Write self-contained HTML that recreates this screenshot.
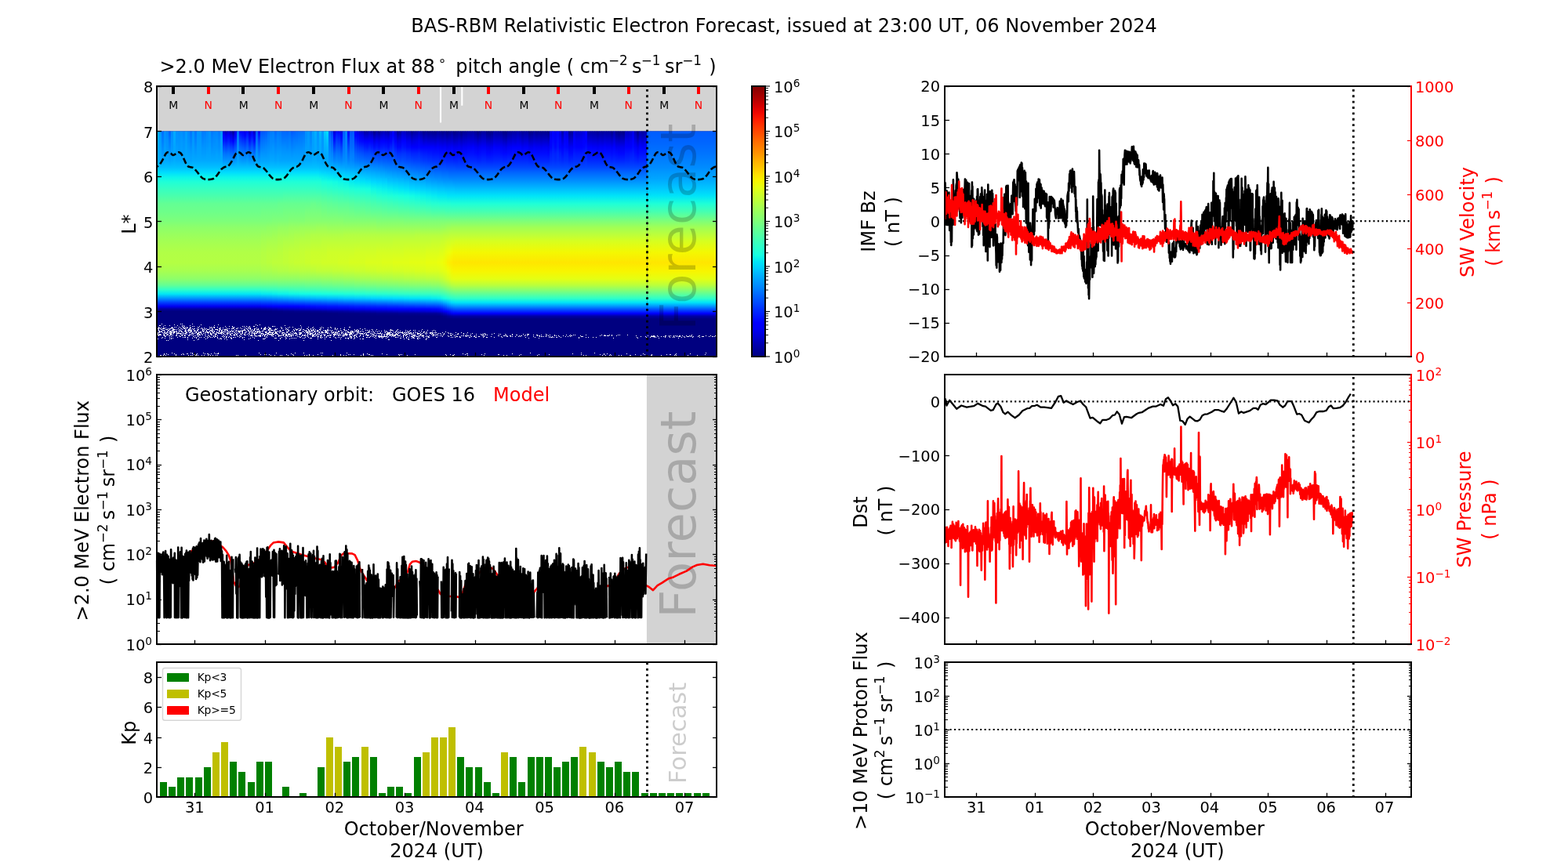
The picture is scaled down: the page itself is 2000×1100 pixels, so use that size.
<!DOCTYPE html>
<html lang="en"><head><meta charset="utf-8">
<title>BAS-RBM Relativistic Electron Forecast</title>
<style>
html,body{margin:0;padding:0;background:#fff;}
body{width:2000px;height:1100px;overflow:hidden;}
svg{display:block;font-family:"DejaVu Sans","Liberation Sans",sans-serif;}
svg path{fill:none;}
svg text{stroke:none;}
</style></head><body>
<svg width="2000" height="1100" viewBox="0 0 2000 1100">
<defs>
<linearGradient id="h0" x2="0" y2="1"><stop offset="0.0043" stop-color="#0cf4eb"/><stop offset="0.0304" stop-color="#1fffd7"/><stop offset="0.0696" stop-color="#36ffc1"/><stop offset="0.1087" stop-color="#49ffad"/><stop offset="0.1522" stop-color="#63ff94"/><stop offset="0.1957" stop-color="#6dff8a"/><stop offset="0.2478" stop-color="#7dff7a"/><stop offset="0.2826" stop-color="#8dff6a"/><stop offset="0.3261" stop-color="#9aff5d"/><stop offset="0.3609" stop-color="#a4ff53"/><stop offset="0.4217" stop-color="#b1ff46"/><stop offset="0.4783" stop-color="#b4ff43"/><stop offset="0.5261" stop-color="#a7ff50"/><stop offset="0.5696" stop-color="#8dff6a"/><stop offset="0.6043" stop-color="#63ff94"/><stop offset="0.6287" stop-color="#30ffc7"/><stop offset="0.6522" stop-color="#02e8f4"/><stop offset="0.677" stop-color="#0094ff"/><stop offset="0.7" stop-color="#0040ff"/><stop offset="0.7217" stop-color="#0000f1"/><stop offset="0.737" stop-color="#00009f"/><stop offset="0.7491" stop-color="#000080"/><stop offset="0.7609" stop-color="#000080"/><stop offset="0.7761" stop-color="#000080"/><stop offset="0.7922" stop-color="#000080"/><stop offset="0.8043" stop-color="#000080"/></linearGradient>
<linearGradient id="h1" x2="0" y2="1"><stop offset="0.0043" stop-color="#0cf4eb"/><stop offset="0.0304" stop-color="#1fffd7"/><stop offset="0.0696" stop-color="#36ffc1"/><stop offset="0.1087" stop-color="#49ffad"/><stop offset="0.1522" stop-color="#63ff94"/><stop offset="0.1957" stop-color="#6dff8a"/><stop offset="0.2478" stop-color="#7dff7a"/><stop offset="0.2826" stop-color="#8dff6a"/><stop offset="0.3261" stop-color="#9aff5d"/><stop offset="0.3609" stop-color="#a4ff53"/><stop offset="0.4217" stop-color="#b1ff46"/><stop offset="0.4783" stop-color="#b4ff43"/><stop offset="0.5261" stop-color="#a7ff50"/><stop offset="0.5696" stop-color="#8dff6a"/><stop offset="0.6043" stop-color="#63ff94"/><stop offset="0.6287" stop-color="#30ffc7"/><stop offset="0.6522" stop-color="#02e8f4"/><stop offset="0.677" stop-color="#0094ff"/><stop offset="0.7" stop-color="#0040ff"/><stop offset="0.7217" stop-color="#0000f1"/><stop offset="0.737" stop-color="#00009f"/><stop offset="0.7491" stop-color="#000080"/><stop offset="0.7609" stop-color="#000080"/><stop offset="0.7761" stop-color="#000080"/><stop offset="0.7922" stop-color="#000080"/><stop offset="0.8043" stop-color="#000080"/></linearGradient>
<linearGradient id="h2" x2="0" y2="1"><stop offset="0.0043" stop-color="#0cf4eb"/><stop offset="0.0304" stop-color="#1fffd7"/><stop offset="0.0696" stop-color="#36ffc1"/><stop offset="0.1087" stop-color="#49ffad"/><stop offset="0.1522" stop-color="#63ff94"/><stop offset="0.1957" stop-color="#6dff8a"/><stop offset="0.2478" stop-color="#7dff7a"/><stop offset="0.2826" stop-color="#8dff6a"/><stop offset="0.3261" stop-color="#9aff5d"/><stop offset="0.3609" stop-color="#a4ff53"/><stop offset="0.4217" stop-color="#b1ff46"/><stop offset="0.4783" stop-color="#b4ff43"/><stop offset="0.5261" stop-color="#a7ff50"/><stop offset="0.5696" stop-color="#8dff6a"/><stop offset="0.6043" stop-color="#63ff94"/><stop offset="0.6287" stop-color="#30ffc7"/><stop offset="0.6522" stop-color="#02e8f4"/><stop offset="0.677" stop-color="#0094ff"/><stop offset="0.7" stop-color="#0040ff"/><stop offset="0.7217" stop-color="#0000f1"/><stop offset="0.737" stop-color="#00009f"/><stop offset="0.7491" stop-color="#000080"/><stop offset="0.7609" stop-color="#000080"/><stop offset="0.7761" stop-color="#000080"/><stop offset="0.7922" stop-color="#000080"/><stop offset="0.8043" stop-color="#000080"/></linearGradient>
<linearGradient id="h3" x2="0" y2="1"><stop offset="0.0043" stop-color="#0cf4eb"/><stop offset="0.0304" stop-color="#1fffd7"/><stop offset="0.0696" stop-color="#36ffc1"/><stop offset="0.1087" stop-color="#49ffad"/><stop offset="0.1522" stop-color="#63ff94"/><stop offset="0.1957" stop-color="#6dff8a"/><stop offset="0.2478" stop-color="#7dff7a"/><stop offset="0.2826" stop-color="#8dff6a"/><stop offset="0.3261" stop-color="#9aff5d"/><stop offset="0.3609" stop-color="#a4ff53"/><stop offset="0.4217" stop-color="#b1ff46"/><stop offset="0.4783" stop-color="#b4ff43"/><stop offset="0.5261" stop-color="#a7ff50"/><stop offset="0.5696" stop-color="#8dff6a"/><stop offset="0.6043" stop-color="#63ff94"/><stop offset="0.6287" stop-color="#30ffc7"/><stop offset="0.6522" stop-color="#02e8f4"/><stop offset="0.677" stop-color="#0094ff"/><stop offset="0.7" stop-color="#0040ff"/><stop offset="0.7217" stop-color="#0000f1"/><stop offset="0.737" stop-color="#00009f"/><stop offset="0.7491" stop-color="#000080"/><stop offset="0.7609" stop-color="#000080"/><stop offset="0.7761" stop-color="#000080"/><stop offset="0.7922" stop-color="#000080"/><stop offset="0.8043" stop-color="#000080"/></linearGradient>
<linearGradient id="h4" x2="0" y2="1"><stop offset="0.0043" stop-color="#0cf4eb"/><stop offset="0.0304" stop-color="#1fffd7"/><stop offset="0.0696" stop-color="#36ffc1"/><stop offset="0.1087" stop-color="#49ffad"/><stop offset="0.1522" stop-color="#63ff94"/><stop offset="0.1957" stop-color="#6dff8a"/><stop offset="0.2478" stop-color="#7dff7a"/><stop offset="0.2826" stop-color="#8dff6a"/><stop offset="0.3261" stop-color="#9aff5d"/><stop offset="0.3609" stop-color="#a4ff53"/><stop offset="0.4217" stop-color="#b1ff46"/><stop offset="0.4783" stop-color="#b4ff43"/><stop offset="0.5261" stop-color="#a7ff50"/><stop offset="0.5696" stop-color="#8dff6a"/><stop offset="0.6043" stop-color="#63ff94"/><stop offset="0.6287" stop-color="#30ffc7"/><stop offset="0.6522" stop-color="#02e8f4"/><stop offset="0.677" stop-color="#0094ff"/><stop offset="0.7" stop-color="#0040ff"/><stop offset="0.7217" stop-color="#0000f1"/><stop offset="0.737" stop-color="#00009f"/><stop offset="0.7491" stop-color="#000080"/><stop offset="0.7609" stop-color="#000080"/><stop offset="0.7761" stop-color="#000080"/><stop offset="0.7922" stop-color="#000080"/><stop offset="0.8043" stop-color="#000080"/></linearGradient>
<linearGradient id="h5" x2="0" y2="1"><stop offset="0.0043" stop-color="#0cf4eb"/><stop offset="0.0304" stop-color="#1fffd7"/><stop offset="0.0696" stop-color="#36ffc1"/><stop offset="0.1087" stop-color="#49ffad"/><stop offset="0.1522" stop-color="#63ff94"/><stop offset="0.1957" stop-color="#6dff8a"/><stop offset="0.2478" stop-color="#7dff7a"/><stop offset="0.2826" stop-color="#8dff6a"/><stop offset="0.3261" stop-color="#9aff5d"/><stop offset="0.3609" stop-color="#a4ff53"/><stop offset="0.4217" stop-color="#b1ff46"/><stop offset="0.4783" stop-color="#b4ff43"/><stop offset="0.5261" stop-color="#a7ff50"/><stop offset="0.5696" stop-color="#8dff6a"/><stop offset="0.6043" stop-color="#63ff94"/><stop offset="0.6287" stop-color="#30ffc7"/><stop offset="0.6522" stop-color="#02e8f4"/><stop offset="0.677" stop-color="#0094ff"/><stop offset="0.7" stop-color="#0040ff"/><stop offset="0.7217" stop-color="#0000f1"/><stop offset="0.737" stop-color="#00009f"/><stop offset="0.7491" stop-color="#000080"/><stop offset="0.7609" stop-color="#000080"/><stop offset="0.7761" stop-color="#000080"/><stop offset="0.7922" stop-color="#000080"/><stop offset="0.8043" stop-color="#000080"/></linearGradient>
<linearGradient id="h6" x2="0" y2="1"><stop offset="0.0043" stop-color="#0cf4eb"/><stop offset="0.0304" stop-color="#1fffd7"/><stop offset="0.0696" stop-color="#36ffc1"/><stop offset="0.1087" stop-color="#49ffad"/><stop offset="0.1522" stop-color="#63ff94"/><stop offset="0.1957" stop-color="#6dff8a"/><stop offset="0.2478" stop-color="#7dff7a"/><stop offset="0.2826" stop-color="#8dff6a"/><stop offset="0.3261" stop-color="#9aff5d"/><stop offset="0.3609" stop-color="#a4ff53"/><stop offset="0.4217" stop-color="#b1ff46"/><stop offset="0.4783" stop-color="#b4ff43"/><stop offset="0.5261" stop-color="#a7ff50"/><stop offset="0.5696" stop-color="#8dff6a"/><stop offset="0.6043" stop-color="#63ff94"/><stop offset="0.6287" stop-color="#30ffc7"/><stop offset="0.6522" stop-color="#02e8f4"/><stop offset="0.677" stop-color="#0094ff"/><stop offset="0.7" stop-color="#0040ff"/><stop offset="0.7217" stop-color="#0000f1"/><stop offset="0.737" stop-color="#00009f"/><stop offset="0.7491" stop-color="#000080"/><stop offset="0.7609" stop-color="#000080"/><stop offset="0.7761" stop-color="#000080"/><stop offset="0.7922" stop-color="#000080"/><stop offset="0.8043" stop-color="#000080"/></linearGradient>
<linearGradient id="h7" x2="0" y2="1"><stop offset="0.0043" stop-color="#0cf4eb"/><stop offset="0.0304" stop-color="#1fffd7"/><stop offset="0.0696" stop-color="#36ffc1"/><stop offset="0.1087" stop-color="#49ffad"/><stop offset="0.1522" stop-color="#63ff94"/><stop offset="0.1957" stop-color="#6dff8a"/><stop offset="0.2478" stop-color="#7dff7a"/><stop offset="0.2826" stop-color="#8dff6a"/><stop offset="0.3261" stop-color="#9aff5d"/><stop offset="0.3609" stop-color="#a4ff53"/><stop offset="0.4217" stop-color="#b1ff46"/><stop offset="0.4783" stop-color="#b4ff43"/><stop offset="0.5261" stop-color="#a7ff50"/><stop offset="0.5696" stop-color="#8dff6a"/><stop offset="0.6043" stop-color="#63ff94"/><stop offset="0.6287" stop-color="#30ffc7"/><stop offset="0.6522" stop-color="#02e8f4"/><stop offset="0.677" stop-color="#0094ff"/><stop offset="0.7" stop-color="#0040ff"/><stop offset="0.7217" stop-color="#0000f1"/><stop offset="0.737" stop-color="#00009f"/><stop offset="0.7491" stop-color="#000080"/><stop offset="0.7609" stop-color="#000080"/><stop offset="0.7761" stop-color="#000080"/><stop offset="0.7922" stop-color="#000080"/><stop offset="0.8043" stop-color="#000080"/></linearGradient>
<linearGradient id="h8" x2="0" y2="1"><stop offset="0.0043" stop-color="#0cf4eb"/><stop offset="0.0304" stop-color="#1fffd7"/><stop offset="0.0696" stop-color="#36ffc1"/><stop offset="0.1087" stop-color="#49ffad"/><stop offset="0.1522" stop-color="#63ff94"/><stop offset="0.1957" stop-color="#6dff8a"/><stop offset="0.2478" stop-color="#7dff7a"/><stop offset="0.2826" stop-color="#8dff6a"/><stop offset="0.3261" stop-color="#9aff5d"/><stop offset="0.3609" stop-color="#a4ff53"/><stop offset="0.4217" stop-color="#b1ff46"/><stop offset="0.4783" stop-color="#b4ff43"/><stop offset="0.5261" stop-color="#a7ff50"/><stop offset="0.5696" stop-color="#8dff6a"/><stop offset="0.6043" stop-color="#63ff94"/><stop offset="0.6287" stop-color="#30ffc7"/><stop offset="0.6522" stop-color="#02e8f4"/><stop offset="0.677" stop-color="#0094ff"/><stop offset="0.7" stop-color="#0040ff"/><stop offset="0.7217" stop-color="#0000f1"/><stop offset="0.737" stop-color="#00009f"/><stop offset="0.7491" stop-color="#000080"/><stop offset="0.7609" stop-color="#000080"/><stop offset="0.7761" stop-color="#000080"/><stop offset="0.7922" stop-color="#000080"/><stop offset="0.8043" stop-color="#000080"/></linearGradient>
<linearGradient id="h9" x2="0" y2="1"><stop offset="0.0043" stop-color="#0cf4eb"/><stop offset="0.0304" stop-color="#1fffd7"/><stop offset="0.0696" stop-color="#36ffc1"/><stop offset="0.1087" stop-color="#49ffad"/><stop offset="0.1522" stop-color="#63ff94"/><stop offset="0.1957" stop-color="#6dff8a"/><stop offset="0.2478" stop-color="#7dff7a"/><stop offset="0.2826" stop-color="#8dff6a"/><stop offset="0.3261" stop-color="#9aff5d"/><stop offset="0.3609" stop-color="#a4ff53"/><stop offset="0.4217" stop-color="#b1ff46"/><stop offset="0.4783" stop-color="#b4ff43"/><stop offset="0.5261" stop-color="#a7ff50"/><stop offset="0.5696" stop-color="#8dff6a"/><stop offset="0.6043" stop-color="#63ff94"/><stop offset="0.6287" stop-color="#30ffc7"/><stop offset="0.6522" stop-color="#02e8f4"/><stop offset="0.677" stop-color="#0094ff"/><stop offset="0.7" stop-color="#0040ff"/><stop offset="0.7217" stop-color="#0000f1"/><stop offset="0.737" stop-color="#00009f"/><stop offset="0.7491" stop-color="#000080"/><stop offset="0.7609" stop-color="#000080"/><stop offset="0.7761" stop-color="#000080"/><stop offset="0.7922" stop-color="#000080"/><stop offset="0.8043" stop-color="#000080"/></linearGradient>
<linearGradient id="h10" x2="0" y2="1"><stop offset="0.0043" stop-color="#0cf4eb"/><stop offset="0.0304" stop-color="#1fffd7"/><stop offset="0.0696" stop-color="#36ffc1"/><stop offset="0.1087" stop-color="#49ffad"/><stop offset="0.1522" stop-color="#63ff94"/><stop offset="0.1957" stop-color="#6dff8a"/><stop offset="0.2478" stop-color="#7dff7a"/><stop offset="0.2826" stop-color="#8dff6a"/><stop offset="0.3261" stop-color="#9aff5d"/><stop offset="0.3609" stop-color="#a4ff53"/><stop offset="0.4217" stop-color="#b1ff46"/><stop offset="0.4783" stop-color="#b4ff43"/><stop offset="0.5261" stop-color="#a7ff50"/><stop offset="0.5696" stop-color="#8dff6a"/><stop offset="0.6043" stop-color="#63ff94"/><stop offset="0.6287" stop-color="#30ffc7"/><stop offset="0.6522" stop-color="#02e8f4"/><stop offset="0.677" stop-color="#0094ff"/><stop offset="0.7" stop-color="#0040ff"/><stop offset="0.7217" stop-color="#0000f1"/><stop offset="0.737" stop-color="#00009f"/><stop offset="0.7491" stop-color="#000080"/><stop offset="0.7609" stop-color="#000080"/><stop offset="0.7761" stop-color="#000080"/><stop offset="0.7922" stop-color="#000080"/><stop offset="0.8043" stop-color="#000080"/></linearGradient>
<linearGradient id="h11" x2="0" y2="1"><stop offset="0.0043" stop-color="#0cf4eb"/><stop offset="0.0304" stop-color="#1fffd7"/><stop offset="0.0696" stop-color="#36ffc1"/><stop offset="0.1087" stop-color="#49ffad"/><stop offset="0.1522" stop-color="#63ff94"/><stop offset="0.1957" stop-color="#6dff8a"/><stop offset="0.2478" stop-color="#7dff7a"/><stop offset="0.2826" stop-color="#8dff6a"/><stop offset="0.3261" stop-color="#9aff5d"/><stop offset="0.3609" stop-color="#a4ff53"/><stop offset="0.4217" stop-color="#b1ff46"/><stop offset="0.4783" stop-color="#b4ff43"/><stop offset="0.5261" stop-color="#a7ff50"/><stop offset="0.5696" stop-color="#8dff6a"/><stop offset="0.6043" stop-color="#63ff94"/><stop offset="0.6287" stop-color="#30ffc7"/><stop offset="0.6522" stop-color="#02e8f4"/><stop offset="0.677" stop-color="#0094ff"/><stop offset="0.7" stop-color="#0040ff"/><stop offset="0.7217" stop-color="#0000f1"/><stop offset="0.737" stop-color="#00009f"/><stop offset="0.7491" stop-color="#000080"/><stop offset="0.7609" stop-color="#000080"/><stop offset="0.7761" stop-color="#000080"/><stop offset="0.7922" stop-color="#000080"/><stop offset="0.8043" stop-color="#000080"/></linearGradient>
<linearGradient id="h12" x2="0" y2="1"><stop offset="0.0043" stop-color="#0cf4eb"/><stop offset="0.0304" stop-color="#1fffd7"/><stop offset="0.0696" stop-color="#36ffc1"/><stop offset="0.1087" stop-color="#49ffad"/><stop offset="0.1522" stop-color="#63ff94"/><stop offset="0.1957" stop-color="#6dff8a"/><stop offset="0.2478" stop-color="#7dff7a"/><stop offset="0.2826" stop-color="#8dff6a"/><stop offset="0.3261" stop-color="#9aff5d"/><stop offset="0.3609" stop-color="#a4ff53"/><stop offset="0.4217" stop-color="#b1ff46"/><stop offset="0.4783" stop-color="#b4ff43"/><stop offset="0.5261" stop-color="#a7ff50"/><stop offset="0.5696" stop-color="#8dff6a"/><stop offset="0.6043" stop-color="#63ff94"/><stop offset="0.6287" stop-color="#30ffc7"/><stop offset="0.6522" stop-color="#02e8f4"/><stop offset="0.677" stop-color="#0094ff"/><stop offset="0.7" stop-color="#0040ff"/><stop offset="0.7217" stop-color="#0000f1"/><stop offset="0.737" stop-color="#00009f"/><stop offset="0.7491" stop-color="#000080"/><stop offset="0.7609" stop-color="#000080"/><stop offset="0.7761" stop-color="#000080"/><stop offset="0.7922" stop-color="#000080"/><stop offset="0.8043" stop-color="#000080"/></linearGradient>
<linearGradient id="h13" x2="0" y2="1"><stop offset="0.0043" stop-color="#0cf4eb"/><stop offset="0.0304" stop-color="#1fffd7"/><stop offset="0.0696" stop-color="#36ffc1"/><stop offset="0.1087" stop-color="#49ffad"/><stop offset="0.1522" stop-color="#63ff94"/><stop offset="0.1957" stop-color="#6dff8a"/><stop offset="0.2478" stop-color="#7dff7a"/><stop offset="0.2826" stop-color="#8dff6a"/><stop offset="0.3261" stop-color="#9aff5d"/><stop offset="0.3609" stop-color="#a4ff53"/><stop offset="0.4217" stop-color="#b1ff46"/><stop offset="0.4783" stop-color="#b4ff43"/><stop offset="0.5261" stop-color="#a7ff50"/><stop offset="0.5696" stop-color="#8dff6a"/><stop offset="0.6043" stop-color="#63ff94"/><stop offset="0.6287" stop-color="#30ffc7"/><stop offset="0.6522" stop-color="#02e8f4"/><stop offset="0.677" stop-color="#0094ff"/><stop offset="0.7" stop-color="#0040ff"/><stop offset="0.7217" stop-color="#0000f1"/><stop offset="0.737" stop-color="#00009f"/><stop offset="0.7491" stop-color="#000080"/><stop offset="0.7609" stop-color="#000080"/><stop offset="0.7761" stop-color="#000080"/><stop offset="0.7922" stop-color="#000080"/><stop offset="0.8043" stop-color="#000080"/></linearGradient>
<linearGradient id="h14" x2="0" y2="1"><stop offset="0.0043" stop-color="#0cf4eb"/><stop offset="0.0304" stop-color="#1fffd7"/><stop offset="0.0696" stop-color="#36ffc1"/><stop offset="0.1087" stop-color="#49ffad"/><stop offset="0.1522" stop-color="#63ff94"/><stop offset="0.1957" stop-color="#6dff8a"/><stop offset="0.2478" stop-color="#7dff7a"/><stop offset="0.2826" stop-color="#8dff6a"/><stop offset="0.3261" stop-color="#9aff5d"/><stop offset="0.3609" stop-color="#a4ff53"/><stop offset="0.4217" stop-color="#b1ff46"/><stop offset="0.4783" stop-color="#b4ff43"/><stop offset="0.5261" stop-color="#a7ff50"/><stop offset="0.5696" stop-color="#8dff6a"/><stop offset="0.6043" stop-color="#63ff94"/><stop offset="0.6287" stop-color="#30ffc7"/><stop offset="0.6522" stop-color="#02e8f4"/><stop offset="0.677" stop-color="#0094ff"/><stop offset="0.7" stop-color="#0040ff"/><stop offset="0.7217" stop-color="#0000f1"/><stop offset="0.737" stop-color="#00009f"/><stop offset="0.7491" stop-color="#000080"/><stop offset="0.7609" stop-color="#000080"/><stop offset="0.7761" stop-color="#000080"/><stop offset="0.7922" stop-color="#000080"/><stop offset="0.8043" stop-color="#000080"/></linearGradient>
<linearGradient id="h15" x2="0" y2="1"><stop offset="0.0043" stop-color="#0cf4eb"/><stop offset="0.0304" stop-color="#1fffd7"/><stop offset="0.0696" stop-color="#36ffc1"/><stop offset="0.1087" stop-color="#49ffad"/><stop offset="0.1522" stop-color="#63ff94"/><stop offset="0.1957" stop-color="#6dff8a"/><stop offset="0.2478" stop-color="#7dff7a"/><stop offset="0.2826" stop-color="#8dff6a"/><stop offset="0.3261" stop-color="#9aff5d"/><stop offset="0.3609" stop-color="#a4ff53"/><stop offset="0.4217" stop-color="#b1ff46"/><stop offset="0.4783" stop-color="#b4ff43"/><stop offset="0.5261" stop-color="#a7ff50"/><stop offset="0.5696" stop-color="#8dff6a"/><stop offset="0.6043" stop-color="#63ff94"/><stop offset="0.6287" stop-color="#30ffc7"/><stop offset="0.6522" stop-color="#02e8f4"/><stop offset="0.677" stop-color="#0094ff"/><stop offset="0.7" stop-color="#0040ff"/><stop offset="0.7217" stop-color="#0000f1"/><stop offset="0.737" stop-color="#00009f"/><stop offset="0.7491" stop-color="#000080"/><stop offset="0.7609" stop-color="#000080"/><stop offset="0.7761" stop-color="#000080"/><stop offset="0.7922" stop-color="#000080"/><stop offset="0.8043" stop-color="#000080"/></linearGradient>
<linearGradient id="h16" x2="0" y2="1"><stop offset="0.0043" stop-color="#0cf4eb"/><stop offset="0.0304" stop-color="#1fffd7"/><stop offset="0.0696" stop-color="#36ffc1"/><stop offset="0.1087" stop-color="#49ffad"/><stop offset="0.1522" stop-color="#63ff94"/><stop offset="0.1957" stop-color="#6dff8a"/><stop offset="0.2478" stop-color="#7dff7a"/><stop offset="0.2826" stop-color="#8dff6a"/><stop offset="0.3261" stop-color="#9aff5d"/><stop offset="0.3609" stop-color="#a4ff53"/><stop offset="0.4217" stop-color="#b1ff46"/><stop offset="0.4783" stop-color="#b4ff43"/><stop offset="0.5261" stop-color="#a7ff50"/><stop offset="0.5696" stop-color="#8dff6a"/><stop offset="0.6043" stop-color="#63ff94"/><stop offset="0.6287" stop-color="#30ffc7"/><stop offset="0.6522" stop-color="#02e8f4"/><stop offset="0.677" stop-color="#0094ff"/><stop offset="0.7" stop-color="#0040ff"/><stop offset="0.7217" stop-color="#0000f1"/><stop offset="0.737" stop-color="#00009f"/><stop offset="0.7491" stop-color="#000080"/><stop offset="0.7609" stop-color="#000080"/><stop offset="0.7761" stop-color="#000080"/><stop offset="0.7922" stop-color="#000080"/><stop offset="0.8043" stop-color="#000080"/></linearGradient>
<linearGradient id="h17" x2="0" y2="1"><stop offset="0.0043" stop-color="#0cf4eb"/><stop offset="0.0304" stop-color="#1fffd7"/><stop offset="0.0696" stop-color="#36ffc1"/><stop offset="0.1087" stop-color="#49ffad"/><stop offset="0.1522" stop-color="#63ff94"/><stop offset="0.1957" stop-color="#6dff8a"/><stop offset="0.2478" stop-color="#7dff7a"/><stop offset="0.2826" stop-color="#8dff6a"/><stop offset="0.3261" stop-color="#9aff5d"/><stop offset="0.3609" stop-color="#a4ff53"/><stop offset="0.4217" stop-color="#b1ff46"/><stop offset="0.4783" stop-color="#b4ff43"/><stop offset="0.5261" stop-color="#a7ff50"/><stop offset="0.5696" stop-color="#8dff6a"/><stop offset="0.6043" stop-color="#63ff94"/><stop offset="0.6287" stop-color="#30ffc7"/><stop offset="0.6522" stop-color="#02e8f4"/><stop offset="0.677" stop-color="#0094ff"/><stop offset="0.7" stop-color="#0040ff"/><stop offset="0.7217" stop-color="#0000f1"/><stop offset="0.737" stop-color="#00009f"/><stop offset="0.7491" stop-color="#000080"/><stop offset="0.7609" stop-color="#000080"/><stop offset="0.7761" stop-color="#000080"/><stop offset="0.7922" stop-color="#000080"/><stop offset="0.8043" stop-color="#000080"/></linearGradient>
<linearGradient id="h18" x2="0" y2="1"><stop offset="0.0043" stop-color="#0cf4eb"/><stop offset="0.0304" stop-color="#1fffd7"/><stop offset="0.0696" stop-color="#36ffc1"/><stop offset="0.1087" stop-color="#49ffad"/><stop offset="0.1522" stop-color="#63ff94"/><stop offset="0.1957" stop-color="#6dff8a"/><stop offset="0.2478" stop-color="#7dff7a"/><stop offset="0.2826" stop-color="#8dff6a"/><stop offset="0.3261" stop-color="#9aff5d"/><stop offset="0.3609" stop-color="#a4ff53"/><stop offset="0.4217" stop-color="#b1ff46"/><stop offset="0.4783" stop-color="#b4ff43"/><stop offset="0.5261" stop-color="#a7ff50"/><stop offset="0.5696" stop-color="#8dff6a"/><stop offset="0.6043" stop-color="#63ff94"/><stop offset="0.6287" stop-color="#30ffc7"/><stop offset="0.6522" stop-color="#02e8f4"/><stop offset="0.677" stop-color="#0094ff"/><stop offset="0.7" stop-color="#0040ff"/><stop offset="0.7217" stop-color="#0000f1"/><stop offset="0.737" stop-color="#00009f"/><stop offset="0.7491" stop-color="#000080"/><stop offset="0.7609" stop-color="#000080"/><stop offset="0.7761" stop-color="#000080"/><stop offset="0.7922" stop-color="#000080"/><stop offset="0.8043" stop-color="#000080"/></linearGradient>
<linearGradient id="h19" x2="0" y2="1"><stop offset="0.0043" stop-color="#0cf4eb"/><stop offset="0.0304" stop-color="#1fffd7"/><stop offset="0.0696" stop-color="#36ffc1"/><stop offset="0.1087" stop-color="#49ffad"/><stop offset="0.1522" stop-color="#63ff94"/><stop offset="0.1957" stop-color="#70ff87"/><stop offset="0.2478" stop-color="#7dff7a"/><stop offset="0.2826" stop-color="#8dff6a"/><stop offset="0.3261" stop-color="#9dff5a"/><stop offset="0.3609" stop-color="#a7ff50"/><stop offset="0.4217" stop-color="#b4ff43"/><stop offset="0.4783" stop-color="#b7ff40"/><stop offset="0.5261" stop-color="#aaff4d"/><stop offset="0.5696" stop-color="#90ff66"/><stop offset="0.6043" stop-color="#63ff94"/><stop offset="0.6287" stop-color="#33ffc4"/><stop offset="0.6522" stop-color="#06ecf1"/><stop offset="0.677" stop-color="#0094ff"/><stop offset="0.7" stop-color="#04f"/><stop offset="0.7217" stop-color="#0000f6"/><stop offset="0.737" stop-color="#0000a4"/><stop offset="0.7491" stop-color="#000080"/><stop offset="0.7609" stop-color="#000080"/><stop offset="0.7761" stop-color="#000080"/><stop offset="0.7922" stop-color="#000080"/><stop offset="0.8043" stop-color="#000080"/></linearGradient>
<linearGradient id="h20" x2="0" y2="1"><stop offset="0.0043" stop-color="#0cf4eb"/><stop offset="0.0304" stop-color="#1fffd7"/><stop offset="0.0696" stop-color="#36ffc1"/><stop offset="0.1087" stop-color="#49ffad"/><stop offset="0.1522" stop-color="#63ff94"/><stop offset="0.1957" stop-color="#70ff87"/><stop offset="0.2478" stop-color="#7dff7a"/><stop offset="0.2826" stop-color="#90ff66"/><stop offset="0.3261" stop-color="#9dff5a"/><stop offset="0.3609" stop-color="#aaff4d"/><stop offset="0.4217" stop-color="#b7ff40"/><stop offset="0.4783" stop-color="#baff3c"/><stop offset="0.5261" stop-color="#aaff4d"/><stop offset="0.5696" stop-color="#90ff66"/><stop offset="0.6043" stop-color="#63ff94"/><stop offset="0.6287" stop-color="#36ffc1"/><stop offset="0.6522" stop-color="#06ecf1"/><stop offset="0.677" stop-color="#0098ff"/><stop offset="0.7" stop-color="#04f"/><stop offset="0.7217" stop-color="#0000fa"/><stop offset="0.737" stop-color="#0000a8"/><stop offset="0.7491" stop-color="#000080"/><stop offset="0.7609" stop-color="#000080"/><stop offset="0.7761" stop-color="#000080"/><stop offset="0.7922" stop-color="#000080"/><stop offset="0.8043" stop-color="#000080"/></linearGradient>
<linearGradient id="h21" x2="0" y2="1"><stop offset="0.0043" stop-color="#0cf4eb"/><stop offset="0.0304" stop-color="#1fffd7"/><stop offset="0.0696" stop-color="#36ffc1"/><stop offset="0.1087" stop-color="#49ffad"/><stop offset="0.1522" stop-color="#63ff94"/><stop offset="0.1957" stop-color="#70ff87"/><stop offset="0.2478" stop-color="#80ff77"/><stop offset="0.2826" stop-color="#90ff66"/><stop offset="0.3261" stop-color="#a0ff56"/><stop offset="0.3609" stop-color="#aaff4d"/><stop offset="0.4217" stop-color="#b7ff40"/><stop offset="0.4783" stop-color="#beff39"/><stop offset="0.5261" stop-color="#adff49"/><stop offset="0.5696" stop-color="#90ff66"/><stop offset="0.6043" stop-color="#63ff94"/><stop offset="0.6287" stop-color="#36ffc1"/><stop offset="0.6522" stop-color="#09f0ee"/><stop offset="0.677" stop-color="#009cff"/><stop offset="0.7" stop-color="#0048ff"/><stop offset="0.7217" stop-color="#00f"/><stop offset="0.737" stop-color="#0000ad"/><stop offset="0.7491" stop-color="#000084"/><stop offset="0.7609" stop-color="#000080"/><stop offset="0.7761" stop-color="#000080"/><stop offset="0.7922" stop-color="#000080"/><stop offset="0.8043" stop-color="#000080"/></linearGradient>
<linearGradient id="h22" x2="0" y2="1"><stop offset="0.0043" stop-color="#0cf4eb"/><stop offset="0.0304" stop-color="#1fffd7"/><stop offset="0.0696" stop-color="#36ffc1"/><stop offset="0.1087" stop-color="#49ffad"/><stop offset="0.1522" stop-color="#66ff90"/><stop offset="0.1957" stop-color="#70ff87"/><stop offset="0.2478" stop-color="#80ff77"/><stop offset="0.2826" stop-color="#94ff63"/><stop offset="0.3261" stop-color="#a4ff53"/><stop offset="0.3609" stop-color="#adff49"/><stop offset="0.4217" stop-color="#baff3c"/><stop offset="0.4783" stop-color="#beff39"/><stop offset="0.5261" stop-color="#b1ff46"/><stop offset="0.5696" stop-color="#90ff66"/><stop offset="0.6043" stop-color="#66ff90"/><stop offset="0.6287" stop-color="#39ffbe"/><stop offset="0.6522" stop-color="#0cf4eb"/><stop offset="0.677" stop-color="#00a0ff"/><stop offset="0.7" stop-color="#004cff"/><stop offset="0.7217" stop-color="#00f"/><stop offset="0.737" stop-color="#0000b6"/><stop offset="0.7491" stop-color="#000084"/><stop offset="0.7609" stop-color="#000080"/><stop offset="0.7761" stop-color="#000080"/><stop offset="0.7922" stop-color="#000080"/><stop offset="0.8043" stop-color="#000080"/></linearGradient>
<linearGradient id="h23" x2="0" y2="1"><stop offset="0.0043" stop-color="#0cf4eb"/><stop offset="0.0304" stop-color="#1fffd7"/><stop offset="0.0696" stop-color="#36ffc1"/><stop offset="0.1087" stop-color="#4dffaa"/><stop offset="0.1522" stop-color="#66ff90"/><stop offset="0.1957" stop-color="#73ff83"/><stop offset="0.2478" stop-color="#80ff77"/><stop offset="0.2826" stop-color="#94ff63"/><stop offset="0.3261" stop-color="#a4ff53"/><stop offset="0.3609" stop-color="#b1ff46"/><stop offset="0.4217" stop-color="#beff39"/><stop offset="0.4783" stop-color="#c1ff36"/><stop offset="0.5261" stop-color="#b1ff46"/><stop offset="0.5696" stop-color="#90ff66"/><stop offset="0.6043" stop-color="#66ff90"/><stop offset="0.6287" stop-color="#39ffbe"/><stop offset="0.6522" stop-color="#0cf4eb"/><stop offset="0.677" stop-color="#00a4ff"/><stop offset="0.7" stop-color="#004cff"/><stop offset="0.7217" stop-color="#00f"/><stop offset="0.737" stop-color="#00b"/><stop offset="0.7491" stop-color="#000089"/><stop offset="0.7609" stop-color="#000080"/><stop offset="0.7761" stop-color="#000080"/><stop offset="0.7922" stop-color="#000080"/><stop offset="0.8043" stop-color="#000080"/></linearGradient>
<linearGradient id="h24" x2="0" y2="1"><stop offset="0.0043" stop-color="#0cf4eb"/><stop offset="0.0304" stop-color="#1fffd7"/><stop offset="0.0696" stop-color="#36ffc1"/><stop offset="0.1087" stop-color="#4dffaa"/><stop offset="0.1522" stop-color="#66ff90"/><stop offset="0.1957" stop-color="#73ff83"/><stop offset="0.2478" stop-color="#83ff73"/><stop offset="0.2826" stop-color="#97ff60"/><stop offset="0.3261" stop-color="#a7ff50"/><stop offset="0.3609" stop-color="#b1ff46"/><stop offset="0.4217" stop-color="#c1ff36"/><stop offset="0.4783" stop-color="#c4ff33"/><stop offset="0.5261" stop-color="#b4ff43"/><stop offset="0.5696" stop-color="#90ff66"/><stop offset="0.6043" stop-color="#66ff90"/><stop offset="0.6287" stop-color="#3cffba"/><stop offset="0.6522" stop-color="#0ff8e7"/><stop offset="0.677" stop-color="#00a8ff"/><stop offset="0.7" stop-color="#0050ff"/><stop offset="0.7217" stop-color="#00f"/><stop offset="0.737" stop-color="#0000bf"/><stop offset="0.7491" stop-color="#000089"/><stop offset="0.7609" stop-color="#000080"/><stop offset="0.7761" stop-color="#000080"/><stop offset="0.7922" stop-color="#000080"/><stop offset="0.8043" stop-color="#000080"/></linearGradient>
<linearGradient id="h25" x2="0" y2="1"><stop offset="0.0043" stop-color="#0cf4eb"/><stop offset="0.0304" stop-color="#1fffd7"/><stop offset="0.0696" stop-color="#36ffc1"/><stop offset="0.1087" stop-color="#4dffaa"/><stop offset="0.1522" stop-color="#66ff90"/><stop offset="0.1957" stop-color="#73ff83"/><stop offset="0.2478" stop-color="#83ff73"/><stop offset="0.2826" stop-color="#97ff60"/><stop offset="0.3261" stop-color="#aaff4d"/><stop offset="0.3609" stop-color="#b4ff43"/><stop offset="0.4217" stop-color="#c1ff36"/><stop offset="0.4783" stop-color="#c7ff30"/><stop offset="0.5261" stop-color="#b4ff43"/><stop offset="0.5696" stop-color="#90ff66"/><stop offset="0.6043" stop-color="#66ff90"/><stop offset="0.6287" stop-color="#40ffb7"/><stop offset="0.6522" stop-color="#0ff8e7"/><stop offset="0.677" stop-color="#00acff"/><stop offset="0.7" stop-color="#0054ff"/><stop offset="0.7217" stop-color="#00f"/><stop offset="0.737" stop-color="#0000c4"/><stop offset="0.7491" stop-color="#00008d"/><stop offset="0.7609" stop-color="#000080"/><stop offset="0.7761" stop-color="#000080"/><stop offset="0.7922" stop-color="#000080"/><stop offset="0.8043" stop-color="#000080"/></linearGradient>
<linearGradient id="h26" x2="0" y2="1"><stop offset="0.0043" stop-color="#0cf4eb"/><stop offset="0.0304" stop-color="#1fffd7"/><stop offset="0.0696" stop-color="#36ffc1"/><stop offset="0.1087" stop-color="#4dffaa"/><stop offset="0.1522" stop-color="#66ff90"/><stop offset="0.1957" stop-color="#73ff83"/><stop offset="0.2478" stop-color="#83ff73"/><stop offset="0.2826" stop-color="#9aff5d"/><stop offset="0.3261" stop-color="#aaff4d"/><stop offset="0.3609" stop-color="#b7ff40"/><stop offset="0.4217" stop-color="#c4ff33"/><stop offset="0.4783" stop-color="#c7ff30"/><stop offset="0.5261" stop-color="#b7ff40"/><stop offset="0.5696" stop-color="#94ff63"/><stop offset="0.6043" stop-color="#66ff90"/><stop offset="0.6287" stop-color="#40ffb7"/><stop offset="0.6522" stop-color="#13fce4"/><stop offset="0.677" stop-color="#00b0ff"/><stop offset="0.7" stop-color="#0054ff"/><stop offset="0.7217" stop-color="#0004ff"/><stop offset="0.737" stop-color="#0000c8"/><stop offset="0.7491" stop-color="#00008d"/><stop offset="0.7609" stop-color="#000080"/><stop offset="0.7761" stop-color="#000080"/><stop offset="0.7922" stop-color="#000080"/><stop offset="0.8043" stop-color="#000080"/></linearGradient>
<linearGradient id="h27" x2="0" y2="1"><stop offset="0.0043" stop-color="#0cf4eb"/><stop offset="0.0304" stop-color="#1fffd7"/><stop offset="0.0696" stop-color="#36ffc1"/><stop offset="0.1087" stop-color="#4dffaa"/><stop offset="0.1522" stop-color="#66ff90"/><stop offset="0.1957" stop-color="#77ff80"/><stop offset="0.2478" stop-color="#87ff70"/><stop offset="0.2826" stop-color="#9aff5d"/><stop offset="0.3261" stop-color="#adff49"/><stop offset="0.3609" stop-color="#b7ff40"/><stop offset="0.4217" stop-color="#c7ff30"/><stop offset="0.4783" stop-color="#caff2c"/><stop offset="0.5261" stop-color="#b7ff40"/><stop offset="0.5696" stop-color="#94ff63"/><stop offset="0.6043" stop-color="#6aff8d"/><stop offset="0.6287" stop-color="#43ffb4"/><stop offset="0.6522" stop-color="#13fce4"/><stop offset="0.677" stop-color="#00b4ff"/><stop offset="0.7" stop-color="#0058ff"/><stop offset="0.7217" stop-color="#0008ff"/><stop offset="0.737" stop-color="#0000cd"/><stop offset="0.7491" stop-color="#00008d"/><stop offset="0.7609" stop-color="#000080"/><stop offset="0.7761" stop-color="#000080"/><stop offset="0.7922" stop-color="#000080"/><stop offset="0.8043" stop-color="#000080"/></linearGradient>
<linearGradient id="h28" x2="0" y2="1"><stop offset="0.0043" stop-color="#0cf4eb"/><stop offset="0.0304" stop-color="#1fffd7"/><stop offset="0.0696" stop-color="#36ffc1"/><stop offset="0.1087" stop-color="#4dffaa"/><stop offset="0.1522" stop-color="#6aff8d"/><stop offset="0.1957" stop-color="#77ff80"/><stop offset="0.2478" stop-color="#87ff70"/><stop offset="0.2826" stop-color="#9aff5d"/><stop offset="0.3261" stop-color="#b1ff46"/><stop offset="0.3609" stop-color="#baff3c"/><stop offset="0.4217" stop-color="#caff2c"/><stop offset="0.4783" stop-color="#ceff29"/><stop offset="0.5261" stop-color="#baff3c"/><stop offset="0.5696" stop-color="#94ff63"/><stop offset="0.6043" stop-color="#6aff8d"/><stop offset="0.6287" stop-color="#43ffb4"/><stop offset="0.6522" stop-color="#16ffe1"/><stop offset="0.677" stop-color="#00b8ff"/><stop offset="0.7" stop-color="#005cff"/><stop offset="0.7217" stop-color="#000cff"/><stop offset="0.737" stop-color="#0000d1"/><stop offset="0.7491" stop-color="#000092"/><stop offset="0.7609" stop-color="#000080"/><stop offset="0.7761" stop-color="#000080"/><stop offset="0.7922" stop-color="#000080"/><stop offset="0.8043" stop-color="#000080"/></linearGradient>
<linearGradient id="h29" x2="0" y2="1"><stop offset="0.0043" stop-color="#0cf4eb"/><stop offset="0.0304" stop-color="#1fffd7"/><stop offset="0.0696" stop-color="#33ffc4"/><stop offset="0.1087" stop-color="#4dffaa"/><stop offset="0.1522" stop-color="#66ff90"/><stop offset="0.1957" stop-color="#77ff80"/><stop offset="0.2478" stop-color="#87ff70"/><stop offset="0.2826" stop-color="#9dff5a"/><stop offset="0.3261" stop-color="#b1ff46"/><stop offset="0.3609" stop-color="#baff3c"/><stop offset="0.4217" stop-color="#caff2c"/><stop offset="0.4783" stop-color="#ceff29"/><stop offset="0.5261" stop-color="#beff39"/><stop offset="0.5696" stop-color="#94ff63"/><stop offset="0.6043" stop-color="#6aff8d"/><stop offset="0.6287" stop-color="#46ffb1"/><stop offset="0.6522" stop-color="#16ffe1"/><stop offset="0.677" stop-color="#00bcff"/><stop offset="0.7" stop-color="#005cff"/><stop offset="0.7217" stop-color="#0010ff"/><stop offset="0.737" stop-color="#0000d6"/><stop offset="0.7491" stop-color="#000092"/><stop offset="0.7609" stop-color="#000080"/><stop offset="0.7761" stop-color="#000080"/><stop offset="0.7922" stop-color="#000080"/><stop offset="0.8043" stop-color="#000080"/></linearGradient>
<linearGradient id="h30" x2="0" y2="1"><stop offset="0.0043" stop-color="#06ecf1"/><stop offset="0.0304" stop-color="#19ffde"/><stop offset="0.0696" stop-color="#30ffc7"/><stop offset="0.1087" stop-color="#49ffad"/><stop offset="0.1522" stop-color="#63ff94"/><stop offset="0.1957" stop-color="#73ff83"/><stop offset="0.2478" stop-color="#87ff70"/><stop offset="0.2826" stop-color="#9dff5a"/><stop offset="0.3261" stop-color="#b1ff46"/><stop offset="0.3609" stop-color="#beff39"/><stop offset="0.4217" stop-color="#caff2c"/><stop offset="0.4783" stop-color="#d1ff26"/><stop offset="0.5261" stop-color="#beff39"/><stop offset="0.5696" stop-color="#97ff60"/><stop offset="0.6043" stop-color="#6dff8a"/><stop offset="0.6287" stop-color="#46ffb1"/><stop offset="0.6522" stop-color="#19ffde"/><stop offset="0.677" stop-color="#00bcff"/><stop offset="0.7" stop-color="#0060ff"/><stop offset="0.7217" stop-color="#0010ff"/><stop offset="0.737" stop-color="#0000da"/><stop offset="0.7491" stop-color="#000096"/><stop offset="0.7609" stop-color="#000080"/><stop offset="0.7761" stop-color="#000080"/><stop offset="0.7922" stop-color="#000080"/><stop offset="0.8043" stop-color="#000080"/></linearGradient>
<linearGradient id="h31" x2="0" y2="1"><stop offset="0.0043" stop-color="#02e8f4"/><stop offset="0.0304" stop-color="#16ffe1"/><stop offset="0.0696" stop-color="#2cffca"/><stop offset="0.1087" stop-color="#46ffb1"/><stop offset="0.1522" stop-color="#60ff97"/><stop offset="0.1957" stop-color="#70ff87"/><stop offset="0.2478" stop-color="#87ff70"/><stop offset="0.2826" stop-color="#9aff5d"/><stop offset="0.3261" stop-color="#b1ff46"/><stop offset="0.3609" stop-color="#beff39"/><stop offset="0.4217" stop-color="#ceff29"/><stop offset="0.4783" stop-color="#d1ff26"/><stop offset="0.5261" stop-color="#beff39"/><stop offset="0.5696" stop-color="#97ff60"/><stop offset="0.6043" stop-color="#6dff8a"/><stop offset="0.6287" stop-color="#49ffad"/><stop offset="0.6522" stop-color="#19ffde"/><stop offset="0.677" stop-color="#00c0ff"/><stop offset="0.7" stop-color="#0064ff"/><stop offset="0.7217" stop-color="#0014ff"/><stop offset="0.737" stop-color="#0000df"/><stop offset="0.7491" stop-color="#00009b"/><stop offset="0.7609" stop-color="#000080"/><stop offset="0.7761" stop-color="#000080"/><stop offset="0.7922" stop-color="#000080"/><stop offset="0.8043" stop-color="#000080"/></linearGradient>
<linearGradient id="h32" x2="0" y2="1"><stop offset="0.0043" stop-color="#00e4f8"/><stop offset="0.0304" stop-color="#13fce4"/><stop offset="0.0696" stop-color="#29ffce"/><stop offset="0.1087" stop-color="#43ffb4"/><stop offset="0.1522" stop-color="#5dff9a"/><stop offset="0.1957" stop-color="#70ff87"/><stop offset="0.2478" stop-color="#87ff70"/><stop offset="0.2826" stop-color="#9aff5d"/><stop offset="0.3261" stop-color="#b1ff46"/><stop offset="0.3609" stop-color="#beff39"/><stop offset="0.4217" stop-color="#ceff29"/><stop offset="0.4783" stop-color="#d1ff26"/><stop offset="0.5261" stop-color="#c1ff36"/><stop offset="0.5696" stop-color="#9aff5d"/><stop offset="0.6043" stop-color="#70ff87"/><stop offset="0.6287" stop-color="#49ffad"/><stop offset="0.6522" stop-color="#1cffdb"/><stop offset="0.677" stop-color="#00c0ff"/><stop offset="0.7" stop-color="#0064ff"/><stop offset="0.7217" stop-color="#0014ff"/><stop offset="0.737" stop-color="#0000df"/><stop offset="0.7491" stop-color="#00009f"/><stop offset="0.7609" stop-color="#000080"/><stop offset="0.7761" stop-color="#000080"/><stop offset="0.7922" stop-color="#000080"/><stop offset="0.8043" stop-color="#000080"/></linearGradient>
<linearGradient id="h33" x2="0" y2="1"><stop offset="0.0043" stop-color="#00e0fb"/><stop offset="0.0304" stop-color="#0ff8e7"/><stop offset="0.0696" stop-color="#26ffd1"/><stop offset="0.1087" stop-color="#40ffb7"/><stop offset="0.1522" stop-color="#5aff9d"/><stop offset="0.1957" stop-color="#6dff8a"/><stop offset="0.2478" stop-color="#87ff70"/><stop offset="0.2826" stop-color="#9aff5d"/><stop offset="0.3261" stop-color="#b1ff46"/><stop offset="0.3609" stop-color="#beff39"/><stop offset="0.4217" stop-color="#ceff29"/><stop offset="0.4783" stop-color="#d4ff23"/><stop offset="0.5261" stop-color="#c1ff36"/><stop offset="0.5696" stop-color="#9aff5d"/><stop offset="0.6043" stop-color="#70ff87"/><stop offset="0.6287" stop-color="#4dffaa"/><stop offset="0.6522" stop-color="#1cffdb"/><stop offset="0.677" stop-color="#00c4ff"/><stop offset="0.7" stop-color="#0068ff"/><stop offset="0.7217" stop-color="#0018ff"/><stop offset="0.737" stop-color="#0000e3"/><stop offset="0.7491" stop-color="#00009f"/><stop offset="0.7609" stop-color="#000084"/><stop offset="0.7761" stop-color="#000080"/><stop offset="0.7922" stop-color="#000080"/><stop offset="0.8043" stop-color="#000080"/></linearGradient>
<linearGradient id="h34" x2="0" y2="1"><stop offset="0.0043" stop-color="#00d8ff"/><stop offset="0.0304" stop-color="#0cf4eb"/><stop offset="0.0696" stop-color="#23ffd4"/><stop offset="0.1087" stop-color="#3cffba"/><stop offset="0.1522" stop-color="#5aff9d"/><stop offset="0.1957" stop-color="#6dff8a"/><stop offset="0.2478" stop-color="#83ff73"/><stop offset="0.2826" stop-color="#9aff5d"/><stop offset="0.3261" stop-color="#b4ff43"/><stop offset="0.3609" stop-color="#beff39"/><stop offset="0.4217" stop-color="#ceff29"/><stop offset="0.4783" stop-color="#d4ff23"/><stop offset="0.5261" stop-color="#c4ff33"/><stop offset="0.5696" stop-color="#9dff5a"/><stop offset="0.6043" stop-color="#73ff83"/><stop offset="0.6287" stop-color="#4dffaa"/><stop offset="0.6522" stop-color="#1fffd7"/><stop offset="0.677" stop-color="#00c8ff"/><stop offset="0.7" stop-color="#006cff"/><stop offset="0.7217" stop-color="#0018ff"/><stop offset="0.737" stop-color="#0000e3"/><stop offset="0.7491" stop-color="#0000a4"/><stop offset="0.7609" stop-color="#000084"/><stop offset="0.7761" stop-color="#000080"/><stop offset="0.7922" stop-color="#000080"/><stop offset="0.8043" stop-color="#000080"/></linearGradient>
<linearGradient id="h35" x2="0" y2="1"><stop offset="0.0043" stop-color="#00d4ff"/><stop offset="0.0304" stop-color="#06ecf1"/><stop offset="0.0696" stop-color="#1fffd7"/><stop offset="0.1087" stop-color="#39ffbe"/><stop offset="0.1522" stop-color="#56ffa0"/><stop offset="0.1957" stop-color="#6aff8d"/><stop offset="0.2478" stop-color="#83ff73"/><stop offset="0.2826" stop-color="#9aff5d"/><stop offset="0.3261" stop-color="#b4ff43"/><stop offset="0.3609" stop-color="#beff39"/><stop offset="0.4217" stop-color="#ceff29"/><stop offset="0.4783" stop-color="#d7ff1f"/><stop offset="0.5261" stop-color="#c4ff33"/><stop offset="0.5696" stop-color="#9dff5a"/><stop offset="0.6043" stop-color="#73ff83"/><stop offset="0.6287" stop-color="#4dffaa"/><stop offset="0.6522" stop-color="#1fffd7"/><stop offset="0.677" stop-color="#00c8ff"/><stop offset="0.7" stop-color="#006cff"/><stop offset="0.7217" stop-color="#001cff"/><stop offset="0.737" stop-color="#0000e8"/><stop offset="0.7491" stop-color="#0000a8"/><stop offset="0.7609" stop-color="#000084"/><stop offset="0.7761" stop-color="#000080"/><stop offset="0.7922" stop-color="#000080"/><stop offset="0.8043" stop-color="#000080"/></linearGradient>
<linearGradient id="h36" x2="0" y2="1"><stop offset="0.0043" stop-color="#00d0ff"/><stop offset="0.0304" stop-color="#02e8f4"/><stop offset="0.0696" stop-color="#1cffdb"/><stop offset="0.1087" stop-color="#36ffc1"/><stop offset="0.1522" stop-color="#53ffa4"/><stop offset="0.1957" stop-color="#66ff90"/><stop offset="0.2478" stop-color="#83ff73"/><stop offset="0.2826" stop-color="#9aff5d"/><stop offset="0.3261" stop-color="#b4ff43"/><stop offset="0.3609" stop-color="#beff39"/><stop offset="0.4217" stop-color="#d1ff26"/><stop offset="0.4783" stop-color="#d7ff1f"/><stop offset="0.5261" stop-color="#c7ff30"/><stop offset="0.5696" stop-color="#a0ff56"/><stop offset="0.6043" stop-color="#77ff80"/><stop offset="0.6287" stop-color="#50ffa7"/><stop offset="0.6522" stop-color="#23ffd4"/><stop offset="0.677" stop-color="#0cf"/><stop offset="0.7" stop-color="#0070ff"/><stop offset="0.7217" stop-color="#0020ff"/><stop offset="0.737" stop-color="#0000ed"/><stop offset="0.7491" stop-color="#0000ad"/><stop offset="0.7609" stop-color="#000084"/><stop offset="0.7761" stop-color="#000080"/><stop offset="0.7922" stop-color="#000080"/><stop offset="0.8043" stop-color="#000080"/></linearGradient>
<linearGradient id="h37" x2="0" y2="1"><stop offset="0.0043" stop-color="#0cf"/><stop offset="0.0304" stop-color="#00e4f8"/><stop offset="0.0696" stop-color="#19ffde"/><stop offset="0.1087" stop-color="#33ffc4"/><stop offset="0.1522" stop-color="#50ffa7"/><stop offset="0.1957" stop-color="#66ff90"/><stop offset="0.2478" stop-color="#83ff73"/><stop offset="0.2826" stop-color="#9aff5d"/><stop offset="0.3261" stop-color="#b4ff43"/><stop offset="0.3609" stop-color="#c1ff36"/><stop offset="0.4217" stop-color="#d1ff26"/><stop offset="0.4783" stop-color="#d7ff1f"/><stop offset="0.5261" stop-color="#c7ff30"/><stop offset="0.5696" stop-color="#a4ff53"/><stop offset="0.6043" stop-color="#77ff80"/><stop offset="0.6287" stop-color="#50ffa7"/><stop offset="0.6522" stop-color="#23ffd4"/><stop offset="0.677" stop-color="#0cf"/><stop offset="0.7" stop-color="#0074ff"/><stop offset="0.7217" stop-color="#0020ff"/><stop offset="0.737" stop-color="#0000ed"/><stop offset="0.7491" stop-color="#0000ad"/><stop offset="0.7609" stop-color="#000089"/><stop offset="0.7761" stop-color="#000080"/><stop offset="0.7922" stop-color="#000080"/><stop offset="0.8043" stop-color="#000080"/></linearGradient>
<linearGradient id="h38" x2="0" y2="1"><stop offset="0.0043" stop-color="#00c4ff"/><stop offset="0.0304" stop-color="#00e0fb"/><stop offset="0.0696" stop-color="#16ffe1"/><stop offset="0.1087" stop-color="#30ffc7"/><stop offset="0.1522" stop-color="#4dffaa"/><stop offset="0.1957" stop-color="#63ff94"/><stop offset="0.2478" stop-color="#83ff73"/><stop offset="0.2826" stop-color="#9aff5d"/><stop offset="0.3261" stop-color="#b4ff43"/><stop offset="0.3609" stop-color="#c1ff36"/><stop offset="0.4217" stop-color="#d1ff26"/><stop offset="0.4783" stop-color="#dbff1c"/><stop offset="0.5261" stop-color="#caff2c"/><stop offset="0.5696" stop-color="#a4ff53"/><stop offset="0.6043" stop-color="#7aff7d"/><stop offset="0.6287" stop-color="#53ffa4"/><stop offset="0.6522" stop-color="#26ffd1"/><stop offset="0.677" stop-color="#00d0ff"/><stop offset="0.7" stop-color="#0074ff"/><stop offset="0.7217" stop-color="#0024ff"/><stop offset="0.737" stop-color="#0000f1"/><stop offset="0.7491" stop-color="#0000b2"/><stop offset="0.7609" stop-color="#000089"/><stop offset="0.7761" stop-color="#000080"/><stop offset="0.7922" stop-color="#000080"/><stop offset="0.8043" stop-color="#000080"/></linearGradient>
<linearGradient id="h39" x2="0" y2="1"><stop offset="0.0043" stop-color="#00c0ff"/><stop offset="0.0304" stop-color="#00d8ff"/><stop offset="0.0696" stop-color="#0ff8e7"/><stop offset="0.1087" stop-color="#2cffca"/><stop offset="0.1522" stop-color="#49ffad"/><stop offset="0.1957" stop-color="#60ff97"/><stop offset="0.2478" stop-color="#83ff73"/><stop offset="0.2826" stop-color="#9aff5d"/><stop offset="0.3261" stop-color="#b4ff43"/><stop offset="0.3609" stop-color="#c1ff36"/><stop offset="0.4217" stop-color="#d1ff26"/><stop offset="0.4783" stop-color="#dbff1c"/><stop offset="0.5261" stop-color="#caff2c"/><stop offset="0.5696" stop-color="#a7ff50"/><stop offset="0.6043" stop-color="#7aff7d"/><stop offset="0.6287" stop-color="#53ffa4"/><stop offset="0.6522" stop-color="#26ffd1"/><stop offset="0.677" stop-color="#00d4ff"/><stop offset="0.7" stop-color="#0078ff"/><stop offset="0.7217" stop-color="#0024ff"/><stop offset="0.737" stop-color="#0000f6"/><stop offset="0.7491" stop-color="#0000b6"/><stop offset="0.7609" stop-color="#000089"/><stop offset="0.7761" stop-color="#000080"/><stop offset="0.7922" stop-color="#000080"/><stop offset="0.8043" stop-color="#000080"/></linearGradient>
<linearGradient id="h40" x2="0" y2="1"><stop offset="0.0043" stop-color="#00bcff"/><stop offset="0.0304" stop-color="#00d4ff"/><stop offset="0.0696" stop-color="#0cf4eb"/><stop offset="0.1087" stop-color="#26ffd1"/><stop offset="0.1522" stop-color="#46ffb1"/><stop offset="0.1957" stop-color="#60ff97"/><stop offset="0.2478" stop-color="#80ff77"/><stop offset="0.2826" stop-color="#97ff60"/><stop offset="0.3261" stop-color="#b4ff43"/><stop offset="0.3609" stop-color="#c1ff36"/><stop offset="0.4217" stop-color="#d4ff23"/><stop offset="0.4783" stop-color="#dbff1c"/><stop offset="0.5261" stop-color="#ceff29"/><stop offset="0.5696" stop-color="#a7ff50"/><stop offset="0.6043" stop-color="#7dff7a"/><stop offset="0.6287" stop-color="#56ffa0"/><stop offset="0.6522" stop-color="#29ffce"/><stop offset="0.677" stop-color="#00d4ff"/><stop offset="0.7" stop-color="#007cff"/><stop offset="0.7217" stop-color="#0028ff"/><stop offset="0.737" stop-color="#0000f6"/><stop offset="0.7491" stop-color="#00b"/><stop offset="0.7609" stop-color="#00008d"/><stop offset="0.7761" stop-color="#000080"/><stop offset="0.7922" stop-color="#000080"/><stop offset="0.8043" stop-color="#000080"/></linearGradient>
<linearGradient id="h41" x2="0" y2="1"><stop offset="0.0043" stop-color="#00b8ff"/><stop offset="0.0304" stop-color="#00d0ff"/><stop offset="0.0696" stop-color="#09f0ee"/><stop offset="0.1087" stop-color="#23ffd4"/><stop offset="0.1522" stop-color="#43ffb4"/><stop offset="0.1957" stop-color="#5dff9a"/><stop offset="0.2478" stop-color="#80ff77"/><stop offset="0.2826" stop-color="#97ff60"/><stop offset="0.3261" stop-color="#b4ff43"/><stop offset="0.3609" stop-color="#c1ff36"/><stop offset="0.4217" stop-color="#d4ff23"/><stop offset="0.4783" stop-color="#deff19"/><stop offset="0.5261" stop-color="#ceff29"/><stop offset="0.5696" stop-color="#aaff4d"/><stop offset="0.6043" stop-color="#7dff7a"/><stop offset="0.6287" stop-color="#56ffa0"/><stop offset="0.6522" stop-color="#29ffce"/><stop offset="0.677" stop-color="#00d8ff"/><stop offset="0.7" stop-color="#007cff"/><stop offset="0.7217" stop-color="#0028ff"/><stop offset="0.737" stop-color="#0000fa"/><stop offset="0.7491" stop-color="#00b"/><stop offset="0.7609" stop-color="#00008d"/><stop offset="0.7761" stop-color="#000080"/><stop offset="0.7922" stop-color="#000080"/><stop offset="0.8043" stop-color="#000080"/></linearGradient>
<linearGradient id="h42" x2="0" y2="1"><stop offset="0.0043" stop-color="#00b0ff"/><stop offset="0.0304" stop-color="#00c8ff"/><stop offset="0.0696" stop-color="#06ecf1"/><stop offset="0.1087" stop-color="#1fffd7"/><stop offset="0.1522" stop-color="#40ffb7"/><stop offset="0.1957" stop-color="#5aff9d"/><stop offset="0.2478" stop-color="#80ff77"/><stop offset="0.2826" stop-color="#97ff60"/><stop offset="0.3261" stop-color="#b4ff43"/><stop offset="0.3609" stop-color="#c1ff36"/><stop offset="0.4217" stop-color="#d4ff23"/><stop offset="0.4783" stop-color="#deff19"/><stop offset="0.5261" stop-color="#ceff29"/><stop offset="0.5696" stop-color="#aaff4d"/><stop offset="0.6043" stop-color="#80ff77"/><stop offset="0.6287" stop-color="#56ffa0"/><stop offset="0.6522" stop-color="#2cffca"/><stop offset="0.677" stop-color="#00d8ff"/><stop offset="0.7" stop-color="#0080ff"/><stop offset="0.7217" stop-color="#002cff"/><stop offset="0.737" stop-color="#00f"/><stop offset="0.7491" stop-color="#0000bf"/><stop offset="0.7609" stop-color="#00008d"/><stop offset="0.7761" stop-color="#000080"/><stop offset="0.7922" stop-color="#000080"/><stop offset="0.8043" stop-color="#000080"/></linearGradient>
<linearGradient id="h43" x2="0" y2="1"><stop offset="0.0043" stop-color="#00acff"/><stop offset="0.0304" stop-color="#00c4ff"/><stop offset="0.0696" stop-color="#02e8f4"/><stop offset="0.1087" stop-color="#1cffdb"/><stop offset="0.1522" stop-color="#3cffba"/><stop offset="0.1957" stop-color="#5aff9d"/><stop offset="0.2478" stop-color="#80ff77"/><stop offset="0.2826" stop-color="#97ff60"/><stop offset="0.3261" stop-color="#b4ff43"/><stop offset="0.3609" stop-color="#c4ff33"/><stop offset="0.4217" stop-color="#d4ff23"/><stop offset="0.4783" stop-color="#e1ff16"/><stop offset="0.5261" stop-color="#d1ff26"/><stop offset="0.5696" stop-color="#adff49"/><stop offset="0.6043" stop-color="#80ff77"/><stop offset="0.6287" stop-color="#5aff9d"/><stop offset="0.6522" stop-color="#2cffca"/><stop offset="0.677" stop-color="#00dcfe"/><stop offset="0.7" stop-color="#0084ff"/><stop offset="0.7217" stop-color="#002cff"/><stop offset="0.737" stop-color="#00f"/><stop offset="0.7491" stop-color="#0000c4"/><stop offset="0.7609" stop-color="#00008d"/><stop offset="0.7761" stop-color="#000080"/><stop offset="0.7922" stop-color="#000080"/><stop offset="0.8043" stop-color="#000080"/></linearGradient>
<linearGradient id="h44" x2="0" y2="1"><stop offset="0.0043" stop-color="#00a8ff"/><stop offset="0.0304" stop-color="#00c0ff"/><stop offset="0.0696" stop-color="#00e4f8"/><stop offset="0.1087" stop-color="#19ffde"/><stop offset="0.1522" stop-color="#39ffbe"/><stop offset="0.1957" stop-color="#56ffa0"/><stop offset="0.2478" stop-color="#80ff77"/><stop offset="0.2826" stop-color="#97ff60"/><stop offset="0.3261" stop-color="#b4ff43"/><stop offset="0.3609" stop-color="#c4ff33"/><stop offset="0.4217" stop-color="#d4ff23"/><stop offset="0.4783" stop-color="#e1ff16"/><stop offset="0.5261" stop-color="#d1ff26"/><stop offset="0.5696" stop-color="#adff49"/><stop offset="0.6043" stop-color="#83ff73"/><stop offset="0.6287" stop-color="#5aff9d"/><stop offset="0.6522" stop-color="#30ffc7"/><stop offset="0.677" stop-color="#00dcfe"/><stop offset="0.7" stop-color="#0084ff"/><stop offset="0.7217" stop-color="#0030ff"/><stop offset="0.737" stop-color="#00f"/><stop offset="0.7491" stop-color="#0000c8"/><stop offset="0.7609" stop-color="#000092"/><stop offset="0.7761" stop-color="#000080"/><stop offset="0.7922" stop-color="#000080"/><stop offset="0.8043" stop-color="#000080"/></linearGradient>
<linearGradient id="h45" x2="0" y2="1"><stop offset="0.0043" stop-color="#00a0ff"/><stop offset="0.0304" stop-color="#00bcff"/><stop offset="0.0696" stop-color="#00e0fb"/><stop offset="0.1087" stop-color="#16ffe1"/><stop offset="0.1522" stop-color="#36ffc1"/><stop offset="0.1957" stop-color="#56ffa0"/><stop offset="0.2478" stop-color="#7dff7a"/><stop offset="0.2826" stop-color="#97ff60"/><stop offset="0.3261" stop-color="#b4ff43"/><stop offset="0.3609" stop-color="#c4ff33"/><stop offset="0.4217" stop-color="#d7ff1f"/><stop offset="0.4783" stop-color="#e1ff16"/><stop offset="0.5261" stop-color="#d4ff23"/><stop offset="0.5696" stop-color="#b1ff46"/><stop offset="0.6043" stop-color="#83ff73"/><stop offset="0.6287" stop-color="#5dff9a"/><stop offset="0.6522" stop-color="#30ffc7"/><stop offset="0.677" stop-color="#00e0fb"/><stop offset="0.7" stop-color="#08f"/><stop offset="0.7217" stop-color="#0034ff"/><stop offset="0.737" stop-color="#00f"/><stop offset="0.7491" stop-color="#0000c8"/><stop offset="0.7609" stop-color="#000092"/><stop offset="0.7761" stop-color="#000080"/><stop offset="0.7922" stop-color="#000080"/><stop offset="0.8043" stop-color="#000080"/></linearGradient>
<linearGradient id="h46" x2="0" y2="1"><stop offset="0.0043" stop-color="#009cff"/><stop offset="0.0304" stop-color="#00b4ff"/><stop offset="0.0696" stop-color="#00d8ff"/><stop offset="0.1087" stop-color="#13fce4"/><stop offset="0.1522" stop-color="#33ffc4"/><stop offset="0.1957" stop-color="#53ffa4"/><stop offset="0.2478" stop-color="#7dff7a"/><stop offset="0.2826" stop-color="#97ff60"/><stop offset="0.3261" stop-color="#b4ff43"/><stop offset="0.3609" stop-color="#c4ff33"/><stop offset="0.4217" stop-color="#d7ff1f"/><stop offset="0.4783" stop-color="#e4ff13"/><stop offset="0.5261" stop-color="#d4ff23"/><stop offset="0.5696" stop-color="#b1ff46"/><stop offset="0.6043" stop-color="#87ff70"/><stop offset="0.6287" stop-color="#5dff9a"/><stop offset="0.6522" stop-color="#33ffc4"/><stop offset="0.677" stop-color="#00e4f8"/><stop offset="0.7" stop-color="#008cff"/><stop offset="0.7217" stop-color="#0034ff"/><stop offset="0.737" stop-color="#00f"/><stop offset="0.7491" stop-color="#0000cd"/><stop offset="0.7609" stop-color="#000092"/><stop offset="0.7761" stop-color="#000080"/><stop offset="0.7922" stop-color="#000080"/><stop offset="0.8043" stop-color="#000080"/></linearGradient>
<linearGradient id="h47" x2="0" y2="1"><stop offset="0.0043" stop-color="#0098ff"/><stop offset="0.0304" stop-color="#00b0ff"/><stop offset="0.0696" stop-color="#00d4ff"/><stop offset="0.1087" stop-color="#0ff8e7"/><stop offset="0.1522" stop-color="#30ffc7"/><stop offset="0.1957" stop-color="#50ffa7"/><stop offset="0.2478" stop-color="#7dff7a"/><stop offset="0.2826" stop-color="#97ff60"/><stop offset="0.3261" stop-color="#b7ff40"/><stop offset="0.3609" stop-color="#c4ff33"/><stop offset="0.4217" stop-color="#d7ff1f"/><stop offset="0.4783" stop-color="#e4ff13"/><stop offset="0.5261" stop-color="#d7ff1f"/><stop offset="0.5696" stop-color="#b4ff43"/><stop offset="0.6043" stop-color="#87ff70"/><stop offset="0.6287" stop-color="#60ff97"/><stop offset="0.6522" stop-color="#33ffc4"/><stop offset="0.677" stop-color="#00e4f8"/><stop offset="0.7" stop-color="#008cff"/><stop offset="0.7217" stop-color="#0038ff"/><stop offset="0.737" stop-color="#00f"/><stop offset="0.7491" stop-color="#0000d1"/><stop offset="0.7609" stop-color="#000092"/><stop offset="0.7761" stop-color="#000080"/><stop offset="0.7922" stop-color="#000080"/><stop offset="0.8043" stop-color="#000080"/></linearGradient>
<linearGradient id="h48" x2="0" y2="1"><stop offset="0.0043" stop-color="#0090ff"/><stop offset="0.0304" stop-color="#00acff"/><stop offset="0.0696" stop-color="#00d0ff"/><stop offset="0.1087" stop-color="#0cf4eb"/><stop offset="0.1522" stop-color="#2cffca"/><stop offset="0.1957" stop-color="#50ffa7"/><stop offset="0.2478" stop-color="#7dff7a"/><stop offset="0.2826" stop-color="#94ff63"/><stop offset="0.3261" stop-color="#b7ff40"/><stop offset="0.3609" stop-color="#c4ff33"/><stop offset="0.4217" stop-color="#d7ff1f"/><stop offset="0.4783" stop-color="#e4ff13"/><stop offset="0.5261" stop-color="#d7ff1f"/><stop offset="0.5696" stop-color="#b4ff43"/><stop offset="0.6043" stop-color="#8aff6d"/><stop offset="0.6287" stop-color="#60ff97"/><stop offset="0.6522" stop-color="#36ffc1"/><stop offset="0.677" stop-color="#02e8f4"/><stop offset="0.7" stop-color="#0090ff"/><stop offset="0.7217" stop-color="#0038ff"/><stop offset="0.737" stop-color="#00f"/><stop offset="0.7491" stop-color="#0000d1"/><stop offset="0.7609" stop-color="#000096"/><stop offset="0.7761" stop-color="#000080"/><stop offset="0.7922" stop-color="#000080"/><stop offset="0.8043" stop-color="#000080"/></linearGradient>
<linearGradient id="h49" x2="0" y2="1"><stop offset="0.0043" stop-color="#008cff"/><stop offset="0.0304" stop-color="#00a4ff"/><stop offset="0.0696" stop-color="#0cf"/><stop offset="0.1087" stop-color="#09f0ee"/><stop offset="0.1522" stop-color="#29ffce"/><stop offset="0.1957" stop-color="#4dffaa"/><stop offset="0.2478" stop-color="#7dff7a"/><stop offset="0.2826" stop-color="#94ff63"/><stop offset="0.3261" stop-color="#b7ff40"/><stop offset="0.3609" stop-color="#c4ff33"/><stop offset="0.4217" stop-color="#dbff1c"/><stop offset="0.4783" stop-color="#e7ff0f"/><stop offset="0.5261" stop-color="#dbff1c"/><stop offset="0.5696" stop-color="#b7ff40"/><stop offset="0.6043" stop-color="#8aff6d"/><stop offset="0.6287" stop-color="#60ff97"/><stop offset="0.6522" stop-color="#36ffc1"/><stop offset="0.677" stop-color="#02e8f4"/><stop offset="0.7" stop-color="#0094ff"/><stop offset="0.7217" stop-color="#003cff"/><stop offset="0.737" stop-color="#00f"/><stop offset="0.7491" stop-color="#0000d6"/><stop offset="0.7609" stop-color="#000096"/><stop offset="0.7761" stop-color="#000080"/><stop offset="0.7922" stop-color="#000080"/><stop offset="0.8043" stop-color="#000080"/></linearGradient>
<linearGradient id="h50" x2="0" y2="1"><stop offset="0.0043" stop-color="#08f"/><stop offset="0.0304" stop-color="#00a0ff"/><stop offset="0.0696" stop-color="#00c8ff"/><stop offset="0.1087" stop-color="#06ecf1"/><stop offset="0.1522" stop-color="#26ffd1"/><stop offset="0.1957" stop-color="#49ffad"/><stop offset="0.2478" stop-color="#7dff7a"/><stop offset="0.2826" stop-color="#94ff63"/><stop offset="0.3261" stop-color="#b7ff40"/><stop offset="0.3609" stop-color="#c7ff30"/><stop offset="0.4217" stop-color="#dbff1c"/><stop offset="0.4783" stop-color="#e7ff0f"/><stop offset="0.5261" stop-color="#dbff1c"/><stop offset="0.5696" stop-color="#b7ff40"/><stop offset="0.6043" stop-color="#8dff6a"/><stop offset="0.6287" stop-color="#63ff94"/><stop offset="0.6522" stop-color="#36ffc1"/><stop offset="0.677" stop-color="#06ecf1"/><stop offset="0.7" stop-color="#0094ff"/><stop offset="0.7217" stop-color="#003cff"/><stop offset="0.737" stop-color="#0004ff"/><stop offset="0.7491" stop-color="#0000da"/><stop offset="0.7609" stop-color="#000096"/><stop offset="0.7761" stop-color="#000080"/><stop offset="0.7922" stop-color="#000080"/><stop offset="0.8043" stop-color="#000080"/></linearGradient>
<linearGradient id="h51" x2="0" y2="1"><stop offset="0.0043" stop-color="#08f"/><stop offset="0.0304" stop-color="#00a0ff"/><stop offset="0.0696" stop-color="#00c8ff"/><stop offset="0.1087" stop-color="#06ecf1"/><stop offset="0.1522" stop-color="#26ffd1"/><stop offset="0.1957" stop-color="#49ffad"/><stop offset="0.2478" stop-color="#7dff7a"/><stop offset="0.2826" stop-color="#94ff63"/><stop offset="0.3261" stop-color="#b7ff40"/><stop offset="0.3609" stop-color="#c7ff30"/><stop offset="0.4217" stop-color="#dbff1c"/><stop offset="0.4783" stop-color="#e7ff0f"/><stop offset="0.5261" stop-color="#dbff1c"/><stop offset="0.5696" stop-color="#b7ff40"/><stop offset="0.6043" stop-color="#8dff6a"/><stop offset="0.6287" stop-color="#63ff94"/><stop offset="0.6522" stop-color="#39ffbe"/><stop offset="0.677" stop-color="#06ecf1"/><stop offset="0.7" stop-color="#0094ff"/><stop offset="0.7217" stop-color="#003cff"/><stop offset="0.737" stop-color="#0004ff"/><stop offset="0.7491" stop-color="#0000da"/><stop offset="0.7609" stop-color="#000096"/><stop offset="0.7761" stop-color="#000080"/><stop offset="0.7922" stop-color="#000080"/><stop offset="0.8043" stop-color="#000080"/></linearGradient>
<linearGradient id="h52" x2="0" y2="1"><stop offset="0.0043" stop-color="#0084ff"/><stop offset="0.0304" stop-color="#00a0ff"/><stop offset="0.0696" stop-color="#00c8ff"/><stop offset="0.1087" stop-color="#06ecf1"/><stop offset="0.1522" stop-color="#26ffd1"/><stop offset="0.1957" stop-color="#49ffad"/><stop offset="0.2478" stop-color="#7dff7a"/><stop offset="0.2826" stop-color="#94ff63"/><stop offset="0.3261" stop-color="#b7ff40"/><stop offset="0.3609" stop-color="#c7ff30"/><stop offset="0.4217" stop-color="#dbff1c"/><stop offset="0.4783" stop-color="#e7ff0f"/><stop offset="0.5261" stop-color="#dbff1c"/><stop offset="0.5696" stop-color="#baff3c"/><stop offset="0.6043" stop-color="#8dff6a"/><stop offset="0.6287" stop-color="#63ff94"/><stop offset="0.6522" stop-color="#39ffbe"/><stop offset="0.677" stop-color="#06ecf1"/><stop offset="0.7" stop-color="#0094ff"/><stop offset="0.7217" stop-color="#0040ff"/><stop offset="0.737" stop-color="#0004ff"/><stop offset="0.7491" stop-color="#0000da"/><stop offset="0.7609" stop-color="#000096"/><stop offset="0.7761" stop-color="#000080"/><stop offset="0.7922" stop-color="#000080"/><stop offset="0.8043" stop-color="#000080"/></linearGradient>
<linearGradient id="h53" x2="0" y2="1"><stop offset="0.0043" stop-color="#0084ff"/><stop offset="0.0304" stop-color="#009cff"/><stop offset="0.0696" stop-color="#00c4ff"/><stop offset="0.1087" stop-color="#02e8f4"/><stop offset="0.1522" stop-color="#26ffd1"/><stop offset="0.1957" stop-color="#49ffad"/><stop offset="0.2478" stop-color="#7dff7a"/><stop offset="0.2826" stop-color="#94ff63"/><stop offset="0.3261" stop-color="#b7ff40"/><stop offset="0.3609" stop-color="#c7ff30"/><stop offset="0.4217" stop-color="#dbff1c"/><stop offset="0.4783" stop-color="#ebff0c"/><stop offset="0.5261" stop-color="#dbff1c"/><stop offset="0.5696" stop-color="#baff3c"/><stop offset="0.6043" stop-color="#8dff6a"/><stop offset="0.6287" stop-color="#63ff94"/><stop offset="0.6522" stop-color="#39ffbe"/><stop offset="0.677" stop-color="#09f0ee"/><stop offset="0.7" stop-color="#0098ff"/><stop offset="0.7217" stop-color="#0040ff"/><stop offset="0.737" stop-color="#0008ff"/><stop offset="0.7491" stop-color="#0000df"/><stop offset="0.7609" stop-color="#00009b"/><stop offset="0.7761" stop-color="#000080"/><stop offset="0.7922" stop-color="#000080"/><stop offset="0.8043" stop-color="#000080"/></linearGradient>
<linearGradient id="h54" x2="0" y2="1"><stop offset="0.0043" stop-color="#0084ff"/><stop offset="0.0304" stop-color="#009cff"/><stop offset="0.0696" stop-color="#00c4ff"/><stop offset="0.1087" stop-color="#02e8f4"/><stop offset="0.1522" stop-color="#23ffd4"/><stop offset="0.1957" stop-color="#49ffad"/><stop offset="0.2478" stop-color="#7dff7a"/><stop offset="0.2826" stop-color="#94ff63"/><stop offset="0.3261" stop-color="#b7ff40"/><stop offset="0.3609" stop-color="#c7ff30"/><stop offset="0.4217" stop-color="#deff19"/><stop offset="0.4783" stop-color="#ebff0c"/><stop offset="0.5261" stop-color="#deff19"/><stop offset="0.5696" stop-color="#beff39"/><stop offset="0.6043" stop-color="#90ff66"/><stop offset="0.6287" stop-color="#66ff90"/><stop offset="0.6522" stop-color="#3cffba"/><stop offset="0.677" stop-color="#09f0ee"/><stop offset="0.7" stop-color="#009cff"/><stop offset="0.7217" stop-color="#04f"/><stop offset="0.737" stop-color="#000cff"/><stop offset="0.7491" stop-color="#0000e3"/><stop offset="0.7609" stop-color="#00009f"/><stop offset="0.7761" stop-color="#000080"/><stop offset="0.7922" stop-color="#000080"/><stop offset="0.8043" stop-color="#000080"/></linearGradient>
<linearGradient id="h55" x2="0" y2="1"><stop offset="0.0043" stop-color="#0080ff"/><stop offset="0.0304" stop-color="#009cff"/><stop offset="0.0696" stop-color="#00c4ff"/><stop offset="0.1087" stop-color="#02e8f4"/><stop offset="0.1522" stop-color="#23ffd4"/><stop offset="0.1957" stop-color="#49ffad"/><stop offset="0.2478" stop-color="#7dff7a"/><stop offset="0.2826" stop-color="#97ff60"/><stop offset="0.3261" stop-color="#b7ff40"/><stop offset="0.3609" stop-color="#caff2c"/><stop offset="0.4217" stop-color="#deff19"/><stop offset="0.4783" stop-color="#eeff09"/><stop offset="0.5261" stop-color="#e1ff16"/><stop offset="0.5696" stop-color="#c1ff36"/><stop offset="0.6043" stop-color="#97ff60"/><stop offset="0.6287" stop-color="#6aff8d"/><stop offset="0.6522" stop-color="#40ffb7"/><stop offset="0.677" stop-color="#0ff8e7"/><stop offset="0.7" stop-color="#00a4ff"/><stop offset="0.7217" stop-color="#004cff"/><stop offset="0.737" stop-color="#0014ff"/><stop offset="0.7491" stop-color="#0000ed"/><stop offset="0.7609" stop-color="#0000ad"/><stop offset="0.7761" stop-color="#000084"/><stop offset="0.7922" stop-color="#000080"/><stop offset="0.8043" stop-color="#000080"/></linearGradient>
<linearGradient id="h56" x2="0" y2="1"><stop offset="0.0043" stop-color="#0080ff"/><stop offset="0.0304" stop-color="#0098ff"/><stop offset="0.0696" stop-color="#00c4ff"/><stop offset="0.1087" stop-color="#02e8f4"/><stop offset="0.1522" stop-color="#23ffd4"/><stop offset="0.1957" stop-color="#49ffad"/><stop offset="0.2478" stop-color="#7dff7a"/><stop offset="0.2826" stop-color="#97ff60"/><stop offset="0.3261" stop-color="#baff3c"/><stop offset="0.3609" stop-color="#caff2c"/><stop offset="0.4217" stop-color="#e1ff16"/><stop offset="0.4783" stop-color="#f1fc06"/><stop offset="0.5261" stop-color="#e4ff13"/><stop offset="0.5696" stop-color="#c7ff30"/><stop offset="0.6043" stop-color="#9aff5d"/><stop offset="0.6287" stop-color="#70ff87"/><stop offset="0.6522" stop-color="#43ffb4"/><stop offset="0.677" stop-color="#13fce4"/><stop offset="0.7" stop-color="#00b0ff"/><stop offset="0.7217" stop-color="#0058ff"/><stop offset="0.737" stop-color="#0020ff"/><stop offset="0.7491" stop-color="#0000fa"/><stop offset="0.7609" stop-color="#00b"/><stop offset="0.7761" stop-color="#000089"/><stop offset="0.7922" stop-color="#000080"/><stop offset="0.8043" stop-color="#000080"/></linearGradient>
<linearGradient id="h57" x2="0" y2="1"><stop offset="0.0043" stop-color="#0080ff"/><stop offset="0.0304" stop-color="#0098ff"/><stop offset="0.0696" stop-color="#00c0ff"/><stop offset="0.1087" stop-color="#02e8f4"/><stop offset="0.1522" stop-color="#23ffd4"/><stop offset="0.1957" stop-color="#46ffb1"/><stop offset="0.2478" stop-color="#7dff7a"/><stop offset="0.2826" stop-color="#9aff5d"/><stop offset="0.3261" stop-color="#baff3c"/><stop offset="0.3609" stop-color="#ceff29"/><stop offset="0.4217" stop-color="#e7ff0f"/><stop offset="0.4783" stop-color="#f4f802"/><stop offset="0.5261" stop-color="#e7ff0f"/><stop offset="0.5696" stop-color="#ceff29"/><stop offset="0.6043" stop-color="#a0ff56"/><stop offset="0.6287" stop-color="#77ff80"/><stop offset="0.6522" stop-color="#49ffad"/><stop offset="0.677" stop-color="#19ffde"/><stop offset="0.7" stop-color="#00b8ff"/><stop offset="0.7217" stop-color="#0064ff"/><stop offset="0.737" stop-color="#002cff"/><stop offset="0.7491" stop-color="#00f"/><stop offset="0.7609" stop-color="#0000c8"/><stop offset="0.7761" stop-color="#00008d"/><stop offset="0.7922" stop-color="#000080"/><stop offset="0.8043" stop-color="#000080"/></linearGradient>
<linearGradient id="h58" x2="0" y2="1"><stop offset="0.0043" stop-color="#0080ff"/><stop offset="0.0304" stop-color="#0098ff"/><stop offset="0.0696" stop-color="#00c0ff"/><stop offset="0.1087" stop-color="#00e4f8"/><stop offset="0.1522" stop-color="#23ffd4"/><stop offset="0.1957" stop-color="#46ffb1"/><stop offset="0.2478" stop-color="#7dff7a"/><stop offset="0.2826" stop-color="#9dff5a"/><stop offset="0.3261" stop-color="#baff3c"/><stop offset="0.3609" stop-color="#d1ff26"/><stop offset="0.4217" stop-color="#ebff0c"/><stop offset="0.4783" stop-color="#fbf100"/><stop offset="0.5261" stop-color="#eeff09"/><stop offset="0.5696" stop-color="#d4ff23"/><stop offset="0.6043" stop-color="#a7ff50"/><stop offset="0.6287" stop-color="#7dff7a"/><stop offset="0.6522" stop-color="#50ffa7"/><stop offset="0.677" stop-color="#1fffd7"/><stop offset="0.7" stop-color="#00c4ff"/><stop offset="0.7217" stop-color="#0074ff"/><stop offset="0.737" stop-color="#0038ff"/><stop offset="0.7491" stop-color="#0008ff"/><stop offset="0.7609" stop-color="#0000da"/><stop offset="0.7761" stop-color="#000096"/><stop offset="0.7922" stop-color="#000080"/><stop offset="0.8043" stop-color="#000080"/></linearGradient>
<linearGradient id="h59" x2="0" y2="1"><stop offset="0.0043" stop-color="#007cff"/><stop offset="0.0304" stop-color="#0098ff"/><stop offset="0.0696" stop-color="#00c0ff"/><stop offset="0.1087" stop-color="#00e4f8"/><stop offset="0.1522" stop-color="#23ffd4"/><stop offset="0.1957" stop-color="#46ffb1"/><stop offset="0.2478" stop-color="#7dff7a"/><stop offset="0.2826" stop-color="#9dff5a"/><stop offset="0.3261" stop-color="#beff39"/><stop offset="0.3609" stop-color="#d1ff26"/><stop offset="0.4217" stop-color="#eeff09"/><stop offset="0.4783" stop-color="#feed00"/><stop offset="0.5261" stop-color="#f1fc06"/><stop offset="0.5696" stop-color="#dbff1c"/><stop offset="0.6043" stop-color="#adff49"/><stop offset="0.6287" stop-color="#83ff73"/><stop offset="0.6522" stop-color="#56ffa0"/><stop offset="0.677" stop-color="#26ffd1"/><stop offset="0.7" stop-color="#00d0ff"/><stop offset="0.7217" stop-color="#0080ff"/><stop offset="0.737" stop-color="#04f"/><stop offset="0.7491" stop-color="#0014ff"/><stop offset="0.7609" stop-color="#0000e8"/><stop offset="0.7761" stop-color="#00009b"/><stop offset="0.7922" stop-color="#000080"/><stop offset="0.8043" stop-color="#000080"/></linearGradient>
<linearGradient id="h60" x2="0" y2="1"><stop offset="0.0043" stop-color="#007cff"/><stop offset="0.0304" stop-color="#0098ff"/><stop offset="0.0696" stop-color="#00c0ff"/><stop offset="0.1087" stop-color="#00e4f8"/><stop offset="0.1522" stop-color="#1fffd7"/><stop offset="0.1957" stop-color="#46ffb1"/><stop offset="0.2478" stop-color="#7dff7a"/><stop offset="0.2826" stop-color="#a0ff56"/><stop offset="0.3261" stop-color="#beff39"/><stop offset="0.3609" stop-color="#d4ff23"/><stop offset="0.4217" stop-color="#f1fc06"/><stop offset="0.4783" stop-color="#ffea00"/><stop offset="0.5261" stop-color="#f4f802"/><stop offset="0.5696" stop-color="#e1ff16"/><stop offset="0.6043" stop-color="#b4ff43"/><stop offset="0.6287" stop-color="#87ff70"/><stop offset="0.6522" stop-color="#5aff9d"/><stop offset="0.677" stop-color="#29ffce"/><stop offset="0.7" stop-color="#00dcfe"/><stop offset="0.7217" stop-color="#08f"/><stop offset="0.737" stop-color="#004cff"/><stop offset="0.7491" stop-color="#0020ff"/><stop offset="0.7609" stop-color="#0000f6"/><stop offset="0.7761" stop-color="#00009f"/><stop offset="0.7922" stop-color="#000080"/><stop offset="0.8043" stop-color="#000080"/></linearGradient>
<linearGradient id="h61" x2="0" y2="1"><stop offset="0.0043" stop-color="#007cff"/><stop offset="0.0304" stop-color="#0094ff"/><stop offset="0.0696" stop-color="#00c0ff"/><stop offset="0.1087" stop-color="#00e4f8"/><stop offset="0.1522" stop-color="#1fffd7"/><stop offset="0.1957" stop-color="#46ffb1"/><stop offset="0.2478" stop-color="#7dff7a"/><stop offset="0.2826" stop-color="#a0ff56"/><stop offset="0.3261" stop-color="#beff39"/><stop offset="0.3609" stop-color="#d4ff23"/><stop offset="0.4217" stop-color="#f4f802"/><stop offset="0.4783" stop-color="#ffe600"/><stop offset="0.5261" stop-color="#f8f500"/><stop offset="0.5696" stop-color="#e4ff13"/><stop offset="0.6043" stop-color="#b7ff40"/><stop offset="0.6287" stop-color="#8dff6a"/><stop offset="0.6522" stop-color="#5dff9a"/><stop offset="0.677" stop-color="#2cffca"/><stop offset="0.7" stop-color="#00e0fb"/><stop offset="0.7217" stop-color="#0090ff"/><stop offset="0.737" stop-color="#0054ff"/><stop offset="0.7491" stop-color="#0028ff"/><stop offset="0.7609" stop-color="#00f"/><stop offset="0.7761" stop-color="#0000a4"/><stop offset="0.7922" stop-color="#000080"/><stop offset="0.8043" stop-color="#000080"/></linearGradient>
<linearGradient id="h62" x2="0" y2="1"><stop offset="0.0043" stop-color="#007cff"/><stop offset="0.0304" stop-color="#0094ff"/><stop offset="0.0696" stop-color="#00bcff"/><stop offset="0.1087" stop-color="#00e4f8"/><stop offset="0.1522" stop-color="#1fffd7"/><stop offset="0.1957" stop-color="#46ffb1"/><stop offset="0.2478" stop-color="#7dff7a"/><stop offset="0.2826" stop-color="#a0ff56"/><stop offset="0.3261" stop-color="#beff39"/><stop offset="0.3609" stop-color="#d7ff1f"/><stop offset="0.4217" stop-color="#f4f802"/><stop offset="0.4783" stop-color="#ffe600"/><stop offset="0.5261" stop-color="#f8f500"/><stop offset="0.5696" stop-color="#e4ff13"/><stop offset="0.6043" stop-color="#baff3c"/><stop offset="0.6287" stop-color="#8dff6a"/><stop offset="0.6522" stop-color="#60ff97"/><stop offset="0.677" stop-color="#30ffc7"/><stop offset="0.7" stop-color="#00e4f8"/><stop offset="0.7217" stop-color="#0094ff"/><stop offset="0.737" stop-color="#0058ff"/><stop offset="0.7491" stop-color="#0028ff"/><stop offset="0.7609" stop-color="#00f"/><stop offset="0.7761" stop-color="#0000a4"/><stop offset="0.7922" stop-color="#000080"/><stop offset="0.8043" stop-color="#000080"/></linearGradient>
<linearGradient id="h63" x2="0" y2="1"><stop offset="0.0043" stop-color="#007cff"/><stop offset="0.0304" stop-color="#0094ff"/><stop offset="0.0696" stop-color="#00bcff"/><stop offset="0.1087" stop-color="#00e4f8"/><stop offset="0.1522" stop-color="#1fffd7"/><stop offset="0.1957" stop-color="#46ffb1"/><stop offset="0.2478" stop-color="#7dff7a"/><stop offset="0.2826" stop-color="#a0ff56"/><stop offset="0.3261" stop-color="#beff39"/><stop offset="0.3609" stop-color="#d7ff1f"/><stop offset="0.4217" stop-color="#f4f802"/><stop offset="0.4783" stop-color="#ffe600"/><stop offset="0.5261" stop-color="#f8f500"/><stop offset="0.5696" stop-color="#e4ff13"/><stop offset="0.6043" stop-color="#baff3c"/><stop offset="0.6287" stop-color="#8dff6a"/><stop offset="0.6522" stop-color="#60ff97"/><stop offset="0.677" stop-color="#30ffc7"/><stop offset="0.7" stop-color="#00e4f8"/><stop offset="0.7217" stop-color="#0094ff"/><stop offset="0.737" stop-color="#0058ff"/><stop offset="0.7491" stop-color="#002cff"/><stop offset="0.7609" stop-color="#00f"/><stop offset="0.7761" stop-color="#0000a4"/><stop offset="0.7922" stop-color="#000080"/><stop offset="0.8043" stop-color="#000080"/></linearGradient>
<linearGradient id="h64" x2="0" y2="1"><stop offset="0.0043" stop-color="#007cff"/><stop offset="0.0304" stop-color="#0094ff"/><stop offset="0.0696" stop-color="#00bcff"/><stop offset="0.1087" stop-color="#00e4f8"/><stop offset="0.1522" stop-color="#1fffd7"/><stop offset="0.1957" stop-color="#46ffb1"/><stop offset="0.2478" stop-color="#7dff7a"/><stop offset="0.2826" stop-color="#a0ff56"/><stop offset="0.3261" stop-color="#beff39"/><stop offset="0.3609" stop-color="#d7ff1f"/><stop offset="0.4217" stop-color="#f4f802"/><stop offset="0.4783" stop-color="#ffe600"/><stop offset="0.5261" stop-color="#f8f500"/><stop offset="0.5696" stop-color="#e4ff13"/><stop offset="0.6043" stop-color="#baff3c"/><stop offset="0.6287" stop-color="#8dff6a"/><stop offset="0.6522" stop-color="#60ff97"/><stop offset="0.677" stop-color="#30ffc7"/><stop offset="0.7" stop-color="#00e4f8"/><stop offset="0.7217" stop-color="#0094ff"/><stop offset="0.737" stop-color="#0058ff"/><stop offset="0.7491" stop-color="#002cff"/><stop offset="0.7609" stop-color="#00f"/><stop offset="0.7761" stop-color="#0000a4"/><stop offset="0.7922" stop-color="#000080"/><stop offset="0.8043" stop-color="#000080"/></linearGradient>
<linearGradient id="h65" x2="0" y2="1"><stop offset="0.0043" stop-color="#007cff"/><stop offset="0.0304" stop-color="#0094ff"/><stop offset="0.0696" stop-color="#00bcff"/><stop offset="0.1087" stop-color="#00e4f8"/><stop offset="0.1522" stop-color="#1fffd7"/><stop offset="0.1957" stop-color="#46ffb1"/><stop offset="0.2478" stop-color="#7dff7a"/><stop offset="0.2826" stop-color="#a0ff56"/><stop offset="0.3261" stop-color="#beff39"/><stop offset="0.3609" stop-color="#d7ff1f"/><stop offset="0.4217" stop-color="#f4f802"/><stop offset="0.4783" stop-color="#ffe600"/><stop offset="0.5261" stop-color="#f8f500"/><stop offset="0.5696" stop-color="#e4ff13"/><stop offset="0.6043" stop-color="#baff3c"/><stop offset="0.6287" stop-color="#8dff6a"/><stop offset="0.6522" stop-color="#60ff97"/><stop offset="0.677" stop-color="#30ffc7"/><stop offset="0.7" stop-color="#00e4f8"/><stop offset="0.7217" stop-color="#0094ff"/><stop offset="0.737" stop-color="#0058ff"/><stop offset="0.7491" stop-color="#002cff"/><stop offset="0.7609" stop-color="#00f"/><stop offset="0.7761" stop-color="#0000a4"/><stop offset="0.7922" stop-color="#000080"/><stop offset="0.8043" stop-color="#000080"/></linearGradient>
<linearGradient id="h66" x2="0" y2="1"><stop offset="0.0043" stop-color="#007cff"/><stop offset="0.0304" stop-color="#0094ff"/><stop offset="0.0696" stop-color="#00bcff"/><stop offset="0.1087" stop-color="#00e4f8"/><stop offset="0.1522" stop-color="#1fffd7"/><stop offset="0.1957" stop-color="#46ffb1"/><stop offset="0.2478" stop-color="#7dff7a"/><stop offset="0.2826" stop-color="#a0ff56"/><stop offset="0.3261" stop-color="#beff39"/><stop offset="0.3609" stop-color="#d7ff1f"/><stop offset="0.4217" stop-color="#f4f802"/><stop offset="0.4783" stop-color="#ffe600"/><stop offset="0.5261" stop-color="#f8f500"/><stop offset="0.5696" stop-color="#e4ff13"/><stop offset="0.6043" stop-color="#baff3c"/><stop offset="0.6287" stop-color="#8dff6a"/><stop offset="0.6522" stop-color="#60ff97"/><stop offset="0.677" stop-color="#30ffc7"/><stop offset="0.7" stop-color="#00e4f8"/><stop offset="0.7217" stop-color="#0094ff"/><stop offset="0.737" stop-color="#0058ff"/><stop offset="0.7491" stop-color="#002cff"/><stop offset="0.7609" stop-color="#00f"/><stop offset="0.7761" stop-color="#0000a4"/><stop offset="0.7922" stop-color="#000080"/><stop offset="0.8043" stop-color="#000080"/></linearGradient>
<linearGradient id="h67" x2="0" y2="1"><stop offset="0.0043" stop-color="#007cff"/><stop offset="0.0304" stop-color="#0094ff"/><stop offset="0.0696" stop-color="#00bcff"/><stop offset="0.1087" stop-color="#00e4f8"/><stop offset="0.1522" stop-color="#1fffd7"/><stop offset="0.1957" stop-color="#46ffb1"/><stop offset="0.2478" stop-color="#7dff7a"/><stop offset="0.2826" stop-color="#a0ff56"/><stop offset="0.3261" stop-color="#beff39"/><stop offset="0.3609" stop-color="#d7ff1f"/><stop offset="0.4217" stop-color="#f4f802"/><stop offset="0.4783" stop-color="#ffe600"/><stop offset="0.5261" stop-color="#f8f500"/><stop offset="0.5696" stop-color="#e4ff13"/><stop offset="0.6043" stop-color="#baff3c"/><stop offset="0.6287" stop-color="#8dff6a"/><stop offset="0.6522" stop-color="#60ff97"/><stop offset="0.677" stop-color="#30ffc7"/><stop offset="0.7" stop-color="#00e4f8"/><stop offset="0.7217" stop-color="#0094ff"/><stop offset="0.737" stop-color="#0058ff"/><stop offset="0.7491" stop-color="#002cff"/><stop offset="0.7609" stop-color="#00f"/><stop offset="0.7761" stop-color="#0000a4"/><stop offset="0.7922" stop-color="#000080"/><stop offset="0.8043" stop-color="#000080"/></linearGradient>
<linearGradient id="h68" x2="0" y2="1"><stop offset="0.0043" stop-color="#007cff"/><stop offset="0.0304" stop-color="#0094ff"/><stop offset="0.0696" stop-color="#00bcff"/><stop offset="0.1087" stop-color="#00e4f8"/><stop offset="0.1522" stop-color="#1fffd7"/><stop offset="0.1957" stop-color="#46ffb1"/><stop offset="0.2478" stop-color="#7dff7a"/><stop offset="0.2826" stop-color="#a0ff56"/><stop offset="0.3261" stop-color="#beff39"/><stop offset="0.3609" stop-color="#d7ff1f"/><stop offset="0.4217" stop-color="#f4f802"/><stop offset="0.4783" stop-color="#ffe600"/><stop offset="0.5261" stop-color="#f8f500"/><stop offset="0.5696" stop-color="#e4ff13"/><stop offset="0.6043" stop-color="#baff3c"/><stop offset="0.6287" stop-color="#8dff6a"/><stop offset="0.6522" stop-color="#60ff97"/><stop offset="0.677" stop-color="#30ffc7"/><stop offset="0.7" stop-color="#00e4f8"/><stop offset="0.7217" stop-color="#0094ff"/><stop offset="0.737" stop-color="#0058ff"/><stop offset="0.7491" stop-color="#002cff"/><stop offset="0.7609" stop-color="#00f"/><stop offset="0.7761" stop-color="#0000a4"/><stop offset="0.7922" stop-color="#000080"/><stop offset="0.8043" stop-color="#000080"/></linearGradient>
<linearGradient id="h69" x2="0" y2="1"><stop offset="0.0043" stop-color="#007cff"/><stop offset="0.0304" stop-color="#0094ff"/><stop offset="0.0696" stop-color="#00bcff"/><stop offset="0.1087" stop-color="#00e4f8"/><stop offset="0.1522" stop-color="#1fffd7"/><stop offset="0.1957" stop-color="#46ffb1"/><stop offset="0.2478" stop-color="#7dff7a"/><stop offset="0.2826" stop-color="#a0ff56"/><stop offset="0.3261" stop-color="#beff39"/><stop offset="0.3609" stop-color="#d7ff1f"/><stop offset="0.4217" stop-color="#f4f802"/><stop offset="0.4783" stop-color="#ffe600"/><stop offset="0.5261" stop-color="#f8f500"/><stop offset="0.5696" stop-color="#e4ff13"/><stop offset="0.6043" stop-color="#baff3c"/><stop offset="0.6287" stop-color="#8dff6a"/><stop offset="0.6522" stop-color="#60ff97"/><stop offset="0.677" stop-color="#30ffc7"/><stop offset="0.7" stop-color="#00e4f8"/><stop offset="0.7217" stop-color="#0094ff"/><stop offset="0.737" stop-color="#0058ff"/><stop offset="0.7491" stop-color="#002cff"/><stop offset="0.7609" stop-color="#00f"/><stop offset="0.7761" stop-color="#0000a4"/><stop offset="0.7922" stop-color="#000080"/><stop offset="0.8043" stop-color="#000080"/></linearGradient>
<linearGradient id="h70" x2="0" y2="1"><stop offset="0.0043" stop-color="#007cff"/><stop offset="0.0304" stop-color="#0094ff"/><stop offset="0.0696" stop-color="#00bcff"/><stop offset="0.1087" stop-color="#00e4f8"/><stop offset="0.1522" stop-color="#1fffd7"/><stop offset="0.1957" stop-color="#46ffb1"/><stop offset="0.2478" stop-color="#7dff7a"/><stop offset="0.2826" stop-color="#a0ff56"/><stop offset="0.3261" stop-color="#beff39"/><stop offset="0.3609" stop-color="#d7ff1f"/><stop offset="0.4217" stop-color="#f4f802"/><stop offset="0.4783" stop-color="#ffe600"/><stop offset="0.5261" stop-color="#f8f500"/><stop offset="0.5696" stop-color="#e4ff13"/><stop offset="0.6043" stop-color="#baff3c"/><stop offset="0.6287" stop-color="#8dff6a"/><stop offset="0.6522" stop-color="#60ff97"/><stop offset="0.677" stop-color="#30ffc7"/><stop offset="0.7" stop-color="#00e4f8"/><stop offset="0.7217" stop-color="#0094ff"/><stop offset="0.737" stop-color="#0058ff"/><stop offset="0.7491" stop-color="#002cff"/><stop offset="0.7609" stop-color="#00f"/><stop offset="0.7761" stop-color="#0000a4"/><stop offset="0.7922" stop-color="#000080"/><stop offset="0.8043" stop-color="#000080"/></linearGradient>
<linearGradient id="h71" x2="0" y2="1"><stop offset="0.0043" stop-color="#007cff"/><stop offset="0.0304" stop-color="#0094ff"/><stop offset="0.0696" stop-color="#00bcff"/><stop offset="0.1087" stop-color="#00e4f8"/><stop offset="0.1522" stop-color="#1fffd7"/><stop offset="0.1957" stop-color="#46ffb1"/><stop offset="0.2478" stop-color="#7dff7a"/><stop offset="0.2826" stop-color="#a0ff56"/><stop offset="0.3261" stop-color="#beff39"/><stop offset="0.3609" stop-color="#d7ff1f"/><stop offset="0.4217" stop-color="#f4f802"/><stop offset="0.4783" stop-color="#ffe600"/><stop offset="0.5261" stop-color="#f8f500"/><stop offset="0.5696" stop-color="#e4ff13"/><stop offset="0.6043" stop-color="#baff3c"/><stop offset="0.6287" stop-color="#8dff6a"/><stop offset="0.6522" stop-color="#60ff97"/><stop offset="0.677" stop-color="#30ffc7"/><stop offset="0.7" stop-color="#00e4f8"/><stop offset="0.7217" stop-color="#0094ff"/><stop offset="0.737" stop-color="#0058ff"/><stop offset="0.7491" stop-color="#002cff"/><stop offset="0.7609" stop-color="#00f"/><stop offset="0.7761" stop-color="#0000a4"/><stop offset="0.7922" stop-color="#000080"/><stop offset="0.8043" stop-color="#000080"/></linearGradient>
<linearGradient id="h72" x2="0" y2="1"><stop offset="0.0043" stop-color="#007cff"/><stop offset="0.0304" stop-color="#0094ff"/><stop offset="0.0696" stop-color="#00bcff"/><stop offset="0.1087" stop-color="#00e4f8"/><stop offset="0.1522" stop-color="#1fffd7"/><stop offset="0.1957" stop-color="#46ffb1"/><stop offset="0.2478" stop-color="#7dff7a"/><stop offset="0.2826" stop-color="#a0ff56"/><stop offset="0.3261" stop-color="#beff39"/><stop offset="0.3609" stop-color="#d7ff1f"/><stop offset="0.4217" stop-color="#f4f802"/><stop offset="0.4783" stop-color="#ffe600"/><stop offset="0.5261" stop-color="#f8f500"/><stop offset="0.5696" stop-color="#e4ff13"/><stop offset="0.6043" stop-color="#baff3c"/><stop offset="0.6287" stop-color="#8dff6a"/><stop offset="0.6522" stop-color="#60ff97"/><stop offset="0.677" stop-color="#30ffc7"/><stop offset="0.7" stop-color="#00e4f8"/><stop offset="0.7217" stop-color="#0094ff"/><stop offset="0.737" stop-color="#0058ff"/><stop offset="0.7491" stop-color="#002cff"/><stop offset="0.7609" stop-color="#00f"/><stop offset="0.7761" stop-color="#0000a4"/><stop offset="0.7922" stop-color="#000080"/><stop offset="0.8043" stop-color="#000080"/></linearGradient>
<linearGradient id="h73" x2="0" y2="1"><stop offset="0.0043" stop-color="#007cff"/><stop offset="0.0304" stop-color="#0094ff"/><stop offset="0.0696" stop-color="#00bcff"/><stop offset="0.1087" stop-color="#00e4f8"/><stop offset="0.1522" stop-color="#1fffd7"/><stop offset="0.1957" stop-color="#46ffb1"/><stop offset="0.2478" stop-color="#7dff7a"/><stop offset="0.2826" stop-color="#a0ff56"/><stop offset="0.3261" stop-color="#beff39"/><stop offset="0.3609" stop-color="#d7ff1f"/><stop offset="0.4217" stop-color="#f4f802"/><stop offset="0.4783" stop-color="#ffe600"/><stop offset="0.5261" stop-color="#f8f500"/><stop offset="0.5696" stop-color="#e4ff13"/><stop offset="0.6043" stop-color="#baff3c"/><stop offset="0.6287" stop-color="#8dff6a"/><stop offset="0.6522" stop-color="#60ff97"/><stop offset="0.677" stop-color="#30ffc7"/><stop offset="0.7" stop-color="#00e4f8"/><stop offset="0.7217" stop-color="#0094ff"/><stop offset="0.737" stop-color="#0058ff"/><stop offset="0.7491" stop-color="#002cff"/><stop offset="0.7609" stop-color="#00f"/><stop offset="0.7761" stop-color="#0000a4"/><stop offset="0.7922" stop-color="#000080"/><stop offset="0.8043" stop-color="#000080"/></linearGradient>
<linearGradient id="h74" x2="0" y2="1"><stop offset="0.0043" stop-color="#007cff"/><stop offset="0.0304" stop-color="#0094ff"/><stop offset="0.0696" stop-color="#00bcff"/><stop offset="0.1087" stop-color="#00e4f8"/><stop offset="0.1522" stop-color="#1fffd7"/><stop offset="0.1957" stop-color="#46ffb1"/><stop offset="0.2478" stop-color="#7dff7a"/><stop offset="0.2826" stop-color="#a0ff56"/><stop offset="0.3261" stop-color="#beff39"/><stop offset="0.3609" stop-color="#d7ff1f"/><stop offset="0.4217" stop-color="#f4f802"/><stop offset="0.4783" stop-color="#ffe600"/><stop offset="0.5261" stop-color="#f8f500"/><stop offset="0.5696" stop-color="#e4ff13"/><stop offset="0.6043" stop-color="#baff3c"/><stop offset="0.6287" stop-color="#8dff6a"/><stop offset="0.6522" stop-color="#60ff97"/><stop offset="0.677" stop-color="#30ffc7"/><stop offset="0.7" stop-color="#00e4f8"/><stop offset="0.7217" stop-color="#0094ff"/><stop offset="0.737" stop-color="#0058ff"/><stop offset="0.7491" stop-color="#002cff"/><stop offset="0.7609" stop-color="#00f"/><stop offset="0.7761" stop-color="#0000a4"/><stop offset="0.7922" stop-color="#000080"/><stop offset="0.8043" stop-color="#000080"/></linearGradient>
<linearGradient id="h75" x2="0" y2="1"><stop offset="0.0043" stop-color="#007cff"/><stop offset="0.0304" stop-color="#0094ff"/><stop offset="0.0696" stop-color="#00bcff"/><stop offset="0.1087" stop-color="#00e4f8"/><stop offset="0.1522" stop-color="#1fffd7"/><stop offset="0.1957" stop-color="#46ffb1"/><stop offset="0.2478" stop-color="#7dff7a"/><stop offset="0.2826" stop-color="#a0ff56"/><stop offset="0.3261" stop-color="#beff39"/><stop offset="0.3609" stop-color="#d7ff1f"/><stop offset="0.4217" stop-color="#f4f802"/><stop offset="0.4783" stop-color="#ffe600"/><stop offset="0.5261" stop-color="#f8f500"/><stop offset="0.5696" stop-color="#e4ff13"/><stop offset="0.6043" stop-color="#baff3c"/><stop offset="0.6287" stop-color="#8dff6a"/><stop offset="0.6522" stop-color="#60ff97"/><stop offset="0.677" stop-color="#30ffc7"/><stop offset="0.7" stop-color="#00e4f8"/><stop offset="0.7217" stop-color="#0094ff"/><stop offset="0.737" stop-color="#0058ff"/><stop offset="0.7491" stop-color="#002cff"/><stop offset="0.7609" stop-color="#00f"/><stop offset="0.7761" stop-color="#0000a4"/><stop offset="0.7922" stop-color="#000080"/><stop offset="0.8043" stop-color="#000080"/></linearGradient>
<linearGradient id="h76" x2="0" y2="1"><stop offset="0.0043" stop-color="#007cff"/><stop offset="0.0304" stop-color="#0094ff"/><stop offset="0.0696" stop-color="#00bcff"/><stop offset="0.1087" stop-color="#00e4f8"/><stop offset="0.1522" stop-color="#1fffd7"/><stop offset="0.1957" stop-color="#46ffb1"/><stop offset="0.2478" stop-color="#7dff7a"/><stop offset="0.2826" stop-color="#a0ff56"/><stop offset="0.3261" stop-color="#beff39"/><stop offset="0.3609" stop-color="#d7ff1f"/><stop offset="0.4217" stop-color="#f4f802"/><stop offset="0.4783" stop-color="#ffe600"/><stop offset="0.5261" stop-color="#f8f500"/><stop offset="0.5696" stop-color="#e4ff13"/><stop offset="0.6043" stop-color="#baff3c"/><stop offset="0.6287" stop-color="#8dff6a"/><stop offset="0.6522" stop-color="#60ff97"/><stop offset="0.677" stop-color="#30ffc7"/><stop offset="0.7" stop-color="#00e4f8"/><stop offset="0.7217" stop-color="#0094ff"/><stop offset="0.737" stop-color="#0058ff"/><stop offset="0.7491" stop-color="#002cff"/><stop offset="0.7609" stop-color="#00f"/><stop offset="0.7761" stop-color="#0000a4"/><stop offset="0.7922" stop-color="#000080"/><stop offset="0.8043" stop-color="#000080"/></linearGradient>
<linearGradient id="h77" x2="0" y2="1"><stop offset="0.0043" stop-color="#007cff"/><stop offset="0.0304" stop-color="#0094ff"/><stop offset="0.0696" stop-color="#00bcff"/><stop offset="0.1087" stop-color="#00e4f8"/><stop offset="0.1522" stop-color="#1fffd7"/><stop offset="0.1957" stop-color="#46ffb1"/><stop offset="0.2478" stop-color="#7dff7a"/><stop offset="0.2826" stop-color="#a0ff56"/><stop offset="0.3261" stop-color="#beff39"/><stop offset="0.3609" stop-color="#d7ff1f"/><stop offset="0.4217" stop-color="#f4f802"/><stop offset="0.4783" stop-color="#ffe600"/><stop offset="0.5261" stop-color="#f8f500"/><stop offset="0.5696" stop-color="#e4ff13"/><stop offset="0.6043" stop-color="#baff3c"/><stop offset="0.6287" stop-color="#8dff6a"/><stop offset="0.6522" stop-color="#60ff97"/><stop offset="0.677" stop-color="#30ffc7"/><stop offset="0.7" stop-color="#00e4f8"/><stop offset="0.7217" stop-color="#0094ff"/><stop offset="0.737" stop-color="#0058ff"/><stop offset="0.7491" stop-color="#002cff"/><stop offset="0.7609" stop-color="#00f"/><stop offset="0.7761" stop-color="#0000a4"/><stop offset="0.7922" stop-color="#000080"/><stop offset="0.8043" stop-color="#000080"/></linearGradient>
<linearGradient id="h78" x2="0" y2="1"><stop offset="0.0043" stop-color="#007cff"/><stop offset="0.0304" stop-color="#0094ff"/><stop offset="0.0696" stop-color="#00bcff"/><stop offset="0.1087" stop-color="#00e4f8"/><stop offset="0.1522" stop-color="#1fffd7"/><stop offset="0.1957" stop-color="#46ffb1"/><stop offset="0.2478" stop-color="#7dff7a"/><stop offset="0.2826" stop-color="#a0ff56"/><stop offset="0.3261" stop-color="#beff39"/><stop offset="0.3609" stop-color="#d7ff1f"/><stop offset="0.4217" stop-color="#f4f802"/><stop offset="0.4783" stop-color="#ffe600"/><stop offset="0.5261" stop-color="#f8f500"/><stop offset="0.5696" stop-color="#e4ff13"/><stop offset="0.6043" stop-color="#baff3c"/><stop offset="0.6287" stop-color="#8dff6a"/><stop offset="0.6522" stop-color="#60ff97"/><stop offset="0.677" stop-color="#30ffc7"/><stop offset="0.7" stop-color="#00e4f8"/><stop offset="0.7217" stop-color="#0094ff"/><stop offset="0.737" stop-color="#0058ff"/><stop offset="0.7491" stop-color="#002cff"/><stop offset="0.7609" stop-color="#00f"/><stop offset="0.7761" stop-color="#0000a4"/><stop offset="0.7922" stop-color="#000080"/><stop offset="0.8043" stop-color="#000080"/></linearGradient>
<linearGradient id="h79" x2="0" y2="1"><stop offset="0.0043" stop-color="#007cff"/><stop offset="0.0304" stop-color="#0094ff"/><stop offset="0.0696" stop-color="#00bcff"/><stop offset="0.1087" stop-color="#00e4f8"/><stop offset="0.1522" stop-color="#1fffd7"/><stop offset="0.1957" stop-color="#46ffb1"/><stop offset="0.2478" stop-color="#7dff7a"/><stop offset="0.2826" stop-color="#a0ff56"/><stop offset="0.3261" stop-color="#beff39"/><stop offset="0.3609" stop-color="#d7ff1f"/><stop offset="0.4217" stop-color="#f4f802"/><stop offset="0.4783" stop-color="#ffe600"/><stop offset="0.5261" stop-color="#f8f500"/><stop offset="0.5696" stop-color="#e4ff13"/><stop offset="0.6043" stop-color="#baff3c"/><stop offset="0.6287" stop-color="#8dff6a"/><stop offset="0.6522" stop-color="#60ff97"/><stop offset="0.677" stop-color="#30ffc7"/><stop offset="0.7" stop-color="#00e4f8"/><stop offset="0.7217" stop-color="#0094ff"/><stop offset="0.737" stop-color="#0058ff"/><stop offset="0.7491" stop-color="#002cff"/><stop offset="0.7609" stop-color="#00f"/><stop offset="0.7761" stop-color="#0000a4"/><stop offset="0.7922" stop-color="#000080"/><stop offset="0.8043" stop-color="#000080"/></linearGradient>
<linearGradient id="h80" x2="0" y2="1"><stop offset="0.0043" stop-color="#007cff"/><stop offset="0.0304" stop-color="#0094ff"/><stop offset="0.0696" stop-color="#00bcff"/><stop offset="0.1087" stop-color="#00e4f8"/><stop offset="0.1522" stop-color="#1fffd7"/><stop offset="0.1957" stop-color="#46ffb1"/><stop offset="0.2478" stop-color="#7dff7a"/><stop offset="0.2826" stop-color="#a0ff56"/><stop offset="0.3261" stop-color="#beff39"/><stop offset="0.3609" stop-color="#d7ff1f"/><stop offset="0.4217" stop-color="#f4f802"/><stop offset="0.4783" stop-color="#ffe600"/><stop offset="0.5261" stop-color="#f8f500"/><stop offset="0.5696" stop-color="#e4ff13"/><stop offset="0.6043" stop-color="#baff3c"/><stop offset="0.6287" stop-color="#8dff6a"/><stop offset="0.6522" stop-color="#60ff97"/><stop offset="0.677" stop-color="#30ffc7"/><stop offset="0.7" stop-color="#00e4f8"/><stop offset="0.7217" stop-color="#0094ff"/><stop offset="0.737" stop-color="#0058ff"/><stop offset="0.7491" stop-color="#002cff"/><stop offset="0.7609" stop-color="#00f"/><stop offset="0.7761" stop-color="#0000a4"/><stop offset="0.7922" stop-color="#000080"/><stop offset="0.8043" stop-color="#000080"/></linearGradient>
<linearGradient id="h81" x2="0" y2="1"><stop offset="0.0043" stop-color="#007cff"/><stop offset="0.0304" stop-color="#0094ff"/><stop offset="0.0696" stop-color="#00bcff"/><stop offset="0.1087" stop-color="#00e4f8"/><stop offset="0.1522" stop-color="#1fffd7"/><stop offset="0.1957" stop-color="#46ffb1"/><stop offset="0.2478" stop-color="#7dff7a"/><stop offset="0.2826" stop-color="#a0ff56"/><stop offset="0.3261" stop-color="#beff39"/><stop offset="0.3609" stop-color="#d7ff1f"/><stop offset="0.4217" stop-color="#f4f802"/><stop offset="0.4783" stop-color="#ffe600"/><stop offset="0.5261" stop-color="#f8f500"/><stop offset="0.5696" stop-color="#e4ff13"/><stop offset="0.6043" stop-color="#baff3c"/><stop offset="0.6287" stop-color="#8dff6a"/><stop offset="0.6522" stop-color="#60ff97"/><stop offset="0.677" stop-color="#30ffc7"/><stop offset="0.7" stop-color="#00e4f8"/><stop offset="0.7217" stop-color="#0094ff"/><stop offset="0.737" stop-color="#0058ff"/><stop offset="0.7491" stop-color="#002cff"/><stop offset="0.7609" stop-color="#00f"/><stop offset="0.7761" stop-color="#0000a4"/><stop offset="0.7922" stop-color="#000080"/><stop offset="0.8043" stop-color="#000080"/></linearGradient>
<linearGradient id="h82" x2="0" y2="1"><stop offset="0.0043" stop-color="#007cff"/><stop offset="0.0304" stop-color="#0094ff"/><stop offset="0.0696" stop-color="#00bcff"/><stop offset="0.1087" stop-color="#00e4f8"/><stop offset="0.1522" stop-color="#1fffd7"/><stop offset="0.1957" stop-color="#46ffb1"/><stop offset="0.2478" stop-color="#7dff7a"/><stop offset="0.2826" stop-color="#a0ff56"/><stop offset="0.3261" stop-color="#beff39"/><stop offset="0.3609" stop-color="#d7ff1f"/><stop offset="0.4217" stop-color="#f4f802"/><stop offset="0.4783" stop-color="#ffe600"/><stop offset="0.5261" stop-color="#f8f500"/><stop offset="0.5696" stop-color="#e4ff13"/><stop offset="0.6043" stop-color="#baff3c"/><stop offset="0.6287" stop-color="#8dff6a"/><stop offset="0.6522" stop-color="#60ff97"/><stop offset="0.677" stop-color="#30ffc7"/><stop offset="0.7" stop-color="#00e4f8"/><stop offset="0.7217" stop-color="#0094ff"/><stop offset="0.737" stop-color="#0058ff"/><stop offset="0.7491" stop-color="#002cff"/><stop offset="0.7609" stop-color="#00f"/><stop offset="0.7761" stop-color="#0000a4"/><stop offset="0.7922" stop-color="#000080"/><stop offset="0.8043" stop-color="#000080"/></linearGradient>
<linearGradient id="h83" x2="0" y2="1"><stop offset="0.0043" stop-color="#007cff"/><stop offset="0.0304" stop-color="#0094ff"/><stop offset="0.0696" stop-color="#00bcff"/><stop offset="0.1087" stop-color="#00e4f8"/><stop offset="0.1522" stop-color="#1fffd7"/><stop offset="0.1957" stop-color="#46ffb1"/><stop offset="0.2478" stop-color="#7dff7a"/><stop offset="0.2826" stop-color="#a0ff56"/><stop offset="0.3261" stop-color="#beff39"/><stop offset="0.3609" stop-color="#d7ff1f"/><stop offset="0.4217" stop-color="#f4f802"/><stop offset="0.4783" stop-color="#ffe600"/><stop offset="0.5261" stop-color="#f8f500"/><stop offset="0.5696" stop-color="#e4ff13"/><stop offset="0.6043" stop-color="#baff3c"/><stop offset="0.6287" stop-color="#8dff6a"/><stop offset="0.6522" stop-color="#60ff97"/><stop offset="0.677" stop-color="#30ffc7"/><stop offset="0.7" stop-color="#00e4f8"/><stop offset="0.7217" stop-color="#0094ff"/><stop offset="0.737" stop-color="#0058ff"/><stop offset="0.7491" stop-color="#002cff"/><stop offset="0.7609" stop-color="#00f"/><stop offset="0.7761" stop-color="#0000a4"/><stop offset="0.7922" stop-color="#000080"/><stop offset="0.8043" stop-color="#000080"/></linearGradient>
<linearGradient id="h84" x2="0" y2="1"><stop offset="0.0043" stop-color="#007cff"/><stop offset="0.0304" stop-color="#0094ff"/><stop offset="0.0696" stop-color="#00bcff"/><stop offset="0.1087" stop-color="#00e4f8"/><stop offset="0.1522" stop-color="#1fffd7"/><stop offset="0.1957" stop-color="#46ffb1"/><stop offset="0.2478" stop-color="#7dff7a"/><stop offset="0.2826" stop-color="#a0ff56"/><stop offset="0.3261" stop-color="#beff39"/><stop offset="0.3609" stop-color="#d7ff1f"/><stop offset="0.4217" stop-color="#f4f802"/><stop offset="0.4783" stop-color="#ffe600"/><stop offset="0.5261" stop-color="#f8f500"/><stop offset="0.5696" stop-color="#e4ff13"/><stop offset="0.6043" stop-color="#baff3c"/><stop offset="0.6287" stop-color="#8dff6a"/><stop offset="0.6522" stop-color="#60ff97"/><stop offset="0.677" stop-color="#30ffc7"/><stop offset="0.7" stop-color="#00e4f8"/><stop offset="0.7217" stop-color="#0094ff"/><stop offset="0.737" stop-color="#0058ff"/><stop offset="0.7491" stop-color="#002cff"/><stop offset="0.7609" stop-color="#00f"/><stop offset="0.7761" stop-color="#0000a4"/><stop offset="0.7922" stop-color="#000080"/><stop offset="0.8043" stop-color="#000080"/></linearGradient>
<linearGradient id="h85" x2="0" y2="1"><stop offset="0.0043" stop-color="#007cff"/><stop offset="0.0304" stop-color="#0094ff"/><stop offset="0.0696" stop-color="#00bcff"/><stop offset="0.1087" stop-color="#00e4f8"/><stop offset="0.1522" stop-color="#1fffd7"/><stop offset="0.1957" stop-color="#46ffb1"/><stop offset="0.2478" stop-color="#7dff7a"/><stop offset="0.2826" stop-color="#a0ff56"/><stop offset="0.3261" stop-color="#beff39"/><stop offset="0.3609" stop-color="#d7ff1f"/><stop offset="0.4217" stop-color="#f4f802"/><stop offset="0.4783" stop-color="#ffe600"/><stop offset="0.5261" stop-color="#f8f500"/><stop offset="0.5696" stop-color="#e4ff13"/><stop offset="0.6043" stop-color="#baff3c"/><stop offset="0.6287" stop-color="#8dff6a"/><stop offset="0.6522" stop-color="#60ff97"/><stop offset="0.677" stop-color="#30ffc7"/><stop offset="0.7" stop-color="#00e4f8"/><stop offset="0.7217" stop-color="#0094ff"/><stop offset="0.737" stop-color="#0058ff"/><stop offset="0.7491" stop-color="#002cff"/><stop offset="0.7609" stop-color="#00f"/><stop offset="0.7761" stop-color="#0000a4"/><stop offset="0.7922" stop-color="#000080"/><stop offset="0.8043" stop-color="#000080"/></linearGradient>
<linearGradient id="h86" x2="0" y2="1"><stop offset="0.0043" stop-color="#007cff"/><stop offset="0.0304" stop-color="#0094ff"/><stop offset="0.0696" stop-color="#00bcff"/><stop offset="0.1087" stop-color="#00e4f8"/><stop offset="0.1522" stop-color="#1fffd7"/><stop offset="0.1957" stop-color="#46ffb1"/><stop offset="0.2478" stop-color="#7dff7a"/><stop offset="0.2826" stop-color="#a0ff56"/><stop offset="0.3261" stop-color="#beff39"/><stop offset="0.3609" stop-color="#d7ff1f"/><stop offset="0.4217" stop-color="#f4f802"/><stop offset="0.4783" stop-color="#ffe600"/><stop offset="0.5261" stop-color="#f8f500"/><stop offset="0.5696" stop-color="#e4ff13"/><stop offset="0.6043" stop-color="#baff3c"/><stop offset="0.6287" stop-color="#8dff6a"/><stop offset="0.6522" stop-color="#60ff97"/><stop offset="0.677" stop-color="#30ffc7"/><stop offset="0.7" stop-color="#00e4f8"/><stop offset="0.7217" stop-color="#0094ff"/><stop offset="0.737" stop-color="#0058ff"/><stop offset="0.7491" stop-color="#002cff"/><stop offset="0.7609" stop-color="#00f"/><stop offset="0.7761" stop-color="#0000a4"/><stop offset="0.7922" stop-color="#000080"/><stop offset="0.8043" stop-color="#000080"/></linearGradient>
<linearGradient id="h87" x2="0" y2="1"><stop offset="0.0043" stop-color="#007cff"/><stop offset="0.0304" stop-color="#0094ff"/><stop offset="0.0696" stop-color="#00bcff"/><stop offset="0.1087" stop-color="#00e4f8"/><stop offset="0.1522" stop-color="#1fffd7"/><stop offset="0.1957" stop-color="#46ffb1"/><stop offset="0.2478" stop-color="#7dff7a"/><stop offset="0.2826" stop-color="#a0ff56"/><stop offset="0.3261" stop-color="#beff39"/><stop offset="0.3609" stop-color="#d7ff1f"/><stop offset="0.4217" stop-color="#f4f802"/><stop offset="0.4783" stop-color="#ffe600"/><stop offset="0.5261" stop-color="#f8f500"/><stop offset="0.5696" stop-color="#e4ff13"/><stop offset="0.6043" stop-color="#baff3c"/><stop offset="0.6287" stop-color="#8dff6a"/><stop offset="0.6522" stop-color="#60ff97"/><stop offset="0.677" stop-color="#30ffc7"/><stop offset="0.7" stop-color="#00e4f8"/><stop offset="0.7217" stop-color="#0094ff"/><stop offset="0.737" stop-color="#0058ff"/><stop offset="0.7491" stop-color="#002cff"/><stop offset="0.7609" stop-color="#00f"/><stop offset="0.7761" stop-color="#0000a4"/><stop offset="0.7922" stop-color="#000080"/><stop offset="0.8043" stop-color="#000080"/></linearGradient>
<linearGradient id="h88" x2="0" y2="1"><stop offset="0.0043" stop-color="#007cff"/><stop offset="0.0304" stop-color="#0094ff"/><stop offset="0.0696" stop-color="#00bcff"/><stop offset="0.1087" stop-color="#00e4f8"/><stop offset="0.1522" stop-color="#1fffd7"/><stop offset="0.1957" stop-color="#46ffb1"/><stop offset="0.2478" stop-color="#7dff7a"/><stop offset="0.2826" stop-color="#a0ff56"/><stop offset="0.3261" stop-color="#beff39"/><stop offset="0.3609" stop-color="#d7ff1f"/><stop offset="0.4217" stop-color="#f4f802"/><stop offset="0.4783" stop-color="#ffe600"/><stop offset="0.5261" stop-color="#f8f500"/><stop offset="0.5696" stop-color="#e4ff13"/><stop offset="0.6043" stop-color="#baff3c"/><stop offset="0.6287" stop-color="#8dff6a"/><stop offset="0.6522" stop-color="#60ff97"/><stop offset="0.677" stop-color="#30ffc7"/><stop offset="0.7" stop-color="#00e4f8"/><stop offset="0.7217" stop-color="#0094ff"/><stop offset="0.737" stop-color="#0058ff"/><stop offset="0.7491" stop-color="#002cff"/><stop offset="0.7609" stop-color="#00f"/><stop offset="0.7761" stop-color="#0000a4"/><stop offset="0.7922" stop-color="#000080"/><stop offset="0.8043" stop-color="#000080"/></linearGradient>
<linearGradient id="h89" x2="0" y2="1"><stop offset="0.0043" stop-color="#007cff"/><stop offset="0.0304" stop-color="#0094ff"/><stop offset="0.0696" stop-color="#00bcff"/><stop offset="0.1087" stop-color="#00e4f8"/><stop offset="0.1522" stop-color="#1fffd7"/><stop offset="0.1957" stop-color="#46ffb1"/><stop offset="0.2478" stop-color="#7dff7a"/><stop offset="0.2826" stop-color="#a0ff56"/><stop offset="0.3261" stop-color="#beff39"/><stop offset="0.3609" stop-color="#d7ff1f"/><stop offset="0.4217" stop-color="#f4f802"/><stop offset="0.4783" stop-color="#ffe600"/><stop offset="0.5261" stop-color="#f8f500"/><stop offset="0.5696" stop-color="#e4ff13"/><stop offset="0.6043" stop-color="#baff3c"/><stop offset="0.6287" stop-color="#8dff6a"/><stop offset="0.6522" stop-color="#60ff97"/><stop offset="0.677" stop-color="#30ffc7"/><stop offset="0.7" stop-color="#00e4f8"/><stop offset="0.7217" stop-color="#0094ff"/><stop offset="0.737" stop-color="#0058ff"/><stop offset="0.7491" stop-color="#002cff"/><stop offset="0.7609" stop-color="#00f"/><stop offset="0.7761" stop-color="#0000a4"/><stop offset="0.7922" stop-color="#000080"/><stop offset="0.8043" stop-color="#000080"/></linearGradient>
<linearGradient id="h90" x2="0" y2="1"><stop offset="0.0043" stop-color="#007cff"/><stop offset="0.0304" stop-color="#0094ff"/><stop offset="0.0696" stop-color="#00bcff"/><stop offset="0.1087" stop-color="#00e4f8"/><stop offset="0.1522" stop-color="#1fffd7"/><stop offset="0.1957" stop-color="#46ffb1"/><stop offset="0.2478" stop-color="#7dff7a"/><stop offset="0.2826" stop-color="#a0ff56"/><stop offset="0.3261" stop-color="#beff39"/><stop offset="0.3609" stop-color="#d7ff1f"/><stop offset="0.4217" stop-color="#f4f802"/><stop offset="0.4783" stop-color="#ffe600"/><stop offset="0.5261" stop-color="#f8f500"/><stop offset="0.5696" stop-color="#e4ff13"/><stop offset="0.6043" stop-color="#baff3c"/><stop offset="0.6287" stop-color="#8dff6a"/><stop offset="0.6522" stop-color="#60ff97"/><stop offset="0.677" stop-color="#30ffc7"/><stop offset="0.7" stop-color="#00e4f8"/><stop offset="0.7217" stop-color="#0094ff"/><stop offset="0.737" stop-color="#0058ff"/><stop offset="0.7491" stop-color="#002cff"/><stop offset="0.7609" stop-color="#00f"/><stop offset="0.7761" stop-color="#0000a4"/><stop offset="0.7922" stop-color="#000080"/><stop offset="0.8043" stop-color="#000080"/></linearGradient>
<linearGradient id="h91" x2="0" y2="1"><stop offset="0.0043" stop-color="#007cff"/><stop offset="0.0304" stop-color="#0094ff"/><stop offset="0.0696" stop-color="#00bcff"/><stop offset="0.1087" stop-color="#00e4f8"/><stop offset="0.1522" stop-color="#1fffd7"/><stop offset="0.1957" stop-color="#46ffb1"/><stop offset="0.2478" stop-color="#7dff7a"/><stop offset="0.2826" stop-color="#a0ff56"/><stop offset="0.3261" stop-color="#beff39"/><stop offset="0.3609" stop-color="#d7ff1f"/><stop offset="0.4217" stop-color="#f4f802"/><stop offset="0.4783" stop-color="#ffe600"/><stop offset="0.5261" stop-color="#f8f500"/><stop offset="0.5696" stop-color="#e4ff13"/><stop offset="0.6043" stop-color="#baff3c"/><stop offset="0.6287" stop-color="#8dff6a"/><stop offset="0.6522" stop-color="#60ff97"/><stop offset="0.677" stop-color="#30ffc7"/><stop offset="0.7" stop-color="#00e4f8"/><stop offset="0.7217" stop-color="#0094ff"/><stop offset="0.737" stop-color="#0058ff"/><stop offset="0.7491" stop-color="#002cff"/><stop offset="0.7609" stop-color="#00f"/><stop offset="0.7761" stop-color="#0000a4"/><stop offset="0.7922" stop-color="#000080"/><stop offset="0.8043" stop-color="#000080"/></linearGradient>
<linearGradient id="h92" x2="0" y2="1"><stop offset="0.0043" stop-color="#007cff"/><stop offset="0.0304" stop-color="#0094ff"/><stop offset="0.0696" stop-color="#00bcff"/><stop offset="0.1087" stop-color="#00e4f8"/><stop offset="0.1522" stop-color="#1fffd7"/><stop offset="0.1957" stop-color="#46ffb1"/><stop offset="0.2478" stop-color="#7dff7a"/><stop offset="0.2826" stop-color="#a0ff56"/><stop offset="0.3261" stop-color="#beff39"/><stop offset="0.3609" stop-color="#d7ff1f"/><stop offset="0.4217" stop-color="#f4f802"/><stop offset="0.4783" stop-color="#ffe600"/><stop offset="0.5261" stop-color="#f8f500"/><stop offset="0.5696" stop-color="#e4ff13"/><stop offset="0.6043" stop-color="#baff3c"/><stop offset="0.6287" stop-color="#8dff6a"/><stop offset="0.6522" stop-color="#60ff97"/><stop offset="0.677" stop-color="#30ffc7"/><stop offset="0.7" stop-color="#00e4f8"/><stop offset="0.7217" stop-color="#0094ff"/><stop offset="0.737" stop-color="#0058ff"/><stop offset="0.7491" stop-color="#002cff"/><stop offset="0.7609" stop-color="#00f"/><stop offset="0.7761" stop-color="#0000a4"/><stop offset="0.7922" stop-color="#000080"/><stop offset="0.8043" stop-color="#000080"/></linearGradient>
<linearGradient id="h93" x2="0" y2="1"><stop offset="0.0043" stop-color="#007cff"/><stop offset="0.0304" stop-color="#0094ff"/><stop offset="0.0696" stop-color="#00bcff"/><stop offset="0.1087" stop-color="#00e4f8"/><stop offset="0.1522" stop-color="#1fffd7"/><stop offset="0.1957" stop-color="#46ffb1"/><stop offset="0.2478" stop-color="#7dff7a"/><stop offset="0.2826" stop-color="#a0ff56"/><stop offset="0.3261" stop-color="#beff39"/><stop offset="0.3609" stop-color="#d7ff1f"/><stop offset="0.4217" stop-color="#f4f802"/><stop offset="0.4783" stop-color="#ffe600"/><stop offset="0.5261" stop-color="#f8f500"/><stop offset="0.5696" stop-color="#e4ff13"/><stop offset="0.6043" stop-color="#baff3c"/><stop offset="0.6287" stop-color="#8dff6a"/><stop offset="0.6522" stop-color="#60ff97"/><stop offset="0.677" stop-color="#30ffc7"/><stop offset="0.7" stop-color="#00e4f8"/><stop offset="0.7217" stop-color="#0094ff"/><stop offset="0.737" stop-color="#0058ff"/><stop offset="0.7491" stop-color="#002cff"/><stop offset="0.7609" stop-color="#00f"/><stop offset="0.7761" stop-color="#0000a4"/><stop offset="0.7922" stop-color="#000080"/><stop offset="0.8043" stop-color="#000080"/></linearGradient>
<linearGradient id="h94" x2="0" y2="1"><stop offset="0.0043" stop-color="#007cff"/><stop offset="0.0304" stop-color="#0094ff"/><stop offset="0.0696" stop-color="#00bcff"/><stop offset="0.1087" stop-color="#00e4f8"/><stop offset="0.1522" stop-color="#1fffd7"/><stop offset="0.1957" stop-color="#46ffb1"/><stop offset="0.2478" stop-color="#7dff7a"/><stop offset="0.2826" stop-color="#a0ff56"/><stop offset="0.3261" stop-color="#beff39"/><stop offset="0.3609" stop-color="#d7ff1f"/><stop offset="0.4217" stop-color="#f4f802"/><stop offset="0.4783" stop-color="#ffe600"/><stop offset="0.5261" stop-color="#f8f500"/><stop offset="0.5696" stop-color="#e4ff13"/><stop offset="0.6043" stop-color="#baff3c"/><stop offset="0.6287" stop-color="#8dff6a"/><stop offset="0.6522" stop-color="#60ff97"/><stop offset="0.677" stop-color="#30ffc7"/><stop offset="0.7" stop-color="#00e4f8"/><stop offset="0.7217" stop-color="#0094ff"/><stop offset="0.737" stop-color="#0058ff"/><stop offset="0.7491" stop-color="#002cff"/><stop offset="0.7609" stop-color="#00f"/><stop offset="0.7761" stop-color="#0000a4"/><stop offset="0.7922" stop-color="#000080"/><stop offset="0.8043" stop-color="#000080"/></linearGradient>
<linearGradient id="h95" x2="0" y2="1"><stop offset="0.0043" stop-color="#007cff"/><stop offset="0.0304" stop-color="#0094ff"/><stop offset="0.0696" stop-color="#00bcff"/><stop offset="0.1087" stop-color="#00e4f8"/><stop offset="0.1522" stop-color="#1fffd7"/><stop offset="0.1957" stop-color="#46ffb1"/><stop offset="0.2478" stop-color="#7dff7a"/><stop offset="0.2826" stop-color="#a0ff56"/><stop offset="0.3261" stop-color="#beff39"/><stop offset="0.3609" stop-color="#d7ff1f"/><stop offset="0.4217" stop-color="#f4f802"/><stop offset="0.4783" stop-color="#ffe600"/><stop offset="0.5261" stop-color="#f8f500"/><stop offset="0.5696" stop-color="#e4ff13"/><stop offset="0.6043" stop-color="#baff3c"/><stop offset="0.6287" stop-color="#8dff6a"/><stop offset="0.6522" stop-color="#60ff97"/><stop offset="0.677" stop-color="#30ffc7"/><stop offset="0.7" stop-color="#00e4f8"/><stop offset="0.7217" stop-color="#0094ff"/><stop offset="0.737" stop-color="#0058ff"/><stop offset="0.7491" stop-color="#002cff"/><stop offset="0.7609" stop-color="#00f"/><stop offset="0.7761" stop-color="#0000a4"/><stop offset="0.7922" stop-color="#000080"/><stop offset="0.8043" stop-color="#000080"/></linearGradient>
<linearGradient id="h96" x2="0" y2="1"><stop offset="0.0043" stop-color="#007cff"/><stop offset="0.0304" stop-color="#0094ff"/><stop offset="0.0696" stop-color="#00bcff"/><stop offset="0.1087" stop-color="#00e4f8"/><stop offset="0.1522" stop-color="#1fffd7"/><stop offset="0.1957" stop-color="#46ffb1"/><stop offset="0.2478" stop-color="#7dff7a"/><stop offset="0.2826" stop-color="#a0ff56"/><stop offset="0.3261" stop-color="#beff39"/><stop offset="0.3609" stop-color="#d7ff1f"/><stop offset="0.4217" stop-color="#f4f802"/><stop offset="0.4783" stop-color="#ffe600"/><stop offset="0.5261" stop-color="#f8f500"/><stop offset="0.5696" stop-color="#e4ff13"/><stop offset="0.6043" stop-color="#baff3c"/><stop offset="0.6287" stop-color="#8dff6a"/><stop offset="0.6522" stop-color="#60ff97"/><stop offset="0.677" stop-color="#30ffc7"/><stop offset="0.7" stop-color="#00e4f8"/><stop offset="0.7217" stop-color="#0094ff"/><stop offset="0.737" stop-color="#0058ff"/><stop offset="0.7491" stop-color="#002cff"/><stop offset="0.7609" stop-color="#00f"/><stop offset="0.7761" stop-color="#0000a4"/><stop offset="0.7922" stop-color="#000080"/><stop offset="0.8043" stop-color="#000080"/></linearGradient>
<linearGradient id="h97" x2="0" y2="1"><stop offset="0.0043" stop-color="#007cff"/><stop offset="0.0304" stop-color="#0094ff"/><stop offset="0.0696" stop-color="#00bcff"/><stop offset="0.1087" stop-color="#00e4f8"/><stop offset="0.1522" stop-color="#1fffd7"/><stop offset="0.1957" stop-color="#46ffb1"/><stop offset="0.2478" stop-color="#7dff7a"/><stop offset="0.2826" stop-color="#a0ff56"/><stop offset="0.3261" stop-color="#beff39"/><stop offset="0.3609" stop-color="#d7ff1f"/><stop offset="0.4217" stop-color="#f4f802"/><stop offset="0.4783" stop-color="#ffe600"/><stop offset="0.5261" stop-color="#f8f500"/><stop offset="0.5696" stop-color="#e4ff13"/><stop offset="0.6043" stop-color="#baff3c"/><stop offset="0.6287" stop-color="#8dff6a"/><stop offset="0.6522" stop-color="#60ff97"/><stop offset="0.677" stop-color="#30ffc7"/><stop offset="0.7" stop-color="#00e4f8"/><stop offset="0.7217" stop-color="#0094ff"/><stop offset="0.737" stop-color="#0058ff"/><stop offset="0.7491" stop-color="#002cff"/><stop offset="0.7609" stop-color="#00f"/><stop offset="0.7761" stop-color="#0000a4"/><stop offset="0.7922" stop-color="#000080"/><stop offset="0.8043" stop-color="#000080"/></linearGradient>
<linearGradient id="h98" x2="0" y2="1"><stop offset="0.0043" stop-color="#007cff"/><stop offset="0.0304" stop-color="#0094ff"/><stop offset="0.0696" stop-color="#00bcff"/><stop offset="0.1087" stop-color="#00e4f8"/><stop offset="0.1522" stop-color="#1fffd7"/><stop offset="0.1957" stop-color="#46ffb1"/><stop offset="0.2478" stop-color="#7dff7a"/><stop offset="0.2826" stop-color="#a0ff56"/><stop offset="0.3261" stop-color="#beff39"/><stop offset="0.3609" stop-color="#d7ff1f"/><stop offset="0.4217" stop-color="#f4f802"/><stop offset="0.4783" stop-color="#ffe600"/><stop offset="0.5261" stop-color="#f8f500"/><stop offset="0.5696" stop-color="#e4ff13"/><stop offset="0.6043" stop-color="#baff3c"/><stop offset="0.6287" stop-color="#8dff6a"/><stop offset="0.6522" stop-color="#60ff97"/><stop offset="0.677" stop-color="#30ffc7"/><stop offset="0.7" stop-color="#00e4f8"/><stop offset="0.7217" stop-color="#0094ff"/><stop offset="0.737" stop-color="#0058ff"/><stop offset="0.7491" stop-color="#002cff"/><stop offset="0.7609" stop-color="#00f"/><stop offset="0.7761" stop-color="#0000a4"/><stop offset="0.7922" stop-color="#000080"/><stop offset="0.8043" stop-color="#000080"/></linearGradient>
<linearGradient id="h99" x2="0" y2="1"><stop offset="0.0043" stop-color="#007cff"/><stop offset="0.0304" stop-color="#0094ff"/><stop offset="0.0696" stop-color="#00bcff"/><stop offset="0.1087" stop-color="#00e4f8"/><stop offset="0.1522" stop-color="#1fffd7"/><stop offset="0.1957" stop-color="#46ffb1"/><stop offset="0.2478" stop-color="#7dff7a"/><stop offset="0.2826" stop-color="#a0ff56"/><stop offset="0.3261" stop-color="#beff39"/><stop offset="0.3609" stop-color="#d7ff1f"/><stop offset="0.4217" stop-color="#f4f802"/><stop offset="0.4783" stop-color="#ffe600"/><stop offset="0.5261" stop-color="#f8f500"/><stop offset="0.5696" stop-color="#e4ff13"/><stop offset="0.6043" stop-color="#baff3c"/><stop offset="0.6287" stop-color="#8dff6a"/><stop offset="0.6522" stop-color="#60ff97"/><stop offset="0.677" stop-color="#30ffc7"/><stop offset="0.7" stop-color="#00e4f8"/><stop offset="0.7217" stop-color="#0094ff"/><stop offset="0.737" stop-color="#0058ff"/><stop offset="0.7491" stop-color="#002cff"/><stop offset="0.7609" stop-color="#00f"/><stop offset="0.7761" stop-color="#0000a4"/><stop offset="0.7922" stop-color="#000080"/><stop offset="0.8043" stop-color="#000080"/></linearGradient>
<linearGradient id="h100" x2="0" y2="1"><stop offset="0.0043" stop-color="#00a0ff"/><stop offset="0.0304" stop-color="#00b0ff"/><stop offset="0.0696" stop-color="#00c8ff"/><stop offset="0.1087" stop-color="#00e4f8"/><stop offset="0.1522" stop-color="#1fffd7"/><stop offset="0.1957" stop-color="#46ffb1"/><stop offset="0.2478" stop-color="#7dff7a"/><stop offset="0.2826" stop-color="#a0ff56"/><stop offset="0.3261" stop-color="#beff39"/><stop offset="0.3609" stop-color="#d7ff1f"/><stop offset="0.4217" stop-color="#f4f802"/><stop offset="0.4783" stop-color="#ffe600"/><stop offset="0.5261" stop-color="#f8f500"/><stop offset="0.5696" stop-color="#e4ff13"/><stop offset="0.6043" stop-color="#baff3c"/><stop offset="0.6287" stop-color="#8dff6a"/><stop offset="0.6522" stop-color="#60ff97"/><stop offset="0.677" stop-color="#30ffc7"/><stop offset="0.7" stop-color="#00e4f8"/><stop offset="0.7217" stop-color="#0094ff"/><stop offset="0.737" stop-color="#0058ff"/><stop offset="0.7491" stop-color="#002cff"/><stop offset="0.7609" stop-color="#00f"/><stop offset="0.7761" stop-color="#0000a4"/><stop offset="0.7922" stop-color="#000080"/><stop offset="0.8043" stop-color="#000080"/></linearGradient>
<linearGradient id="h101" x2="0" y2="1"><stop offset="0.0043" stop-color="#00a0ff"/><stop offset="0.0304" stop-color="#00b0ff"/><stop offset="0.0696" stop-color="#00c8ff"/><stop offset="0.1087" stop-color="#00e4f8"/><stop offset="0.1522" stop-color="#1fffd7"/><stop offset="0.1957" stop-color="#46ffb1"/><stop offset="0.2478" stop-color="#7dff7a"/><stop offset="0.2826" stop-color="#a0ff56"/><stop offset="0.3261" stop-color="#beff39"/><stop offset="0.3609" stop-color="#d7ff1f"/><stop offset="0.4217" stop-color="#f4f802"/><stop offset="0.4783" stop-color="#ffe600"/><stop offset="0.5261" stop-color="#f8f500"/><stop offset="0.5696" stop-color="#e4ff13"/><stop offset="0.6043" stop-color="#baff3c"/><stop offset="0.6287" stop-color="#8dff6a"/><stop offset="0.6522" stop-color="#60ff97"/><stop offset="0.677" stop-color="#30ffc7"/><stop offset="0.7" stop-color="#00e4f8"/><stop offset="0.7217" stop-color="#0094ff"/><stop offset="0.737" stop-color="#0058ff"/><stop offset="0.7491" stop-color="#002cff"/><stop offset="0.7609" stop-color="#00f"/><stop offset="0.7761" stop-color="#0000a4"/><stop offset="0.7922" stop-color="#000080"/><stop offset="0.8043" stop-color="#000080"/></linearGradient>
<linearGradient id="h102" x2="0" y2="1"><stop offset="0.0043" stop-color="#00a0ff"/><stop offset="0.0304" stop-color="#00b0ff"/><stop offset="0.0696" stop-color="#00c8ff"/><stop offset="0.1087" stop-color="#00e4f8"/><stop offset="0.1522" stop-color="#1fffd7"/><stop offset="0.1957" stop-color="#46ffb1"/><stop offset="0.2478" stop-color="#7dff7a"/><stop offset="0.2826" stop-color="#a0ff56"/><stop offset="0.3261" stop-color="#beff39"/><stop offset="0.3609" stop-color="#d7ff1f"/><stop offset="0.4217" stop-color="#f4f802"/><stop offset="0.4783" stop-color="#ffe600"/><stop offset="0.5261" stop-color="#f8f500"/><stop offset="0.5696" stop-color="#e4ff13"/><stop offset="0.6043" stop-color="#baff3c"/><stop offset="0.6287" stop-color="#8dff6a"/><stop offset="0.6522" stop-color="#60ff97"/><stop offset="0.677" stop-color="#30ffc7"/><stop offset="0.7" stop-color="#00e4f8"/><stop offset="0.7217" stop-color="#0094ff"/><stop offset="0.737" stop-color="#0058ff"/><stop offset="0.7491" stop-color="#002cff"/><stop offset="0.7609" stop-color="#00f"/><stop offset="0.7761" stop-color="#0000a4"/><stop offset="0.7922" stop-color="#000080"/><stop offset="0.8043" stop-color="#000080"/></linearGradient>
<linearGradient id="h103" x2="0" y2="1"><stop offset="0.0043" stop-color="#00a0ff"/><stop offset="0.0304" stop-color="#00b0ff"/><stop offset="0.0696" stop-color="#00c8ff"/><stop offset="0.1087" stop-color="#00e4f8"/><stop offset="0.1522" stop-color="#1fffd7"/><stop offset="0.1957" stop-color="#46ffb1"/><stop offset="0.2478" stop-color="#7dff7a"/><stop offset="0.2826" stop-color="#a0ff56"/><stop offset="0.3261" stop-color="#beff39"/><stop offset="0.3609" stop-color="#d7ff1f"/><stop offset="0.4217" stop-color="#f4f802"/><stop offset="0.4783" stop-color="#ffe600"/><stop offset="0.5261" stop-color="#f8f500"/><stop offset="0.5696" stop-color="#e4ff13"/><stop offset="0.6043" stop-color="#baff3c"/><stop offset="0.6287" stop-color="#8dff6a"/><stop offset="0.6522" stop-color="#60ff97"/><stop offset="0.677" stop-color="#30ffc7"/><stop offset="0.7" stop-color="#00e4f8"/><stop offset="0.7217" stop-color="#0094ff"/><stop offset="0.737" stop-color="#0058ff"/><stop offset="0.7491" stop-color="#002cff"/><stop offset="0.7609" stop-color="#00f"/><stop offset="0.7761" stop-color="#0000a4"/><stop offset="0.7922" stop-color="#000080"/><stop offset="0.8043" stop-color="#000080"/></linearGradient>
<linearGradient id="h104" x2="0" y2="1"><stop offset="0.0043" stop-color="#00a0ff"/><stop offset="0.0304" stop-color="#00b0ff"/><stop offset="0.0696" stop-color="#00c8ff"/><stop offset="0.1087" stop-color="#00e4f8"/><stop offset="0.1522" stop-color="#1fffd7"/><stop offset="0.1957" stop-color="#46ffb1"/><stop offset="0.2478" stop-color="#7dff7a"/><stop offset="0.2826" stop-color="#a0ff56"/><stop offset="0.3261" stop-color="#beff39"/><stop offset="0.3609" stop-color="#d7ff1f"/><stop offset="0.4217" stop-color="#f4f802"/><stop offset="0.4783" stop-color="#ffe600"/><stop offset="0.5261" stop-color="#f8f500"/><stop offset="0.5696" stop-color="#e4ff13"/><stop offset="0.6043" stop-color="#baff3c"/><stop offset="0.6287" stop-color="#8dff6a"/><stop offset="0.6522" stop-color="#60ff97"/><stop offset="0.677" stop-color="#30ffc7"/><stop offset="0.7" stop-color="#00e4f8"/><stop offset="0.7217" stop-color="#0094ff"/><stop offset="0.737" stop-color="#0058ff"/><stop offset="0.7491" stop-color="#002cff"/><stop offset="0.7609" stop-color="#00f"/><stop offset="0.7761" stop-color="#0000a4"/><stop offset="0.7922" stop-color="#000080"/><stop offset="0.8043" stop-color="#000080"/></linearGradient>
<linearGradient id="h105" x2="0" y2="1"><stop offset="0.0043" stop-color="#00a0ff"/><stop offset="0.0304" stop-color="#00b0ff"/><stop offset="0.0696" stop-color="#00c8ff"/><stop offset="0.1087" stop-color="#00e4f8"/><stop offset="0.1522" stop-color="#1fffd7"/><stop offset="0.1957" stop-color="#46ffb1"/><stop offset="0.2478" stop-color="#7dff7a"/><stop offset="0.2826" stop-color="#a0ff56"/><stop offset="0.3261" stop-color="#beff39"/><stop offset="0.3609" stop-color="#d7ff1f"/><stop offset="0.4217" stop-color="#f4f802"/><stop offset="0.4783" stop-color="#ffe600"/><stop offset="0.5261" stop-color="#f8f500"/><stop offset="0.5696" stop-color="#e4ff13"/><stop offset="0.6043" stop-color="#baff3c"/><stop offset="0.6287" stop-color="#8dff6a"/><stop offset="0.6522" stop-color="#60ff97"/><stop offset="0.677" stop-color="#30ffc7"/><stop offset="0.7" stop-color="#00e4f8"/><stop offset="0.7217" stop-color="#0094ff"/><stop offset="0.737" stop-color="#0058ff"/><stop offset="0.7491" stop-color="#002cff"/><stop offset="0.7609" stop-color="#00f"/><stop offset="0.7761" stop-color="#0000a4"/><stop offset="0.7922" stop-color="#000080"/><stop offset="0.8043" stop-color="#000080"/></linearGradient>
<linearGradient id="h106" x2="0" y2="1"><stop offset="0.0043" stop-color="#00a0ff"/><stop offset="0.0304" stop-color="#00b0ff"/><stop offset="0.0696" stop-color="#00c8ff"/><stop offset="0.1087" stop-color="#00e4f8"/><stop offset="0.1522" stop-color="#1fffd7"/><stop offset="0.1957" stop-color="#46ffb1"/><stop offset="0.2478" stop-color="#7dff7a"/><stop offset="0.2826" stop-color="#a0ff56"/><stop offset="0.3261" stop-color="#beff39"/><stop offset="0.3609" stop-color="#d7ff1f"/><stop offset="0.4217" stop-color="#f4f802"/><stop offset="0.4783" stop-color="#ffe600"/><stop offset="0.5261" stop-color="#f8f500"/><stop offset="0.5696" stop-color="#e4ff13"/><stop offset="0.6043" stop-color="#baff3c"/><stop offset="0.6287" stop-color="#8dff6a"/><stop offset="0.6522" stop-color="#60ff97"/><stop offset="0.677" stop-color="#30ffc7"/><stop offset="0.7" stop-color="#00e4f8"/><stop offset="0.7217" stop-color="#0094ff"/><stop offset="0.737" stop-color="#0058ff"/><stop offset="0.7491" stop-color="#002cff"/><stop offset="0.7609" stop-color="#00f"/><stop offset="0.7761" stop-color="#0000a4"/><stop offset="0.7922" stop-color="#000080"/><stop offset="0.8043" stop-color="#000080"/></linearGradient>
<linearGradient id="h107" x2="0" y2="1"><stop offset="0.0043" stop-color="#00a0ff"/><stop offset="0.0304" stop-color="#00b0ff"/><stop offset="0.0696" stop-color="#00c8ff"/><stop offset="0.1087" stop-color="#00e4f8"/><stop offset="0.1522" stop-color="#1fffd7"/><stop offset="0.1957" stop-color="#46ffb1"/><stop offset="0.2478" stop-color="#7dff7a"/><stop offset="0.2826" stop-color="#a0ff56"/><stop offset="0.3261" stop-color="#beff39"/><stop offset="0.3609" stop-color="#d7ff1f"/><stop offset="0.4217" stop-color="#f4f802"/><stop offset="0.4783" stop-color="#ffe600"/><stop offset="0.5261" stop-color="#f8f500"/><stop offset="0.5696" stop-color="#e4ff13"/><stop offset="0.6043" stop-color="#baff3c"/><stop offset="0.6287" stop-color="#8dff6a"/><stop offset="0.6522" stop-color="#60ff97"/><stop offset="0.677" stop-color="#30ffc7"/><stop offset="0.7" stop-color="#00e4f8"/><stop offset="0.7217" stop-color="#0094ff"/><stop offset="0.737" stop-color="#0058ff"/><stop offset="0.7491" stop-color="#002cff"/><stop offset="0.7609" stop-color="#00f"/><stop offset="0.7761" stop-color="#0000a4"/><stop offset="0.7922" stop-color="#000080"/><stop offset="0.8043" stop-color="#000080"/></linearGradient>
<linearGradient id="h108" x2="0" y2="1"><stop offset="0.0043" stop-color="#00a0ff"/><stop offset="0.0304" stop-color="#00b0ff"/><stop offset="0.0696" stop-color="#00c8ff"/><stop offset="0.1087" stop-color="#00e4f8"/><stop offset="0.1522" stop-color="#1fffd7"/><stop offset="0.1957" stop-color="#46ffb1"/><stop offset="0.2478" stop-color="#7dff7a"/><stop offset="0.2826" stop-color="#a0ff56"/><stop offset="0.3261" stop-color="#beff39"/><stop offset="0.3609" stop-color="#d7ff1f"/><stop offset="0.4217" stop-color="#f4f802"/><stop offset="0.4783" stop-color="#ffe600"/><stop offset="0.5261" stop-color="#f8f500"/><stop offset="0.5696" stop-color="#e4ff13"/><stop offset="0.6043" stop-color="#baff3c"/><stop offset="0.6287" stop-color="#8dff6a"/><stop offset="0.6522" stop-color="#60ff97"/><stop offset="0.677" stop-color="#30ffc7"/><stop offset="0.7" stop-color="#00e4f8"/><stop offset="0.7217" stop-color="#0094ff"/><stop offset="0.737" stop-color="#0058ff"/><stop offset="0.7491" stop-color="#002cff"/><stop offset="0.7609" stop-color="#00f"/><stop offset="0.7761" stop-color="#0000a4"/><stop offset="0.7922" stop-color="#000080"/><stop offset="0.8043" stop-color="#000080"/></linearGradient>
<linearGradient id="h109" x2="0" y2="1"><stop offset="0.0043" stop-color="#00a0ff"/><stop offset="0.0304" stop-color="#00b0ff"/><stop offset="0.0696" stop-color="#00c8ff"/><stop offset="0.1087" stop-color="#00e4f8"/><stop offset="0.1522" stop-color="#1fffd7"/><stop offset="0.1957" stop-color="#46ffb1"/><stop offset="0.2478" stop-color="#7dff7a"/><stop offset="0.2826" stop-color="#a0ff56"/><stop offset="0.3261" stop-color="#beff39"/><stop offset="0.3609" stop-color="#d7ff1f"/><stop offset="0.4217" stop-color="#f4f802"/><stop offset="0.4783" stop-color="#ffe600"/><stop offset="0.5261" stop-color="#f8f500"/><stop offset="0.5696" stop-color="#e4ff13"/><stop offset="0.6043" stop-color="#baff3c"/><stop offset="0.6287" stop-color="#8dff6a"/><stop offset="0.6522" stop-color="#60ff97"/><stop offset="0.677" stop-color="#30ffc7"/><stop offset="0.7" stop-color="#00e4f8"/><stop offset="0.7217" stop-color="#0094ff"/><stop offset="0.737" stop-color="#0058ff"/><stop offset="0.7491" stop-color="#002cff"/><stop offset="0.7609" stop-color="#00f"/><stop offset="0.7761" stop-color="#0000a4"/><stop offset="0.7922" stop-color="#000080"/><stop offset="0.8043" stop-color="#000080"/></linearGradient>
<linearGradient id="h110" x2="0" y2="1"><stop offset="0.0043" stop-color="#00a0ff"/><stop offset="0.0304" stop-color="#00b0ff"/><stop offset="0.0696" stop-color="#00c8ff"/><stop offset="0.1087" stop-color="#00e4f8"/><stop offset="0.1522" stop-color="#1fffd7"/><stop offset="0.1957" stop-color="#46ffb1"/><stop offset="0.2478" stop-color="#7dff7a"/><stop offset="0.2826" stop-color="#a0ff56"/><stop offset="0.3261" stop-color="#beff39"/><stop offset="0.3609" stop-color="#d7ff1f"/><stop offset="0.4217" stop-color="#f4f802"/><stop offset="0.4783" stop-color="#ffe600"/><stop offset="0.5261" stop-color="#f8f500"/><stop offset="0.5696" stop-color="#e4ff13"/><stop offset="0.6043" stop-color="#baff3c"/><stop offset="0.6287" stop-color="#8dff6a"/><stop offset="0.6522" stop-color="#60ff97"/><stop offset="0.677" stop-color="#30ffc7"/><stop offset="0.7" stop-color="#00e4f8"/><stop offset="0.7217" stop-color="#0094ff"/><stop offset="0.737" stop-color="#0058ff"/><stop offset="0.7491" stop-color="#002cff"/><stop offset="0.7609" stop-color="#00f"/><stop offset="0.7761" stop-color="#0000a4"/><stop offset="0.7922" stop-color="#000080"/><stop offset="0.8043" stop-color="#000080"/></linearGradient>
<linearGradient id="h111" x2="0" y2="1"><stop offset="0.0043" stop-color="#00a0ff"/><stop offset="0.0304" stop-color="#00b0ff"/><stop offset="0.0696" stop-color="#00c8ff"/><stop offset="0.1087" stop-color="#00e4f8"/><stop offset="0.1522" stop-color="#1fffd7"/><stop offset="0.1957" stop-color="#46ffb1"/><stop offset="0.2478" stop-color="#7dff7a"/><stop offset="0.2826" stop-color="#a0ff56"/><stop offset="0.3261" stop-color="#beff39"/><stop offset="0.3609" stop-color="#d7ff1f"/><stop offset="0.4217" stop-color="#f4f802"/><stop offset="0.4783" stop-color="#ffe600"/><stop offset="0.5261" stop-color="#f8f500"/><stop offset="0.5696" stop-color="#e4ff13"/><stop offset="0.6043" stop-color="#baff3c"/><stop offset="0.6287" stop-color="#8dff6a"/><stop offset="0.6522" stop-color="#60ff97"/><stop offset="0.677" stop-color="#30ffc7"/><stop offset="0.7" stop-color="#00e4f8"/><stop offset="0.7217" stop-color="#0094ff"/><stop offset="0.737" stop-color="#0058ff"/><stop offset="0.7491" stop-color="#002cff"/><stop offset="0.7609" stop-color="#00f"/><stop offset="0.7761" stop-color="#0000a4"/><stop offset="0.7922" stop-color="#000080"/><stop offset="0.8043" stop-color="#000080"/></linearGradient>
<linearGradient id="h112" x2="0" y2="1"><stop offset="0.0043" stop-color="#00a0ff"/><stop offset="0.0304" stop-color="#00b0ff"/><stop offset="0.0696" stop-color="#00c8ff"/><stop offset="0.1087" stop-color="#00e4f8"/><stop offset="0.1522" stop-color="#1fffd7"/><stop offset="0.1957" stop-color="#46ffb1"/><stop offset="0.2478" stop-color="#7dff7a"/><stop offset="0.2826" stop-color="#a0ff56"/><stop offset="0.3261" stop-color="#beff39"/><stop offset="0.3609" stop-color="#d7ff1f"/><stop offset="0.4217" stop-color="#f4f802"/><stop offset="0.4783" stop-color="#ffe600"/><stop offset="0.5261" stop-color="#f8f500"/><stop offset="0.5696" stop-color="#e4ff13"/><stop offset="0.6043" stop-color="#baff3c"/><stop offset="0.6287" stop-color="#8dff6a"/><stop offset="0.6522" stop-color="#60ff97"/><stop offset="0.677" stop-color="#30ffc7"/><stop offset="0.7" stop-color="#00e4f8"/><stop offset="0.7217" stop-color="#0094ff"/><stop offset="0.737" stop-color="#0058ff"/><stop offset="0.7491" stop-color="#002cff"/><stop offset="0.7609" stop-color="#00f"/><stop offset="0.7761" stop-color="#0000a4"/><stop offset="0.7922" stop-color="#000080"/><stop offset="0.8043" stop-color="#000080"/></linearGradient>
<linearGradient id="u0" x2="0" y2="1"><stop offset="-0.0084" stop-color="#00b4ff"/><stop offset="0.0924" stop-color="#00b0ff"/><stop offset="0.2101" stop-color="#00acff"/><stop offset="0.3445" stop-color="#00a8ff"/><stop offset="0.479" stop-color="#00a8ff"/><stop offset="0.6303" stop-color="#00acff"/><stop offset="0.7815" stop-color="#00c0ff"/><stop offset="0.8824" stop-color="#00dcfe"/><stop offset="1" stop-color="#0ff8e7"/></linearGradient>
<linearGradient id="u1" x2="0" y2="1"><stop offset="-0.0084" stop-color="#0098ff"/><stop offset="0.0924" stop-color="#009cff"/><stop offset="0.2101" stop-color="#009cff"/><stop offset="0.3445" stop-color="#00a0ff"/><stop offset="0.479" stop-color="#00a4ff"/><stop offset="0.6303" stop-color="#00a8ff"/><stop offset="0.7815" stop-color="#00c0ff"/><stop offset="0.8824" stop-color="#00dcfe"/><stop offset="1" stop-color="#0ff8e7"/></linearGradient>
<linearGradient id="u2" x2="0" y2="1"><stop offset="-0.0084" stop-color="#006cff"/><stop offset="0.0924" stop-color="#0078ff"/><stop offset="0.2101" stop-color="#0080ff"/><stop offset="0.3445" stop-color="#008cff"/><stop offset="0.479" stop-color="#0098ff"/><stop offset="0.6303" stop-color="#00a4ff"/><stop offset="0.7815" stop-color="#00c0ff"/><stop offset="0.8824" stop-color="#00dcfe"/><stop offset="1" stop-color="#0ff8e7"/></linearGradient>
<linearGradient id="u3" x2="0" y2="1"><stop offset="-0.0084" stop-color="#0090ff"/><stop offset="0.0924" stop-color="#0090ff"/><stop offset="0.2101" stop-color="#0094ff"/><stop offset="0.3445" stop-color="#009cff"/><stop offset="0.479" stop-color="#00a0ff"/><stop offset="0.6303" stop-color="#00a8ff"/><stop offset="0.7815" stop-color="#00c0ff"/><stop offset="0.8824" stop-color="#00dcfe"/><stop offset="1" stop-color="#0ff8e7"/></linearGradient>
<linearGradient id="u4" x2="0" y2="1"><stop offset="-0.0084" stop-color="#0084ff"/><stop offset="0.0924" stop-color="#08f"/><stop offset="0.2101" stop-color="#0090ff"/><stop offset="0.3445" stop-color="#0094ff"/><stop offset="0.479" stop-color="#00a0ff"/><stop offset="0.6303" stop-color="#00a8ff"/><stop offset="0.7815" stop-color="#00c0ff"/><stop offset="0.8824" stop-color="#00dcfe"/><stop offset="1" stop-color="#0ff8e7"/></linearGradient>
<linearGradient id="u5" x2="0" y2="1"><stop offset="-0.0084" stop-color="#0060ff"/><stop offset="0.0924" stop-color="#006cff"/><stop offset="0.2101" stop-color="#007cff"/><stop offset="0.3445" stop-color="#08f"/><stop offset="0.479" stop-color="#0098ff"/><stop offset="0.6303" stop-color="#00a4ff"/><stop offset="0.7815" stop-color="#00c0ff"/><stop offset="0.8824" stop-color="#00dcfe"/><stop offset="1" stop-color="#0ff8e7"/></linearGradient>
<linearGradient id="u6" x2="0" y2="1"><stop offset="-0.0084" stop-color="#008cff"/><stop offset="0.0924" stop-color="#0090ff"/><stop offset="0.2101" stop-color="#0094ff"/><stop offset="0.3445" stop-color="#0098ff"/><stop offset="0.479" stop-color="#00a0ff"/><stop offset="0.6303" stop-color="#00a8ff"/><stop offset="0.7815" stop-color="#00c0ff"/><stop offset="0.8824" stop-color="#00dcfe"/><stop offset="1" stop-color="#0ff8e7"/></linearGradient>
<linearGradient id="u7" x2="0" y2="1"><stop offset="-0.0084" stop-color="#00acff"/><stop offset="0.0924" stop-color="#00a8ff"/><stop offset="0.2101" stop-color="#00a8ff"/><stop offset="0.3445" stop-color="#00a4ff"/><stop offset="0.479" stop-color="#00a8ff"/><stop offset="0.6303" stop-color="#00acff"/><stop offset="0.7815" stop-color="#00c0ff"/><stop offset="0.8824" stop-color="#00dcfe"/><stop offset="1" stop-color="#0ff8e7"/></linearGradient>
<linearGradient id="u8" x2="0" y2="1"><stop offset="-0.0084" stop-color="#0090ff"/><stop offset="0.0924" stop-color="#0094ff"/><stop offset="0.2101" stop-color="#0094ff"/><stop offset="0.3445" stop-color="#009cff"/><stop offset="0.479" stop-color="#00a0ff"/><stop offset="0.6303" stop-color="#00a8ff"/><stop offset="0.7815" stop-color="#00c0ff"/><stop offset="0.8824" stop-color="#00dcfe"/><stop offset="1" stop-color="#0ff8e7"/></linearGradient>
<linearGradient id="u9" x2="0" y2="1"><stop offset="-0.0084" stop-color="#008cff"/><stop offset="0.0924" stop-color="#0090ff"/><stop offset="0.2101" stop-color="#0094ff"/><stop offset="0.3445" stop-color="#0098ff"/><stop offset="0.479" stop-color="#00a0ff"/><stop offset="0.6303" stop-color="#00a8ff"/><stop offset="0.7815" stop-color="#00c0ff"/><stop offset="0.8824" stop-color="#00dcfe"/><stop offset="1" stop-color="#0ff8e7"/></linearGradient>
<linearGradient id="u10" x2="0" y2="1"><stop offset="-0.0084" stop-color="#0090ff"/><stop offset="0.0924" stop-color="#0094ff"/><stop offset="0.2101" stop-color="#0098ff"/><stop offset="0.3445" stop-color="#009cff"/><stop offset="0.479" stop-color="#00a0ff"/><stop offset="0.6303" stop-color="#00a8ff"/><stop offset="0.7815" stop-color="#00c0ff"/><stop offset="0.8824" stop-color="#00dcfe"/><stop offset="1" stop-color="#0ff8e7"/></linearGradient>
<linearGradient id="u11" x2="0" y2="1"><stop offset="-0.0084" stop-color="#08f"/><stop offset="0.0924" stop-color="#008cff"/><stop offset="0.2101" stop-color="#0094ff"/><stop offset="0.3445" stop-color="#0098ff"/><stop offset="0.479" stop-color="#00a0ff"/><stop offset="0.6303" stop-color="#00a8ff"/><stop offset="0.7815" stop-color="#00c0ff"/><stop offset="0.8824" stop-color="#00dcfe"/><stop offset="1" stop-color="#0ff8e7"/></linearGradient>
<linearGradient id="u12" x2="0" y2="1"><stop offset="-0.0084" stop-color="#0098ff"/><stop offset="0.0924" stop-color="#009cff"/><stop offset="0.2101" stop-color="#009cff"/><stop offset="0.3445" stop-color="#00a0ff"/><stop offset="0.479" stop-color="#00a4ff"/><stop offset="0.6303" stop-color="#00a8ff"/><stop offset="0.7815" stop-color="#00c0ff"/><stop offset="0.8824" stop-color="#00dcfe"/><stop offset="1" stop-color="#0ff8e7"/></linearGradient>
<linearGradient id="u13" x2="0" y2="1"><stop offset="-0.0084" stop-color="#08f"/><stop offset="0.0924" stop-color="#008cff"/><stop offset="0.2101" stop-color="#0090ff"/><stop offset="0.3445" stop-color="#0098ff"/><stop offset="0.479" stop-color="#00a0ff"/><stop offset="0.6303" stop-color="#00a8ff"/><stop offset="0.7815" stop-color="#00c0ff"/><stop offset="0.8824" stop-color="#00dcfe"/><stop offset="1" stop-color="#0ff8e7"/></linearGradient>
<linearGradient id="u14" x2="0" y2="1"><stop offset="-0.0084" stop-color="#0074ff"/><stop offset="0.0924" stop-color="#007cff"/><stop offset="0.2101" stop-color="#0084ff"/><stop offset="0.3445" stop-color="#0090ff"/><stop offset="0.479" stop-color="#009cff"/><stop offset="0.6303" stop-color="#00a4ff"/><stop offset="0.7815" stop-color="#00c0ff"/><stop offset="0.8824" stop-color="#00dcfe"/><stop offset="1" stop-color="#0ff8e7"/></linearGradient>
<linearGradient id="u15" x2="0" y2="1"><stop offset="-0.0084" stop-color="#0090ff"/><stop offset="0.0924" stop-color="#0094ff"/><stop offset="0.2101" stop-color="#0098ff"/><stop offset="0.3445" stop-color="#009cff"/><stop offset="0.479" stop-color="#00a0ff"/><stop offset="0.6303" stop-color="#00a8ff"/><stop offset="0.7815" stop-color="#00c0ff"/><stop offset="0.8824" stop-color="#00dcfe"/><stop offset="1" stop-color="#0ff8e7"/></linearGradient>
<linearGradient id="u16" x2="0" y2="1"><stop offset="-0.0084" stop-color="#0074ff"/><stop offset="0.0924" stop-color="#007cff"/><stop offset="0.2101" stop-color="#0084ff"/><stop offset="0.3445" stop-color="#0090ff"/><stop offset="0.479" stop-color="#009cff"/><stop offset="0.6303" stop-color="#00a8ff"/><stop offset="0.7815" stop-color="#00c0ff"/><stop offset="0.8824" stop-color="#00dcfe"/><stop offset="1" stop-color="#0ff8e7"/></linearGradient>
<linearGradient id="u17" x2="0" y2="1"><stop offset="-0.0084" stop-color="#0094ff"/><stop offset="0.0924" stop-color="#0094ff"/><stop offset="0.2101" stop-color="#0098ff"/><stop offset="0.3445" stop-color="#009cff"/><stop offset="0.479" stop-color="#00a0ff"/><stop offset="0.6303" stop-color="#00a8ff"/><stop offset="0.7815" stop-color="#00c0ff"/><stop offset="0.8824" stop-color="#00dcfe"/><stop offset="1" stop-color="#0ff8e7"/></linearGradient>
<linearGradient id="u18" x2="0" y2="1"><stop offset="-0.0084" stop-color="#0094ff"/><stop offset="0.0924" stop-color="#0094ff"/><stop offset="0.2101" stop-color="#0098ff"/><stop offset="0.3445" stop-color="#009cff"/><stop offset="0.479" stop-color="#00a0ff"/><stop offset="0.6303" stop-color="#00a8ff"/><stop offset="0.7815" stop-color="#00c0ff"/><stop offset="0.8824" stop-color="#00dcfe"/><stop offset="1" stop-color="#0ff8e7"/></linearGradient>
<linearGradient id="u19" x2="0" y2="1"><stop offset="-0.0084" stop-color="#007cff"/><stop offset="0.0924" stop-color="#0080ff"/><stop offset="0.2101" stop-color="#08f"/><stop offset="0.3445" stop-color="#0094ff"/><stop offset="0.479" stop-color="#009cff"/><stop offset="0.6303" stop-color="#00a8ff"/><stop offset="0.7815" stop-color="#00c0ff"/><stop offset="0.8824" stop-color="#00dcfe"/><stop offset="1" stop-color="#0ff8e7"/></linearGradient>
<linearGradient id="u20" x2="0" y2="1"><stop offset="-0.0084" stop-color="#007cff"/><stop offset="0.0924" stop-color="#0084ff"/><stop offset="0.2101" stop-color="#008cff"/><stop offset="0.3445" stop-color="#0094ff"/><stop offset="0.479" stop-color="#009cff"/><stop offset="0.6303" stop-color="#00a8ff"/><stop offset="0.7815" stop-color="#00c0ff"/><stop offset="0.8824" stop-color="#00dcfe"/><stop offset="1" stop-color="#0ff8e7"/></linearGradient>
<linearGradient id="u21" x2="0" y2="1"><stop offset="-0.0084" stop-color="#08f"/><stop offset="0.0924" stop-color="#008cff"/><stop offset="0.2101" stop-color="#0090ff"/><stop offset="0.3445" stop-color="#0098ff"/><stop offset="0.479" stop-color="#00a0ff"/><stop offset="0.6303" stop-color="#00a8ff"/><stop offset="0.7815" stop-color="#00c0ff"/><stop offset="0.8824" stop-color="#00dcfe"/><stop offset="1" stop-color="#0ff8e7"/></linearGradient>
<linearGradient id="u22" x2="0" y2="1"><stop offset="-0.0084" stop-color="#0090ff"/><stop offset="0.0924" stop-color="#0094ff"/><stop offset="0.2101" stop-color="#0094ff"/><stop offset="0.3445" stop-color="#009cff"/><stop offset="0.479" stop-color="#00a0ff"/><stop offset="0.6303" stop-color="#00a8ff"/><stop offset="0.7815" stop-color="#00c0ff"/><stop offset="0.8824" stop-color="#00dcfe"/><stop offset="1" stop-color="#0ff8e7"/></linearGradient>
<linearGradient id="u23" x2="0" y2="1"><stop offset="-0.0084" stop-color="#0078ff"/><stop offset="0.0924" stop-color="#0080ff"/><stop offset="0.2101" stop-color="#08f"/><stop offset="0.3445" stop-color="#0090ff"/><stop offset="0.479" stop-color="#009cff"/><stop offset="0.6303" stop-color="#00a8ff"/><stop offset="0.7815" stop-color="#00c0ff"/><stop offset="0.8824" stop-color="#00dcfe"/><stop offset="1" stop-color="#0ff8e7"/></linearGradient>
<linearGradient id="u24" x2="0" y2="1"><stop offset="-0.0084" stop-color="#0080ff"/><stop offset="0.0924" stop-color="#08f"/><stop offset="0.2101" stop-color="#008cff"/><stop offset="0.3445" stop-color="#0094ff"/><stop offset="0.479" stop-color="#009cff"/><stop offset="0.6303" stop-color="#00a8ff"/><stop offset="0.7815" stop-color="#00c0ff"/><stop offset="0.8824" stop-color="#00dcfe"/><stop offset="1" stop-color="#0ff8e7"/></linearGradient>
<linearGradient id="u25" x2="0" y2="1"><stop offset="-0.0084" stop-color="#0084ff"/><stop offset="0.0924" stop-color="#08f"/><stop offset="0.2101" stop-color="#0090ff"/><stop offset="0.3445" stop-color="#0094ff"/><stop offset="0.479" stop-color="#00a0ff"/><stop offset="0.6303" stop-color="#00a8ff"/><stop offset="0.7815" stop-color="#00c0ff"/><stop offset="0.8824" stop-color="#00dcfe"/><stop offset="1" stop-color="#0ff8e7"/></linearGradient>
<linearGradient id="u26" x2="0" y2="1"><stop offset="-0.0084" stop-color="#0078ff"/><stop offset="0.0924" stop-color="#0080ff"/><stop offset="0.2101" stop-color="#08f"/><stop offset="0.3445" stop-color="#0090ff"/><stop offset="0.479" stop-color="#009cff"/><stop offset="0.6303" stop-color="#00a8ff"/><stop offset="0.7815" stop-color="#00c0ff"/><stop offset="0.8824" stop-color="#00dcfe"/><stop offset="1" stop-color="#0ff8e7"/></linearGradient>
<linearGradient id="u27" x2="0" y2="1"><stop offset="-0.0084" stop-color="#0098ff"/><stop offset="0.0924" stop-color="#0098ff"/><stop offset="0.2101" stop-color="#009cff"/><stop offset="0.3445" stop-color="#009cff"/><stop offset="0.479" stop-color="#00a4ff"/><stop offset="0.6303" stop-color="#00a8ff"/><stop offset="0.7815" stop-color="#00c0ff"/><stop offset="0.8824" stop-color="#00dcfe"/><stop offset="1" stop-color="#0ff8e7"/></linearGradient>
<linearGradient id="u28" x2="0" y2="1"><stop offset="-0.0084" stop-color="#0000cd"/><stop offset="0.0924" stop-color="#00f"/><stop offset="0.2101" stop-color="#001cff"/><stop offset="0.3445" stop-color="#004cff"/><stop offset="0.479" stop-color="#0074ff"/><stop offset="0.6303" stop-color="#0094ff"/><stop offset="0.7815" stop-color="#00c0ff"/><stop offset="0.8824" stop-color="#00dcfe"/><stop offset="1" stop-color="#0ff8e7"/></linearGradient>
<linearGradient id="u29" x2="0" y2="1"><stop offset="-0.0084" stop-color="#00b"/><stop offset="0.0924" stop-color="#0000f1"/><stop offset="0.2101" stop-color="#0014ff"/><stop offset="0.3445" stop-color="#04f"/><stop offset="0.479" stop-color="#0070ff"/><stop offset="0.6303" stop-color="#0094ff"/><stop offset="0.7815" stop-color="#00c0ff"/><stop offset="0.8824" stop-color="#00dcfe"/><stop offset="1" stop-color="#0ff8e7"/></linearGradient>
<linearGradient id="u30" x2="0" y2="1"><stop offset="-0.0084" stop-color="#0000d1"/><stop offset="0.0924" stop-color="#00f"/><stop offset="0.2101" stop-color="#0020ff"/><stop offset="0.3445" stop-color="#004cff"/><stop offset="0.479" stop-color="#0074ff"/><stop offset="0.6303" stop-color="#0094ff"/><stop offset="0.7815" stop-color="#00c0ff"/><stop offset="0.8824" stop-color="#00dcfe"/><stop offset="1" stop-color="#0ff8e7"/></linearGradient>
<linearGradient id="u31" x2="0" y2="1"><stop offset="-0.0084" stop-color="#0000ad"/><stop offset="0.0924" stop-color="#0000e8"/><stop offset="0.2101" stop-color="#000cff"/><stop offset="0.3445" stop-color="#0040ff"/><stop offset="0.479" stop-color="#006cff"/><stop offset="0.6303" stop-color="#0094ff"/><stop offset="0.7815" stop-color="#00c0ff"/><stop offset="0.8824" stop-color="#00dcfe"/><stop offset="1" stop-color="#0ff8e7"/></linearGradient>
<linearGradient id="u32" x2="0" y2="1"><stop offset="-0.0084" stop-color="#000092"/><stop offset="0.0924" stop-color="#0000cd"/><stop offset="0.2101" stop-color="#00f"/><stop offset="0.3445" stop-color="#0038ff"/><stop offset="0.479" stop-color="#0068ff"/><stop offset="0.6303" stop-color="#0090ff"/><stop offset="0.7815" stop-color="#00c0ff"/><stop offset="0.8824" stop-color="#00dcfe"/><stop offset="1" stop-color="#0ff8e7"/></linearGradient>
<linearGradient id="u33" x2="0" y2="1"><stop offset="-0.0084" stop-color="#0000da"/><stop offset="0.0924" stop-color="#00f"/><stop offset="0.2101" stop-color="#0024ff"/><stop offset="0.3445" stop-color="#0050ff"/><stop offset="0.479" stop-color="#0074ff"/><stop offset="0.6303" stop-color="#0098ff"/><stop offset="0.7815" stop-color="#00c0ff"/><stop offset="0.8824" stop-color="#00dcfe"/><stop offset="1" stop-color="#0ff8e7"/></linearGradient>
<linearGradient id="u34" x2="0" y2="1"><stop offset="-0.0084" stop-color="#0068ff"/><stop offset="0.0924" stop-color="#0074ff"/><stop offset="0.2101" stop-color="#0080ff"/><stop offset="0.3445" stop-color="#008cff"/><stop offset="0.479" stop-color="#0098ff"/><stop offset="0.6303" stop-color="#00a4ff"/><stop offset="0.7815" stop-color="#00c0ff"/><stop offset="0.8824" stop-color="#00dcfe"/><stop offset="1" stop-color="#0ff8e7"/></linearGradient>
<linearGradient id="u35" x2="0" y2="1"><stop offset="-0.0084" stop-color="#00f"/><stop offset="0.0924" stop-color="#0020ff"/><stop offset="0.2101" stop-color="#0040ff"/><stop offset="0.3445" stop-color="#0064ff"/><stop offset="0.479" stop-color="#0080ff"/><stop offset="0.6303" stop-color="#009cff"/><stop offset="0.7815" stop-color="#00c0ff"/><stop offset="0.8824" stop-color="#00dcfe"/><stop offset="1" stop-color="#0ff8e7"/></linearGradient>
<linearGradient id="u36" x2="0" y2="1"><stop offset="-0.0084" stop-color="#0000fa"/><stop offset="0.0924" stop-color="#0010ff"/><stop offset="0.2101" stop-color="#0034ff"/><stop offset="0.3445" stop-color="#005cff"/><stop offset="0.479" stop-color="#007cff"/><stop offset="0.6303" stop-color="#0098ff"/><stop offset="0.7815" stop-color="#00c0ff"/><stop offset="0.8824" stop-color="#00dcfe"/><stop offset="1" stop-color="#0ff8e7"/></linearGradient>
<linearGradient id="u37" x2="0" y2="1"><stop offset="-0.0084" stop-color="#0000e8"/><stop offset="0.0924" stop-color="#0004ff"/><stop offset="0.2101" stop-color="#002cff"/><stop offset="0.3445" stop-color="#0054ff"/><stop offset="0.479" stop-color="#0078ff"/><stop offset="0.6303" stop-color="#0098ff"/><stop offset="0.7815" stop-color="#00c0ff"/><stop offset="0.8824" stop-color="#00dcfe"/><stop offset="1" stop-color="#0ff8e7"/></linearGradient>
<linearGradient id="u38" x2="0" y2="1"><stop offset="-0.0084" stop-color="#00f"/><stop offset="0.0924" stop-color="#001cff"/><stop offset="0.2101" stop-color="#0040ff"/><stop offset="0.3445" stop-color="#0060ff"/><stop offset="0.479" stop-color="#0080ff"/><stop offset="0.6303" stop-color="#009cff"/><stop offset="0.7815" stop-color="#00c0ff"/><stop offset="0.8824" stop-color="#00dcfe"/><stop offset="1" stop-color="#0ff8e7"/></linearGradient>
<linearGradient id="u39" x2="0" y2="1"><stop offset="-0.0084" stop-color="#0000c4"/><stop offset="0.0924" stop-color="#0000f6"/><stop offset="0.2101" stop-color="#0018ff"/><stop offset="0.3445" stop-color="#0048ff"/><stop offset="0.479" stop-color="#0070ff"/><stop offset="0.6303" stop-color="#0094ff"/><stop offset="0.7815" stop-color="#00c0ff"/><stop offset="0.8824" stop-color="#00dcfe"/><stop offset="1" stop-color="#0ff8e7"/></linearGradient>
<linearGradient id="u40" x2="0" y2="1"><stop offset="-0.0084" stop-color="#0000f6"/><stop offset="0.0924" stop-color="#000cff"/><stop offset="0.2101" stop-color="#0030ff"/><stop offset="0.3445" stop-color="#0058ff"/><stop offset="0.479" stop-color="#007cff"/><stop offset="0.6303" stop-color="#0098ff"/><stop offset="0.7815" stop-color="#00c0ff"/><stop offset="0.8824" stop-color="#00dcfe"/><stop offset="1" stop-color="#0ff8e7"/></linearGradient>
<linearGradient id="u41" x2="0" y2="1"><stop offset="-0.0084" stop-color="#0000b6"/><stop offset="0.0924" stop-color="#0000ed"/><stop offset="0.2101" stop-color="#0010ff"/><stop offset="0.3445" stop-color="#04f"/><stop offset="0.479" stop-color="#0070ff"/><stop offset="0.6303" stop-color="#0094ff"/><stop offset="0.7815" stop-color="#00c0ff"/><stop offset="0.8824" stop-color="#00dcfe"/><stop offset="1" stop-color="#0ff8e7"/></linearGradient>
<linearGradient id="u42" x2="0" y2="1"><stop offset="-0.0084" stop-color="#0054ff"/><stop offset="0.0924" stop-color="#0060ff"/><stop offset="0.2101" stop-color="#0070ff"/><stop offset="0.3445" stop-color="#0084ff"/><stop offset="0.479" stop-color="#0094ff"/><stop offset="0.6303" stop-color="#00a4ff"/><stop offset="0.7815" stop-color="#00c0ff"/><stop offset="0.8824" stop-color="#00dcfe"/><stop offset="1" stop-color="#0ff8e7"/></linearGradient>
<linearGradient id="u43" x2="0" y2="1"><stop offset="-0.0084" stop-color="#0004ff"/><stop offset="0.0924" stop-color="#0020ff"/><stop offset="0.2101" stop-color="#04f"/><stop offset="0.3445" stop-color="#0064ff"/><stop offset="0.479" stop-color="#0080ff"/><stop offset="0.6303" stop-color="#009cff"/><stop offset="0.7815" stop-color="#00c0ff"/><stop offset="0.8824" stop-color="#00dcfe"/><stop offset="1" stop-color="#0ff8e7"/></linearGradient>
<linearGradient id="u44" x2="0" y2="1"><stop offset="-0.0084" stop-color="#0050ff"/><stop offset="0.0924" stop-color="#0060ff"/><stop offset="0.2101" stop-color="#0070ff"/><stop offset="0.3445" stop-color="#0080ff"/><stop offset="0.479" stop-color="#0094ff"/><stop offset="0.6303" stop-color="#00a4ff"/><stop offset="0.7815" stop-color="#00c0ff"/><stop offset="0.8824" stop-color="#00dcfe"/><stop offset="1" stop-color="#0ff8e7"/></linearGradient>
<linearGradient id="u45" x2="0" y2="1"><stop offset="-0.0084" stop-color="#0054ff"/><stop offset="0.0924" stop-color="#0064ff"/><stop offset="0.2101" stop-color="#0074ff"/><stop offset="0.3445" stop-color="#0084ff"/><stop offset="0.479" stop-color="#0094ff"/><stop offset="0.6303" stop-color="#00a4ff"/><stop offset="0.7815" stop-color="#00c0ff"/><stop offset="0.8824" stop-color="#00dcfe"/><stop offset="1" stop-color="#0ff8e7"/></linearGradient>
<linearGradient id="u46" x2="0" y2="1"><stop offset="-0.0084" stop-color="#005cff"/><stop offset="0.0924" stop-color="#0068ff"/><stop offset="0.2101" stop-color="#0078ff"/><stop offset="0.3445" stop-color="#08f"/><stop offset="0.479" stop-color="#0094ff"/><stop offset="0.6303" stop-color="#00a4ff"/><stop offset="0.7815" stop-color="#00c0ff"/><stop offset="0.8824" stop-color="#00dcfe"/><stop offset="1" stop-color="#0ff8e7"/></linearGradient>
<linearGradient id="u47" x2="0" y2="1"><stop offset="-0.0084" stop-color="#006cff"/><stop offset="0.0924" stop-color="#0078ff"/><stop offset="0.2101" stop-color="#0080ff"/><stop offset="0.3445" stop-color="#008cff"/><stop offset="0.479" stop-color="#0098ff"/><stop offset="0.6303" stop-color="#00a4ff"/><stop offset="0.7815" stop-color="#00c0ff"/><stop offset="0.8824" stop-color="#00dcfe"/><stop offset="1" stop-color="#0ff8e7"/></linearGradient>
<linearGradient id="u48" x2="0" y2="1"><stop offset="-0.0084" stop-color="#0078ff"/><stop offset="0.0924" stop-color="#0080ff"/><stop offset="0.2101" stop-color="#08f"/><stop offset="0.3445" stop-color="#0090ff"/><stop offset="0.479" stop-color="#009cff"/><stop offset="0.6303" stop-color="#00a8ff"/><stop offset="0.7815" stop-color="#00c0ff"/><stop offset="0.8824" stop-color="#00dcfe"/><stop offset="1" stop-color="#0ff8e7"/></linearGradient>
<linearGradient id="u49" x2="0" y2="1"><stop offset="-0.0084" stop-color="#007cff"/><stop offset="0.0924" stop-color="#0084ff"/><stop offset="0.2101" stop-color="#08f"/><stop offset="0.3445" stop-color="#0094ff"/><stop offset="0.479" stop-color="#009cff"/><stop offset="0.6303" stop-color="#00a8ff"/><stop offset="0.7815" stop-color="#00c0ff"/><stop offset="0.8824" stop-color="#00dcfe"/><stop offset="1" stop-color="#0ff8e7"/></linearGradient>
<linearGradient id="u50" x2="0" y2="1"><stop offset="-0.0084" stop-color="#0068ff"/><stop offset="0.0924" stop-color="#0074ff"/><stop offset="0.2101" stop-color="#0080ff"/><stop offset="0.3445" stop-color="#008cff"/><stop offset="0.479" stop-color="#0098ff"/><stop offset="0.6303" stop-color="#00a4ff"/><stop offset="0.7815" stop-color="#00c0ff"/><stop offset="0.8824" stop-color="#00dcfe"/><stop offset="1" stop-color="#0ff8e7"/></linearGradient>
<linearGradient id="u51" x2="0" y2="1"><stop offset="-0.0084" stop-color="#0078ff"/><stop offset="0.0924" stop-color="#0080ff"/><stop offset="0.2101" stop-color="#08f"/><stop offset="0.3445" stop-color="#0090ff"/><stop offset="0.479" stop-color="#009cff"/><stop offset="0.6303" stop-color="#00a8ff"/><stop offset="0.7815" stop-color="#00c0ff"/><stop offset="0.8824" stop-color="#00dcfe"/><stop offset="1" stop-color="#0ff8e7"/></linearGradient>
<linearGradient id="u52" x2="0" y2="1"><stop offset="-0.0084" stop-color="#0074ff"/><stop offset="0.0924" stop-color="#007cff"/><stop offset="0.2101" stop-color="#0084ff"/><stop offset="0.3445" stop-color="#0090ff"/><stop offset="0.479" stop-color="#009cff"/><stop offset="0.6303" stop-color="#00a4ff"/><stop offset="0.7815" stop-color="#00c0ff"/><stop offset="0.8824" stop-color="#00dcfe"/><stop offset="1" stop-color="#0ff8e7"/></linearGradient>
<linearGradient id="u53" x2="0" y2="1"><stop offset="-0.0084" stop-color="#0068ff"/><stop offset="0.0924" stop-color="#0070ff"/><stop offset="0.2101" stop-color="#007cff"/><stop offset="0.3445" stop-color="#008cff"/><stop offset="0.479" stop-color="#0098ff"/><stop offset="0.6303" stop-color="#00a4ff"/><stop offset="0.7815" stop-color="#00c0ff"/><stop offset="0.8824" stop-color="#00dcfe"/><stop offset="1" stop-color="#0ff8e7"/></linearGradient>
<linearGradient id="u54" x2="0" y2="1"><stop offset="-0.0084" stop-color="#0068ff"/><stop offset="0.0924" stop-color="#0070ff"/><stop offset="0.2101" stop-color="#007cff"/><stop offset="0.3445" stop-color="#008cff"/><stop offset="0.479" stop-color="#0098ff"/><stop offset="0.6303" stop-color="#00a4ff"/><stop offset="0.7815" stop-color="#00c0ff"/><stop offset="0.8824" stop-color="#00dcfe"/><stop offset="1" stop-color="#0ff8e7"/></linearGradient>
<linearGradient id="u55" x2="0" y2="1"><stop offset="-0.0084" stop-color="#0064ff"/><stop offset="0.0924" stop-color="#0070ff"/><stop offset="0.2101" stop-color="#007cff"/><stop offset="0.3445" stop-color="#08f"/><stop offset="0.479" stop-color="#0098ff"/><stop offset="0.6303" stop-color="#00a4ff"/><stop offset="0.7815" stop-color="#00c0ff"/><stop offset="0.8824" stop-color="#00dcfe"/><stop offset="1" stop-color="#0ff8e7"/></linearGradient>
<linearGradient id="u56" x2="0" y2="1"><stop offset="-0.0084" stop-color="#006cff"/><stop offset="0.0924" stop-color="#0074ff"/><stop offset="0.2101" stop-color="#0080ff"/><stop offset="0.3445" stop-color="#008cff"/><stop offset="0.479" stop-color="#0098ff"/><stop offset="0.6303" stop-color="#00a4ff"/><stop offset="0.7815" stop-color="#00c0ff"/><stop offset="0.8824" stop-color="#00dcfe"/><stop offset="1" stop-color="#0ff8e7"/></linearGradient>
<linearGradient id="u57" x2="0" y2="1"><stop offset="-0.0084" stop-color="#0058ff"/><stop offset="0.0924" stop-color="#0068ff"/><stop offset="0.2101" stop-color="#0074ff"/><stop offset="0.3445" stop-color="#0084ff"/><stop offset="0.479" stop-color="#0094ff"/><stop offset="0.6303" stop-color="#00a4ff"/><stop offset="0.7815" stop-color="#00c0ff"/><stop offset="0.8824" stop-color="#00dcfe"/><stop offset="1" stop-color="#0ff8e7"/></linearGradient>
<linearGradient id="u58" x2="0" y2="1"><stop offset="-0.0084" stop-color="#0060ff"/><stop offset="0.0924" stop-color="#006cff"/><stop offset="0.2101" stop-color="#007cff"/><stop offset="0.3445" stop-color="#08f"/><stop offset="0.479" stop-color="#0098ff"/><stop offset="0.6303" stop-color="#00a4ff"/><stop offset="0.7815" stop-color="#00c0ff"/><stop offset="0.8824" stop-color="#00dcfe"/><stop offset="1" stop-color="#0ff8e7"/></linearGradient>
<linearGradient id="u59" x2="0" y2="1"><stop offset="-0.0084" stop-color="#0068ff"/><stop offset="0.0924" stop-color="#0070ff"/><stop offset="0.2101" stop-color="#007cff"/><stop offset="0.3445" stop-color="#008cff"/><stop offset="0.479" stop-color="#0098ff"/><stop offset="0.6303" stop-color="#00a4ff"/><stop offset="0.7815" stop-color="#00c0ff"/><stop offset="0.8824" stop-color="#00dcfe"/><stop offset="1" stop-color="#0ff8e7"/></linearGradient>
<linearGradient id="u60" x2="0" y2="1"><stop offset="-0.0084" stop-color="#006cff"/><stop offset="0.0924" stop-color="#0074ff"/><stop offset="0.2101" stop-color="#0080ff"/><stop offset="0.3445" stop-color="#008cff"/><stop offset="0.479" stop-color="#0098ff"/><stop offset="0.6303" stop-color="#00a4ff"/><stop offset="0.7815" stop-color="#00c0ff"/><stop offset="0.8824" stop-color="#00dcfe"/><stop offset="1" stop-color="#0ff8e7"/></linearGradient>
<linearGradient id="u61" x2="0" y2="1"><stop offset="-0.0084" stop-color="#006cff"/><stop offset="0.0924" stop-color="#0078ff"/><stop offset="0.2101" stop-color="#0080ff"/><stop offset="0.3445" stop-color="#008cff"/><stop offset="0.479" stop-color="#0098ff"/><stop offset="0.6303" stop-color="#00a4ff"/><stop offset="0.7815" stop-color="#00c0ff"/><stop offset="0.8824" stop-color="#00dcfe"/><stop offset="1" stop-color="#0ff8e7"/></linearGradient>
<linearGradient id="u62" x2="0" y2="1"><stop offset="-0.0084" stop-color="#0070ff"/><stop offset="0.0924" stop-color="#007cff"/><stop offset="0.2101" stop-color="#0084ff"/><stop offset="0.3445" stop-color="#0090ff"/><stop offset="0.479" stop-color="#0098ff"/><stop offset="0.6303" stop-color="#00a4ff"/><stop offset="0.7815" stop-color="#00c0ff"/><stop offset="0.8824" stop-color="#00dcfe"/><stop offset="1" stop-color="#0ff8e7"/></linearGradient>
<linearGradient id="u63" x2="0" y2="1"><stop offset="-0.0084" stop-color="#0090ff"/><stop offset="0.0924" stop-color="#0090ff"/><stop offset="0.2101" stop-color="#0094ff"/><stop offset="0.3445" stop-color="#009cff"/><stop offset="0.479" stop-color="#00a0ff"/><stop offset="0.6303" stop-color="#00a8ff"/><stop offset="0.7815" stop-color="#00c0ff"/><stop offset="0.8824" stop-color="#00dcfe"/><stop offset="1" stop-color="#0ff8e7"/></linearGradient>
<linearGradient id="u64" x2="0" y2="1"><stop offset="-0.0084" stop-color="#0098ff"/><stop offset="0.0924" stop-color="#0098ff"/><stop offset="0.2101" stop-color="#009cff"/><stop offset="0.3445" stop-color="#009cff"/><stop offset="0.479" stop-color="#00a4ff"/><stop offset="0.6303" stop-color="#00a8ff"/><stop offset="0.7815" stop-color="#00c0ff"/><stop offset="0.8824" stop-color="#00dcfe"/><stop offset="1" stop-color="#0ff8e7"/></linearGradient>
<linearGradient id="u65" x2="0" y2="1"><stop offset="-0.0084" stop-color="#0080ff"/><stop offset="0.0924" stop-color="#08f"/><stop offset="0.2101" stop-color="#008cff"/><stop offset="0.3445" stop-color="#0094ff"/><stop offset="0.479" stop-color="#009cff"/><stop offset="0.6303" stop-color="#00a8ff"/><stop offset="0.7815" stop-color="#00c0ff"/><stop offset="0.8824" stop-color="#00dcfe"/><stop offset="1" stop-color="#0ff8e7"/></linearGradient>
<linearGradient id="u66" x2="0" y2="1"><stop offset="-0.0084" stop-color="#00a0ff"/><stop offset="0.0924" stop-color="#00a0ff"/><stop offset="0.2101" stop-color="#00a0ff"/><stop offset="0.3445" stop-color="#00a0ff"/><stop offset="0.479" stop-color="#00a4ff"/><stop offset="0.6303" stop-color="#00acff"/><stop offset="0.7815" stop-color="#00c0ff"/><stop offset="0.8824" stop-color="#00dcfe"/><stop offset="1" stop-color="#0ff8e7"/></linearGradient>
<linearGradient id="u67" x2="0" y2="1"><stop offset="-0.0084" stop-color="#00b0ff"/><stop offset="0.0924" stop-color="#00acff"/><stop offset="0.2101" stop-color="#00a8ff"/><stop offset="0.3445" stop-color="#00a8ff"/><stop offset="0.479" stop-color="#00a8ff"/><stop offset="0.6303" stop-color="#00acff"/><stop offset="0.7815" stop-color="#00c0ff"/><stop offset="0.8824" stop-color="#00dcfe"/><stop offset="1" stop-color="#0ff8e7"/></linearGradient>
<linearGradient id="u68" x2="0" y2="1"><stop offset="-0.0084" stop-color="#0094ff"/><stop offset="0.0924" stop-color="#0094ff"/><stop offset="0.2101" stop-color="#0098ff"/><stop offset="0.3445" stop-color="#009cff"/><stop offset="0.479" stop-color="#00a0ff"/><stop offset="0.6303" stop-color="#00a8ff"/><stop offset="0.7815" stop-color="#00c0ff"/><stop offset="0.8824" stop-color="#00dcfe"/><stop offset="1" stop-color="#0ff8e7"/></linearGradient>
<linearGradient id="u69" x2="0" y2="1"><stop offset="-0.0084" stop-color="#00b8ff"/><stop offset="0.0924" stop-color="#00b0ff"/><stop offset="0.2101" stop-color="#00acff"/><stop offset="0.3445" stop-color="#00a8ff"/><stop offset="0.479" stop-color="#00a8ff"/><stop offset="0.6303" stop-color="#00a8ff"/><stop offset="0.7815" stop-color="#00bcff"/><stop offset="0.8824" stop-color="#00d8ff"/><stop offset="1" stop-color="#0cf4eb"/></linearGradient>
<linearGradient id="u70" x2="0" y2="1"><stop offset="-0.0084" stop-color="#0098ff"/><stop offset="0.0924" stop-color="#0098ff"/><stop offset="0.2101" stop-color="#0098ff"/><stop offset="0.3445" stop-color="#0098ff"/><stop offset="0.479" stop-color="#009cff"/><stop offset="0.6303" stop-color="#00a4ff"/><stop offset="0.7815" stop-color="#00bcff"/><stop offset="0.8824" stop-color="#00d4ff"/><stop offset="1" stop-color="#0cf4eb"/></linearGradient>
<linearGradient id="u71" x2="0" y2="1"><stop offset="-0.0084" stop-color="#00d0ff"/><stop offset="0.0924" stop-color="#00c4ff"/><stop offset="0.2101" stop-color="#00b8ff"/><stop offset="0.3445" stop-color="#00b0ff"/><stop offset="0.479" stop-color="#00a8ff"/><stop offset="0.6303" stop-color="#00a8ff"/><stop offset="0.7815" stop-color="#00b8ff"/><stop offset="0.8824" stop-color="#00d4ff"/><stop offset="1" stop-color="#09f0ee"/></linearGradient>
<linearGradient id="u72" x2="0" y2="1"><stop offset="-0.0084" stop-color="#00e0fb"/><stop offset="0.0924" stop-color="#00d0ff"/><stop offset="0.2101" stop-color="#00c0ff"/><stop offset="0.3445" stop-color="#00b4ff"/><stop offset="0.479" stop-color="#00acff"/><stop offset="0.6303" stop-color="#00a8ff"/><stop offset="0.7815" stop-color="#00b8ff"/><stop offset="0.8824" stop-color="#00d0ff"/><stop offset="1" stop-color="#09f0ee"/></linearGradient>
<linearGradient id="u73" x2="0" y2="1"><stop offset="-0.0084" stop-color="#0060ff"/><stop offset="0.0924" stop-color="#0068ff"/><stop offset="0.2101" stop-color="#0074ff"/><stop offset="0.3445" stop-color="#0080ff"/><stop offset="0.479" stop-color="#008cff"/><stop offset="0.6303" stop-color="#0098ff"/><stop offset="0.7815" stop-color="#00b4ff"/><stop offset="0.8824" stop-color="#00d0ff"/><stop offset="1" stop-color="#06ecf1"/></linearGradient>
<linearGradient id="u74" x2="0" y2="1"><stop offset="-0.0084" stop-color="#0040ff"/><stop offset="0.0924" stop-color="#0050ff"/><stop offset="0.2101" stop-color="#0060ff"/><stop offset="0.3445" stop-color="#0070ff"/><stop offset="0.479" stop-color="#0084ff"/><stop offset="0.6303" stop-color="#0094ff"/><stop offset="0.7815" stop-color="#00b4ff"/><stop offset="0.8824" stop-color="#0cf"/><stop offset="1" stop-color="#06ecf1"/></linearGradient>
<linearGradient id="u75" x2="0" y2="1"><stop offset="-0.0084" stop-color="#0000cd"/><stop offset="0.0924" stop-color="#0000fa"/><stop offset="0.2101" stop-color="#0018ff"/><stop offset="0.3445" stop-color="#0040ff"/><stop offset="0.479" stop-color="#0068ff"/><stop offset="0.6303" stop-color="#08f"/><stop offset="0.7815" stop-color="#00b0ff"/><stop offset="0.8824" stop-color="#0cf"/><stop offset="1" stop-color="#02e8f4"/></linearGradient>
<linearGradient id="u76" x2="0" y2="1"><stop offset="-0.0084" stop-color="#0004ff"/><stop offset="0.0924" stop-color="#0020ff"/><stop offset="0.2101" stop-color="#003cff"/><stop offset="0.3445" stop-color="#0058ff"/><stop offset="0.479" stop-color="#0074ff"/><stop offset="0.6303" stop-color="#008cff"/><stop offset="0.7815" stop-color="#00b0ff"/><stop offset="0.8824" stop-color="#00c8ff"/><stop offset="1" stop-color="#02e8f4"/></linearGradient>
<linearGradient id="u77" x2="0" y2="1"><stop offset="-0.0084" stop-color="#00f"/><stop offset="0.0924" stop-color="#0018ff"/><stop offset="0.2101" stop-color="#0034ff"/><stop offset="0.3445" stop-color="#0054ff"/><stop offset="0.479" stop-color="#0070ff"/><stop offset="0.6303" stop-color="#08f"/><stop offset="0.7815" stop-color="#00acff"/><stop offset="0.8824" stop-color="#00c8ff"/><stop offset="1" stop-color="#00e4f8"/></linearGradient>
<linearGradient id="u78" x2="0" y2="1"><stop offset="-0.0084" stop-color="#0000da"/><stop offset="0.0924" stop-color="#00f"/><stop offset="0.2101" stop-color="#0018ff"/><stop offset="0.3445" stop-color="#0040ff"/><stop offset="0.479" stop-color="#0064ff"/><stop offset="0.6303" stop-color="#0084ff"/><stop offset="0.7815" stop-color="#00a8ff"/><stop offset="0.8824" stop-color="#00c4ff"/><stop offset="1" stop-color="#00e4f8"/></linearGradient>
<linearGradient id="u79" x2="0" y2="1"><stop offset="-0.0084" stop-color="#005cff"/><stop offset="0.0924" stop-color="#0060ff"/><stop offset="0.2101" stop-color="#006cff"/><stop offset="0.3445" stop-color="#0074ff"/><stop offset="0.479" stop-color="#0080ff"/><stop offset="0.6303" stop-color="#008cff"/><stop offset="0.7815" stop-color="#00a8ff"/><stop offset="0.8824" stop-color="#00c4ff"/><stop offset="1" stop-color="#00e0fb"/></linearGradient>
<linearGradient id="u80" x2="0" y2="1"><stop offset="-0.0084" stop-color="#0080ff"/><stop offset="0.0924" stop-color="#0080ff"/><stop offset="0.2101" stop-color="#0080ff"/><stop offset="0.3445" stop-color="#0084ff"/><stop offset="0.479" stop-color="#08f"/><stop offset="0.6303" stop-color="#0090ff"/><stop offset="0.7815" stop-color="#00a4ff"/><stop offset="0.8824" stop-color="#00c0ff"/><stop offset="1" stop-color="#00dcfe"/></linearGradient>
<linearGradient id="u81" x2="0" y2="1"><stop offset="-0.0084" stop-color="#00f"/><stop offset="0.0924" stop-color="#0010ff"/><stop offset="0.2101" stop-color="#002cff"/><stop offset="0.3445" stop-color="#004cff"/><stop offset="0.479" stop-color="#0068ff"/><stop offset="0.6303" stop-color="#0080ff"/><stop offset="0.7815" stop-color="#00a4ff"/><stop offset="0.8824" stop-color="#00c0ff"/><stop offset="1" stop-color="#00dcfe"/></linearGradient>
<linearGradient id="u82" x2="0" y2="1"><stop offset="-0.0084" stop-color="#0050ff"/><stop offset="0.0924" stop-color="#0058ff"/><stop offset="0.2101" stop-color="#0064ff"/><stop offset="0.3445" stop-color="#006cff"/><stop offset="0.479" stop-color="#007cff"/><stop offset="0.6303" stop-color="#08f"/><stop offset="0.7815" stop-color="#00a0ff"/><stop offset="0.8824" stop-color="#00bcff"/><stop offset="1" stop-color="#00d8ff"/></linearGradient>
<linearGradient id="u83" x2="0" y2="1"><stop offset="-0.0084" stop-color="#0054ff"/><stop offset="0.0924" stop-color="#005cff"/><stop offset="0.2101" stop-color="#0064ff"/><stop offset="0.3445" stop-color="#006cff"/><stop offset="0.479" stop-color="#007cff"/><stop offset="0.6303" stop-color="#0084ff"/><stop offset="0.7815" stop-color="#00a0ff"/><stop offset="0.8824" stop-color="#00bcff"/><stop offset="1" stop-color="#00d8ff"/></linearGradient>
<linearGradient id="u84" x2="0" y2="1"><stop offset="-0.0084" stop-color="#0000f6"/><stop offset="0.0924" stop-color="#0004ff"/><stop offset="0.2101" stop-color="#0024ff"/><stop offset="0.3445" stop-color="#04f"/><stop offset="0.479" stop-color="#0060ff"/><stop offset="0.6303" stop-color="#0078ff"/><stop offset="0.7815" stop-color="#009cff"/><stop offset="0.8824" stop-color="#00b8ff"/><stop offset="1" stop-color="#00d4ff"/></linearGradient>
<linearGradient id="u85" x2="0" y2="1"><stop offset="-0.0084" stop-color="#0000da"/><stop offset="0.0924" stop-color="#00f"/><stop offset="0.2101" stop-color="#0014ff"/><stop offset="0.3445" stop-color="#0038ff"/><stop offset="0.479" stop-color="#0058ff"/><stop offset="0.6303" stop-color="#0074ff"/><stop offset="0.7815" stop-color="#009cff"/><stop offset="0.8824" stop-color="#00b4ff"/><stop offset="1" stop-color="#00d4ff"/></linearGradient>
<linearGradient id="u86" x2="0" y2="1"><stop offset="-0.0084" stop-color="#0000c8"/><stop offset="0.0924" stop-color="#0000f1"/><stop offset="0.2101" stop-color="#0008ff"/><stop offset="0.3445" stop-color="#0030ff"/><stop offset="0.479" stop-color="#0054ff"/><stop offset="0.6303" stop-color="#0070ff"/><stop offset="0.7815" stop-color="#0098ff"/><stop offset="0.8824" stop-color="#00b4ff"/><stop offset="1" stop-color="#00d0ff"/></linearGradient>
<linearGradient id="u87" x2="0" y2="1"><stop offset="-0.0084" stop-color="#0000bf"/><stop offset="0.0924" stop-color="#0000e8"/><stop offset="0.2101" stop-color="#0004ff"/><stop offset="0.3445" stop-color="#002cff"/><stop offset="0.479" stop-color="#0050ff"/><stop offset="0.6303" stop-color="#0070ff"/><stop offset="0.7815" stop-color="#0098ff"/><stop offset="0.8824" stop-color="#00b0ff"/><stop offset="1" stop-color="#00d0ff"/></linearGradient>
<linearGradient id="u88" x2="0" y2="1"><stop offset="-0.0084" stop-color="#00009f"/><stop offset="0.0924" stop-color="#0000cd"/><stop offset="0.2101" stop-color="#00f"/><stop offset="0.3445" stop-color="#0020ff"/><stop offset="0.479" stop-color="#0048ff"/><stop offset="0.6303" stop-color="#006cff"/><stop offset="0.7815" stop-color="#0094ff"/><stop offset="0.8824" stop-color="#00b0ff"/><stop offset="1" stop-color="#0cf"/></linearGradient>
<linearGradient id="u89" x2="0" y2="1"><stop offset="-0.0084" stop-color="#00009f"/><stop offset="0.0924" stop-color="#0000cd"/><stop offset="0.2101" stop-color="#00f"/><stop offset="0.3445" stop-color="#001cff"/><stop offset="0.479" stop-color="#0048ff"/><stop offset="0.6303" stop-color="#0068ff"/><stop offset="0.7815" stop-color="#0094ff"/><stop offset="0.8824" stop-color="#00acff"/><stop offset="1" stop-color="#0cf"/></linearGradient>
<linearGradient id="u90" x2="0" y2="1"><stop offset="-0.0084" stop-color="#0000b2"/><stop offset="0.0924" stop-color="#0000da"/><stop offset="0.2101" stop-color="#00f"/><stop offset="0.3445" stop-color="#0024ff"/><stop offset="0.479" stop-color="#0048ff"/><stop offset="0.6303" stop-color="#0068ff"/><stop offset="0.7815" stop-color="#0090ff"/><stop offset="0.8824" stop-color="#00acff"/><stop offset="1" stop-color="#00c8ff"/></linearGradient>
<linearGradient id="u91" x2="0" y2="1"><stop offset="-0.0084" stop-color="#0000a4"/><stop offset="0.0924" stop-color="#0000d1"/><stop offset="0.2101" stop-color="#00f"/><stop offset="0.3445" stop-color="#001cff"/><stop offset="0.479" stop-color="#04f"/><stop offset="0.6303" stop-color="#0064ff"/><stop offset="0.7815" stop-color="#0090ff"/><stop offset="0.8824" stop-color="#00a8ff"/><stop offset="1" stop-color="#00c4ff"/></linearGradient>
<linearGradient id="u92" x2="0" y2="1"><stop offset="-0.0084" stop-color="#000080"/><stop offset="0.0924" stop-color="#0000b2"/><stop offset="0.2101" stop-color="#0000e8"/><stop offset="0.3445" stop-color="#0010ff"/><stop offset="0.479" stop-color="#003cff"/><stop offset="0.6303" stop-color="#0060ff"/><stop offset="0.7815" stop-color="#008cff"/><stop offset="0.8824" stop-color="#00a8ff"/><stop offset="1" stop-color="#00c4ff"/></linearGradient>
<linearGradient id="u93" x2="0" y2="1"><stop offset="-0.0084" stop-color="#00009b"/><stop offset="0.0924" stop-color="#0000c4"/><stop offset="0.2101" stop-color="#0000f6"/><stop offset="0.3445" stop-color="#0018ff"/><stop offset="0.479" stop-color="#0040ff"/><stop offset="0.6303" stop-color="#0060ff"/><stop offset="0.7815" stop-color="#008cff"/><stop offset="0.8824" stop-color="#00a4ff"/><stop offset="1" stop-color="#00c0ff"/></linearGradient>
<linearGradient id="u94" x2="0" y2="1"><stop offset="-0.0084" stop-color="#000089"/><stop offset="0.0924" stop-color="#00b"/><stop offset="0.2101" stop-color="#0000ed"/><stop offset="0.3445" stop-color="#0010ff"/><stop offset="0.479" stop-color="#003cff"/><stop offset="0.6303" stop-color="#005cff"/><stop offset="0.7815" stop-color="#08f"/><stop offset="0.8824" stop-color="#00a4ff"/><stop offset="1" stop-color="#00c0ff"/></linearGradient>
<linearGradient id="u95" x2="0" y2="1"><stop offset="-0.0084" stop-color="#0000a8"/><stop offset="0.0924" stop-color="#0000d1"/><stop offset="0.2101" stop-color="#00f"/><stop offset="0.3445" stop-color="#0018ff"/><stop offset="0.479" stop-color="#0040ff"/><stop offset="0.6303" stop-color="#0060ff"/><stop offset="0.7815" stop-color="#08f"/><stop offset="0.8824" stop-color="#00a0ff"/><stop offset="1" stop-color="#00bcff"/></linearGradient>
<linearGradient id="u96" x2="0" y2="1"><stop offset="-0.0084" stop-color="#0000b6"/><stop offset="0.0924" stop-color="#0000da"/><stop offset="0.2101" stop-color="#00f"/><stop offset="0.3445" stop-color="#001cff"/><stop offset="0.479" stop-color="#0040ff"/><stop offset="0.6303" stop-color="#005cff"/><stop offset="0.7815" stop-color="#0084ff"/><stop offset="0.8824" stop-color="#00a0ff"/><stop offset="1" stop-color="#00bcff"/></linearGradient>
<linearGradient id="u97" x2="0" y2="1"><stop offset="-0.0084" stop-color="#0000a8"/><stop offset="0.0924" stop-color="#0000d1"/><stop offset="0.2101" stop-color="#0000fa"/><stop offset="0.3445" stop-color="#0018ff"/><stop offset="0.479" stop-color="#003cff"/><stop offset="0.6303" stop-color="#005cff"/><stop offset="0.7815" stop-color="#0080ff"/><stop offset="0.8824" stop-color="#009cff"/><stop offset="1" stop-color="#00b8ff"/></linearGradient>
<linearGradient id="u98" x2="0" y2="1"><stop offset="-0.0084" stop-color="#00009f"/><stop offset="0.0924" stop-color="#0000c8"/><stop offset="0.2101" stop-color="#0000f6"/><stop offset="0.3445" stop-color="#0010ff"/><stop offset="0.479" stop-color="#0038ff"/><stop offset="0.6303" stop-color="#0058ff"/><stop offset="0.7815" stop-color="#0080ff"/><stop offset="0.8824" stop-color="#0098ff"/><stop offset="1" stop-color="#00b8ff"/></linearGradient>
<linearGradient id="u99" x2="0" y2="1"><stop offset="-0.0084" stop-color="#0000cd"/><stop offset="0.0924" stop-color="#0000ed"/><stop offset="0.2101" stop-color="#00f"/><stop offset="0.3445" stop-color="#0020ff"/><stop offset="0.479" stop-color="#0040ff"/><stop offset="0.6303" stop-color="#0058ff"/><stop offset="0.7815" stop-color="#007cff"/><stop offset="0.8824" stop-color="#0098ff"/><stop offset="1" stop-color="#00b4ff"/></linearGradient>
<linearGradient id="u100" x2="0" y2="1"><stop offset="-0.0084" stop-color="#0000fa"/><stop offset="0.0924" stop-color="#00f"/><stop offset="0.2101" stop-color="#0014ff"/><stop offset="0.3445" stop-color="#002cff"/><stop offset="0.479" stop-color="#0048ff"/><stop offset="0.6303" stop-color="#005cff"/><stop offset="0.7815" stop-color="#007cff"/><stop offset="0.8824" stop-color="#0094ff"/><stop offset="1" stop-color="#00b0ff"/></linearGradient>
<linearGradient id="u101" x2="0" y2="1"><stop offset="-0.0084" stop-color="#0000c4"/><stop offset="0.0924" stop-color="#0000e3"/><stop offset="0.2101" stop-color="#00f"/><stop offset="0.3445" stop-color="#0018ff"/><stop offset="0.479" stop-color="#003cff"/><stop offset="0.6303" stop-color="#0054ff"/><stop offset="0.7815" stop-color="#0078ff"/><stop offset="0.8824" stop-color="#0094ff"/><stop offset="1" stop-color="#00b0ff"/></linearGradient>
<linearGradient id="u102" x2="0" y2="1"><stop offset="-0.0084" stop-color="#000092"/><stop offset="0.0924" stop-color="#00b"/><stop offset="0.2101" stop-color="#0000e8"/><stop offset="0.3445" stop-color="#0008ff"/><stop offset="0.479" stop-color="#0030ff"/><stop offset="0.6303" stop-color="#0050ff"/><stop offset="0.7815" stop-color="#0078ff"/><stop offset="0.8824" stop-color="#0090ff"/><stop offset="1" stop-color="#00acff"/></linearGradient>
<linearGradient id="u103" x2="0" y2="1"><stop offset="-0.0084" stop-color="#00009b"/><stop offset="0.0924" stop-color="#0000c4"/><stop offset="0.2101" stop-color="#0000ed"/><stop offset="0.3445" stop-color="#0008ff"/><stop offset="0.479" stop-color="#0030ff"/><stop offset="0.6303" stop-color="#004cff"/><stop offset="0.7815" stop-color="#0074ff"/><stop offset="0.8824" stop-color="#0090ff"/><stop offset="1" stop-color="#00acff"/></linearGradient>
<linearGradient id="u104" x2="0" y2="1"><stop offset="-0.0084" stop-color="#0000c4"/><stop offset="0.0924" stop-color="#0000df"/><stop offset="0.2101" stop-color="#00f"/><stop offset="0.3445" stop-color="#0014ff"/><stop offset="0.479" stop-color="#0034ff"/><stop offset="0.6303" stop-color="#0050ff"/><stop offset="0.7815" stop-color="#0074ff"/><stop offset="0.8824" stop-color="#008cff"/><stop offset="1" stop-color="#00a8ff"/></linearGradient>
<linearGradient id="u105" x2="0" y2="1"><stop offset="-0.0084" stop-color="#0000bf"/><stop offset="0.0924" stop-color="#0000da"/><stop offset="0.2101" stop-color="#00f"/><stop offset="0.3445" stop-color="#0010ff"/><stop offset="0.479" stop-color="#0034ff"/><stop offset="0.6303" stop-color="#004cff"/><stop offset="0.7815" stop-color="#0070ff"/><stop offset="0.8824" stop-color="#08f"/><stop offset="1" stop-color="#00a8ff"/></linearGradient>
<linearGradient id="u106" x2="0" y2="1"><stop offset="-0.0084" stop-color="#0000a4"/><stop offset="0.0924" stop-color="#0000c8"/><stop offset="0.2101" stop-color="#0000ed"/><stop offset="0.3445" stop-color="#0008ff"/><stop offset="0.479" stop-color="#002cff"/><stop offset="0.6303" stop-color="#0048ff"/><stop offset="0.7815" stop-color="#0070ff"/><stop offset="0.8824" stop-color="#08f"/><stop offset="1" stop-color="#00a4ff"/></linearGradient>
<linearGradient id="u107" x2="0" y2="1"><stop offset="-0.0084" stop-color="#0000a4"/><stop offset="0.0924" stop-color="#0000c8"/><stop offset="0.2101" stop-color="#0000ed"/><stop offset="0.3445" stop-color="#0008ff"/><stop offset="0.479" stop-color="#002cff"/><stop offset="0.6303" stop-color="#0048ff"/><stop offset="0.7815" stop-color="#006cff"/><stop offset="0.8824" stop-color="#0084ff"/><stop offset="1" stop-color="#00a4ff"/></linearGradient>
<linearGradient id="u108" x2="0" y2="1"><stop offset="-0.0084" stop-color="#000089"/><stop offset="0.0924" stop-color="#0000b2"/><stop offset="0.2101" stop-color="#0000da"/><stop offset="0.3445" stop-color="#00f"/><stop offset="0.479" stop-color="#0024ff"/><stop offset="0.6303" stop-color="#04f"/><stop offset="0.7815" stop-color="#0068ff"/><stop offset="0.8824" stop-color="#0084ff"/><stop offset="1" stop-color="#00a0ff"/></linearGradient>
<linearGradient id="u109" x2="0" y2="1"><stop offset="-0.0084" stop-color="#00009b"/><stop offset="0.0924" stop-color="#0000bf"/><stop offset="0.2101" stop-color="#0000e3"/><stop offset="0.3445" stop-color="#00f"/><stop offset="0.479" stop-color="#0024ff"/><stop offset="0.6303" stop-color="#0040ff"/><stop offset="0.7815" stop-color="#0068ff"/><stop offset="0.8824" stop-color="#0080ff"/><stop offset="1" stop-color="#009cff"/></linearGradient>
<linearGradient id="u110" x2="0" y2="1"><stop offset="-0.0084" stop-color="#00009f"/><stop offset="0.0924" stop-color="#0000c4"/><stop offset="0.2101" stop-color="#0000e8"/><stop offset="0.3445" stop-color="#00f"/><stop offset="0.479" stop-color="#0024ff"/><stop offset="0.6303" stop-color="#0040ff"/><stop offset="0.7815" stop-color="#0064ff"/><stop offset="0.8824" stop-color="#0080ff"/><stop offset="1" stop-color="#009cff"/></linearGradient>
<linearGradient id="u111" x2="0" y2="1"><stop offset="-0.0084" stop-color="#0000b2"/><stop offset="0.0924" stop-color="#0000d1"/><stop offset="0.2101" stop-color="#0000f1"/><stop offset="0.3445" stop-color="#0004ff"/><stop offset="0.479" stop-color="#0028ff"/><stop offset="0.6303" stop-color="#0040ff"/><stop offset="0.7815" stop-color="#0064ff"/><stop offset="0.8824" stop-color="#007cff"/><stop offset="1" stop-color="#0098ff"/></linearGradient>
<linearGradient id="u112" x2="0" y2="1"><stop offset="-0.0084" stop-color="#00009b"/><stop offset="0.0924" stop-color="#00b"/><stop offset="0.2101" stop-color="#0000e3"/><stop offset="0.3445" stop-color="#00f"/><stop offset="0.479" stop-color="#0020ff"/><stop offset="0.6303" stop-color="#003cff"/><stop offset="0.7815" stop-color="#0060ff"/><stop offset="0.8824" stop-color="#007cff"/><stop offset="1" stop-color="#0098ff"/></linearGradient>
<linearGradient id="u113" x2="0" y2="1"><stop offset="-0.0084" stop-color="#000084"/><stop offset="0.0924" stop-color="#0000a8"/><stop offset="0.2101" stop-color="#0000d1"/><stop offset="0.3445" stop-color="#00f"/><stop offset="0.479" stop-color="#001cff"/><stop offset="0.6303" stop-color="#0038ff"/><stop offset="0.7815" stop-color="#0060ff"/><stop offset="0.8824" stop-color="#0078ff"/><stop offset="1" stop-color="#0094ff"/></linearGradient>
<linearGradient id="u114" x2="0" y2="1"><stop offset="-0.0084" stop-color="#00008d"/><stop offset="0.0924" stop-color="#0000b2"/><stop offset="0.2101" stop-color="#0000d6"/><stop offset="0.3445" stop-color="#00f"/><stop offset="0.479" stop-color="#001cff"/><stop offset="0.6303" stop-color="#0038ff"/><stop offset="0.7815" stop-color="#005cff"/><stop offset="0.8824" stop-color="#0074ff"/><stop offset="1" stop-color="#0094ff"/></linearGradient>
<linearGradient id="u115" x2="0" y2="1"><stop offset="-0.0084" stop-color="#000084"/><stop offset="0.0924" stop-color="#0000a8"/><stop offset="0.2101" stop-color="#0000d1"/><stop offset="0.3445" stop-color="#00f"/><stop offset="0.479" stop-color="#0018ff"/><stop offset="0.6303" stop-color="#0034ff"/><stop offset="0.7815" stop-color="#005cff"/><stop offset="0.8824" stop-color="#0074ff"/><stop offset="1" stop-color="#0090ff"/></linearGradient>
<linearGradient id="u116" x2="0" y2="1"><stop offset="-0.0084" stop-color="#000089"/><stop offset="0.0924" stop-color="#0000ad"/><stop offset="0.2101" stop-color="#0000d1"/><stop offset="0.3445" stop-color="#00f"/><stop offset="0.479" stop-color="#0018ff"/><stop offset="0.6303" stop-color="#0034ff"/><stop offset="0.7815" stop-color="#0058ff"/><stop offset="0.8824" stop-color="#0070ff"/><stop offset="1" stop-color="#008cff"/></linearGradient>
<linearGradient id="u117" x2="0" y2="1"><stop offset="-0.0084" stop-color="#000089"/><stop offset="0.0924" stop-color="#0000a8"/><stop offset="0.2101" stop-color="#0000d1"/><stop offset="0.3445" stop-color="#00f"/><stop offset="0.479" stop-color="#0014ff"/><stop offset="0.6303" stop-color="#0030ff"/><stop offset="0.7815" stop-color="#0058ff"/><stop offset="0.8824" stop-color="#0070ff"/><stop offset="1" stop-color="#008cff"/></linearGradient>
<linearGradient id="u118" x2="0" y2="1"><stop offset="-0.0084" stop-color="#000084"/><stop offset="0.0924" stop-color="#0000a8"/><stop offset="0.2101" stop-color="#0000cd"/><stop offset="0.3445" stop-color="#0000fa"/><stop offset="0.479" stop-color="#0014ff"/><stop offset="0.6303" stop-color="#0030ff"/><stop offset="0.7815" stop-color="#0054ff"/><stop offset="0.8824" stop-color="#006cff"/><stop offset="1" stop-color="#08f"/></linearGradient>
<linearGradient id="u119" x2="0" y2="1"><stop offset="-0.0084" stop-color="#000092"/><stop offset="0.0924" stop-color="#0000b2"/><stop offset="0.2101" stop-color="#0000d6"/><stop offset="0.3445" stop-color="#00f"/><stop offset="0.479" stop-color="#0014ff"/><stop offset="0.6303" stop-color="#0030ff"/><stop offset="0.7815" stop-color="#0054ff"/><stop offset="0.8824" stop-color="#006cff"/><stop offset="1" stop-color="#08f"/></linearGradient>
<linearGradient id="u120" x2="0" y2="1"><stop offset="-0.0084" stop-color="#00008d"/><stop offset="0.0924" stop-color="#0000ad"/><stop offset="0.2101" stop-color="#0000d1"/><stop offset="0.3445" stop-color="#0000fa"/><stop offset="0.479" stop-color="#0010ff"/><stop offset="0.6303" stop-color="#002cff"/><stop offset="0.7815" stop-color="#0050ff"/><stop offset="0.8824" stop-color="#006cff"/><stop offset="1" stop-color="#08f"/></linearGradient>
<linearGradient id="u121" x2="0" y2="1"><stop offset="-0.0084" stop-color="#000084"/><stop offset="0.0924" stop-color="#0000a4"/><stop offset="0.2101" stop-color="#0000cd"/><stop offset="0.3445" stop-color="#0000f6"/><stop offset="0.479" stop-color="#0010ff"/><stop offset="0.6303" stop-color="#002cff"/><stop offset="0.7815" stop-color="#0050ff"/><stop offset="0.8824" stop-color="#0068ff"/><stop offset="1" stop-color="#0084ff"/></linearGradient>
<linearGradient id="u122" x2="0" y2="1"><stop offset="-0.0084" stop-color="#00008d"/><stop offset="0.0924" stop-color="#0000ad"/><stop offset="0.2101" stop-color="#0000d1"/><stop offset="0.3445" stop-color="#0000fa"/><stop offset="0.479" stop-color="#0010ff"/><stop offset="0.6303" stop-color="#002cff"/><stop offset="0.7815" stop-color="#0050ff"/><stop offset="0.8824" stop-color="#0068ff"/><stop offset="1" stop-color="#0084ff"/></linearGradient>
<linearGradient id="u123" x2="0" y2="1"><stop offset="-0.0084" stop-color="#000080"/><stop offset="0.0924" stop-color="#00009f"/><stop offset="0.2101" stop-color="#0000c8"/><stop offset="0.3445" stop-color="#0000f1"/><stop offset="0.479" stop-color="#000cff"/><stop offset="0.6303" stop-color="#0028ff"/><stop offset="0.7815" stop-color="#004cff"/><stop offset="0.8824" stop-color="#0068ff"/><stop offset="1" stop-color="#0084ff"/></linearGradient>
<linearGradient id="u124" x2="0" y2="1"><stop offset="-0.0084" stop-color="#000089"/><stop offset="0.0924" stop-color="#0000a8"/><stop offset="0.2101" stop-color="#0000cd"/><stop offset="0.3445" stop-color="#0000f6"/><stop offset="0.479" stop-color="#000cff"/><stop offset="0.6303" stop-color="#0028ff"/><stop offset="0.7815" stop-color="#004cff"/><stop offset="0.8824" stop-color="#0064ff"/><stop offset="1" stop-color="#0080ff"/></linearGradient>
<linearGradient id="u125" x2="0" y2="1"><stop offset="-0.0084" stop-color="#000092"/><stop offset="0.0924" stop-color="#0000b2"/><stop offset="0.2101" stop-color="#0000d1"/><stop offset="0.3445" stop-color="#0000fa"/><stop offset="0.479" stop-color="#0010ff"/><stop offset="0.6303" stop-color="#0028ff"/><stop offset="0.7815" stop-color="#004cff"/><stop offset="0.8824" stop-color="#0064ff"/><stop offset="1" stop-color="#0080ff"/></linearGradient>
<linearGradient id="u126" x2="0" y2="1"><stop offset="-0.0084" stop-color="#000080"/><stop offset="0.0924" stop-color="#00009f"/><stop offset="0.2101" stop-color="#0000c4"/><stop offset="0.3445" stop-color="#0000f1"/><stop offset="0.479" stop-color="#0008ff"/><stop offset="0.6303" stop-color="#0024ff"/><stop offset="0.7815" stop-color="#004cff"/><stop offset="0.8824" stop-color="#0064ff"/><stop offset="1" stop-color="#0080ff"/></linearGradient>
<linearGradient id="u127" x2="0" y2="1"><stop offset="-0.0084" stop-color="#000089"/><stop offset="0.0924" stop-color="#0000a4"/><stop offset="0.2101" stop-color="#0000c8"/><stop offset="0.3445" stop-color="#0000f1"/><stop offset="0.479" stop-color="#000cff"/><stop offset="0.6303" stop-color="#0024ff"/><stop offset="0.7815" stop-color="#0048ff"/><stop offset="0.8824" stop-color="#0064ff"/><stop offset="1" stop-color="#0080ff"/></linearGradient>
<linearGradient id="u128" x2="0" y2="1"><stop offset="-0.0084" stop-color="#000092"/><stop offset="0.0924" stop-color="#0000ad"/><stop offset="0.2101" stop-color="#0000d1"/><stop offset="0.3445" stop-color="#0000f6"/><stop offset="0.479" stop-color="#000cff"/><stop offset="0.6303" stop-color="#0028ff"/><stop offset="0.7815" stop-color="#0048ff"/><stop offset="0.8824" stop-color="#0064ff"/><stop offset="1" stop-color="#0080ff"/></linearGradient>
<linearGradient id="u129" x2="0" y2="1"><stop offset="-0.0084" stop-color="#000080"/><stop offset="0.0924" stop-color="#00009b"/><stop offset="0.2101" stop-color="#0000c4"/><stop offset="0.3445" stop-color="#0000ed"/><stop offset="0.479" stop-color="#0008ff"/><stop offset="0.6303" stop-color="#0024ff"/><stop offset="0.7815" stop-color="#0048ff"/><stop offset="0.8824" stop-color="#0064ff"/><stop offset="1" stop-color="#0080ff"/></linearGradient>
<linearGradient id="u130" x2="0" y2="1"><stop offset="-0.0084" stop-color="#00008d"/><stop offset="0.0924" stop-color="#0000ad"/><stop offset="0.2101" stop-color="#0000cd"/><stop offset="0.3445" stop-color="#0000f6"/><stop offset="0.479" stop-color="#000cff"/><stop offset="0.6303" stop-color="#0024ff"/><stop offset="0.7815" stop-color="#0048ff"/><stop offset="0.8824" stop-color="#0064ff"/><stop offset="1" stop-color="#0080ff"/></linearGradient>
<linearGradient id="u131" x2="0" y2="1"><stop offset="-0.0084" stop-color="#000092"/><stop offset="0.0924" stop-color="#0000ad"/><stop offset="0.2101" stop-color="#0000d1"/><stop offset="0.3445" stop-color="#0000f6"/><stop offset="0.479" stop-color="#000cff"/><stop offset="0.6303" stop-color="#0028ff"/><stop offset="0.7815" stop-color="#0048ff"/><stop offset="0.8824" stop-color="#0064ff"/><stop offset="1" stop-color="#0080ff"/></linearGradient>
<linearGradient id="u132" x2="0" y2="1"><stop offset="-0.0084" stop-color="#00009b"/><stop offset="0.0924" stop-color="#0000b6"/><stop offset="0.2101" stop-color="#0000d6"/><stop offset="0.3445" stop-color="#0000fa"/><stop offset="0.479" stop-color="#0010ff"/><stop offset="0.6303" stop-color="#0028ff"/><stop offset="0.7815" stop-color="#0048ff"/><stop offset="0.8824" stop-color="#0064ff"/><stop offset="1" stop-color="#0080ff"/></linearGradient>
<linearGradient id="u133" x2="0" y2="1"><stop offset="-0.0084" stop-color="#00009f"/><stop offset="0.0924" stop-color="#0000b6"/><stop offset="0.2101" stop-color="#0000d6"/><stop offset="0.3445" stop-color="#0000fa"/><stop offset="0.479" stop-color="#0010ff"/><stop offset="0.6303" stop-color="#0028ff"/><stop offset="0.7815" stop-color="#0048ff"/><stop offset="0.8824" stop-color="#0064ff"/><stop offset="1" stop-color="#0080ff"/></linearGradient>
<linearGradient id="u134" x2="0" y2="1"><stop offset="-0.0084" stop-color="#00009f"/><stop offset="0.0924" stop-color="#00b"/><stop offset="0.2101" stop-color="#0000d6"/><stop offset="0.3445" stop-color="#00f"/><stop offset="0.479" stop-color="#0010ff"/><stop offset="0.6303" stop-color="#0028ff"/><stop offset="0.7815" stop-color="#0048ff"/><stop offset="0.8824" stop-color="#0064ff"/><stop offset="1" stop-color="#0080ff"/></linearGradient>
<linearGradient id="u135" x2="0" y2="1"><stop offset="-0.0084" stop-color="#000092"/><stop offset="0.0924" stop-color="#0000ad"/><stop offset="0.2101" stop-color="#0000d1"/><stop offset="0.3445" stop-color="#0000f6"/><stop offset="0.479" stop-color="#000cff"/><stop offset="0.6303" stop-color="#0028ff"/><stop offset="0.7815" stop-color="#0048ff"/><stop offset="0.8824" stop-color="#0064ff"/><stop offset="1" stop-color="#0080ff"/></linearGradient>
<linearGradient id="u136" x2="0" y2="1"><stop offset="-0.0084" stop-color="#000080"/><stop offset="0.0924" stop-color="#00009f"/><stop offset="0.2101" stop-color="#0000c4"/><stop offset="0.3445" stop-color="#0000f1"/><stop offset="0.479" stop-color="#0008ff"/><stop offset="0.6303" stop-color="#0024ff"/><stop offset="0.7815" stop-color="#0048ff"/><stop offset="0.8824" stop-color="#0064ff"/><stop offset="1" stop-color="#0080ff"/></linearGradient>
<linearGradient id="u137" x2="0" y2="1"><stop offset="-0.0084" stop-color="#000089"/><stop offset="0.0924" stop-color="#0000a8"/><stop offset="0.2101" stop-color="#0000cd"/><stop offset="0.3445" stop-color="#0000f6"/><stop offset="0.479" stop-color="#000cff"/><stop offset="0.6303" stop-color="#0024ff"/><stop offset="0.7815" stop-color="#0048ff"/><stop offset="0.8824" stop-color="#0064ff"/><stop offset="1" stop-color="#0080ff"/></linearGradient>
<linearGradient id="u138" x2="0" y2="1"><stop offset="-0.0084" stop-color="#00009b"/><stop offset="0.0924" stop-color="#0000b6"/><stop offset="0.2101" stop-color="#0000d6"/><stop offset="0.3445" stop-color="#0000fa"/><stop offset="0.479" stop-color="#0010ff"/><stop offset="0.6303" stop-color="#0028ff"/><stop offset="0.7815" stop-color="#0048ff"/><stop offset="0.8824" stop-color="#0064ff"/><stop offset="1" stop-color="#0080ff"/></linearGradient>
<linearGradient id="u139" x2="0" y2="1"><stop offset="-0.0084" stop-color="#00009b"/><stop offset="0.0924" stop-color="#0000b6"/><stop offset="0.2101" stop-color="#0000d6"/><stop offset="0.3445" stop-color="#0000fa"/><stop offset="0.479" stop-color="#0010ff"/><stop offset="0.6303" stop-color="#0028ff"/><stop offset="0.7815" stop-color="#0048ff"/><stop offset="0.8824" stop-color="#0064ff"/><stop offset="1" stop-color="#0080ff"/></linearGradient>
<linearGradient id="u140" x2="0" y2="1"><stop offset="-0.0084" stop-color="#000080"/><stop offset="0.0924" stop-color="#00009f"/><stop offset="0.2101" stop-color="#0000c4"/><stop offset="0.3445" stop-color="#0000f1"/><stop offset="0.479" stop-color="#0008ff"/><stop offset="0.6303" stop-color="#0024ff"/><stop offset="0.7815" stop-color="#0048ff"/><stop offset="0.8824" stop-color="#0064ff"/><stop offset="1" stop-color="#0080ff"/></linearGradient>
<linearGradient id="u141" x2="0" y2="1"><stop offset="-0.0084" stop-color="#000080"/><stop offset="0.0924" stop-color="#00009b"/><stop offset="0.2101" stop-color="#0000c4"/><stop offset="0.3445" stop-color="#0000ed"/><stop offset="0.479" stop-color="#0008ff"/><stop offset="0.6303" stop-color="#0024ff"/><stop offset="0.7815" stop-color="#0048ff"/><stop offset="0.8824" stop-color="#0064ff"/><stop offset="1" stop-color="#0080ff"/></linearGradient>
<linearGradient id="u142" x2="0" y2="1"><stop offset="-0.0084" stop-color="#000084"/><stop offset="0.0924" stop-color="#0000a4"/><stop offset="0.2101" stop-color="#0000c8"/><stop offset="0.3445" stop-color="#0000f1"/><stop offset="0.479" stop-color="#000cff"/><stop offset="0.6303" stop-color="#0024ff"/><stop offset="0.7815" stop-color="#0048ff"/><stop offset="0.8824" stop-color="#0064ff"/><stop offset="1" stop-color="#0080ff"/></linearGradient>
<linearGradient id="u143" x2="0" y2="1"><stop offset="-0.0084" stop-color="#0000a4"/><stop offset="0.0924" stop-color="#00b"/><stop offset="0.2101" stop-color="#0000da"/><stop offset="0.3445" stop-color="#00f"/><stop offset="0.479" stop-color="#0010ff"/><stop offset="0.6303" stop-color="#0028ff"/><stop offset="0.7815" stop-color="#0048ff"/><stop offset="0.8824" stop-color="#0064ff"/><stop offset="1" stop-color="#0080ff"/></linearGradient>
<linearGradient id="u144" x2="0" y2="1"><stop offset="-0.0084" stop-color="#00009f"/><stop offset="0.0924" stop-color="#0000b6"/><stop offset="0.2101" stop-color="#0000d6"/><stop offset="0.3445" stop-color="#0000fa"/><stop offset="0.479" stop-color="#0010ff"/><stop offset="0.6303" stop-color="#0028ff"/><stop offset="0.7815" stop-color="#0048ff"/><stop offset="0.8824" stop-color="#0064ff"/><stop offset="1" stop-color="#0080ff"/></linearGradient>
<linearGradient id="u145" x2="0" y2="1"><stop offset="-0.0084" stop-color="#00009b"/><stop offset="0.0924" stop-color="#0000b6"/><stop offset="0.2101" stop-color="#0000d6"/><stop offset="0.3445" stop-color="#0000fa"/><stop offset="0.479" stop-color="#0010ff"/><stop offset="0.6303" stop-color="#0028ff"/><stop offset="0.7815" stop-color="#0048ff"/><stop offset="0.8824" stop-color="#0064ff"/><stop offset="1" stop-color="#0080ff"/></linearGradient>
<linearGradient id="u146" x2="0" y2="1"><stop offset="-0.0084" stop-color="#000092"/><stop offset="0.0924" stop-color="#0000ad"/><stop offset="0.2101" stop-color="#0000d1"/><stop offset="0.3445" stop-color="#0000f6"/><stop offset="0.479" stop-color="#000cff"/><stop offset="0.6303" stop-color="#0028ff"/><stop offset="0.7815" stop-color="#0048ff"/><stop offset="0.8824" stop-color="#0064ff"/><stop offset="1" stop-color="#0080ff"/></linearGradient>
<linearGradient id="u147" x2="0" y2="1"><stop offset="-0.0084" stop-color="#000080"/><stop offset="0.0924" stop-color="#00009f"/><stop offset="0.2101" stop-color="#0000c4"/><stop offset="0.3445" stop-color="#0000f1"/><stop offset="0.479" stop-color="#0008ff"/><stop offset="0.6303" stop-color="#0024ff"/><stop offset="0.7815" stop-color="#0048ff"/><stop offset="0.8824" stop-color="#0064ff"/><stop offset="1" stop-color="#0080ff"/></linearGradient>
<linearGradient id="u148" x2="0" y2="1"><stop offset="-0.0084" stop-color="#000080"/><stop offset="0.0924" stop-color="#00009b"/><stop offset="0.2101" stop-color="#0000bf"/><stop offset="0.3445" stop-color="#0000ed"/><stop offset="0.479" stop-color="#0008ff"/><stop offset="0.6303" stop-color="#0024ff"/><stop offset="0.7815" stop-color="#0048ff"/><stop offset="0.8824" stop-color="#0064ff"/><stop offset="1" stop-color="#0080ff"/></linearGradient>
<linearGradient id="u149" x2="0" y2="1"><stop offset="-0.0084" stop-color="#000092"/><stop offset="0.0924" stop-color="#0000ad"/><stop offset="0.2101" stop-color="#0000d1"/><stop offset="0.3445" stop-color="#0000f6"/><stop offset="0.479" stop-color="#000cff"/><stop offset="0.6303" stop-color="#0028ff"/><stop offset="0.7815" stop-color="#0048ff"/><stop offset="0.8824" stop-color="#0064ff"/><stop offset="1" stop-color="#0080ff"/></linearGradient>
<linearGradient id="u150" x2="0" y2="1"><stop offset="-0.0084" stop-color="#000096"/><stop offset="0.0924" stop-color="#0000b2"/><stop offset="0.2101" stop-color="#0000d1"/><stop offset="0.3445" stop-color="#0000fa"/><stop offset="0.479" stop-color="#000cff"/><stop offset="0.6303" stop-color="#0028ff"/><stop offset="0.7815" stop-color="#0048ff"/><stop offset="0.8824" stop-color="#0064ff"/><stop offset="1" stop-color="#0080ff"/></linearGradient>
<linearGradient id="u151" x2="0" y2="1"><stop offset="-0.0084" stop-color="#00009f"/><stop offset="0.0924" stop-color="#00b"/><stop offset="0.2101" stop-color="#0000da"/><stop offset="0.3445" stop-color="#00f"/><stop offset="0.479" stop-color="#0010ff"/><stop offset="0.6303" stop-color="#0028ff"/><stop offset="0.7815" stop-color="#0048ff"/><stop offset="0.8824" stop-color="#0064ff"/><stop offset="1" stop-color="#0080ff"/></linearGradient>
<linearGradient id="u152" x2="0" y2="1"><stop offset="-0.0084" stop-color="#00009f"/><stop offset="0.0924" stop-color="#00b"/><stop offset="0.2101" stop-color="#0000d6"/><stop offset="0.3445" stop-color="#00f"/><stop offset="0.479" stop-color="#0010ff"/><stop offset="0.6303" stop-color="#0028ff"/><stop offset="0.7815" stop-color="#0048ff"/><stop offset="0.8824" stop-color="#0064ff"/><stop offset="1" stop-color="#0080ff"/></linearGradient>
<linearGradient id="u153" x2="0" y2="1"><stop offset="-0.0084" stop-color="#0000a8"/><stop offset="0.0924" stop-color="#0000c4"/><stop offset="0.2101" stop-color="#0000df"/><stop offset="0.3445" stop-color="#00f"/><stop offset="0.479" stop-color="#0010ff"/><stop offset="0.6303" stop-color="#0028ff"/><stop offset="0.7815" stop-color="#0048ff"/><stop offset="0.8824" stop-color="#0064ff"/><stop offset="1" stop-color="#0080ff"/></linearGradient>
<linearGradient id="u154" x2="0" y2="1"><stop offset="-0.0084" stop-color="#00009f"/><stop offset="0.0924" stop-color="#00b"/><stop offset="0.2101" stop-color="#0000da"/><stop offset="0.3445" stop-color="#00f"/><stop offset="0.479" stop-color="#0010ff"/><stop offset="0.6303" stop-color="#0028ff"/><stop offset="0.7815" stop-color="#0048ff"/><stop offset="0.8824" stop-color="#0064ff"/><stop offset="1" stop-color="#0080ff"/></linearGradient>
<linearGradient id="u155" x2="0" y2="1"><stop offset="-0.0084" stop-color="#000092"/><stop offset="0.0924" stop-color="#0000ad"/><stop offset="0.2101" stop-color="#0000cd"/><stop offset="0.3445" stop-color="#0000f6"/><stop offset="0.479" stop-color="#000cff"/><stop offset="0.6303" stop-color="#0028ff"/><stop offset="0.7815" stop-color="#0048ff"/><stop offset="0.8824" stop-color="#0064ff"/><stop offset="1" stop-color="#0080ff"/></linearGradient>
<linearGradient id="u156" x2="0" y2="1"><stop offset="-0.0084" stop-color="#00009b"/><stop offset="0.0924" stop-color="#0000b6"/><stop offset="0.2101" stop-color="#0000d6"/><stop offset="0.3445" stop-color="#0000fa"/><stop offset="0.479" stop-color="#0010ff"/><stop offset="0.6303" stop-color="#0028ff"/><stop offset="0.7815" stop-color="#0048ff"/><stop offset="0.8824" stop-color="#0064ff"/><stop offset="1" stop-color="#0080ff"/></linearGradient>
<linearGradient id="u157" x2="0" y2="1"><stop offset="-0.0084" stop-color="#000096"/><stop offset="0.0924" stop-color="#0000b6"/><stop offset="0.2101" stop-color="#0000d6"/><stop offset="0.3445" stop-color="#0000fa"/><stop offset="0.479" stop-color="#0010ff"/><stop offset="0.6303" stop-color="#0028ff"/><stop offset="0.7815" stop-color="#0048ff"/><stop offset="0.8824" stop-color="#0064ff"/><stop offset="1" stop-color="#0080ff"/></linearGradient>
<linearGradient id="u158" x2="0" y2="1"><stop offset="-0.0084" stop-color="#000080"/><stop offset="0.0924" stop-color="#00009f"/><stop offset="0.2101" stop-color="#0000c4"/><stop offset="0.3445" stop-color="#0000f1"/><stop offset="0.479" stop-color="#0008ff"/><stop offset="0.6303" stop-color="#0024ff"/><stop offset="0.7815" stop-color="#0048ff"/><stop offset="0.8824" stop-color="#0064ff"/><stop offset="1" stop-color="#0080ff"/></linearGradient>
<linearGradient id="u159" x2="0" y2="1"><stop offset="-0.0084" stop-color="#000084"/><stop offset="0.0924" stop-color="#0000a4"/><stop offset="0.2101" stop-color="#0000c8"/><stop offset="0.3445" stop-color="#0000f1"/><stop offset="0.479" stop-color="#000cff"/><stop offset="0.6303" stop-color="#0024ff"/><stop offset="0.7815" stop-color="#0048ff"/><stop offset="0.8824" stop-color="#0064ff"/><stop offset="1" stop-color="#0080ff"/></linearGradient>
<linearGradient id="u160" x2="0" y2="1"><stop offset="-0.0084" stop-color="#000096"/><stop offset="0.0924" stop-color="#0000b2"/><stop offset="0.2101" stop-color="#0000d1"/><stop offset="0.3445" stop-color="#0000fa"/><stop offset="0.479" stop-color="#000cff"/><stop offset="0.6303" stop-color="#0028ff"/><stop offset="0.7815" stop-color="#0048ff"/><stop offset="0.8824" stop-color="#0064ff"/><stop offset="1" stop-color="#0080ff"/></linearGradient>
<linearGradient id="u161" x2="0" y2="1"><stop offset="-0.0084" stop-color="#000089"/><stop offset="0.0924" stop-color="#0000a8"/><stop offset="0.2101" stop-color="#0000cd"/><stop offset="0.3445" stop-color="#0000f6"/><stop offset="0.479" stop-color="#000cff"/><stop offset="0.6303" stop-color="#0024ff"/><stop offset="0.7815" stop-color="#0048ff"/><stop offset="0.8824" stop-color="#0064ff"/><stop offset="1" stop-color="#0080ff"/></linearGradient>
<linearGradient id="u162" x2="0" y2="1"><stop offset="-0.0084" stop-color="#00008d"/><stop offset="0.0924" stop-color="#0000ad"/><stop offset="0.2101" stop-color="#0000cd"/><stop offset="0.3445" stop-color="#0000f6"/><stop offset="0.479" stop-color="#000cff"/><stop offset="0.6303" stop-color="#0024ff"/><stop offset="0.7815" stop-color="#0048ff"/><stop offset="0.8824" stop-color="#0064ff"/><stop offset="1" stop-color="#0080ff"/></linearGradient>
<linearGradient id="u163" x2="0" y2="1"><stop offset="-0.0084" stop-color="#000089"/><stop offset="0.0924" stop-color="#0000a4"/><stop offset="0.2101" stop-color="#0000c8"/><stop offset="0.3445" stop-color="#0000f1"/><stop offset="0.479" stop-color="#000cff"/><stop offset="0.6303" stop-color="#0024ff"/><stop offset="0.7815" stop-color="#0048ff"/><stop offset="0.8824" stop-color="#0064ff"/><stop offset="1" stop-color="#0080ff"/></linearGradient>
<linearGradient id="u164" x2="0" y2="1"><stop offset="-0.0084" stop-color="#00008d"/><stop offset="0.0924" stop-color="#0000a8"/><stop offset="0.2101" stop-color="#0000cd"/><stop offset="0.3445" stop-color="#0000f6"/><stop offset="0.479" stop-color="#000cff"/><stop offset="0.6303" stop-color="#0024ff"/><stop offset="0.7815" stop-color="#0048ff"/><stop offset="0.8824" stop-color="#0064ff"/><stop offset="1" stop-color="#0080ff"/></linearGradient>
<linearGradient id="u165" x2="0" y2="1"><stop offset="-0.0084" stop-color="#000089"/><stop offset="0.0924" stop-color="#0000a8"/><stop offset="0.2101" stop-color="#0000cd"/><stop offset="0.3445" stop-color="#0000f6"/><stop offset="0.479" stop-color="#000cff"/><stop offset="0.6303" stop-color="#0024ff"/><stop offset="0.7815" stop-color="#0048ff"/><stop offset="0.8824" stop-color="#0064ff"/><stop offset="1" stop-color="#0080ff"/></linearGradient>
<linearGradient id="u166" x2="0" y2="1"><stop offset="-0.0084" stop-color="#000080"/><stop offset="0.0924" stop-color="#00009f"/><stop offset="0.2101" stop-color="#0000c8"/><stop offset="0.3445" stop-color="#0000f1"/><stop offset="0.479" stop-color="#0008ff"/><stop offset="0.6303" stop-color="#0024ff"/><stop offset="0.7815" stop-color="#0048ff"/><stop offset="0.8824" stop-color="#0064ff"/><stop offset="1" stop-color="#0080ff"/></linearGradient>
<linearGradient id="u167" x2="0" y2="1"><stop offset="-0.0084" stop-color="#0000df"/><stop offset="0.0924" stop-color="#0000ed"/><stop offset="0.2101" stop-color="#00f"/><stop offset="0.3445" stop-color="#0004ff"/><stop offset="0.479" stop-color="#001cff"/><stop offset="0.6303" stop-color="#002cff"/><stop offset="0.7815" stop-color="#0048ff"/><stop offset="0.8824" stop-color="#0064ff"/><stop offset="1" stop-color="#0080ff"/></linearGradient>
<linearGradient id="u168" x2="0" y2="1"><stop offset="-0.0084" stop-color="#00f"/><stop offset="0.0924" stop-color="#00f"/><stop offset="0.2101" stop-color="#0008ff"/><stop offset="0.3445" stop-color="#0014ff"/><stop offset="0.479" stop-color="#0024ff"/><stop offset="0.6303" stop-color="#0030ff"/><stop offset="0.7815" stop-color="#0048ff"/><stop offset="0.8824" stop-color="#0064ff"/><stop offset="1" stop-color="#0080ff"/></linearGradient>
<linearGradient id="u169" x2="0" y2="1"><stop offset="-0.0084" stop-color="#0000ed"/><stop offset="0.0924" stop-color="#0000fa"/><stop offset="0.2101" stop-color="#00f"/><stop offset="0.3445" stop-color="#0008ff"/><stop offset="0.479" stop-color="#0020ff"/><stop offset="0.6303" stop-color="#002cff"/><stop offset="0.7815" stop-color="#0048ff"/><stop offset="0.8824" stop-color="#0064ff"/><stop offset="1" stop-color="#0080ff"/></linearGradient>
<linearGradient id="u170" x2="0" y2="1"><stop offset="-0.0084" stop-color="#00f"/><stop offset="0.0924" stop-color="#0004ff"/><stop offset="0.2101" stop-color="#000cff"/><stop offset="0.3445" stop-color="#0014ff"/><stop offset="0.479" stop-color="#0028ff"/><stop offset="0.6303" stop-color="#0030ff"/><stop offset="0.7815" stop-color="#0048ff"/><stop offset="0.8824" stop-color="#0064ff"/><stop offset="1" stop-color="#0080ff"/></linearGradient>
<linearGradient id="u171" x2="0" y2="1"><stop offset="-0.0084" stop-color="#0000e3"/><stop offset="0.0924" stop-color="#0000ed"/><stop offset="0.2101" stop-color="#00f"/><stop offset="0.3445" stop-color="#0004ff"/><stop offset="0.479" stop-color="#001cff"/><stop offset="0.6303" stop-color="#002cff"/><stop offset="0.7815" stop-color="#0048ff"/><stop offset="0.8824" stop-color="#0064ff"/><stop offset="1" stop-color="#0080ff"/></linearGradient>
<linearGradient id="u172" x2="0" y2="1"><stop offset="-0.0084" stop-color="#0000a8"/><stop offset="0.0924" stop-color="#0000c4"/><stop offset="0.2101" stop-color="#0000df"/><stop offset="0.3445" stop-color="#00f"/><stop offset="0.479" stop-color="#0010ff"/><stop offset="0.6303" stop-color="#0028ff"/><stop offset="0.7815" stop-color="#0048ff"/><stop offset="0.8824" stop-color="#0064ff"/><stop offset="1" stop-color="#0080ff"/></linearGradient>
<linearGradient id="u173" x2="0" y2="1"><stop offset="-0.0084" stop-color="#0000e3"/><stop offset="0.0924" stop-color="#0000f1"/><stop offset="0.2101" stop-color="#00f"/><stop offset="0.3445" stop-color="#0008ff"/><stop offset="0.479" stop-color="#001cff"/><stop offset="0.6303" stop-color="#002cff"/><stop offset="0.7815" stop-color="#0048ff"/><stop offset="0.8824" stop-color="#0064ff"/><stop offset="1" stop-color="#0080ff"/></linearGradient>
<linearGradient id="u174" x2="0" y2="1"><stop offset="-0.0084" stop-color="#0000da"/><stop offset="0.0924" stop-color="#0000e8"/><stop offset="0.2101" stop-color="#0000fa"/><stop offset="0.3445" stop-color="#0004ff"/><stop offset="0.479" stop-color="#001cff"/><stop offset="0.6303" stop-color="#002cff"/><stop offset="0.7815" stop-color="#0048ff"/><stop offset="0.8824" stop-color="#0064ff"/><stop offset="1" stop-color="#0080ff"/></linearGradient>
<linearGradient id="u175" x2="0" y2="1"><stop offset="-0.0084" stop-color="#00008d"/><stop offset="0.0924" stop-color="#0000ad"/><stop offset="0.2101" stop-color="#0000cd"/><stop offset="0.3445" stop-color="#0000f6"/><stop offset="0.479" stop-color="#000cff"/><stop offset="0.6303" stop-color="#0024ff"/><stop offset="0.7815" stop-color="#0048ff"/><stop offset="0.8824" stop-color="#0064ff"/><stop offset="1" stop-color="#0080ff"/></linearGradient>
<linearGradient id="u176" x2="0" y2="1"><stop offset="-0.0084" stop-color="#000096"/><stop offset="0.0924" stop-color="#0000b2"/><stop offset="0.2101" stop-color="#0000d1"/><stop offset="0.3445" stop-color="#0000fa"/><stop offset="0.479" stop-color="#000cff"/><stop offset="0.6303" stop-color="#0028ff"/><stop offset="0.7815" stop-color="#0048ff"/><stop offset="0.8824" stop-color="#0064ff"/><stop offset="1" stop-color="#0080ff"/></linearGradient>
<linearGradient id="u177" x2="0" y2="1"><stop offset="-0.0084" stop-color="#0000df"/><stop offset="0.0924" stop-color="#0000ed"/><stop offset="0.2101" stop-color="#00f"/><stop offset="0.3445" stop-color="#0004ff"/><stop offset="0.479" stop-color="#001cff"/><stop offset="0.6303" stop-color="#002cff"/><stop offset="0.7815" stop-color="#0048ff"/><stop offset="0.8824" stop-color="#0064ff"/><stop offset="1" stop-color="#0080ff"/></linearGradient>
<linearGradient id="u178" x2="0" y2="1"><stop offset="-0.0084" stop-color="#0000c8"/><stop offset="0.0924" stop-color="#0000da"/><stop offset="0.2101" stop-color="#0000f1"/><stop offset="0.3445" stop-color="#00f"/><stop offset="0.479" stop-color="#0018ff"/><stop offset="0.6303" stop-color="#002cff"/><stop offset="0.7815" stop-color="#0048ff"/><stop offset="0.8824" stop-color="#0064ff"/><stop offset="1" stop-color="#0080ff"/></linearGradient>
<linearGradient id="u179" x2="0" y2="1"><stop offset="-0.0084" stop-color="#0000c8"/><stop offset="0.0924" stop-color="#0000da"/><stop offset="0.2101" stop-color="#0000f1"/><stop offset="0.3445" stop-color="#00f"/><stop offset="0.479" stop-color="#0018ff"/><stop offset="0.6303" stop-color="#002cff"/><stop offset="0.7815" stop-color="#0048ff"/><stop offset="0.8824" stop-color="#0064ff"/><stop offset="1" stop-color="#0080ff"/></linearGradient>
<linearGradient id="u180" x2="0" y2="1"><stop offset="-0.0084" stop-color="#0000d1"/><stop offset="0.0924" stop-color="#0000e3"/><stop offset="0.2101" stop-color="#0000f6"/><stop offset="0.3445" stop-color="#00f"/><stop offset="0.479" stop-color="#0018ff"/><stop offset="0.6303" stop-color="#002cff"/><stop offset="0.7815" stop-color="#0048ff"/><stop offset="0.8824" stop-color="#0064ff"/><stop offset="1" stop-color="#0080ff"/></linearGradient>
<linearGradient id="u181" x2="0" y2="1"><stop offset="-0.0084" stop-color="#0000df"/><stop offset="0.0924" stop-color="#0000ed"/><stop offset="0.2101" stop-color="#00f"/><stop offset="0.3445" stop-color="#0004ff"/><stop offset="0.479" stop-color="#001cff"/><stop offset="0.6303" stop-color="#002cff"/><stop offset="0.7815" stop-color="#0048ff"/><stop offset="0.8824" stop-color="#0064ff"/><stop offset="1" stop-color="#0080ff"/></linearGradient>
<linearGradient id="u182" x2="0" y2="1"><stop offset="-0.0084" stop-color="#0000fa"/><stop offset="0.0924" stop-color="#00f"/><stop offset="0.2101" stop-color="#00f"/><stop offset="0.3445" stop-color="#000cff"/><stop offset="0.479" stop-color="#0020ff"/><stop offset="0.6303" stop-color="#0030ff"/><stop offset="0.7815" stop-color="#0048ff"/><stop offset="0.8824" stop-color="#0064ff"/><stop offset="1" stop-color="#0080ff"/></linearGradient>
<linearGradient id="u183" x2="0" y2="1"><stop offset="-0.0084" stop-color="#0000a4"/><stop offset="0.0924" stop-color="#00b"/><stop offset="0.2101" stop-color="#0000da"/><stop offset="0.3445" stop-color="#00f"/><stop offset="0.479" stop-color="#0010ff"/><stop offset="0.6303" stop-color="#0028ff"/><stop offset="0.7815" stop-color="#0048ff"/><stop offset="0.8824" stop-color="#0064ff"/><stop offset="1" stop-color="#0080ff"/></linearGradient>
<linearGradient id="u184" x2="0" y2="1"><stop offset="-0.0084" stop-color="#00009f"/><stop offset="0.0924" stop-color="#00b"/><stop offset="0.2101" stop-color="#0000da"/><stop offset="0.3445" stop-color="#00f"/><stop offset="0.479" stop-color="#0010ff"/><stop offset="0.6303" stop-color="#0028ff"/><stop offset="0.7815" stop-color="#0048ff"/><stop offset="0.8824" stop-color="#0064ff"/><stop offset="1" stop-color="#0080ff"/></linearGradient>
<linearGradient id="u185" x2="0" y2="1"><stop offset="-0.0084" stop-color="#00009f"/><stop offset="0.0924" stop-color="#0000b6"/><stop offset="0.2101" stop-color="#0000d6"/><stop offset="0.3445" stop-color="#0000fa"/><stop offset="0.479" stop-color="#0010ff"/><stop offset="0.6303" stop-color="#0028ff"/><stop offset="0.7815" stop-color="#0048ff"/><stop offset="0.8824" stop-color="#0064ff"/><stop offset="1" stop-color="#0080ff"/></linearGradient>
<linearGradient id="u186" x2="0" y2="1"><stop offset="-0.0084" stop-color="#00009b"/><stop offset="0.0924" stop-color="#0000b6"/><stop offset="0.2101" stop-color="#0000d6"/><stop offset="0.3445" stop-color="#0000fa"/><stop offset="0.479" stop-color="#0010ff"/><stop offset="0.6303" stop-color="#0028ff"/><stop offset="0.7815" stop-color="#0048ff"/><stop offset="0.8824" stop-color="#0064ff"/><stop offset="1" stop-color="#0080ff"/></linearGradient>
<linearGradient id="u187" x2="0" y2="1"><stop offset="-0.0084" stop-color="#000092"/><stop offset="0.0924" stop-color="#0000ad"/><stop offset="0.2101" stop-color="#0000d1"/><stop offset="0.3445" stop-color="#0000f6"/><stop offset="0.479" stop-color="#000cff"/><stop offset="0.6303" stop-color="#0028ff"/><stop offset="0.7815" stop-color="#0048ff"/><stop offset="0.8824" stop-color="#0064ff"/><stop offset="1" stop-color="#0080ff"/></linearGradient>
<linearGradient id="u188" x2="0" y2="1"><stop offset="-0.0084" stop-color="#00009b"/><stop offset="0.0924" stop-color="#0000b6"/><stop offset="0.2101" stop-color="#0000d6"/><stop offset="0.3445" stop-color="#0000fa"/><stop offset="0.479" stop-color="#0010ff"/><stop offset="0.6303" stop-color="#0028ff"/><stop offset="0.7815" stop-color="#0048ff"/><stop offset="0.8824" stop-color="#0064ff"/><stop offset="1" stop-color="#0080ff"/></linearGradient>
<linearGradient id="u189" x2="0" y2="1"><stop offset="-0.0084" stop-color="#000096"/><stop offset="0.0924" stop-color="#0000b2"/><stop offset="0.2101" stop-color="#0000d1"/><stop offset="0.3445" stop-color="#0000fa"/><stop offset="0.479" stop-color="#000cff"/><stop offset="0.6303" stop-color="#0028ff"/><stop offset="0.7815" stop-color="#0048ff"/><stop offset="0.8824" stop-color="#0064ff"/><stop offset="1" stop-color="#0080ff"/></linearGradient>
<linearGradient id="u190" x2="0" y2="1"><stop offset="-0.0084" stop-color="#00009f"/><stop offset="0.0924" stop-color="#00b"/><stop offset="0.2101" stop-color="#0000da"/><stop offset="0.3445" stop-color="#00f"/><stop offset="0.479" stop-color="#0010ff"/><stop offset="0.6303" stop-color="#0028ff"/><stop offset="0.7815" stop-color="#0048ff"/><stop offset="0.8824" stop-color="#0064ff"/><stop offset="1" stop-color="#0080ff"/></linearGradient>
<linearGradient id="u191" x2="0" y2="1"><stop offset="-0.0084" stop-color="#00009b"/><stop offset="0.0924" stop-color="#0000b6"/><stop offset="0.2101" stop-color="#0000d6"/><stop offset="0.3445" stop-color="#0000fa"/><stop offset="0.479" stop-color="#0010ff"/><stop offset="0.6303" stop-color="#0028ff"/><stop offset="0.7815" stop-color="#0048ff"/><stop offset="0.8824" stop-color="#0064ff"/><stop offset="1" stop-color="#0080ff"/></linearGradient>
<linearGradient id="u192" x2="0" y2="1"><stop offset="-0.0084" stop-color="#00009b"/><stop offset="0.0924" stop-color="#0000b6"/><stop offset="0.2101" stop-color="#0000d6"/><stop offset="0.3445" stop-color="#0000fa"/><stop offset="0.479" stop-color="#0010ff"/><stop offset="0.6303" stop-color="#0028ff"/><stop offset="0.7815" stop-color="#0048ff"/><stop offset="0.8824" stop-color="#0064ff"/><stop offset="1" stop-color="#0080ff"/></linearGradient>
<linearGradient id="u193" x2="0" y2="1"><stop offset="-0.0084" stop-color="#000089"/><stop offset="0.0924" stop-color="#0000a8"/><stop offset="0.2101" stop-color="#0000cd"/><stop offset="0.3445" stop-color="#0000f6"/><stop offset="0.479" stop-color="#000cff"/><stop offset="0.6303" stop-color="#0024ff"/><stop offset="0.7815" stop-color="#0048ff"/><stop offset="0.8824" stop-color="#0064ff"/><stop offset="1" stop-color="#0080ff"/></linearGradient>
<linearGradient id="u194" x2="0" y2="1"><stop offset="-0.0084" stop-color="#0000a8"/><stop offset="0.0924" stop-color="#0000bf"/><stop offset="0.2101" stop-color="#0000df"/><stop offset="0.3445" stop-color="#00f"/><stop offset="0.479" stop-color="#0010ff"/><stop offset="0.6303" stop-color="#0028ff"/><stop offset="0.7815" stop-color="#0048ff"/><stop offset="0.8824" stop-color="#0064ff"/><stop offset="1" stop-color="#0080ff"/></linearGradient>
<linearGradient id="u195" x2="0" y2="1"><stop offset="-0.0084" stop-color="#000084"/><stop offset="0.0924" stop-color="#0000a4"/><stop offset="0.2101" stop-color="#0000c8"/><stop offset="0.3445" stop-color="#0000f1"/><stop offset="0.479" stop-color="#000cff"/><stop offset="0.6303" stop-color="#0024ff"/><stop offset="0.7815" stop-color="#0048ff"/><stop offset="0.8824" stop-color="#0064ff"/><stop offset="1" stop-color="#0080ff"/></linearGradient>
<linearGradient id="u196" x2="0" y2="1"><stop offset="-0.0084" stop-color="#000080"/><stop offset="0.0924" stop-color="#00009b"/><stop offset="0.2101" stop-color="#0000c4"/><stop offset="0.3445" stop-color="#0000f1"/><stop offset="0.479" stop-color="#0008ff"/><stop offset="0.6303" stop-color="#0024ff"/><stop offset="0.7815" stop-color="#0048ff"/><stop offset="0.8824" stop-color="#0064ff"/><stop offset="1" stop-color="#0080ff"/></linearGradient>
<linearGradient id="u197" x2="0" y2="1"><stop offset="-0.0084" stop-color="#000084"/><stop offset="0.0924" stop-color="#0000a4"/><stop offset="0.2101" stop-color="#0000c8"/><stop offset="0.3445" stop-color="#0000f1"/><stop offset="0.479" stop-color="#0008ff"/><stop offset="0.6303" stop-color="#0024ff"/><stop offset="0.7815" stop-color="#0048ff"/><stop offset="0.8824" stop-color="#0064ff"/><stop offset="1" stop-color="#0080ff"/></linearGradient>
<linearGradient id="u198" x2="0" y2="1"><stop offset="-0.0084" stop-color="#000080"/><stop offset="0.0924" stop-color="#00009f"/><stop offset="0.2101" stop-color="#0000c8"/><stop offset="0.3445" stop-color="#0000f1"/><stop offset="0.479" stop-color="#0008ff"/><stop offset="0.6303" stop-color="#0024ff"/><stop offset="0.7815" stop-color="#0048ff"/><stop offset="0.8824" stop-color="#0064ff"/><stop offset="1" stop-color="#0080ff"/></linearGradient>
<linearGradient id="u199" x2="0" y2="1"><stop offset="-0.0084" stop-color="#0000bf"/><stop offset="0.0924" stop-color="#0000d1"/><stop offset="0.2101" stop-color="#0000ed"/><stop offset="0.3445" stop-color="#00f"/><stop offset="0.479" stop-color="#0014ff"/><stop offset="0.6303" stop-color="#0028ff"/><stop offset="0.7815" stop-color="#0048ff"/><stop offset="0.8824" stop-color="#0064ff"/><stop offset="1" stop-color="#0080ff"/></linearGradient>
<linearGradient id="u200" x2="0" y2="1"><stop offset="-0.0084" stop-color="#00b"/><stop offset="0.0924" stop-color="#0000d1"/><stop offset="0.2101" stop-color="#0000e8"/><stop offset="0.3445" stop-color="#00f"/><stop offset="0.479" stop-color="#0014ff"/><stop offset="0.6303" stop-color="#0028ff"/><stop offset="0.7815" stop-color="#0048ff"/><stop offset="0.8824" stop-color="#0064ff"/><stop offset="1" stop-color="#0080ff"/></linearGradient>
<linearGradient id="u201" x2="0" y2="1"><stop offset="-0.0084" stop-color="#0000cd"/><stop offset="0.0924" stop-color="#0000da"/><stop offset="0.2101" stop-color="#0000f1"/><stop offset="0.3445" stop-color="#00f"/><stop offset="0.479" stop-color="#0018ff"/><stop offset="0.6303" stop-color="#002cff"/><stop offset="0.7815" stop-color="#0048ff"/><stop offset="0.8824" stop-color="#0064ff"/><stop offset="1" stop-color="#0080ff"/></linearGradient>
<linearGradient id="u202" x2="0" y2="1"><stop offset="-0.0084" stop-color="#0000e8"/><stop offset="0.0924" stop-color="#0000f1"/><stop offset="0.2101" stop-color="#00f"/><stop offset="0.3445" stop-color="#0008ff"/><stop offset="0.479" stop-color="#001cff"/><stop offset="0.6303" stop-color="#002cff"/><stop offset="0.7815" stop-color="#0048ff"/><stop offset="0.8824" stop-color="#0064ff"/><stop offset="1" stop-color="#0080ff"/></linearGradient>
<linearGradient id="u203" x2="0" y2="1"><stop offset="-0.0084" stop-color="#0000a8"/><stop offset="0.0924" stop-color="#0000c4"/><stop offset="0.2101" stop-color="#0000df"/><stop offset="0.3445" stop-color="#00f"/><stop offset="0.479" stop-color="#0010ff"/><stop offset="0.6303" stop-color="#0028ff"/><stop offset="0.7815" stop-color="#0048ff"/><stop offset="0.8824" stop-color="#0064ff"/><stop offset="1" stop-color="#0080ff"/></linearGradient>
<linearGradient id="u204" x2="0" y2="1"><stop offset="-0.0084" stop-color="#000080"/><stop offset="0.0924" stop-color="#00009f"/><stop offset="0.2101" stop-color="#0000c4"/><stop offset="0.3445" stop-color="#0000f1"/><stop offset="0.479" stop-color="#0008ff"/><stop offset="0.6303" stop-color="#0024ff"/><stop offset="0.7815" stop-color="#0048ff"/><stop offset="0.8824" stop-color="#0064ff"/><stop offset="1" stop-color="#0080ff"/></linearGradient>
<linearGradient id="u205" x2="0" y2="1"><stop offset="-0.0084" stop-color="#0000a8"/><stop offset="0.0924" stop-color="#0000bf"/><stop offset="0.2101" stop-color="#0000df"/><stop offset="0.3445" stop-color="#00f"/><stop offset="0.479" stop-color="#0010ff"/><stop offset="0.6303" stop-color="#0028ff"/><stop offset="0.7815" stop-color="#0048ff"/><stop offset="0.8824" stop-color="#0064ff"/><stop offset="1" stop-color="#0080ff"/></linearGradient>
<linearGradient id="u206" x2="0" y2="1"><stop offset="-0.0084" stop-color="#00009b"/><stop offset="0.0924" stop-color="#0000b6"/><stop offset="0.2101" stop-color="#0000d6"/><stop offset="0.3445" stop-color="#0000fa"/><stop offset="0.479" stop-color="#0010ff"/><stop offset="0.6303" stop-color="#0028ff"/><stop offset="0.7815" stop-color="#0048ff"/><stop offset="0.8824" stop-color="#0064ff"/><stop offset="1" stop-color="#0080ff"/></linearGradient>
<linearGradient id="u207" x2="0" y2="1"><stop offset="-0.0084" stop-color="#0000a8"/><stop offset="0.0924" stop-color="#0000bf"/><stop offset="0.2101" stop-color="#0000df"/><stop offset="0.3445" stop-color="#00f"/><stop offset="0.479" stop-color="#0010ff"/><stop offset="0.6303" stop-color="#0028ff"/><stop offset="0.7815" stop-color="#0048ff"/><stop offset="0.8824" stop-color="#0064ff"/><stop offset="1" stop-color="#0080ff"/></linearGradient>
<linearGradient id="u208" x2="0" y2="1"><stop offset="-0.0084" stop-color="#005cff"/><stop offset="0.0924" stop-color="#0060ff"/><stop offset="0.2101" stop-color="#0064ff"/><stop offset="0.3445" stop-color="#006cff"/><stop offset="0.479" stop-color="#0074ff"/><stop offset="0.6303" stop-color="#0080ff"/><stop offset="0.7815" stop-color="#008cff"/><stop offset="0.8824" stop-color="#0098ff"/><stop offset="1" stop-color="#00a4ff"/></linearGradient>
<linearGradient id="u209" x2="0" y2="1"><stop offset="-0.0084" stop-color="#005cff"/><stop offset="0.0924" stop-color="#0060ff"/><stop offset="0.2101" stop-color="#0064ff"/><stop offset="0.3445" stop-color="#006cff"/><stop offset="0.479" stop-color="#0074ff"/><stop offset="0.6303" stop-color="#0080ff"/><stop offset="0.7815" stop-color="#008cff"/><stop offset="0.8824" stop-color="#0098ff"/><stop offset="1" stop-color="#00a4ff"/></linearGradient>
<linearGradient id="u210" x2="0" y2="1"><stop offset="-0.0084" stop-color="#005cff"/><stop offset="0.0924" stop-color="#0060ff"/><stop offset="0.2101" stop-color="#0064ff"/><stop offset="0.3445" stop-color="#006cff"/><stop offset="0.479" stop-color="#0074ff"/><stop offset="0.6303" stop-color="#0080ff"/><stop offset="0.7815" stop-color="#008cff"/><stop offset="0.8824" stop-color="#0098ff"/><stop offset="1" stop-color="#00a4ff"/></linearGradient>
<linearGradient id="u211" x2="0" y2="1"><stop offset="-0.0084" stop-color="#005cff"/><stop offset="0.0924" stop-color="#0060ff"/><stop offset="0.2101" stop-color="#0064ff"/><stop offset="0.3445" stop-color="#006cff"/><stop offset="0.479" stop-color="#0074ff"/><stop offset="0.6303" stop-color="#0080ff"/><stop offset="0.7815" stop-color="#008cff"/><stop offset="0.8824" stop-color="#0098ff"/><stop offset="1" stop-color="#00a4ff"/></linearGradient>
<linearGradient id="u212" x2="0" y2="1"><stop offset="-0.0084" stop-color="#005cff"/><stop offset="0.0924" stop-color="#0060ff"/><stop offset="0.2101" stop-color="#0064ff"/><stop offset="0.3445" stop-color="#006cff"/><stop offset="0.479" stop-color="#0074ff"/><stop offset="0.6303" stop-color="#0080ff"/><stop offset="0.7815" stop-color="#008cff"/><stop offset="0.8824" stop-color="#0098ff"/><stop offset="1" stop-color="#00a4ff"/></linearGradient>
<linearGradient id="u213" x2="0" y2="1"><stop offset="-0.0084" stop-color="#005cff"/><stop offset="0.0924" stop-color="#0060ff"/><stop offset="0.2101" stop-color="#0064ff"/><stop offset="0.3445" stop-color="#006cff"/><stop offset="0.479" stop-color="#0074ff"/><stop offset="0.6303" stop-color="#0080ff"/><stop offset="0.7815" stop-color="#008cff"/><stop offset="0.8824" stop-color="#0098ff"/><stop offset="1" stop-color="#00a4ff"/></linearGradient>
<linearGradient id="u214" x2="0" y2="1"><stop offset="-0.0084" stop-color="#005cff"/><stop offset="0.0924" stop-color="#0060ff"/><stop offset="0.2101" stop-color="#0064ff"/><stop offset="0.3445" stop-color="#006cff"/><stop offset="0.479" stop-color="#0074ff"/><stop offset="0.6303" stop-color="#0080ff"/><stop offset="0.7815" stop-color="#008cff"/><stop offset="0.8824" stop-color="#0098ff"/><stop offset="1" stop-color="#00a4ff"/></linearGradient>
<linearGradient id="u215" x2="0" y2="1"><stop offset="-0.0084" stop-color="#005cff"/><stop offset="0.0924" stop-color="#0060ff"/><stop offset="0.2101" stop-color="#0064ff"/><stop offset="0.3445" stop-color="#006cff"/><stop offset="0.479" stop-color="#0074ff"/><stop offset="0.6303" stop-color="#0080ff"/><stop offset="0.7815" stop-color="#008cff"/><stop offset="0.8824" stop-color="#0098ff"/><stop offset="1" stop-color="#00a4ff"/></linearGradient>
<linearGradient id="u216" x2="0" y2="1"><stop offset="-0.0084" stop-color="#005cff"/><stop offset="0.0924" stop-color="#0060ff"/><stop offset="0.2101" stop-color="#0064ff"/><stop offset="0.3445" stop-color="#006cff"/><stop offset="0.479" stop-color="#0074ff"/><stop offset="0.6303" stop-color="#0080ff"/><stop offset="0.7815" stop-color="#008cff"/><stop offset="0.8824" stop-color="#0098ff"/><stop offset="1" stop-color="#00a4ff"/></linearGradient>
<linearGradient id="u217" x2="0" y2="1"><stop offset="-0.0084" stop-color="#005cff"/><stop offset="0.0924" stop-color="#0060ff"/><stop offset="0.2101" stop-color="#0064ff"/><stop offset="0.3445" stop-color="#006cff"/><stop offset="0.479" stop-color="#0074ff"/><stop offset="0.6303" stop-color="#0080ff"/><stop offset="0.7815" stop-color="#008cff"/><stop offset="0.8824" stop-color="#0098ff"/><stop offset="1" stop-color="#00a4ff"/></linearGradient>
<linearGradient id="u218" x2="0" y2="1"><stop offset="-0.0084" stop-color="#005cff"/><stop offset="0.0924" stop-color="#0060ff"/><stop offset="0.2101" stop-color="#0064ff"/><stop offset="0.3445" stop-color="#006cff"/><stop offset="0.479" stop-color="#0074ff"/><stop offset="0.6303" stop-color="#0080ff"/><stop offset="0.7815" stop-color="#008cff"/><stop offset="0.8824" stop-color="#0098ff"/><stop offset="1" stop-color="#00a4ff"/></linearGradient>
<linearGradient id="u219" x2="0" y2="1"><stop offset="-0.0084" stop-color="#005cff"/><stop offset="0.0924" stop-color="#0060ff"/><stop offset="0.2101" stop-color="#0064ff"/><stop offset="0.3445" stop-color="#006cff"/><stop offset="0.479" stop-color="#0074ff"/><stop offset="0.6303" stop-color="#0080ff"/><stop offset="0.7815" stop-color="#008cff"/><stop offset="0.8824" stop-color="#0098ff"/><stop offset="1" stop-color="#00a4ff"/></linearGradient>
<linearGradient id="u220" x2="0" y2="1"><stop offset="-0.0084" stop-color="#005cff"/><stop offset="0.0924" stop-color="#0060ff"/><stop offset="0.2101" stop-color="#0064ff"/><stop offset="0.3445" stop-color="#006cff"/><stop offset="0.479" stop-color="#0074ff"/><stop offset="0.6303" stop-color="#0080ff"/><stop offset="0.7815" stop-color="#008cff"/><stop offset="0.8824" stop-color="#0098ff"/><stop offset="1" stop-color="#00a4ff"/></linearGradient>
<linearGradient id="u221" x2="0" y2="1"><stop offset="-0.0084" stop-color="#005cff"/><stop offset="0.0924" stop-color="#0060ff"/><stop offset="0.2101" stop-color="#0064ff"/><stop offset="0.3445" stop-color="#006cff"/><stop offset="0.479" stop-color="#0074ff"/><stop offset="0.6303" stop-color="#0080ff"/><stop offset="0.7815" stop-color="#008cff"/><stop offset="0.8824" stop-color="#0098ff"/><stop offset="1" stop-color="#00a4ff"/></linearGradient>
<linearGradient id="u222" x2="0" y2="1"><stop offset="-0.0084" stop-color="#005cff"/><stop offset="0.0924" stop-color="#0060ff"/><stop offset="0.2101" stop-color="#0064ff"/><stop offset="0.3445" stop-color="#006cff"/><stop offset="0.479" stop-color="#0074ff"/><stop offset="0.6303" stop-color="#0080ff"/><stop offset="0.7815" stop-color="#008cff"/><stop offset="0.8824" stop-color="#0098ff"/><stop offset="1" stop-color="#00a4ff"/></linearGradient>
<linearGradient id="u223" x2="0" y2="1"><stop offset="-0.0084" stop-color="#005cff"/><stop offset="0.0924" stop-color="#0060ff"/><stop offset="0.2101" stop-color="#0064ff"/><stop offset="0.3445" stop-color="#006cff"/><stop offset="0.479" stop-color="#0074ff"/><stop offset="0.6303" stop-color="#0080ff"/><stop offset="0.7815" stop-color="#008cff"/><stop offset="0.8824" stop-color="#0098ff"/><stop offset="1" stop-color="#00a4ff"/></linearGradient>
<linearGradient id="u224" x2="0" y2="1"><stop offset="-0.0084" stop-color="#005cff"/><stop offset="0.0924" stop-color="#0060ff"/><stop offset="0.2101" stop-color="#0064ff"/><stop offset="0.3445" stop-color="#006cff"/><stop offset="0.479" stop-color="#0074ff"/><stop offset="0.6303" stop-color="#0080ff"/><stop offset="0.7815" stop-color="#008cff"/><stop offset="0.8824" stop-color="#0098ff"/><stop offset="1" stop-color="#00a4ff"/></linearGradient>
<linearGradient id="u225" x2="0" y2="1"><stop offset="-0.0084" stop-color="#005cff"/><stop offset="0.0924" stop-color="#0060ff"/><stop offset="0.2101" stop-color="#0064ff"/><stop offset="0.3445" stop-color="#006cff"/><stop offset="0.479" stop-color="#0074ff"/><stop offset="0.6303" stop-color="#0080ff"/><stop offset="0.7815" stop-color="#008cff"/><stop offset="0.8824" stop-color="#0098ff"/><stop offset="1" stop-color="#00a4ff"/></linearGradient>
<linearGradient id="u226" x2="0" y2="1"><stop offset="-0.0084" stop-color="#005cff"/><stop offset="0.0924" stop-color="#0060ff"/><stop offset="0.2101" stop-color="#0064ff"/><stop offset="0.3445" stop-color="#006cff"/><stop offset="0.479" stop-color="#0074ff"/><stop offset="0.6303" stop-color="#0080ff"/><stop offset="0.7815" stop-color="#008cff"/><stop offset="0.8824" stop-color="#0098ff"/><stop offset="1" stop-color="#00a4ff"/></linearGradient>
<linearGradient id="u227" x2="0" y2="1"><stop offset="-0.0084" stop-color="#005cff"/><stop offset="0.0924" stop-color="#0060ff"/><stop offset="0.2101" stop-color="#0064ff"/><stop offset="0.3445" stop-color="#006cff"/><stop offset="0.479" stop-color="#0074ff"/><stop offset="0.6303" stop-color="#0080ff"/><stop offset="0.7815" stop-color="#008cff"/><stop offset="0.8824" stop-color="#0098ff"/><stop offset="1" stop-color="#00a4ff"/></linearGradient>
<linearGradient id="u228" x2="0" y2="1"><stop offset="-0.0084" stop-color="#005cff"/><stop offset="0.0924" stop-color="#0060ff"/><stop offset="0.2101" stop-color="#0064ff"/><stop offset="0.3445" stop-color="#006cff"/><stop offset="0.479" stop-color="#0074ff"/><stop offset="0.6303" stop-color="#0080ff"/><stop offset="0.7815" stop-color="#008cff"/><stop offset="0.8824" stop-color="#0098ff"/><stop offset="1" stop-color="#00a4ff"/></linearGradient>
<linearGradient id="u229" x2="0" y2="1"><stop offset="-0.0084" stop-color="#005cff"/><stop offset="0.0924" stop-color="#0060ff"/><stop offset="0.2101" stop-color="#0064ff"/><stop offset="0.3445" stop-color="#006cff"/><stop offset="0.479" stop-color="#0074ff"/><stop offset="0.6303" stop-color="#0080ff"/><stop offset="0.7815" stop-color="#008cff"/><stop offset="0.8824" stop-color="#0098ff"/><stop offset="1" stop-color="#00a4ff"/></linearGradient>
<linearGradient id="u230" x2="0" y2="1"><stop offset="-0.0084" stop-color="#005cff"/><stop offset="0.0924" stop-color="#0060ff"/><stop offset="0.2101" stop-color="#0064ff"/><stop offset="0.3445" stop-color="#006cff"/><stop offset="0.479" stop-color="#0074ff"/><stop offset="0.6303" stop-color="#0080ff"/><stop offset="0.7815" stop-color="#008cff"/><stop offset="0.8824" stop-color="#0098ff"/><stop offset="1" stop-color="#00a4ff"/></linearGradient>
<linearGradient id="u231" x2="0" y2="1"><stop offset="-0.0084" stop-color="#005cff"/><stop offset="0.0924" stop-color="#0060ff"/><stop offset="0.2101" stop-color="#0064ff"/><stop offset="0.3445" stop-color="#006cff"/><stop offset="0.479" stop-color="#0074ff"/><stop offset="0.6303" stop-color="#0080ff"/><stop offset="0.7815" stop-color="#008cff"/><stop offset="0.8824" stop-color="#0098ff"/><stop offset="1" stop-color="#00a4ff"/></linearGradient>
<linearGradient id="u232" x2="0" y2="1"><stop offset="-0.0084" stop-color="#005cff"/><stop offset="0.0924" stop-color="#0060ff"/><stop offset="0.2101" stop-color="#0064ff"/><stop offset="0.3445" stop-color="#006cff"/><stop offset="0.479" stop-color="#0074ff"/><stop offset="0.6303" stop-color="#0080ff"/><stop offset="0.7815" stop-color="#008cff"/><stop offset="0.8824" stop-color="#0098ff"/><stop offset="1" stop-color="#00a4ff"/></linearGradient>
<linearGradient id="u233" x2="0" y2="1"><stop offset="-0.0084" stop-color="#005cff"/><stop offset="0.0924" stop-color="#0060ff"/><stop offset="0.2101" stop-color="#0064ff"/><stop offset="0.3445" stop-color="#006cff"/><stop offset="0.479" stop-color="#0074ff"/><stop offset="0.6303" stop-color="#0080ff"/><stop offset="0.7815" stop-color="#008cff"/><stop offset="0.8824" stop-color="#0098ff"/><stop offset="1" stop-color="#00a4ff"/></linearGradient>
<linearGradient id="u234" x2="0" y2="1"><stop offset="-0.0084" stop-color="#005cff"/><stop offset="0.0924" stop-color="#0060ff"/><stop offset="0.2101" stop-color="#0064ff"/><stop offset="0.3445" stop-color="#006cff"/><stop offset="0.479" stop-color="#0074ff"/><stop offset="0.6303" stop-color="#0080ff"/><stop offset="0.7815" stop-color="#008cff"/><stop offset="0.8824" stop-color="#0098ff"/><stop offset="1" stop-color="#00a4ff"/></linearGradient>
<linearGradient id="u235" x2="0" y2="1"><stop offset="-0.0084" stop-color="#005cff"/><stop offset="0.0924" stop-color="#0060ff"/><stop offset="0.2101" stop-color="#0064ff"/><stop offset="0.3445" stop-color="#006cff"/><stop offset="0.479" stop-color="#0074ff"/><stop offset="0.6303" stop-color="#0080ff"/><stop offset="0.7815" stop-color="#008cff"/><stop offset="0.8824" stop-color="#0098ff"/><stop offset="1" stop-color="#00a4ff"/></linearGradient>
<linearGradient id="u236" x2="0" y2="1"><stop offset="-0.0084" stop-color="#005cff"/><stop offset="0.0924" stop-color="#0060ff"/><stop offset="0.2101" stop-color="#0064ff"/><stop offset="0.3445" stop-color="#006cff"/><stop offset="0.479" stop-color="#0074ff"/><stop offset="0.6303" stop-color="#0080ff"/><stop offset="0.7815" stop-color="#008cff"/><stop offset="0.8824" stop-color="#0098ff"/><stop offset="1" stop-color="#00a4ff"/></linearGradient>
<linearGradient id="u237" x2="0" y2="1"><stop offset="-0.0084" stop-color="#005cff"/><stop offset="0.0924" stop-color="#0060ff"/><stop offset="0.2101" stop-color="#0064ff"/><stop offset="0.3445" stop-color="#006cff"/><stop offset="0.479" stop-color="#0074ff"/><stop offset="0.6303" stop-color="#0080ff"/><stop offset="0.7815" stop-color="#008cff"/><stop offset="0.8824" stop-color="#0098ff"/><stop offset="1" stop-color="#00a4ff"/></linearGradient>
<clipPath id="c1"><rect x="200.0" y="110.0" width="714.0" height="345.0"/></clipPath>
<linearGradient id="cb" x1="0" y1="0" x2="0" y2="1"><stop offset="0%" stop-color="#800000"/><stop offset="2.5%" stop-color="#9b0000"/><stop offset="5%" stop-color="#b60000"/><stop offset="7.5%" stop-color="#d60000"/><stop offset="10%" stop-color="#f10800"/><stop offset="12.5%" stop-color="#ff1e00"/><stop offset="15%" stop-color="#ff3800"/><stop offset="17.5%" stop-color="#ff4e00"/><stop offset="20%" stop-color="#ff6800"/><stop offset="22.5%" stop-color="#ff7e00"/><stop offset="25%" stop-color="#ff9400"/><stop offset="27.5%" stop-color="#ffae00"/><stop offset="30%" stop-color="#ffc400"/><stop offset="32.5%" stop-color="#ffde00"/><stop offset="35%" stop-color="#f8f500"/><stop offset="37.5%" stop-color="#e4ff13"/><stop offset="40%" stop-color="#ceff29"/><stop offset="42.5%" stop-color="#baff3c"/><stop offset="45%" stop-color="#a4ff53"/><stop offset="47.5%" stop-color="#90ff66"/><stop offset="50%" stop-color="#7dff7a"/><stop offset="52.5%" stop-color="#66ff90"/><stop offset="55%" stop-color="#53ffa4"/><stop offset="57.5%" stop-color="#3cffba"/><stop offset="60%" stop-color="#29ffce"/><stop offset="62.5%" stop-color="#16ffe1"/><stop offset="65%" stop-color="#00e4f8"/><stop offset="67.5%" stop-color="#0cf"/><stop offset="70%" stop-color="#00b0ff"/><stop offset="72.5%" stop-color="#0098ff"/><stop offset="75%" stop-color="#0080ff"/><stop offset="77.5%" stop-color="#0064ff"/><stop offset="80%" stop-color="#004cff"/><stop offset="82.5%" stop-color="#0030ff"/><stop offset="85%" stop-color="#0018ff"/><stop offset="87.5%" stop-color="#00f"/><stop offset="90%" stop-color="#0000f1"/><stop offset="92.5%" stop-color="#0000d6"/><stop offset="95%" stop-color="#0000b6"/><stop offset="97.5%" stop-color="#00009b"/><stop offset="100%" stop-color="#000080"/></linearGradient>
</defs>
<text x="1000" y="40.5" font-size="24" text-anchor="middle">BAS-RBM Relativistic Electron Forecast, issued at 23:00 UT, 06 November 2024</text>
<g id="p1">
<rect x="200" y="110" width="714" height="345" fill="#d3d3d3"/>
<rect x="200" y="167.5" width="714" height="287.5" fill="#000080"/>
<rect x="200" y="225" width="7.5" height="230" fill="url(#h0)"/>
<rect x="207" y="225" width="7.5" height="230" fill="url(#h1)"/>
<rect x="214" y="225" width="7.5" height="230" fill="url(#h2)"/>
<rect x="221" y="225" width="7.5" height="230" fill="url(#h3)"/>
<rect x="228" y="225" width="7.5" height="230" fill="url(#h4)"/>
<rect x="235" y="225" width="7.5" height="230" fill="url(#h5)"/>
<rect x="242" y="225" width="7.5" height="230" fill="url(#h6)"/>
<rect x="249" y="225" width="7.5" height="230" fill="url(#h7)"/>
<rect x="256" y="225" width="7.5" height="230" fill="url(#h8)"/>
<rect x="263" y="225" width="7.5" height="230" fill="url(#h9)"/>
<rect x="270" y="225" width="7.5" height="230" fill="url(#h10)"/>
<rect x="277" y="225" width="7.5" height="230" fill="url(#h11)"/>
<rect x="284" y="225" width="7.5" height="230" fill="url(#h12)"/>
<rect x="291" y="225" width="7.5" height="230" fill="url(#h13)"/>
<rect x="298" y="225" width="7.5" height="230" fill="url(#h14)"/>
<rect x="305" y="225" width="7.5" height="230" fill="url(#h15)"/>
<rect x="312" y="225" width="7.5" height="230" fill="url(#h16)"/>
<rect x="319" y="225" width="7.5" height="230" fill="url(#h17)"/>
<rect x="326" y="225" width="7.5" height="230" fill="url(#h18)"/>
<rect x="333" y="225" width="7.5" height="230" fill="url(#h19)"/>
<rect x="340" y="225" width="7.5" height="230" fill="url(#h20)"/>
<rect x="347" y="225" width="7.5" height="230" fill="url(#h21)"/>
<rect x="354" y="225" width="7.5" height="230" fill="url(#h22)"/>
<rect x="361" y="225" width="7.5" height="230" fill="url(#h23)"/>
<rect x="368" y="225" width="7.5" height="230" fill="url(#h24)"/>
<rect x="375" y="225" width="7.5" height="230" fill="url(#h25)"/>
<rect x="382" y="225" width="7.5" height="230" fill="url(#h26)"/>
<rect x="389" y="225" width="7.5" height="230" fill="url(#h27)"/>
<rect x="396" y="225" width="7.5" height="230" fill="url(#h28)"/>
<rect x="403" y="225" width="7.5" height="230" fill="url(#h29)"/>
<rect x="410" y="225" width="7.5" height="230" fill="url(#h30)"/>
<rect x="417" y="225" width="7.5" height="230" fill="url(#h31)"/>
<rect x="424" y="225" width="7.5" height="230" fill="url(#h32)"/>
<rect x="431" y="225" width="7.5" height="230" fill="url(#h33)"/>
<rect x="438" y="225" width="7.5" height="230" fill="url(#h34)"/>
<rect x="445" y="225" width="7.5" height="230" fill="url(#h35)"/>
<rect x="452" y="225" width="7.5" height="230" fill="url(#h36)"/>
<rect x="459" y="225" width="7.5" height="230" fill="url(#h37)"/>
<rect x="466" y="225" width="7.5" height="230" fill="url(#h38)"/>
<rect x="473" y="225" width="7.5" height="230" fill="url(#h39)"/>
<rect x="480" y="225" width="7.5" height="230" fill="url(#h40)"/>
<rect x="487" y="225" width="7.5" height="230" fill="url(#h41)"/>
<rect x="494" y="225" width="7.5" height="230" fill="url(#h42)"/>
<rect x="501" y="225" width="7.5" height="230" fill="url(#h43)"/>
<rect x="508" y="225" width="7.5" height="230" fill="url(#h44)"/>
<rect x="515" y="225" width="7.5" height="230" fill="url(#h45)"/>
<rect x="522" y="225" width="7.5" height="230" fill="url(#h46)"/>
<rect x="529" y="225" width="7.5" height="230" fill="url(#h47)"/>
<rect x="536" y="225" width="7.5" height="230" fill="url(#h48)"/>
<rect x="543" y="225" width="7.5" height="230" fill="url(#h49)"/>
<rect x="550" y="225" width="3" height="230" fill="url(#h50)"/>
<rect x="552.5" y="225" width="3" height="230" fill="url(#h51)"/>
<rect x="555" y="225" width="3" height="230" fill="url(#h52)"/>
<rect x="557.5" y="225" width="3" height="230" fill="url(#h53)"/>
<rect x="560" y="225" width="3" height="230" fill="url(#h54)"/>
<rect x="562.5" y="225" width="3" height="230" fill="url(#h55)"/>
<rect x="565" y="225" width="3" height="230" fill="url(#h56)"/>
<rect x="567.5" y="225" width="3" height="230" fill="url(#h57)"/>
<rect x="570" y="225" width="3" height="230" fill="url(#h58)"/>
<rect x="572.5" y="225" width="3" height="230" fill="url(#h59)"/>
<rect x="575" y="225" width="3" height="230" fill="url(#h60)"/>
<rect x="577.5" y="225" width="3" height="230" fill="url(#h61)"/>
<rect x="580" y="225" width="3" height="230" fill="url(#h62)"/>
<rect x="582.5" y="225" width="3" height="230" fill="url(#h63)"/>
<rect x="585" y="225" width="3" height="230" fill="url(#h64)"/>
<rect x="587.5" y="225" width="3" height="230" fill="url(#h65)"/>
<rect x="590" y="225" width="2.5" height="230" fill="url(#h66)"/>
<rect x="592" y="225" width="7.5" height="230" fill="url(#h67)"/>
<rect x="599" y="225" width="7.5" height="230" fill="url(#h68)"/>
<rect x="606" y="225" width="7.5" height="230" fill="url(#h69)"/>
<rect x="613" y="225" width="7.5" height="230" fill="url(#h70)"/>
<rect x="620" y="225" width="7.5" height="230" fill="url(#h71)"/>
<rect x="627" y="225" width="7.5" height="230" fill="url(#h72)"/>
<rect x="634" y="225" width="7.5" height="230" fill="url(#h73)"/>
<rect x="641" y="225" width="7.5" height="230" fill="url(#h74)"/>
<rect x="648" y="225" width="7.5" height="230" fill="url(#h75)"/>
<rect x="655" y="225" width="7.5" height="230" fill="url(#h76)"/>
<rect x="662" y="225" width="7.5" height="230" fill="url(#h77)"/>
<rect x="669" y="225" width="7.5" height="230" fill="url(#h78)"/>
<rect x="676" y="225" width="7.5" height="230" fill="url(#h79)"/>
<rect x="683" y="225" width="7.5" height="230" fill="url(#h80)"/>
<rect x="690" y="225" width="7.5" height="230" fill="url(#h81)"/>
<rect x="697" y="225" width="7.5" height="230" fill="url(#h82)"/>
<rect x="704" y="225" width="7.5" height="230" fill="url(#h83)"/>
<rect x="711" y="225" width="7.5" height="230" fill="url(#h84)"/>
<rect x="718" y="225" width="7.5" height="230" fill="url(#h85)"/>
<rect x="725" y="225" width="7.5" height="230" fill="url(#h86)"/>
<rect x="732" y="225" width="7.5" height="230" fill="url(#h87)"/>
<rect x="739" y="225" width="7.5" height="230" fill="url(#h88)"/>
<rect x="746" y="225" width="7.5" height="230" fill="url(#h89)"/>
<rect x="753" y="225" width="7.5" height="230" fill="url(#h90)"/>
<rect x="760" y="225" width="7.5" height="230" fill="url(#h91)"/>
<rect x="767" y="225" width="7.5" height="230" fill="url(#h92)"/>
<rect x="774" y="225" width="7.5" height="230" fill="url(#h93)"/>
<rect x="781" y="225" width="7.5" height="230" fill="url(#h94)"/>
<rect x="788" y="225" width="7.5" height="230" fill="url(#h95)"/>
<rect x="795" y="225" width="7.5" height="230" fill="url(#h96)"/>
<rect x="802" y="225" width="7.5" height="230" fill="url(#h97)"/>
<rect x="809" y="225" width="7.5" height="230" fill="url(#h98)"/>
<rect x="816" y="225" width="9.2" height="230" fill="url(#h99)"/>
<rect x="825.2" y="225" width="5.3" height="230" fill="url(#h100)"/>
<rect x="830" y="225" width="7.5" height="230" fill="url(#h101)"/>
<rect x="837" y="225" width="7.5" height="230" fill="url(#h102)"/>
<rect x="844" y="225" width="7.5" height="230" fill="url(#h103)"/>
<rect x="851" y="225" width="7.5" height="230" fill="url(#h104)"/>
<rect x="858" y="225" width="7.5" height="230" fill="url(#h105)"/>
<rect x="865" y="225" width="7.5" height="230" fill="url(#h106)"/>
<rect x="872" y="225" width="7.5" height="230" fill="url(#h107)"/>
<rect x="879" y="225" width="7.5" height="230" fill="url(#h108)"/>
<rect x="886" y="225" width="7.5" height="230" fill="url(#h109)"/>
<rect x="893" y="225" width="7.5" height="230" fill="url(#h110)"/>
<rect x="900" y="225" width="7.5" height="230" fill="url(#h111)"/>
<rect x="907" y="225" width="7" height="230" fill="url(#h112)"/>
<rect x="200" y="167.5" width="3.4" height="59.5" fill="url(#u0)"/>
<rect x="203" y="167.5" width="3.4" height="59.5" fill="url(#u1)"/>
<rect x="206" y="167.5" width="3.4" height="59.5" fill="url(#u2)"/>
<rect x="209" y="167.5" width="3.4" height="59.5" fill="url(#u3)"/>
<rect x="212" y="167.5" width="3.4" height="59.5" fill="url(#u4)"/>
<rect x="215" y="167.5" width="3.4" height="59.5" fill="url(#u5)"/>
<rect x="218" y="167.5" width="3.4" height="59.5" fill="url(#u6)"/>
<rect x="221" y="167.5" width="3.4" height="59.5" fill="url(#u7)"/>
<rect x="224" y="167.5" width="3.4" height="59.5" fill="url(#u8)"/>
<rect x="227" y="167.5" width="3.4" height="59.5" fill="url(#u9)"/>
<rect x="230" y="167.5" width="3.4" height="59.5" fill="url(#u10)"/>
<rect x="233" y="167.5" width="3.4" height="59.5" fill="url(#u11)"/>
<rect x="236" y="167.5" width="3.4" height="59.5" fill="url(#u12)"/>
<rect x="239" y="167.5" width="3.4" height="59.5" fill="url(#u13)"/>
<rect x="242" y="167.5" width="3.4" height="59.5" fill="url(#u14)"/>
<rect x="245" y="167.5" width="3.4" height="59.5" fill="url(#u15)"/>
<rect x="248" y="167.5" width="3.4" height="59.5" fill="url(#u16)"/>
<rect x="251" y="167.5" width="3.4" height="59.5" fill="url(#u17)"/>
<rect x="254" y="167.5" width="3.4" height="59.5" fill="url(#u18)"/>
<rect x="257" y="167.5" width="3.4" height="59.5" fill="url(#u19)"/>
<rect x="260" y="167.5" width="3.4" height="59.5" fill="url(#u20)"/>
<rect x="263" y="167.5" width="3.4" height="59.5" fill="url(#u21)"/>
<rect x="266" y="167.5" width="3.4" height="59.5" fill="url(#u22)"/>
<rect x="269" y="167.5" width="3.4" height="59.5" fill="url(#u23)"/>
<rect x="272" y="167.5" width="3.4" height="59.5" fill="url(#u24)"/>
<rect x="275" y="167.5" width="3.4" height="59.5" fill="url(#u25)"/>
<rect x="278" y="167.5" width="3.4" height="59.5" fill="url(#u26)"/>
<rect x="281" y="167.5" width="3.4" height="59.5" fill="url(#u27)"/>
<rect x="284" y="167.5" width="3.4" height="59.5" fill="url(#u28)"/>
<rect x="287" y="167.5" width="3.4" height="59.5" fill="url(#u29)"/>
<rect x="290" y="167.5" width="3.4" height="59.5" fill="url(#u30)"/>
<rect x="293" y="167.5" width="3.4" height="59.5" fill="url(#u31)"/>
<rect x="296" y="167.5" width="3.4" height="59.5" fill="url(#u32)"/>
<rect x="299" y="167.5" width="3.4" height="59.5" fill="url(#u33)"/>
<rect x="302" y="167.5" width="3.4" height="59.5" fill="url(#u34)"/>
<rect x="305" y="167.5" width="3.4" height="59.5" fill="url(#u35)"/>
<rect x="308" y="167.5" width="3.4" height="59.5" fill="url(#u36)"/>
<rect x="311" y="167.5" width="3.4" height="59.5" fill="url(#u37)"/>
<rect x="314" y="167.5" width="3.4" height="59.5" fill="url(#u38)"/>
<rect x="317" y="167.5" width="3.4" height="59.5" fill="url(#u39)"/>
<rect x="320" y="167.5" width="3.4" height="59.5" fill="url(#u40)"/>
<rect x="323" y="167.5" width="3.4" height="59.5" fill="url(#u41)"/>
<rect x="326" y="167.5" width="3.4" height="59.5" fill="url(#u42)"/>
<rect x="329" y="167.5" width="3.4" height="59.5" fill="url(#u43)"/>
<rect x="332" y="167.5" width="3.4" height="59.5" fill="url(#u44)"/>
<rect x="335" y="167.5" width="3.4" height="59.5" fill="url(#u45)"/>
<rect x="338" y="167.5" width="3.4" height="59.5" fill="url(#u46)"/>
<rect x="341" y="167.5" width="3.4" height="59.5" fill="url(#u47)"/>
<rect x="344" y="167.5" width="3.4" height="59.5" fill="url(#u48)"/>
<rect x="347" y="167.5" width="3.4" height="59.5" fill="url(#u49)"/>
<rect x="350" y="167.5" width="3.4" height="59.5" fill="url(#u50)"/>
<rect x="353" y="167.5" width="3.4" height="59.5" fill="url(#u51)"/>
<rect x="356" y="167.5" width="3.4" height="59.5" fill="url(#u52)"/>
<rect x="359" y="167.5" width="3.4" height="59.5" fill="url(#u53)"/>
<rect x="362" y="167.5" width="3.4" height="59.5" fill="url(#u54)"/>
<rect x="365" y="167.5" width="3.4" height="59.5" fill="url(#u55)"/>
<rect x="368" y="167.5" width="3.4" height="59.5" fill="url(#u56)"/>
<rect x="371" y="167.5" width="3.4" height="59.5" fill="url(#u57)"/>
<rect x="374" y="167.5" width="3.4" height="59.5" fill="url(#u58)"/>
<rect x="377" y="167.5" width="3.4" height="59.5" fill="url(#u59)"/>
<rect x="380" y="167.5" width="3.4" height="59.5" fill="url(#u60)"/>
<rect x="383" y="167.5" width="3.4" height="59.5" fill="url(#u61)"/>
<rect x="386" y="167.5" width="3.4" height="59.5" fill="url(#u62)"/>
<rect x="389" y="167.5" width="3.4" height="59.5" fill="url(#u63)"/>
<rect x="392" y="167.5" width="3.4" height="59.5" fill="url(#u64)"/>
<rect x="395" y="167.5" width="3.4" height="59.5" fill="url(#u65)"/>
<rect x="398" y="167.5" width="3.4" height="59.5" fill="url(#u66)"/>
<rect x="401" y="167.5" width="3.4" height="59.5" fill="url(#u67)"/>
<rect x="404" y="167.5" width="3.4" height="59.5" fill="url(#u68)"/>
<rect x="407" y="167.5" width="3.4" height="59.5" fill="url(#u69)"/>
<rect x="410" y="167.5" width="3.4" height="59.5" fill="url(#u70)"/>
<rect x="413" y="167.5" width="3.4" height="59.5" fill="url(#u71)"/>
<rect x="416" y="167.5" width="3.4" height="59.5" fill="url(#u72)"/>
<rect x="419" y="167.5" width="3.4" height="59.5" fill="url(#u73)"/>
<rect x="422" y="167.5" width="3.4" height="59.5" fill="url(#u74)"/>
<rect x="425" y="167.5" width="3.4" height="59.5" fill="url(#u75)"/>
<rect x="428" y="167.5" width="3.4" height="59.5" fill="url(#u76)"/>
<rect x="431" y="167.5" width="3.4" height="59.5" fill="url(#u77)"/>
<rect x="434" y="167.5" width="3.4" height="59.5" fill="url(#u78)"/>
<rect x="437" y="167.5" width="3.4" height="59.5" fill="url(#u79)"/>
<rect x="440" y="167.5" width="3.4" height="59.5" fill="url(#u80)"/>
<rect x="443" y="167.5" width="3.4" height="59.5" fill="url(#u81)"/>
<rect x="446" y="167.5" width="3.4" height="59.5" fill="url(#u82)"/>
<rect x="449" y="167.5" width="3.4" height="59.5" fill="url(#u83)"/>
<rect x="452" y="167.5" width="3.4" height="59.5" fill="url(#u84)"/>
<rect x="455" y="167.5" width="3.4" height="59.5" fill="url(#u85)"/>
<rect x="458" y="167.5" width="3.4" height="59.5" fill="url(#u86)"/>
<rect x="461" y="167.5" width="3.4" height="59.5" fill="url(#u87)"/>
<rect x="464" y="167.5" width="3.4" height="59.5" fill="url(#u88)"/>
<rect x="467" y="167.5" width="3.4" height="59.5" fill="url(#u89)"/>
<rect x="470" y="167.5" width="3.4" height="59.5" fill="url(#u90)"/>
<rect x="473" y="167.5" width="3.4" height="59.5" fill="url(#u91)"/>
<rect x="476" y="167.5" width="3.4" height="59.5" fill="url(#u92)"/>
<rect x="479" y="167.5" width="3.4" height="59.5" fill="url(#u93)"/>
<rect x="482" y="167.5" width="3.4" height="59.5" fill="url(#u94)"/>
<rect x="485" y="167.5" width="3.4" height="59.5" fill="url(#u95)"/>
<rect x="488" y="167.5" width="3.4" height="59.5" fill="url(#u96)"/>
<rect x="491" y="167.5" width="3.4" height="59.5" fill="url(#u97)"/>
<rect x="494" y="167.5" width="3.4" height="59.5" fill="url(#u98)"/>
<rect x="497" y="167.5" width="3.4" height="59.5" fill="url(#u99)"/>
<rect x="500" y="167.5" width="3.4" height="59.5" fill="url(#u100)"/>
<rect x="503" y="167.5" width="3.4" height="59.5" fill="url(#u101)"/>
<rect x="506" y="167.5" width="3.4" height="59.5" fill="url(#u102)"/>
<rect x="509" y="167.5" width="3.4" height="59.5" fill="url(#u103)"/>
<rect x="512" y="167.5" width="3.4" height="59.5" fill="url(#u104)"/>
<rect x="515" y="167.5" width="3.4" height="59.5" fill="url(#u105)"/>
<rect x="518" y="167.5" width="3.4" height="59.5" fill="url(#u106)"/>
<rect x="521" y="167.5" width="3.4" height="59.5" fill="url(#u107)"/>
<rect x="524" y="167.5" width="3.4" height="59.5" fill="url(#u108)"/>
<rect x="527" y="167.5" width="3.4" height="59.5" fill="url(#u109)"/>
<rect x="530" y="167.5" width="3.4" height="59.5" fill="url(#u110)"/>
<rect x="533" y="167.5" width="3.4" height="59.5" fill="url(#u111)"/>
<rect x="536" y="167.5" width="3.4" height="59.5" fill="url(#u112)"/>
<rect x="539" y="167.5" width="3.4" height="59.5" fill="url(#u113)"/>
<rect x="542" y="167.5" width="3.4" height="59.5" fill="url(#u114)"/>
<rect x="545" y="167.5" width="3.4" height="59.5" fill="url(#u115)"/>
<rect x="548" y="167.5" width="3.4" height="59.5" fill="url(#u116)"/>
<rect x="551" y="167.5" width="3.4" height="59.5" fill="url(#u117)"/>
<rect x="554" y="167.5" width="3.4" height="59.5" fill="url(#u118)"/>
<rect x="557" y="167.5" width="3.4" height="59.5" fill="url(#u119)"/>
<rect x="560" y="167.5" width="3.4" height="59.5" fill="url(#u120)"/>
<rect x="563" y="167.5" width="3.4" height="59.5" fill="url(#u121)"/>
<rect x="566" y="167.5" width="3.4" height="59.5" fill="url(#u122)"/>
<rect x="569" y="167.5" width="3.4" height="59.5" fill="url(#u123)"/>
<rect x="572" y="167.5" width="3.4" height="59.5" fill="url(#u124)"/>
<rect x="575" y="167.5" width="3.4" height="59.5" fill="url(#u125)"/>
<rect x="578" y="167.5" width="3.4" height="59.5" fill="url(#u126)"/>
<rect x="581" y="167.5" width="3.4" height="59.5" fill="url(#u127)"/>
<rect x="584" y="167.5" width="3.4" height="59.5" fill="url(#u128)"/>
<rect x="587" y="167.5" width="3.4" height="59.5" fill="url(#u129)"/>
<rect x="590" y="167.5" width="3.4" height="59.5" fill="url(#u130)"/>
<rect x="593" y="167.5" width="3.4" height="59.5" fill="url(#u131)"/>
<rect x="596" y="167.5" width="3.4" height="59.5" fill="url(#u132)"/>
<rect x="599" y="167.5" width="3.4" height="59.5" fill="url(#u133)"/>
<rect x="602" y="167.5" width="3.4" height="59.5" fill="url(#u134)"/>
<rect x="605" y="167.5" width="3.4" height="59.5" fill="url(#u135)"/>
<rect x="608" y="167.5" width="3.4" height="59.5" fill="url(#u136)"/>
<rect x="611" y="167.5" width="3.4" height="59.5" fill="url(#u137)"/>
<rect x="614" y="167.5" width="3.4" height="59.5" fill="url(#u138)"/>
<rect x="617" y="167.5" width="3.4" height="59.5" fill="url(#u139)"/>
<rect x="620" y="167.5" width="3.4" height="59.5" fill="url(#u140)"/>
<rect x="623" y="167.5" width="3.4" height="59.5" fill="url(#u141)"/>
<rect x="626" y="167.5" width="3.4" height="59.5" fill="url(#u142)"/>
<rect x="629" y="167.5" width="3.4" height="59.5" fill="url(#u143)"/>
<rect x="632" y="167.5" width="3.4" height="59.5" fill="url(#u144)"/>
<rect x="635" y="167.5" width="3.4" height="59.5" fill="url(#u145)"/>
<rect x="638" y="167.5" width="3.4" height="59.5" fill="url(#u146)"/>
<rect x="641" y="167.5" width="3.4" height="59.5" fill="url(#u147)"/>
<rect x="644" y="167.5" width="3.4" height="59.5" fill="url(#u148)"/>
<rect x="647" y="167.5" width="3.4" height="59.5" fill="url(#u149)"/>
<rect x="650" y="167.5" width="3.4" height="59.5" fill="url(#u150)"/>
<rect x="653" y="167.5" width="3.4" height="59.5" fill="url(#u151)"/>
<rect x="656" y="167.5" width="3.4" height="59.5" fill="url(#u152)"/>
<rect x="659" y="167.5" width="3.4" height="59.5" fill="url(#u153)"/>
<rect x="662" y="167.5" width="3.4" height="59.5" fill="url(#u154)"/>
<rect x="665" y="167.5" width="3.4" height="59.5" fill="url(#u155)"/>
<rect x="668" y="167.5" width="3.4" height="59.5" fill="url(#u156)"/>
<rect x="671" y="167.5" width="3.4" height="59.5" fill="url(#u157)"/>
<rect x="674" y="167.5" width="3.4" height="59.5" fill="url(#u158)"/>
<rect x="677" y="167.5" width="3.4" height="59.5" fill="url(#u159)"/>
<rect x="680" y="167.5" width="3.4" height="59.5" fill="url(#u160)"/>
<rect x="683" y="167.5" width="3.4" height="59.5" fill="url(#u161)"/>
<rect x="686" y="167.5" width="3.4" height="59.5" fill="url(#u162)"/>
<rect x="689" y="167.5" width="3.4" height="59.5" fill="url(#u163)"/>
<rect x="692" y="167.5" width="3.4" height="59.5" fill="url(#u164)"/>
<rect x="695" y="167.5" width="3.4" height="59.5" fill="url(#u165)"/>
<rect x="698" y="167.5" width="3.4" height="59.5" fill="url(#u166)"/>
<rect x="701" y="167.5" width="3.4" height="59.5" fill="url(#u167)"/>
<rect x="704" y="167.5" width="3.4" height="59.5" fill="url(#u168)"/>
<rect x="707" y="167.5" width="3.4" height="59.5" fill="url(#u169)"/>
<rect x="710" y="167.5" width="3.4" height="59.5" fill="url(#u170)"/>
<rect x="713" y="167.5" width="3.4" height="59.5" fill="url(#u171)"/>
<rect x="716" y="167.5" width="3.4" height="59.5" fill="url(#u172)"/>
<rect x="719" y="167.5" width="3.4" height="59.5" fill="url(#u173)"/>
<rect x="722" y="167.5" width="3.4" height="59.5" fill="url(#u174)"/>
<rect x="725" y="167.5" width="3.4" height="59.5" fill="url(#u175)"/>
<rect x="728" y="167.5" width="3.4" height="59.5" fill="url(#u176)"/>
<rect x="731" y="167.5" width="3.4" height="59.5" fill="url(#u177)"/>
<rect x="734" y="167.5" width="3.4" height="59.5" fill="url(#u178)"/>
<rect x="737" y="167.5" width="3.4" height="59.5" fill="url(#u179)"/>
<rect x="740" y="167.5" width="3.4" height="59.5" fill="url(#u180)"/>
<rect x="743" y="167.5" width="3.4" height="59.5" fill="url(#u181)"/>
<rect x="746" y="167.5" width="3.4" height="59.5" fill="url(#u182)"/>
<rect x="749" y="167.5" width="3.4" height="59.5" fill="url(#u183)"/>
<rect x="752" y="167.5" width="3.4" height="59.5" fill="url(#u184)"/>
<rect x="755" y="167.5" width="3.4" height="59.5" fill="url(#u185)"/>
<rect x="758" y="167.5" width="3.4" height="59.5" fill="url(#u186)"/>
<rect x="761" y="167.5" width="3.4" height="59.5" fill="url(#u187)"/>
<rect x="764" y="167.5" width="3.4" height="59.5" fill="url(#u188)"/>
<rect x="767" y="167.5" width="3.4" height="59.5" fill="url(#u189)"/>
<rect x="770" y="167.5" width="3.4" height="59.5" fill="url(#u190)"/>
<rect x="773" y="167.5" width="3.4" height="59.5" fill="url(#u191)"/>
<rect x="776" y="167.5" width="3.4" height="59.5" fill="url(#u192)"/>
<rect x="779" y="167.5" width="3.4" height="59.5" fill="url(#u193)"/>
<rect x="782" y="167.5" width="3.4" height="59.5" fill="url(#u194)"/>
<rect x="785" y="167.5" width="3.4" height="59.5" fill="url(#u195)"/>
<rect x="788" y="167.5" width="3.4" height="59.5" fill="url(#u196)"/>
<rect x="791" y="167.5" width="3.4" height="59.5" fill="url(#u197)"/>
<rect x="794" y="167.5" width="3.4" height="59.5" fill="url(#u198)"/>
<rect x="797" y="167.5" width="3.4" height="59.5" fill="url(#u199)"/>
<rect x="800" y="167.5" width="3.4" height="59.5" fill="url(#u200)"/>
<rect x="803" y="167.5" width="3.4" height="59.5" fill="url(#u201)"/>
<rect x="806" y="167.5" width="3.4" height="59.5" fill="url(#u202)"/>
<rect x="809" y="167.5" width="3.4" height="59.5" fill="url(#u203)"/>
<rect x="812" y="167.5" width="3.4" height="59.5" fill="url(#u204)"/>
<rect x="815" y="167.5" width="3.4" height="59.5" fill="url(#u205)"/>
<rect x="818" y="167.5" width="3.4" height="59.5" fill="url(#u206)"/>
<rect x="821" y="167.5" width="4.2" height="59.5" fill="url(#u207)"/>
<rect x="825.2" y="167.5" width="2.2" height="59.5" fill="url(#u208)"/>
<rect x="827" y="167.5" width="3.4" height="59.5" fill="url(#u209)"/>
<rect x="830" y="167.5" width="3.4" height="59.5" fill="url(#u210)"/>
<rect x="833" y="167.5" width="3.4" height="59.5" fill="url(#u211)"/>
<rect x="836" y="167.5" width="3.4" height="59.5" fill="url(#u212)"/>
<rect x="839" y="167.5" width="3.4" height="59.5" fill="url(#u213)"/>
<rect x="842" y="167.5" width="3.4" height="59.5" fill="url(#u214)"/>
<rect x="845" y="167.5" width="3.4" height="59.5" fill="url(#u215)"/>
<rect x="848" y="167.5" width="3.4" height="59.5" fill="url(#u216)"/>
<rect x="851" y="167.5" width="3.4" height="59.5" fill="url(#u217)"/>
<rect x="854" y="167.5" width="3.4" height="59.5" fill="url(#u218)"/>
<rect x="857" y="167.5" width="3.4" height="59.5" fill="url(#u219)"/>
<rect x="860" y="167.5" width="3.4" height="59.5" fill="url(#u220)"/>
<rect x="863" y="167.5" width="3.4" height="59.5" fill="url(#u221)"/>
<rect x="866" y="167.5" width="3.4" height="59.5" fill="url(#u222)"/>
<rect x="869" y="167.5" width="3.4" height="59.5" fill="url(#u223)"/>
<rect x="872" y="167.5" width="3.4" height="59.5" fill="url(#u224)"/>
<rect x="875" y="167.5" width="3.4" height="59.5" fill="url(#u225)"/>
<rect x="878" y="167.5" width="3.4" height="59.5" fill="url(#u226)"/>
<rect x="881" y="167.5" width="3.4" height="59.5" fill="url(#u227)"/>
<rect x="884" y="167.5" width="3.4" height="59.5" fill="url(#u228)"/>
<rect x="887" y="167.5" width="3.4" height="59.5" fill="url(#u229)"/>
<rect x="890" y="167.5" width="3.4" height="59.5" fill="url(#u230)"/>
<rect x="893" y="167.5" width="3.4" height="59.5" fill="url(#u231)"/>
<rect x="896" y="167.5" width="3.4" height="59.5" fill="url(#u232)"/>
<rect x="899" y="167.5" width="3.4" height="59.5" fill="url(#u233)"/>
<rect x="902" y="167.5" width="3.4" height="59.5" fill="url(#u234)"/>
<rect x="905" y="167.5" width="3.4" height="59.5" fill="url(#u235)"/>
<rect x="908" y="167.5" width="3.4" height="59.5" fill="url(#u236)"/>
<rect x="911" y="167.5" width="3" height="59.5" fill="url(#u237)"/>
<path d="M206 413.5h1M230 413.5h1M232 413.5h1M245 413.5h1M222 414.5h1M256 414.5h1M278 414.5h1M326 414.5h1M331 414.5h1M203 415.5h2M210 415.5h1M216 415.5h1M226 415.5h1M232 415.5h1M234 415.5h1M242 415.5h1M273 415.5h1M328 415.5h1M363 415.5h1M383 415.5h1M208 416.5h1M232 416.5h1M235 416.5h1M245 416.5h1M247 416.5h1M254 416.5h1M287 416.5h1M292 416.5h1M296 416.5h1M309 416.5h1M311 416.5h1M314 416.5h1M318 416.5h1M323 416.5h2M347 416.5h2M350 416.5h1M202 417.5h1M219 417.5h1M222 417.5h1M224 417.5h1M228 417.5h1M233 417.5h2M238 417.5h1M242 417.5h1M252 417.5h1M267 417.5h1M269 417.5h1M272 417.5h2M277 417.5h1M296 417.5h1M298 417.5h1M316 417.5h1M318 417.5h1M338 417.5h1M342 417.5h1M358 417.5h1M369 417.5h1M373 417.5h1M384 417.5h1M393 417.5h1M399 417.5h1M410 417.5h1M421 417.5h1M445 417.5h2M202 418.5h2M205 418.5h1M208 418.5h2M211 418.5h1M218 418.5h3M230 418.5h1M233 418.5h1M235 418.5h2M238 418.5h2M242 418.5h2M253 418.5h1M257 418.5h1M260 418.5h1M268 418.5h1M270 418.5h1M273 418.5h1M280 418.5h2M284 418.5h1M288 418.5h1M297 418.5h2M303 418.5h1M306 418.5h1M311 418.5h1M313 418.5h1M317 418.5h1M319 418.5h1M327 418.5h1M333 418.5h1M337 418.5h2M343 418.5h2M359 418.5h1M364 418.5h1M367 418.5h1M398 418.5h1M408 418.5h1M412 418.5h1M418 418.5h1M422 418.5h1M427 418.5h1M439 418.5h1M201 419.5h2M204 419.5h1M207 419.5h3M214 419.5h1M216 419.5h2M219 419.5h1M221 419.5h1M227 419.5h1M231 419.5h1M234 419.5h2M237 419.5h1M241 419.5h2M245 419.5h1M247 419.5h2M251 419.5h1M256 419.5h1M258 419.5h1M261 419.5h1M263 419.5h1M267 419.5h1M270 419.5h1M279 419.5h2M290 419.5h1M292 419.5h1M295 419.5h3M301 419.5h2M308 419.5h1M314 419.5h1M316 419.5h1M318 419.5h2M324 419.5h2M329 419.5h1M333 419.5h1M336 419.5h3M340 419.5h1M343 419.5h3M351 419.5h1M353 419.5h1M359 419.5h1M365 419.5h1M376 419.5h1M380 419.5h1M382 419.5h1M384 419.5h1M391 419.5h2M396 419.5h1M400 419.5h1M409 419.5h1M427 419.5h1M430 419.5h1M434 419.5h1M459 419.5h1M465 419.5h1M202 420.5h1M205 420.5h2M211 420.5h3M216 420.5h1M220 420.5h4M225 420.5h1M229 420.5h1M232 420.5h1M236 420.5h1M240 420.5h2M243 420.5h1M246 420.5h1M252 420.5h2M258 420.5h2M261 420.5h1M264 420.5h3M270 420.5h2M274 420.5h4M280 420.5h2M284 420.5h1M286 420.5h4M299 420.5h1M311 420.5h2M315 420.5h1M319 420.5h1M321 420.5h1M324 420.5h1M327 420.5h3M336 420.5h3M342 420.5h2M345 420.5h1M350 420.5h3M364 420.5h1M366 420.5h2M374 420.5h1M377 420.5h3M383 420.5h1M386 420.5h2M393 420.5h1M396 420.5h1M399 420.5h1M402 420.5h1M407 420.5h2M417 420.5h2M427 420.5h1M429 420.5h1M438 420.5h2M444 420.5h1M452 420.5h1M455 420.5h1M462 420.5h1M474 420.5h1M480 420.5h1M498 420.5h1M507 420.5h1M538 420.5h1M202 421.5h1M207 421.5h3M214 421.5h2M219 421.5h3M228 421.5h1M230 421.5h1M236 421.5h2M239 421.5h6M247 421.5h2M251 421.5h2M258 421.5h1M260 421.5h1M263 421.5h1M268 421.5h2M271 421.5h1M277 421.5h1M279 421.5h2M282 421.5h2M286 421.5h2M289 421.5h2M295 421.5h1M301 421.5h1M303 421.5h1M307 421.5h1M309 421.5h4M316 421.5h2M321 421.5h1M323 421.5h2M330 421.5h1M335 421.5h1M342 421.5h2M345 421.5h4M350 421.5h1M357 421.5h1M360 421.5h2M368 421.5h1M375 421.5h1M378 421.5h1M381 421.5h3M388 421.5h1M390 421.5h1M393 421.5h2M397 421.5h4M404 421.5h2M408 421.5h1M412 421.5h1M414 421.5h2M417 421.5h1M419 421.5h1M421 421.5h1M423 421.5h1M434 421.5h1M439 421.5h1M441 421.5h1M454 421.5h1M456 421.5h2M466 421.5h1M468 421.5h1M471 421.5h1M475 421.5h1M490 421.5h1M497 421.5h4M506 421.5h1M517 421.5h1M523 421.5h1M527 421.5h1M529 421.5h1M545 421.5h1M553 421.5h1M202 422.5h2M206 422.5h1M209 422.5h1M213 422.5h1M215 422.5h1M217 422.5h2M220 422.5h1M222 422.5h1M224 422.5h2M228 422.5h1M230 422.5h2M235 422.5h2M240 422.5h1M242 422.5h1M244 422.5h1M248 422.5h2M251 422.5h1M258 422.5h2M263 422.5h1M267 422.5h1M269 422.5h3M273 422.5h1M279 422.5h1M282 422.5h1M289 422.5h2M292 422.5h1M294 422.5h1M296 422.5h3M300 422.5h2M304 422.5h3M308 422.5h2M313 422.5h1M316 422.5h1M319 422.5h2M323 422.5h1M325 422.5h1M327 422.5h2M330 422.5h1M334 422.5h1M336 422.5h1M340 422.5h1M343 422.5h1M345 422.5h1M350 422.5h1M354 422.5h1M356 422.5h2M365 422.5h1M367 422.5h2M373 422.5h1M375 422.5h1M381 422.5h1M386 422.5h1M389 422.5h3M394 422.5h1M396 422.5h2M401 422.5h2M404 422.5h3M414 422.5h5M423 422.5h1M429 422.5h1M431 422.5h2M435 422.5h1M440 422.5h1M442 422.5h1M447 422.5h3M452 422.5h4M457 422.5h1M460 422.5h1M462 422.5h1M470 422.5h1M479 422.5h1M483 422.5h1M486 422.5h1M492 422.5h1M501 422.5h1M505 422.5h1M510 422.5h1M519 422.5h1M522 422.5h1M534 422.5h1M537 422.5h1M551 422.5h1M555 422.5h1M203 423.5h4M210 423.5h1M213 423.5h1M216 423.5h3M220 423.5h4M225 423.5h1M228 423.5h1M231 423.5h2M236 423.5h3M240 423.5h1M242 423.5h3M247 423.5h1M250 423.5h1M253 423.5h1M255 423.5h2M259 423.5h1M261 423.5h1M263 423.5h3M267 423.5h1M271 423.5h1M273 423.5h1M276 423.5h1M279 423.5h2M282 423.5h6M291 423.5h1M293 423.5h2M296 423.5h1M303 423.5h4M308 423.5h2M314 423.5h1M317 423.5h2M321 423.5h2M325 423.5h2M328 423.5h5M334 423.5h1M338 423.5h2M343 423.5h2M348 423.5h1M351 423.5h2M354 423.5h1M357 423.5h1M359 423.5h1M366 423.5h1M372 423.5h1M386 423.5h1M391 423.5h5M398 423.5h1M400 423.5h2M404 423.5h1M407 423.5h1M409 423.5h3M415 423.5h2M422 423.5h1M425 423.5h1M427 423.5h1M431 423.5h2M437 423.5h1M443 423.5h2M447 423.5h1M449 423.5h2M455 423.5h3M459 423.5h1M463 423.5h1M470 423.5h2M473 423.5h1M475 423.5h2M481 423.5h1M490 423.5h1M492 423.5h1M494 423.5h1M497 423.5h2M504 423.5h1M506 423.5h1M508 423.5h1M513 423.5h1M517 423.5h1M520 423.5h2M529 423.5h1M540 423.5h2M544 423.5h1M568 423.5h1M201 424.5h3M207 424.5h1M209 424.5h2M212 424.5h2M215 424.5h1M217 424.5h3M221 424.5h2M225 424.5h1M227 424.5h1M233 424.5h1M237 424.5h2M241 424.5h2M245 424.5h1M249 424.5h2M253 424.5h4M262 424.5h1M264 424.5h3M268 424.5h1M271 424.5h2M276 424.5h3M281 424.5h3M289 424.5h2M292 424.5h1M298 424.5h2M301 424.5h1M305 424.5h1M309 424.5h1M312 424.5h2M318 424.5h1M320 424.5h1M322 424.5h1M324 424.5h1M327 424.5h2M331 424.5h1M338 424.5h3M342 424.5h7M351 424.5h2M356 424.5h1M360 424.5h3M365 424.5h2M370 424.5h1M374 424.5h1M376 424.5h2M381 424.5h4M388 424.5h1M390 424.5h3M394 424.5h1M396 424.5h1M399 424.5h1M402 424.5h1M406 424.5h2M410 424.5h3M414 424.5h5M423 424.5h3M427 424.5h4M435 424.5h2M440 424.5h1M442 424.5h1M444 424.5h6M451 424.5h1M455 424.5h1M457 424.5h1M466 424.5h1M468 424.5h3M477 424.5h1M485 424.5h1M491 424.5h1M494 424.5h4M499 424.5h1M502 424.5h1M504 424.5h1M507 424.5h1M509 424.5h5M515 424.5h2M518 424.5h2M521 424.5h1M523 424.5h2M527 424.5h1M530 424.5h1M532 424.5h1M536 424.5h1M540 424.5h1M543 424.5h1M548 424.5h5M554 424.5h3M564 424.5h1M571 424.5h1M581 424.5h1M588 424.5h1M596 424.5h1M201 425.5h1M208 425.5h1M210 425.5h3M216 425.5h3M221 425.5h1M225 425.5h7M233 425.5h1M235 425.5h3M244 425.5h3M248 425.5h1M251 425.5h3M256 425.5h1M259 425.5h1M261 425.5h1M265 425.5h1M268 425.5h2M271 425.5h1M273 425.5h1M275 425.5h1M278 425.5h5M284 425.5h2M289 425.5h3M293 425.5h1M295 425.5h2M300 425.5h1M303 425.5h1M306 425.5h1M308 425.5h2M312 425.5h1M317 425.5h1M321 425.5h1M323 425.5h5M330 425.5h1M332 425.5h4M340 425.5h3M347 425.5h1M350 425.5h4M359 425.5h2M363 425.5h1M368 425.5h1M372 425.5h1M375 425.5h4M382 425.5h3M392 425.5h2M395 425.5h4M402 425.5h1M405 425.5h1M408 425.5h1M410 425.5h1M417 425.5h2M420 425.5h1M423 425.5h1M426 425.5h1M428 425.5h1M430 425.5h1M432 425.5h1M435 425.5h1M437 425.5h1M440 425.5h2M446 425.5h3M450 425.5h1M456 425.5h1M458 425.5h5M464 425.5h2M467 425.5h1M472 425.5h1M474 425.5h1M477 425.5h1M479 425.5h1M481 425.5h5M487 425.5h1M493 425.5h5M500 425.5h1M505 425.5h1M508 425.5h1M513 425.5h2M517 425.5h1M521 425.5h3M525 425.5h1M527 425.5h1M532 425.5h4M538 425.5h1M542 425.5h1M544 425.5h1M548 425.5h2M551 425.5h1M559 425.5h1M561 425.5h1M566 425.5h1M572 425.5h1M574 425.5h2M584 425.5h1M591 425.5h1M602 425.5h1M618 425.5h1M630 425.5h1M201 426.5h1M203 426.5h2M209 426.5h1M213 426.5h2M217 426.5h2M220 426.5h1M225 426.5h1M230 426.5h1M233 426.5h1M236 426.5h1M238 426.5h1M241 426.5h1M243 426.5h1M246 426.5h1M251 426.5h4M257 426.5h1M268 426.5h2M274 426.5h3M282 426.5h1M284 426.5h1M286 426.5h1M289 426.5h1M293 426.5h2M299 426.5h1M301 426.5h2M307 426.5h1M311 426.5h1M315 426.5h1M317 426.5h2M321 426.5h1M324 426.5h1M333 426.5h1M335 426.5h2M338 426.5h2M341 426.5h9M353 426.5h2M361 426.5h2M364 426.5h2M367 426.5h4M372 426.5h1M374 426.5h1M378 426.5h1M381 426.5h3M389 426.5h1M392 426.5h1M394 426.5h3M398 426.5h1M400 426.5h3M404 426.5h2M407 426.5h1M412 426.5h1M414 426.5h1M425 426.5h4M430 426.5h1M432 426.5h1M438 426.5h6M445 426.5h4M454 426.5h2M460 426.5h1M462 426.5h2M467 426.5h1M473 426.5h1M475 426.5h2M486 426.5h1M490 426.5h1M492 426.5h5M498 426.5h1M500 426.5h2M504 426.5h4M515 426.5h2M518 426.5h3M522 426.5h1M524 426.5h2M529 426.5h1M532 426.5h2M536 426.5h2M543 426.5h1M550 426.5h4M555 426.5h1M557 426.5h2M562 426.5h1M566 426.5h1M577 426.5h1M583 426.5h2M591 426.5h1M595 426.5h1M600 426.5h1M607 426.5h1M613 426.5h1M615 426.5h3M619 426.5h1M627 426.5h1M636 426.5h1M638 426.5h1M644 426.5h1M653 426.5h1M667 426.5h1M672 426.5h3M696 426.5h1M201 427.5h5M208 427.5h2M212 427.5h2M217 427.5h2M225 427.5h1M231 427.5h2M235 427.5h1M241 427.5h1M243 427.5h1M245 427.5h1M251 427.5h1M254 427.5h2M258 427.5h1M261 427.5h2M265 427.5h1M269 427.5h2M274 427.5h1M287 427.5h1M290 427.5h1M293 427.5h2M297 427.5h3M301 427.5h1M306 427.5h1M308 427.5h1M311 427.5h3M320 427.5h1M324 427.5h2M331 427.5h2M335 427.5h1M337 427.5h2M340 427.5h1M344 427.5h1M346 427.5h1M348 427.5h1M355 427.5h1M359 427.5h3M364 427.5h2M367 427.5h3M371 427.5h1M373 427.5h1M377 427.5h1M379 427.5h1M382 427.5h1M385 427.5h2M388 427.5h1M392 427.5h1M396 427.5h1M398 427.5h3M403 427.5h1M406 427.5h1M409 427.5h2M413 427.5h2M420 427.5h3M425 427.5h3M429 427.5h1M431 427.5h1M433 427.5h2M436 427.5h1M438 427.5h1M440 427.5h3M445 427.5h2M449 427.5h1M452 427.5h2M459 427.5h1M466 427.5h5M475 427.5h1M477 427.5h1M480 427.5h1M483 427.5h1M486 427.5h1M488 427.5h1M490 427.5h1M493 427.5h2M496 427.5h5M502 427.5h3M506 427.5h1M510 427.5h1M514 427.5h2M517 427.5h2M526 427.5h3M535 427.5h2M539 427.5h1M553 427.5h1M556 427.5h1M565 427.5h1M574 427.5h2M581 427.5h1M614 427.5h1M619 427.5h1M621 427.5h1M645 427.5h1M653 427.5h1M658 427.5h2M670 427.5h1M673 427.5h1M680 427.5h1M684 427.5h2M690 427.5h1M697 427.5h1M701 427.5h1M707 427.5h1M722 427.5h1M727 427.5h1M731 427.5h1M733 427.5h1M747 427.5h1M767 427.5h1M771 427.5h1M777 427.5h1M780 427.5h1M788 427.5h1M790 427.5h1M800 427.5h1M882 427.5h1M202 428.5h1M209 428.5h2M215 428.5h2M220 428.5h1M224 428.5h2M228 428.5h1M232 428.5h1M235 428.5h2M240 428.5h2M247 428.5h1M249 428.5h1M252 428.5h2M266 428.5h1M272 428.5h1M274 428.5h1M277 428.5h1M284 428.5h2M295 428.5h1M299 428.5h1M302 428.5h1M305 428.5h1M317 428.5h1M319 428.5h4M325 428.5h1M327 428.5h1M329 428.5h4M334 428.5h1M337 428.5h1M341 428.5h1M346 428.5h2M351 428.5h1M355 428.5h4M361 428.5h1M364 428.5h3M370 428.5h3M374 428.5h1M377 428.5h1M385 428.5h1M387 428.5h4M392 428.5h1M398 428.5h3M402 428.5h1M404 428.5h1M408 428.5h2M413 428.5h2M417 428.5h3M421 428.5h1M426 428.5h1M431 428.5h2M437 428.5h3M442 428.5h1M446 428.5h1M451 428.5h2M454 428.5h1M459 428.5h1M463 428.5h1M468 428.5h2M473 428.5h1M476 428.5h1M478 428.5h2M482 428.5h1M484 428.5h1M486 428.5h1M490 428.5h1M493 428.5h1M497 428.5h1M500 428.5h5M507 428.5h3M514 428.5h1M517 428.5h1M522 428.5h1M525 428.5h1M527 428.5h4M533 428.5h1M535 428.5h1M537 428.5h4M544 428.5h1M547 428.5h1M551 428.5h3M555 428.5h1M558 428.5h1M561 428.5h1M563 428.5h1M571 428.5h1M575 428.5h1M579 428.5h1M588 428.5h1M590 428.5h2M593 428.5h5M599 428.5h2M605 428.5h1M607 428.5h1M615 428.5h3M635 428.5h2M642 428.5h3M646 428.5h1M650 428.5h2M662 428.5h1M664 428.5h2M669 428.5h1M672 428.5h1M685 428.5h1M687 428.5h2M696 428.5h1M699 428.5h1M707 428.5h1M709 428.5h1M712 428.5h1M718 428.5h1M726 428.5h1M728 428.5h2M740 428.5h1M765 428.5h1M770 428.5h3M774 428.5h3M780 428.5h1M786 428.5h1M811 428.5h1M826 428.5h1M831 428.5h1M833 428.5h2M838 428.5h1M848 428.5h2M853 428.5h1M855 428.5h1M859 428.5h1M861 428.5h1M863 428.5h1M866 428.5h2M870 428.5h1M875 428.5h1M879 428.5h1M881 428.5h1M891 428.5h2M900 428.5h1M906 428.5h1M912 428.5h1M210 429.5h2M218 429.5h1M229 429.5h2M246 429.5h1M252 429.5h1M262 429.5h1M264 429.5h1M267 429.5h1M272 429.5h1M274 429.5h2M283 429.5h1M286 429.5h1M288 429.5h2M292 429.5h1M303 429.5h1M306 429.5h2M325 429.5h1M327 429.5h1M331 429.5h2M337 429.5h1M339 429.5h1M348 429.5h1M355 429.5h1M363 429.5h1M366 429.5h1M368 429.5h2M371 429.5h1M379 429.5h1M381 429.5h1M384 429.5h1M392 429.5h1M398 429.5h2M401 429.5h1M405 429.5h2M409 429.5h1M416 429.5h1M425 429.5h1M437 429.5h1M446 429.5h3M451 429.5h1M454 429.5h1M458 429.5h1M463 429.5h1M472 429.5h1M475 429.5h1M479 429.5h1M482 429.5h12M495 429.5h1M499 429.5h1M502 429.5h1M511 429.5h1M514 429.5h1M519 429.5h1M524 429.5h3M528 429.5h1M531 429.5h2M534 429.5h1M539 429.5h1M543 429.5h1M545 429.5h2M564 429.5h1M572 429.5h1M581 429.5h3M586 429.5h1M594 429.5h1M601 429.5h1M604 429.5h2M610 429.5h2M617 429.5h1M626 429.5h1M639 429.5h1M646 429.5h2M651 429.5h1M653 429.5h1M657 429.5h1M661 429.5h1M663 429.5h1M680 429.5h1M688 429.5h1M690 429.5h2M693 429.5h1M696 429.5h1M701 429.5h1M704 429.5h1M713 429.5h1M721 429.5h1M724 429.5h1M727 429.5h1M741 429.5h3M817 429.5h1M823 429.5h1M830 429.5h6M839 429.5h1M843 429.5h1M846 429.5h1M848 429.5h1M853 429.5h1M859 429.5h1M863 429.5h1M865 429.5h3M872 429.5h1M876 429.5h3M880 429.5h1M882 429.5h1M884 429.5h1M890 429.5h1M895 429.5h3M904 429.5h1M908 429.5h2M911 429.5h1M207 430.5h1M216 430.5h1M226 430.5h1M233 430.5h1M235 430.5h2M239 430.5h1M248 430.5h1M250 430.5h1M254 430.5h1M256 430.5h1M260 430.5h1M265 430.5h1M268 430.5h1M270 430.5h1M273 430.5h1M277 430.5h1M285 430.5h1M288 430.5h1M291 430.5h1M294 430.5h1M297 430.5h2M300 430.5h1M305 430.5h1M309 430.5h1M311 430.5h1M322 430.5h1M340 430.5h1M359 430.5h1M364 430.5h1M382 430.5h2M389 430.5h1M393 430.5h1M405 430.5h1M408 430.5h2M411 430.5h1M414 430.5h1M416 430.5h1M420 430.5h2M427 430.5h1M431 430.5h1M433 430.5h1M435 430.5h1M446 430.5h1M448 430.5h1M452 430.5h1M455 430.5h1M467 430.5h2M470 430.5h2M477 430.5h1M483 430.5h2M486 430.5h1M488 430.5h1M494 430.5h1M504 430.5h2M507 430.5h1M514 430.5h1M518 430.5h1M521 430.5h1M526 430.5h2M533 430.5h1M540 430.5h1M546 430.5h2M556 430.5h2M575 430.5h1M577 430.5h1M580 430.5h1M586 430.5h2M598 430.5h2M606 430.5h2M616 430.5h1M620 430.5h2M630 430.5h1M640 430.5h1M670 430.5h1M682 430.5h1M700 430.5h1M702 430.5h3M706 430.5h1M709 430.5h2M715 430.5h1M738 430.5h1M747 430.5h1M750 430.5h1M756 430.5h1M760 430.5h1M812 430.5h1M824 430.5h1M829 430.5h1M834 430.5h1M836 430.5h1M848 430.5h1M854 430.5h1M858 430.5h1M860 430.5h1M869 430.5h1M873 430.5h1M883 430.5h1M892 430.5h1M206 431.5h1M210 431.5h1M218 431.5h1M220 431.5h1M239 431.5h1M245 431.5h1M250 431.5h1M264 431.5h1M277 431.5h1M281 431.5h1M288 431.5h1M294 431.5h2M309 431.5h1M319 431.5h1M324 431.5h1M338 431.5h1M350 431.5h3M357 431.5h1M365 431.5h1M371 431.5h1M373 431.5h1M375 431.5h1M377 431.5h1M386 431.5h1M388 431.5h1M395 431.5h3M409 431.5h1M428 431.5h1M440 431.5h2M443 431.5h2M447 431.5h2M452 431.5h1M479 431.5h1M487 431.5h1M492 431.5h1M510 431.5h2M518 431.5h1M525 431.5h1M527 431.5h2M532 431.5h1M535 431.5h1M544 431.5h1M674 431.5h1M687 431.5h1M738 431.5h1M782 431.5h1M813 431.5h1M840 431.5h1M865 431.5h1M201 432.5h1M216 432.5h1M218 432.5h1M253 432.5h1M262 432.5h1M279 432.5h1M281 432.5h2M286 432.5h1M295 432.5h1M317 432.5h1M335 432.5h3M357 432.5h1M364 432.5h1M369 432.5h1M405 432.5h1M414 432.5h1M434 432.5h1M444 432.5h1M451 432.5h1M459 432.5h1M462 432.5h2M515 432.5h1M520 432.5h2M532 432.5h2M543 432.5h1M239 433.5h1M252 433.5h1M289 433.5h1M311 433.5h1M495 433.5h2M521 433.5h1M543 433.5h1M212 434.5h1M214 434.5h1M247 434.5h1M329 434.5h1M355 434.5h1M387 434.5h1M422 434.5h1M219 450.5h1M243 450.5h1M245 450.5h1M259 450.5h1M273 450.5h1M278 450.5h1M330 450.5h1M352 450.5h1M376 450.5h1M387 450.5h1M409 450.5h1M411 450.5h1M442 450.5h1M676 450.5h1M741 450.5h1M758 450.5h1M900 450.5h1M209 451.5h1M212 451.5h1M222 451.5h1M233 451.5h1M238 451.5h2M245 451.5h1M251 451.5h1M261 451.5h1M264 451.5h2M269 451.5h1M275 451.5h1M277 451.5h2M371 451.5h1M463 451.5h1M468 451.5h1M487 451.5h1M516 451.5h1M590 451.5h1M595 451.5h2M618 451.5h1M653 451.5h1M730 451.5h1M770 451.5h1M774 451.5h1M799 451.5h1M820 451.5h1M862 451.5h1M880 451.5h1M209 452.5h1M214 452.5h1M224 452.5h1M231 452.5h1M234 452.5h1M247 452.5h2M250 452.5h1M266 452.5h1M332 452.5h1M337 452.5h1M339 452.5h1M343 452.5h1M365 452.5h1M373 452.5h1M394 452.5h1M405 452.5h1M434 452.5h1M444 452.5h1M446 452.5h1M451 452.5h1M463 452.5h1M470 452.5h2M493 452.5h1M508 452.5h1M510 452.5h1M512 452.5h1M529 452.5h1M568 452.5h1M574 452.5h1M579 452.5h1M593 452.5h1M614 452.5h1M635 452.5h2M664 452.5h1M687 452.5h1M700 452.5h1M741 452.5h1M765 452.5h1M770 452.5h1M778 452.5h1M810 452.5h1M822 452.5h1M831 452.5h1M850 452.5h1M854 452.5h2M861 452.5h1M899 452.5h1M204 453.5h2M208 453.5h1M211 453.5h1M224 453.5h1M240 453.5h1M243 453.5h1M245 453.5h1M249 453.5h2M252 453.5h1M257 453.5h1M260 453.5h1M265 453.5h1M268 453.5h1M271 453.5h1M275 453.5h1M277 453.5h1M301 453.5h1M303 453.5h1M313 453.5h1M345 453.5h1M350 453.5h1M357 453.5h1M359 453.5h1M367 453.5h1M374 453.5h1M388 453.5h1M391 453.5h1M394 453.5h1M399 453.5h1M410 453.5h1M424 453.5h1M434 453.5h1M438 453.5h1M441 453.5h1M460 453.5h1M463 453.5h1M473 453.5h1M475 453.5h1M509 453.5h1M519 453.5h1M569 453.5h1M577 453.5h2M596 453.5h1M617 453.5h1M642 453.5h1M646 453.5h1M662 453.5h1M685 453.5h1M744 453.5h1M747 453.5h1M768 453.5h1M772 453.5h1M777 453.5h1M779 453.5h1M789 453.5h1M792 453.5h1M803 453.5h2M817 453.5h1M826 453.5h1M830 453.5h2M843 453.5h1M860 453.5h1M862 453.5h1M877 453.5h1M889 453.5h1" stroke="#fff" stroke-width="1" shape-rendering="crispEdges"/>
<path d="M562 110V156.6M589.3 110V134.8" stroke="#fff" stroke-width="2.1"/>
<path d="M195.85 213.8C196.4 213.62 198.37 212.92 199.15 212.7C199.92 212.48 199.81 212.9 200.5 212.5C201.19 212.1 202.3 211.45 203.3 210.3C204.3 209.15 205.5 207.28 206.5 205.6C207.5 203.92 208.43 201.83 209.3 200.2C210.17 198.57 210.83 196.78 211.7 195.8C212.57 194.82 213.53 194.38 214.5 194.3C215.47 194.22 216.47 194.68 217.5 195.3C218.53 195.92 219.62 197.82 220.7 198C221.78 198.18 222.9 197.02 224 196.4C225.1 195.78 226.25 194.48 227.3 194.3C228.35 194.12 229.4 194.55 230.3 195.3C231.2 196.05 231.93 197.43 232.7 198.8C233.47 200.17 234.17 201.9 234.9 203.5C235.63 205.1 236.28 206.95 237.1 208.4C237.92 209.85 238.8 211.38 239.8 212.2C240.8 213.02 242 212.98 243.1 213.3C244.2 213.62 245.4 213.55 246.4 214.1C247.4 214.65 248.2 215.65 249.1 216.6C250 217.55 250.8 218.53 251.8 219.8C252.8 221.07 254 222.92 255.1 224.2C256.2 225.48 257.32 226.73 258.4 227.5C259.48 228.27 260.42 228.53 261.6 228.8C262.78 229.07 264.22 229.1 265.5 229.1C266.78 229.1 268.03 229.07 269.3 228.8C270.57 228.53 271.92 228.27 273.1 227.5C274.28 226.73 275.4 225.38 276.4 224.2C277.4 223.02 278.2 221.67 279.1 220.4C280 219.13 280.8 217.7 281.8 216.6C282.8 215.5 284 214.45 285.1 213.8C286.2 213.15 287.62 212.92 288.4 212.7C289.17 212.48 289.06 212.9 289.75 212.5C290.44 212.1 291.55 211.45 292.55 210.3C293.55 209.15 294.75 207.28 295.75 205.6C296.75 203.92 297.68 201.83 298.55 200.2C299.42 198.57 300.08 196.78 300.95 195.8C301.82 194.82 302.78 194.38 303.75 194.3C304.72 194.22 305.72 194.68 306.75 195.3C307.78 195.92 308.87 197.82 309.95 198C311.03 198.18 312.15 197.02 313.25 196.4C314.35 195.78 315.5 194.48 316.55 194.3C317.6 194.12 318.65 194.55 319.55 195.3C320.45 196.05 321.18 197.43 321.95 198.8C322.72 200.17 323.42 201.9 324.15 203.5C324.88 205.1 325.53 206.95 326.35 208.4C327.17 209.85 328.05 211.38 329.05 212.2C330.05 213.02 331.25 212.98 332.35 213.3C333.45 213.62 334.65 213.55 335.65 214.1C336.65 214.65 337.45 215.65 338.35 216.6C339.25 217.55 340.05 218.53 341.05 219.8C342.05 221.07 343.25 222.92 344.35 224.2C345.45 225.48 346.57 226.73 347.65 227.5C348.73 228.27 349.67 228.53 350.85 228.8C352.03 229.07 353.47 229.1 354.75 229.1C356.03 229.1 357.28 229.07 358.55 228.8C359.82 228.53 361.17 228.27 362.35 227.5C363.53 226.73 364.65 225.38 365.65 224.2C366.65 223.02 367.45 221.67 368.35 220.4C369.25 219.13 370.05 217.7 371.05 216.6C372.05 215.5 373.25 214.45 374.35 213.8C375.45 213.15 376.88 212.92 377.65 212.7C378.43 212.48 378.31 212.9 379 212.5C379.69 212.1 380.8 211.45 381.8 210.3C382.8 209.15 384 207.28 385 205.6C386 203.92 386.93 201.83 387.8 200.2C388.67 198.57 389.33 196.78 390.2 195.8C391.07 194.82 392.03 194.38 393 194.3C393.97 194.22 394.97 194.68 396 195.3C397.03 195.92 398.12 197.82 399.2 198C400.28 198.18 401.4 197.02 402.5 196.4C403.6 195.78 404.75 194.48 405.8 194.3C406.85 194.12 407.9 194.55 408.8 195.3C409.7 196.05 410.43 197.43 411.2 198.8C411.97 200.17 412.67 201.9 413.4 203.5C414.13 205.1 414.78 206.95 415.6 208.4C416.42 209.85 417.3 211.38 418.3 212.2C419.3 213.02 420.5 212.98 421.6 213.3C422.7 213.62 423.9 213.55 424.9 214.1C425.9 214.65 426.7 215.65 427.6 216.6C428.5 217.55 429.3 218.53 430.3 219.8C431.3 221.07 432.5 222.92 433.6 224.2C434.7 225.48 435.82 226.73 436.9 227.5C437.98 228.27 438.92 228.53 440.1 228.8C441.28 229.07 442.72 229.1 444 229.1C445.28 229.1 446.53 229.07 447.8 228.8C449.07 228.53 450.42 228.27 451.6 227.5C452.78 226.73 453.9 225.38 454.9 224.2C455.9 223.02 456.7 221.67 457.6 220.4C458.5 219.13 459.3 217.7 460.3 216.6C461.3 215.5 462.5 214.45 463.6 213.8C464.7 213.15 466.13 212.92 466.9 212.7C467.68 212.48 467.56 212.9 468.25 212.5C468.94 212.1 470.05 211.45 471.05 210.3C472.05 209.15 473.25 207.28 474.25 205.6C475.25 203.92 476.18 201.83 477.05 200.2C477.92 198.57 478.58 196.78 479.45 195.8C480.32 194.82 481.28 194.38 482.25 194.3C483.22 194.22 484.22 194.68 485.25 195.3C486.28 195.92 487.37 197.82 488.45 198C489.53 198.18 490.65 197.02 491.75 196.4C492.85 195.78 494 194.48 495.05 194.3C496.1 194.12 497.15 194.55 498.05 195.3C498.95 196.05 499.68 197.43 500.45 198.8C501.22 200.17 501.92 201.9 502.65 203.5C503.38 205.1 504.03 206.95 504.85 208.4C505.67 209.85 506.55 211.38 507.55 212.2C508.55 213.02 509.75 212.98 510.85 213.3C511.95 213.62 513.15 213.55 514.15 214.1C515.15 214.65 515.95 215.65 516.85 216.6C517.75 217.55 518.55 218.53 519.55 219.8C520.55 221.07 521.75 222.92 522.85 224.2C523.95 225.48 525.07 226.73 526.15 227.5C527.23 228.27 528.17 228.53 529.35 228.8C530.53 229.07 531.97 229.1 533.25 229.1C534.53 229.1 535.78 229.07 537.05 228.8C538.32 228.53 539.67 228.27 540.85 227.5C542.03 226.73 543.15 225.38 544.15 224.2C545.15 223.02 545.95 221.67 546.85 220.4C547.75 219.13 548.55 217.7 549.55 216.6C550.55 215.5 551.75 214.45 552.85 213.8C553.95 213.15 555.38 212.92 556.15 212.7C556.92 212.48 556.81 212.9 557.5 212.5C558.19 212.1 559.3 211.45 560.3 210.3C561.3 209.15 562.5 207.28 563.5 205.6C564.5 203.92 565.43 201.83 566.3 200.2C567.17 198.57 567.83 196.78 568.7 195.8C569.57 194.82 570.53 194.38 571.5 194.3C572.47 194.22 573.47 194.68 574.5 195.3C575.53 195.92 576.62 197.82 577.7 198C578.78 198.18 579.9 197.02 581 196.4C582.1 195.78 583.25 194.48 584.3 194.3C585.35 194.12 586.4 194.55 587.3 195.3C588.2 196.05 588.93 197.43 589.7 198.8C590.47 200.17 591.17 201.9 591.9 203.5C592.63 205.1 593.28 206.95 594.1 208.4C594.92 209.85 595.8 211.38 596.8 212.2C597.8 213.02 599 212.98 600.1 213.3C601.2 213.62 602.4 213.55 603.4 214.1C604.4 214.65 605.2 215.65 606.1 216.6C607 217.55 607.8 218.53 608.8 219.8C609.8 221.07 611 222.92 612.1 224.2C613.2 225.48 614.32 226.73 615.4 227.5C616.48 228.27 617.42 228.53 618.6 228.8C619.78 229.07 621.22 229.1 622.5 229.1C623.78 229.1 625.03 229.07 626.3 228.8C627.57 228.53 628.92 228.27 630.1 227.5C631.28 226.73 632.4 225.38 633.4 224.2C634.4 223.02 635.2 221.67 636.1 220.4C637 219.13 637.8 217.7 638.8 216.6C639.8 215.5 641 214.45 642.1 213.8C643.2 213.15 644.62 212.92 645.4 212.7C646.17 212.48 646.06 212.9 646.75 212.5C647.44 212.1 648.55 211.45 649.55 210.3C650.55 209.15 651.75 207.28 652.75 205.6C653.75 203.92 654.68 201.83 655.55 200.2C656.42 198.57 657.08 196.78 657.95 195.8C658.82 194.82 659.78 194.38 660.75 194.3C661.72 194.22 662.72 194.68 663.75 195.3C664.78 195.92 665.87 197.82 666.95 198C668.03 198.18 669.15 197.02 670.25 196.4C671.35 195.78 672.5 194.48 673.55 194.3C674.6 194.12 675.65 194.55 676.55 195.3C677.45 196.05 678.18 197.43 678.95 198.8C679.72 200.17 680.42 201.9 681.15 203.5C681.88 205.1 682.53 206.95 683.35 208.4C684.17 209.85 685.05 211.38 686.05 212.2C687.05 213.02 688.25 212.98 689.35 213.3C690.45 213.62 691.65 213.55 692.65 214.1C693.65 214.65 694.45 215.65 695.35 216.6C696.25 217.55 697.05 218.53 698.05 219.8C699.05 221.07 700.25 222.92 701.35 224.2C702.45 225.48 703.57 226.73 704.65 227.5C705.73 228.27 706.67 228.53 707.85 228.8C709.03 229.07 710.47 229.1 711.75 229.1C713.03 229.1 714.28 229.07 715.55 228.8C716.82 228.53 718.17 228.27 719.35 227.5C720.53 226.73 721.65 225.38 722.65 224.2C723.65 223.02 724.45 221.67 725.35 220.4C726.25 219.13 727.05 217.7 728.05 216.6C729.05 215.5 730.25 214.45 731.35 213.8C732.45 213.15 733.88 212.92 734.65 212.7C735.42 212.48 735.31 212.9 736 212.5C736.69 212.1 737.8 211.45 738.8 210.3C739.8 209.15 741 207.28 742 205.6C743 203.92 743.93 201.83 744.8 200.2C745.67 198.57 746.33 196.78 747.2 195.8C748.07 194.82 749.03 194.38 750 194.3C750.97 194.22 751.97 194.68 753 195.3C754.03 195.92 755.12 197.82 756.2 198C757.28 198.18 758.4 197.02 759.5 196.4C760.6 195.78 761.75 194.48 762.8 194.3C763.85 194.12 764.9 194.55 765.8 195.3C766.7 196.05 767.43 197.43 768.2 198.8C768.97 200.17 769.67 201.9 770.4 203.5C771.13 205.1 771.78 206.95 772.6 208.4C773.42 209.85 774.3 211.38 775.3 212.2C776.3 213.02 777.5 212.98 778.6 213.3C779.7 213.62 780.9 213.55 781.9 214.1C782.9 214.65 783.7 215.65 784.6 216.6C785.5 217.55 786.3 218.53 787.3 219.8C788.3 221.07 789.5 222.92 790.6 224.2C791.7 225.48 792.82 226.73 793.9 227.5C794.98 228.27 795.92 228.53 797.1 228.8C798.28 229.07 799.72 229.1 801 229.1C802.28 229.1 803.53 229.07 804.8 228.8C806.07 228.53 807.42 228.27 808.6 227.5C809.78 226.73 810.9 225.38 811.9 224.2C812.9 223.02 813.7 221.67 814.6 220.4C815.5 219.13 816.3 217.7 817.3 216.6C818.3 215.5 819.5 214.45 820.6 213.8C821.7 213.15 823.12 212.92 823.9 212.7C824.67 212.48 824.56 212.9 825.25 212.5C825.94 212.1 827.05 211.45 828.05 210.3C829.05 209.15 830.25 207.28 831.25 205.6C832.25 203.92 833.18 201.83 834.05 200.2C834.92 198.57 835.58 196.78 836.45 195.8C837.32 194.82 838.28 194.38 839.25 194.3C840.22 194.22 841.22 194.68 842.25 195.3C843.28 195.92 844.37 197.82 845.45 198C846.53 198.18 847.65 197.02 848.75 196.4C849.85 195.78 851 194.48 852.05 194.3C853.1 194.12 854.15 194.55 855.05 195.3C855.95 196.05 856.68 197.43 857.45 198.8C858.22 200.17 858.92 201.9 859.65 203.5C860.38 205.1 861.03 206.95 861.85 208.4C862.67 209.85 863.55 211.38 864.55 212.2C865.55 213.02 866.75 212.98 867.85 213.3C868.95 213.62 870.15 213.55 871.15 214.1C872.15 214.65 872.95 215.65 873.85 216.6C874.75 217.55 875.55 218.53 876.55 219.8C877.55 221.07 878.75 222.92 879.85 224.2C880.95 225.48 882.07 226.73 883.15 227.5C884.23 228.27 885.17 228.53 886.35 228.8C887.53 229.07 888.97 229.1 890.25 229.1C891.53 229.1 892.78 229.07 894.05 228.8C895.32 228.53 896.67 228.27 897.85 227.5C899.03 226.73 900.15 225.38 901.15 224.2C902.15 223.02 902.95 221.67 903.85 220.4C904.75 219.13 905.55 217.7 906.55 216.6C907.55 215.5 908.75 214.45 909.85 213.8C910.95 213.15 912.38 212.92 913.15 212.7C913.92 212.48 913.81 212.9 914.5 212.5C915.19 212.1 916.83 210.67 917.3 210.3" stroke="#000" stroke-width="2.6" stroke-dasharray="7.7 3.33" stroke-dashoffset="1" clip-path="url(#c1)"/>
<rect x="219" y="110" width="4" height="10" fill="#000"/>
<rect x="264" y="110" width="4" height="10" fill="#f00"/>
<text x="221.3" y="139" font-size="13.89" text-anchor="middle">M</text>
<text x="265.8" y="139" font-size="13.89" text-anchor="middle" fill="#f00">N</text>
<rect x="308" y="110" width="4" height="10" fill="#000"/>
<rect x="353" y="110" width="4" height="10" fill="#f00"/>
<text x="310.73" y="139" font-size="13.89" text-anchor="middle">M</text>
<text x="355.1" y="139" font-size="13.89" text-anchor="middle" fill="#f00">N</text>
<rect x="398" y="110" width="4" height="10" fill="#000"/>
<rect x="443" y="110" width="4" height="10" fill="#f00"/>
<text x="400.16" y="139" font-size="13.89" text-anchor="middle">M</text>
<text x="444.4" y="139" font-size="13.89" text-anchor="middle" fill="#f00">N</text>
<rect x="487" y="110" width="4" height="10" fill="#000"/>
<rect x="532" y="110" width="4" height="10" fill="#f00"/>
<text x="489.59" y="139" font-size="13.89" text-anchor="middle">M</text>
<text x="533.7" y="139" font-size="13.89" text-anchor="middle" fill="#f00">N</text>
<rect x="577" y="110" width="4" height="10" fill="#000"/>
<rect x="621" y="110" width="4" height="10" fill="#f00"/>
<text x="579.02" y="139" font-size="13.89" text-anchor="middle">M</text>
<text x="623" y="139" font-size="13.89" text-anchor="middle" fill="#f00">N</text>
<rect x="666" y="110" width="4" height="10" fill="#000"/>
<rect x="710" y="110" width="4" height="10" fill="#f00"/>
<text x="668.45" y="139" font-size="13.89" text-anchor="middle">M</text>
<text x="712.3" y="139" font-size="13.89" text-anchor="middle" fill="#f00">N</text>
<rect x="756" y="110" width="4" height="10" fill="#000"/>
<rect x="800" y="110" width="4" height="10" fill="#f00"/>
<text x="757.88" y="139" font-size="13.89" text-anchor="middle">M</text>
<text x="801.6" y="139" font-size="13.89" text-anchor="middle" fill="#f00">N</text>
<rect x="845" y="110" width="4" height="10" fill="#000"/>
<rect x="889" y="110" width="4" height="10" fill="#f00"/>
<text x="847.31" y="139" font-size="13.89" text-anchor="middle">M</text>
<text x="890.9" y="139" font-size="13.89" text-anchor="middle" fill="#f00">N</text>
<path d="M825.5 455L825.5 110" stroke="#000" stroke-width="2.78" stroke-dasharray="2.78 4.59" stroke-dashoffset="0.8"/>
<text x="887" y="421.5" font-size="62.4" transform="rotate(-90 887 421.5)" fill-opacity="0.2">Forecast</text>
<path d="M200 455.5L206 455.5" stroke-width="1.3" stroke="#000"/>
<path d="M914 455.5L909 455.5" stroke-width="1.3" stroke="#000"/>
<text x="195.3" y="463.3" font-size="19.44" text-anchor="end">2</text>
<path d="M200 397.5L206 397.5" stroke-width="1.3" stroke="#000"/>
<path d="M914 397.5L909 397.5" stroke-width="1.3" stroke="#000"/>
<text x="195.3" y="405.8" font-size="19.44" text-anchor="end">3</text>
<path d="M200 340.5L206 340.5" stroke-width="1.3" stroke="#000"/>
<path d="M914 340.5L909 340.5" stroke-width="1.3" stroke="#000"/>
<text x="195.3" y="348.3" font-size="19.44" text-anchor="end">4</text>
<path d="M200 282.5L206 282.5" stroke-width="1.3" stroke="#000"/>
<path d="M914 282.5L909 282.5" stroke-width="1.3" stroke="#000"/>
<text x="195.3" y="290.8" font-size="19.44" text-anchor="end">5</text>
<path d="M200 225.5L206 225.5" stroke-width="1.3" stroke="#000"/>
<path d="M914 225.5L909 225.5" stroke-width="1.3" stroke="#000"/>
<text x="195.3" y="233.3" font-size="19.44" text-anchor="end">6</text>
<path d="M200 167.5L206 167.5" stroke-width="1.3" stroke="#000"/>
<path d="M914 167.5L909 167.5" stroke-width="1.3" stroke="#000"/>
<text x="195.3" y="175.8" font-size="19.44" text-anchor="end">7</text>
<path d="M200 110.5L206 110.5" stroke-width="1.3" stroke="#000"/>
<path d="M914 110.5L909 110.5" stroke-width="1.3" stroke="#000"/>
<text x="195.3" y="118.3" font-size="19.44" text-anchor="end">8</text>
<path d="M248.5 455L248.5 449.8" stroke-width="1.3" stroke="#000"/>
<path d="M338.5 455L338.5 449.8" stroke-width="1.3" stroke="#000"/>
<path d="M427.5 455L427.5 449.8" stroke-width="1.3" stroke="#000"/>
<path d="M516.5 455L516.5 449.8" stroke-width="1.3" stroke="#000"/>
<path d="M606.5 455L606.5 449.8" stroke-width="1.3" stroke="#000"/>
<path d="M695.5 455L695.5 449.8" stroke-width="1.3" stroke="#000"/>
<path d="M784.5 455L784.5 449.8" stroke-width="1.3" stroke="#000"/>
<path d="M873.5 455L873.5 449.8" stroke-width="1.3" stroke="#000"/>
<rect x="200" y="110" width="714" height="345" fill="none" stroke="#000" stroke-width="2.0"/>
<text x="173.1" y="286.1" font-size="24" text-anchor="middle" transform="rotate(-90 173.1 286.1)">L*</text>
<text x="203.5" y="93" font-size="24">&gt;2.0 MeV Electron Flux at 88<tspan font-size="16.8" dy="-9.7" dx="3.9">∘</tspan><tspan dy="9.7" dx="4.4"> pitch angle </tspan>( cm<tspan font-size="16.8" dy="-9.7" dx="-0.4">−2</tspan><tspan dy="9.7" dx="5.2">s</tspan><tspan font-size="16.8" dy="-9.7" dx="-0.8">−1</tspan><tspan dy="9.7" dx="5.5">sr</tspan><tspan font-size="16.8" dy="-9.7" dx="-0.1">−1</tspan><tspan dy="9.7" dx="1.6"> )</tspan></text>
</g>
<g id="cbar">
<rect x="959.0" y="110.0" width="17.0" height="345.0" fill="url(#cb)" stroke="#000" stroke-width="2"/>
<path d="M977 455L982 455" stroke-width="1.1" stroke="#000"/>
<text x="986.9" y="462.8" font-size="19.44">10<tspan font-size="13.61" dy="-7.19">0</tspan></text>
<path d="M977 437.69L980 437.69" stroke-width="0.9" stroke="#000"/>
<path d="M977 427.57L980 427.57" stroke-width="0.9" stroke="#000"/>
<path d="M977 420.38L980 420.38" stroke-width="0.9" stroke="#000"/>
<path d="M977 414.81L980 414.81" stroke-width="0.9" stroke="#000"/>
<path d="M977 410.26L980 410.26" stroke-width="0.9" stroke="#000"/>
<path d="M977 406.41L980 406.41" stroke-width="0.9" stroke="#000"/>
<path d="M977 403.07L980 403.07" stroke-width="0.9" stroke="#000"/>
<path d="M977 400.13L980 400.13" stroke-width="0.9" stroke="#000"/>
<path d="M977 397.5L982 397.5" stroke-width="1.1" stroke="#000"/>
<text x="986.9" y="405.3" font-size="19.44">10<tspan font-size="13.61" dy="-7.19">1</tspan></text>
<path d="M977 380.19L980 380.19" stroke-width="0.9" stroke="#000"/>
<path d="M977 370.07L980 370.07" stroke-width="0.9" stroke="#000"/>
<path d="M977 362.88L980 362.88" stroke-width="0.9" stroke="#000"/>
<path d="M977 357.31L980 357.31" stroke-width="0.9" stroke="#000"/>
<path d="M977 352.76L980 352.76" stroke-width="0.9" stroke="#000"/>
<path d="M977 348.91L980 348.91" stroke-width="0.9" stroke="#000"/>
<path d="M977 345.57L980 345.57" stroke-width="0.9" stroke="#000"/>
<path d="M977 342.63L980 342.63" stroke-width="0.9" stroke="#000"/>
<path d="M977 340L982 340" stroke-width="1.1" stroke="#000"/>
<text x="986.9" y="347.8" font-size="19.44">10<tspan font-size="13.61" dy="-7.19">2</tspan></text>
<path d="M977 322.69L980 322.69" stroke-width="0.9" stroke="#000"/>
<path d="M977 312.57L980 312.57" stroke-width="0.9" stroke="#000"/>
<path d="M977 305.38L980 305.38" stroke-width="0.9" stroke="#000"/>
<path d="M977 299.81L980 299.81" stroke-width="0.9" stroke="#000"/>
<path d="M977 295.26L980 295.26" stroke-width="0.9" stroke="#000"/>
<path d="M977 291.41L980 291.41" stroke-width="0.9" stroke="#000"/>
<path d="M977 288.07L980 288.07" stroke-width="0.9" stroke="#000"/>
<path d="M977 285.13L980 285.13" stroke-width="0.9" stroke="#000"/>
<path d="M977 282.5L982 282.5" stroke-width="1.1" stroke="#000"/>
<text x="986.9" y="290.3" font-size="19.44">10<tspan font-size="13.61" dy="-7.19">3</tspan></text>
<path d="M977 265.19L980 265.19" stroke-width="0.9" stroke="#000"/>
<path d="M977 255.07L980 255.07" stroke-width="0.9" stroke="#000"/>
<path d="M977 247.88L980 247.88" stroke-width="0.9" stroke="#000"/>
<path d="M977 242.31L980 242.31" stroke-width="0.9" stroke="#000"/>
<path d="M977 237.76L980 237.76" stroke-width="0.9" stroke="#000"/>
<path d="M977 233.91L980 233.91" stroke-width="0.9" stroke="#000"/>
<path d="M977 230.57L980 230.57" stroke-width="0.9" stroke="#000"/>
<path d="M977 227.63L980 227.63" stroke-width="0.9" stroke="#000"/>
<path d="M977 225L982 225" stroke-width="1.1" stroke="#000"/>
<text x="986.9" y="232.8" font-size="19.44">10<tspan font-size="13.61" dy="-7.19">4</tspan></text>
<path d="M977 207.69L980 207.69" stroke-width="0.9" stroke="#000"/>
<path d="M977 197.57L980 197.57" stroke-width="0.9" stroke="#000"/>
<path d="M977 190.38L980 190.38" stroke-width="0.9" stroke="#000"/>
<path d="M977 184.81L980 184.81" stroke-width="0.9" stroke="#000"/>
<path d="M977 180.26L980 180.26" stroke-width="0.9" stroke="#000"/>
<path d="M977 176.41L980 176.41" stroke-width="0.9" stroke="#000"/>
<path d="M977 173.07L980 173.07" stroke-width="0.9" stroke="#000"/>
<path d="M977 170.13L980 170.13" stroke-width="0.9" stroke="#000"/>
<path d="M977 167.5L982 167.5" stroke-width="1.1" stroke="#000"/>
<text x="986.9" y="175.3" font-size="19.44">10<tspan font-size="13.61" dy="-7.19">5</tspan></text>
<path d="M977 150.19L980 150.19" stroke-width="0.9" stroke="#000"/>
<path d="M977 140.07L980 140.07" stroke-width="0.9" stroke="#000"/>
<path d="M977 132.88L980 132.88" stroke-width="0.9" stroke="#000"/>
<path d="M977 127.31L980 127.31" stroke-width="0.9" stroke="#000"/>
<path d="M977 122.76L980 122.76" stroke-width="0.9" stroke="#000"/>
<path d="M977 118.91L980 118.91" stroke-width="0.9" stroke="#000"/>
<path d="M977 115.57L980 115.57" stroke-width="0.9" stroke="#000"/>
<path d="M977 112.63L980 112.63" stroke-width="0.9" stroke="#000"/>
<path d="M977 110L982 110" stroke-width="1.1" stroke="#000"/>
<text x="986.9" y="117.8" font-size="19.44">10<tspan font-size="13.61" dy="-7.19">6</tspan></text>
</g>
<g id="p2">
<rect x="824.9" y="478.0" width="89.1" height="344.0" fill="#d3d3d3"/>
<text x="887" y="788.6" font-size="62.4" transform="rotate(-90 887 788.6)" fill-opacity="0.2">Forecast</text>
<path d="M200 724L215 722L230 718L236 712L241 706L247 701L255 696L262 692L269.4 690.4L274 691.6L279 695L284 698L288.6 703.4L292 709L294.6 716.6L296.4 730L298 742L302 750L306 748L308.4 732L314 722L326 717.8L335.4 710.6L345 696.2L348.6 692.6L354.6 691.4L361.8 692.4L365.4 696.8L369 701L371.4 703.4L385 708L400 712L409.8 714.2L414.6 717.8L418.2 723.8L423 724.4L426.6 723.8L431.4 717.8L435 709L438.6 706L443 706.2L449 706.4L452.6 708.2L456.2 715.4L459.8 727.4L463.4 733.4L467 738.8L475 752L484.4 767L491.6 763.4L497 758.6L504.2 749L507.8 741.8L511.4 739.6L514 740.6L517 735L520.4 728.6L522.8 720.2L525.8 716.8L530.6 716L535.4 717.8L541.4 722.6L543.8 728.6L550 742L559.4 753.8L561.8 758L569 761L574.4 761L583.4 761.6L587 762.2L590.6 755L594 745L601.4 743.6L606 738L610.4 732.2L616 726L623 723L629 726L635 734.6L642 748L648 760L654.2 767L662 770L670 769L676 764L682.6 753.8L690 745L700 737L708 731L714 729L720 731L727 738L735.4 747.2L742 760L748 769.4L754 770L760 765L768 754L775 747.8L782.2 744.2L787 738.2L788.8 733.4L793 728L800 724L806 725L812 731L818 741L824.2 747.2L827.8 749L833 753.2L838.6 747.2L844.6 743.6L853 738.2L859 736.4L866.2 732.8L875.8 728.6L883 723.6L889 721L896.7 719.7L905 721.3L914 722" stroke="#f00" stroke-width="2.6" stroke-linejoin="round"/>
<path d="M200.2 715.2l.4 72.9 .5-81.8 .6 81.7 .2-82.3 .5 82.5 .5-60.2 .5 60.1 .5-81.2 .3 21.3 .4-15.5 .5 13.8 .6-15.6 .4 19 .4-20.8 .4 24.2 .4-26.8 .7 23.4 .3-25.3 .3 25.7 .5-5.9 .5 63.7 .5-75 .4 18.6 .6-28.7 .3 59.1 .4-40.7 .5 66.9 .6-80.4 .4 79.9 .5-61.9 .2 17.5 .5-33.6 .5 78.1 .5-74.3 .4 74.3 .4-69 .4 69.3 .6-54.8 .4 54.4 .4-86.6 .6 35.3 .3-15.8 .5 18.3 .5-25.3 .5 30.4 .5-32.4 .4 31 .4-20.3 .4 3.7 .6-20.2 .2 82 .7-73.6 .4 73.8 .5-73.2 .4 61.1 .5-51.1 .4 63.2 .5-72.4 .4 50.5 .4-67.7 .5 89.4 .4-78.4 .4 27.3 .5-20.2 .5 15.4 .5-27.8 .2 44 .5-38.4 .4 78.4 .5-89.4 .6 89.6 .3-78.7 .5 78.4 .6-78 .3 16.4 .6-10.8 .4 20.4 .4-18.3 .3 70.2 .6-81 .5 80.6 .4-82.1 .6 82.7 .2-85.6 .5 85.5 .4-77.2 .5 34.6 .5-40.4 .3 83.1 .6-76.3 .4 29 .6-37.1 .4 23.4 .3-24 .6 21.5 .4-7.9 .4 14.2 .5-23.8 .5 27.4 .4-30.2 .4 34.6 .4-39.3 .4 40.7 .5-42.4 .6 26.3 .5-11.8 .4 13.3 .5-27 .2 34.1 .6-21.7 .4 27.7 .6-41.5 .5 39.5 .3-31.3 .6 28.2 .3-18 .5-5.9 .3-15.3 .6 21.2 .5-23.6 .3 20.9 .5-21.1 .3 25.2 .6-30.2 .6 25.5 .4-12.1 .2 10.2 .7-12 .5 15.6 .2-21.1 .4 24.5 .6-24.3 .4 17.8 .4-21.6 .4 27 .5-26.6 .6 15.4 .4-13.2 .4 13.3 .6-17.6 .3 21.9 .5-11.5 .5 14.5 .5-17.2 .3 13.1 .4-18.7 .5 18.2 .5-26 .5 28.7 .3-13.5 .5 17.8 .5-24.6 .5 20.9 .4-21.5 .5 23.1 .3-16.1 .6 17.5 .3-22.1 .6 19 .4-21.1 .5 23.9 .3-16.5 .5 13.7 .6-24.1 .4 22 .3-22.5 .4 29.9 .7-19.7 .4 8.6 .5-17.1 .4 28.1 .4-21.3 .4 13.2 .6-18.9 .4 21.6 .3-20.6 .7 20.6 .2-15.3 .5 13.5 .6-17.7 .4 24.3 .4-17.7 .5 14.5 .4-9.5 .5 85.1 .4-80.5 .4 80.2 .4-52.2 .6 52.5 .4-71.4 .4 71.3 .4-66.1 .5 65.7 .6-64.9 .4 64.7 .4-67.3 .5 67.7 .3-79.2 .5 79.6 .4-70.6 .5 70.2 .5-59.4 .5 59.3 .5-71 .3 62.7 .4-51.9 .6 60.2 .3-48.5 .5 49 .5-60.3 .5 59.7 .3-77 .6 77.2 .4-68.2 .4 68.4 .4-75M300.1 725.6l.4 4.5 .4-19.1 .5 46.6 .6-27.3 .3 58 .5-64.1 .5 64.2 .4-75.9 .3 22.6 .6-24.2 .5 26.2 .5-29.3 .4 22.6 .4-13.6 .4 71 .5-50 .5 50.4 .4-69.4 .4 58.1 .4-56.2 .5 67.7 .5-66.6 .5 66.5 .4-62.6 .5 62.6 .3-36.8 .5 36.2 .4-66.9 .6 67.1 .3-68.8 .5 68.9 .5-71.2 .4 71 .4-71.5 .6 72.1 .3-44.1 .5 43.7 .6-61.6 .4 52.1 .3-47.1 .6 56.8 .5-76.9 .3 76.5 .4-83.7 .6 83.6 .4-63.9 .5 64.3 .3-71.6 .6 14.5 .5-7 .2 64.1 .5-55.7 .5 56 .5-69.7 .6 69.6 .4-76.8 .4 76.7 .4-57.8 .5 57.9 .4-73 .5 59.6 .5-75.4 .4 88.9 .4-74.2 .3 73.6 .6-65.5 .4 65.7 .6-48.2 .4 48.4 .3-78.1 .6 23.3 .5-32.8 .3 20.1 .6-5.2 .4 20.7 .4-27.7 .3 26.6 .7-34.9 .3 29.9 .6-21.2 .5 17.3 .4-24.3 .3 33.3 .6-26.5 .4 25.2 .5-20.5 .4 48.4 .4-58.1 .5 84.2 .4-89.2 .5 41.8 .3-42.1 .5 90 .4-76.4 .7 76 .3-83.4 .4 83.8 .5-68.3 .4 67.7 .4-72.1 .5 10.2 .5-11.1 .5 17.1 .3-13.5 .5 16 .6-30.3 .2 30.9 .5-20 .5 72.8 .4-86 .5 86.1 .4-82.8 .5 31.8 .5-30.8 .4 41 .6-40.1 .4 39.7M355.4 733.2l.6-29.4 .5 29.2 .4-32.7 .4 40.7 .3-33.5 .5 21.6 .6-19.6 .4 20.8 .4-27.5 .4 43.6 .4-40.5 .6 39.2 .3-40.1 .5 36.1 .5-44.7 .5 33.5 .4-25.4 .3 83.7 .5-73.4 .5 36.6 .4-53.9 .6 42.6 .3-19.7 .6 22.6 .4-36.7 .3 82 .6-74.3 .5 73.8 .3-74.8 .5 74.9 .4-56.6 .6 56.4 .4-94 .4 94.1 .5-78.2 .5 78.2 .3-85.7 .6 73.7 .4-69.4 .5 81.9 .4-79.3 .5 78.6 .3-44.2 .6 36.1 .4-67.2 .6 45.7 .3-36.8 .3 26.9 .5-38 .5 27.8 .5-30.9 .6 21.2 .4 2.2 .4 57.6 .3-91.1 .4 91.5 .6-81.2 .4 49.8 .4-41.5 .7 26.3 .3-20.1 .5 66.5 .3-79.5 .6 79.2 .4-79.2 .5 79.5 .3-54.4 .5 36.7 .5-71.4 .4 88.9 .6-71.1 .3 29 .6-21.4 .4 32.2 .4-30.3 .5 33.5 .3-44.7 .5 30.7 .4-16.7 .6 59 .5-65.4 .2 65 .6-69.1 .4 41.4 .4-52.9 .6 80.8 .5-83.8 .4 26.8 .5-14.2 .4 24.2 .3-34.6 .7 81.4 .2-62.7 .4 63 .6-58.5 .4 25.1 .4-46.6 .5 33.9 .5-39.3 .4 85.3 .5-78.1 .4 77.7 .4-66.7 .5 32.3 .5-34.6 .5 69.6 .5-67.5 .5 59.2 .3-82.3 .5 90.7 .3-85.4 .5 85.2 .5-52.6 .4 14.7 .5-26.5 .4 19.4 .4-22.3 .4 67.1 .5-57.1 .4 24 .7-38.6 .2 72.1 .6-75.6 .4 75 .4-67.1 .4 67.8 .5-79 .5 78.4 .4-68.5 .6 57.4 .5-46.4 .4 57.6 .5-65.8 .5 65.7 .2-64.7 .6 64.9 .4-64.1 .4 64 .5-72.8 .5 72.6 .3-71 .6 71.3 .4-69.7 .4 70.1 .5-81.2 .4 38.7 .4-27.6 .4 65.8 .7-53.9 .3 45 .5-45.2 .3 58.1 .6-59 .4 59 .4-53.9 .6 53.7 .4-57.5 .4 30.9 .4-32.4 .6 59.2 .3-72.4 .5 72.7 .5-72.8 .3 64.1 .6-51 .6 59.4 .4-56.6 .3 54.4 .5-37.4 .5 39.3 .4-64.6 .5 45.2 .4-61.7 .4 69.1 .4-68.6 .5 80.9 .5-55.6 .5 55.1 .3-64.5 .5 64.8 .5-76.8 .5 40.6 .4-31.8 .4 47.4 .4-50.8 .7 71.3 .3-83.6 .4 33.3 .4-13.6 .5 17.9 .4-45.3 .6 91.3 .5-86.4 .4 86.9 .5-81.8 .4 81.7 .4-50.9 .4 35.7 .6-54.8 .2 69.7 .6-72 .5 71.8 .4-71 .5 71.3 .3-68.7 .6 68.3 .4-69.8 .6 70.1 .2-41.5 .5 41.8 .4-62.6 .6 62.5 .4-66.1 .4 53.1 .5-48.7 .4 60.2 .6-52.1 .3 52.8 .6-48.8 .5 49.2 .3-65.1 .6 65.4 .3-56.2 .4 56.5 .5-67.4 .4 22.1 .6-3 .3 47.8 .4-70.6 .5 70.7M462 725.9l.5 62.2 .5-55.6 .5 29.1 .5-26 .4 21.5 .5-3.9 .5 34.7 .4-40.9 .4 40.9 .4-40.7 .3 40.6 .6-43.4 .5 43.8 .4-35.7 .5 35.2 .3-58.8 .6 59.2 .5-66.6 .3 66.4 .4-63.2 .6 63.1 .3-59.9 .5 60.5 .5-54.3 .4 53.6 .4-54.1 .4 54.6 .5-52.5 .6 52.7 .5-44 .4 43.2 .4-67.4 .5 67.4 .3-45.1 .6 45.5 .5-53.1 .2 53.1 .6-53.4 .4 48.8 .4-40.7 .6 45.1 .4-47.6 .4 47.8 .4-55.4 .5 55.6 .6-48.6 .3 48.3 .5-37.6 .5 38 .4-33.4 .5 33.3 .5-37.3 .4 26.5 .4-26.1 .5 26.9 .5-24.4 .4 34.3 .5-39.6 .4 39.8 .5-38.4 .3 34.9 .6-28.3 .3 12.6 .5-13.5 .4 32.1 .5-41.3 .5 41.5 .5-36.2 .5 36.3 .3-61.4 .4 61.3 .6-70.7 .5 70.8 .4-69.7 .4 36.8 .3-32.8 .5 66 .6-53.4 .3 53.4 .5-60.4 .4 60 .6-45.1 .3 18 .4-29 .6 18 .3-10.4 .5 21.6 .4-26.9 .4 53.6 .7-40.1M505.8 787.9l.3-69.5 .5 69.6 .6-61.6 .4 61.6 .5-44.1 .3 43.8 .4-30.7 .4 26.2 .7-26.4 .4 31.4 .3-51.9 .6 51.5 .5-43 .3 43.2 .5-66.3 .4 66.1 .5-76.9 .5 77.4 .4-56.6 .4 51.2 .6-72.9 .3 78.3 .5-63.6 .4 46.9 .6-55.1 .4 71.7 .4-67.5 .5 67 .4-47.2 .4 47.7 .4-55.4 .7 55.6 .4-40.1 .4 39.9 .4-48.3 .5 48.3 .4-62.2 .3 62.2 .5-55.2 .6 55.3 .5-60.4 .4 60.1 .3-65.5 .5 65.3 .5-57.9 .5 57.8 .5-53.3 .4 53.4 .5-44.6 .4 44.6 .4-53.2 .4 53 .6-54.7 .4 55.2 .3-60.7 .5 60.2 .5-49 .4 46.8M535.4 741.3l.5 9.7 .4 36.8 .6-74.6 .4 74.8 .4-74.6 .5 74.6 .5-73.8 .4 22.5 .5-19.2 .3 70.8 .6-73.2 .3 73.3 .5-63.7 .3 35.2 .7-9.5 .5 13.6 .4-46.3 .2 70 .6-63.5 .5 62.1 .3-59.6 .5 61.3 .5-56 .4 23.2 .4-41.9 .6 25.8 .4-22.2 .6 71.5 .3-72.7 .4 72.2 .6-72.9 .4 65.3 .5-55.9 .3 38.5 .6-43.1 .3 67.9 .6-46.7 .4 47 .3-57.4 .5 43.6 .5-42.4 .5 56.4 .3-54.4 .6 53.9 .5-52.2 .3 52.2 .5-57.4 .5 58 .3-54.4 .6 54.2 .4-52.4M562.9 741.6l.4 46.3 .5-42.2 .5 42.6 .3-42.8 .7 42.2 .4-63.8 .3 63.8 .6-35.3 .3-6.7 .5-18 .5 53.1 .5-53.9 .3 61.3 .6-58.6 .3 58.6 .4-68.7 .5 68.4 .5-76.9 .4 77.2 .5-60.7 .4 60.3 .4-62.2M575.9 780.3l.6-65.6 .3 73 .5-68.2 .5 68.3 .5-59.6 .4 59.7 .4-46.7 .5 47 .5-46.3 .4 45.8 .5-56.7 .4 56.7 .4-55.6M586 787.6l.2-57.6 .6 58.1 .3-53.1 .4 53.1 .7-47.1 .3 47.4 .6-25.1 .3 24.5 .6-18.7 .4 18.6 .4-29.6 .5 30.2 .4-37.1 .4 37 .4-37.2 .5 11 .6-20.9 .4 46.9 .3-44.3 .5 44.3 .5-56 .5 54.8 .3-47.2 .6 48.4 .5-68.3 .4 22.1 .4-23.1 .5 69.1 .4-61.7 .3 61 .6-64.7 .5 65.8 .5-62.4 .5 62.2 .4-64.7 .4 64.3 .4-40.9 .5 41.2 .4-55.7 .5 56.2 .4-51.3 .4 51.1 .5-46.4 .5 46.1 .5-51.5 .3 47.1 .5-55.5 .6 23.4 .3-30.3 .5 36.8 .4-25.9 .5 56.3 .4-60.6 .6 52.5 .2-65.1 .4 73.3 .6-49.1 .5 48.9 .4-37.1 .6 36.8 .4-62.9 .4 62.7 .4-65.2 .5 29.4 .4-18.4 .5 54.2 .3-77.1 .5 77.7 .4-74.2 .5 74 .6-58.6 .3 7.9 .6-11.9 .4 62.8 .3-68.1 .5 67.8 .4-73.3 .6 73.5 .3-63.6 .5 63.4 .4-76.5 .5 76.8 .5-75.4 .4 74.8 .4-71.5 .6 71.8 .4-66.9 .5 57.1 .4-53.8 .4 48.1 .4-29.8 .6 45.7 .5-54.7 .4 54.2 .4-56.2 .4 56.6 .6-65.5 .3 65 .4-52.4 .6 52.9 .4-59.3 .5 58.8 .4-52.6 .6 52.8 .3-52.2 .4 51.8 .4-44.6 .4 45.2 .5-47.1 .6 6.8 .3-14.2 .5 54.5 .6-70.2 .3 70.1 .5-67.9 .5 68.2 .3-52.6 .6 52.5 .4-70.3 .5 69.8 .3-61.3 .5 61.9 .5-59.2 .5 25.4 .3-37 .5 70.3 .4-70.2 .6 18.2 .4-23.3 .3 58.6 .5-51.9 .6 68.9 .3-67.9 .4 57.3 .5-60 .6 70.5 .4-49.5 .4 49.2 .5-66.1 .5 66.2 .3-63.4 .4 60.2 .6-48.6 .5 52.3 .5-71.7 .4 71.5 .5-64.5 .4 64.5 .4-61.2 .4 17.5 .5-17.7 .4 60.9 .6-45.8 .4 45.8 .4-58.7 .3 59.1 .6-56.5 .5 56.5 .3-59.3 .5 59.4 .5-88.1 .6 88.2 .2-75.9 .5 60.8 .4-34.7 .5 49.5 .4-73.6 .6 73.7 .4-46.9 .3 20 .7-32.7 .3 59.1 .6-64.6 .4 64.7 .4-47.9 .5 48.2 .3-49.3 .5 49 .6-55.7 .4 55.8 .4-62.6 .5 63.2 .4-49.5 .6 6.5 .3-19.3 .5 62.1 .3-49.5 .6 49.3 .3-54.1 .6 54 .5-51.3 .3 51.5 .4-52.8 .7 52.6 .3-58.3 .5 54.4 .5-45.3 .5 49.7 .4-41.6 .3 10.1 .5-26.3 .4 54.1 .5-37.6 .3 40.6 .7-42.1 .4 42.2 .5-46.9 .3 41 .5-41.3 .5 47.2 .4-31 .5 31.4M684.8 788.2l.6-32.4 .3 32.3 .6-57.6 .3 57.4 .5-33.9 .5 33.7 .5-60 .4 21.7 .4-24.6 .4 53.4 .5-37.1 .4 46.9 .5-78.9 .5 79.2 .3-77.1 .5 24.8 .5 2.2 .5 8.1 .5-37.3 .3 47 .5-37.1 .4 69.3 .5-57.2 .5 56.8 .5-72.8 .4 72.6 .4-60.8 .4 61.5 .5-78.7 .4 78.1 .6-68.3 .2 68.2 .6-50.2 .6 50.8 .3-62.2 .5 61.8 .5-59.5 .3 59.8 .4-64.8 .6 64.5 .4-66.3 .5 66.7 .4-55.7 .5 3.7 .4-16.7 .4 68.3 .4-59.6 .6 26.3 .5-39.7 .3 73.4 .6-70.6 .2 70.3 .7-64.4 .4 32.3 .4-49 .4 81 .4-79 .5 79.2 .6-64.8 .3 18.3 .4-9.4 .6 56.2 .5-89 .3 88.4 .5-73.1 .5 73.3 .4-81.5 .5 81.4 .5-54.9 .4 54.7 .5-65.2 .5 47.4 .4-50.2 .4 68.5 .4-67.1 .4 67.2 .6-58.4 .4 58.1 .4-56.3 .5 56.8 .4-55.1 .6 54.5 .3-65.2 .5 65.1 .4-64.3 .5 64.5 .4-42.9 .5 33.4 .3-57.9 .5 22 .6-20.4 .3 65.6 .5-62.4 .5 62.5 .4-57.2 .5 57.1 .3-44.2 .5 44.6 .6-64.1 .4 64 .5-47.6 .4 47.7 .5-74.6 .4 74.8 .3-73.7 .5 56.8 .5-35.6 .4 25.1 .6-35.4 .4 21.9 .4-14.7 .5 55.2 .4-59.6 .5 60 .3-50 .5 49.5 .6-68.8 .4 68.9 .4-63.5 .5 64 .3-50.8 .5 50.1 .5-50.9 .5 51.6 .5-51.8 .3 30.9 .5-32.2 .4 52.8 .5-63.7 .5 63.3 .5-55.3 .3 55.4 .5-66.1 .5 37.4 .4-43.1 .4 72.3 .6-60.6 .3 60.6 .5-63.1 .4 63.1 .4-67.2 .6 67 .4-56.3 .5 55.9 .3-61.4 .6 27 .3-14.4 .5 49.5 .4-42.3 .5 42.3 .6-38 .3 37.4 .5-65.4 .4 65.8 .5-67.9 .4 67.4 .5-47.5 .5 47.9 .5-54.5 .4 54.6 .3-44.5 .6 44.1 .3-34.8 .5 34.6 .4-24.1 .4 24.7 .7-37.3 .4 37.5 .5-26.5 .3 26.5 .5-32.2 .5 31.9 .3-44.3 .6 44.1 .4-59.8 .3 45.5 .5-21.1 .5 35.7 .5-29.8 .3 29.3 .5-40.3 .5 40.4 .6-62.8 .2 62.9 .5-54.2 .5 54.3 .5-56.3 .5 56.7 .5-49 .4 48.9 .3-67.4 .6 66.8 .5-56.6 .3 56.8 .6-56.5 .3 25 .5-18.1 .5 50M777.2 735.9l.3 52.5 .5-42.6 .3 6.7 .5-20.9 .5 56.3 .6-48.4 .3 17.5 .6-13.3 .3 44 .5-35.7 .4 34.1 .6-50.2 .3 28.7 .5-29.5 .3 53 .6-56.4 .5 32.5 .5-28.6 .3 52.4 .5-35.9 .4 36.1 .5-44.9 .5 44.7 .4-51.5 .5 51.7 .3-53.5 .5 53.1 .6-46 .3 24.3 .5-34.7 .4 56.8 .5-76.2 .3 43.7 .6-34.3 .4 47.9 .4-55 .6 70.6 .3-73.1 .4 76.1 .5-70.6 .5 70.4 .4-51.9 .6 50.2 .5-41.5 .2 43.3 .6-62.4 .5 62.9 .5-70 .4 69.7 .3-51 .5 13.6 .5 4 .5 33.2 .3-60.1 .5 60.6 .5-73.4 .5 64.1 .4-62.3 .3 71.3 .7-60.7 .4 5.5 .3-7.4 .6 43.7 .4-61 .4 80 .5-74.3 .4 74.3 .4-64.5 .6 64 .5-69.7 .3 47.1 .4-48.5 .5 71.7 .6-63.9 .3 63.9 .5-67.2 .5 15.8 .5-15 .4 40.9 .3-37.6 .6 63.2 .4-80.8 .5 80.5 .4-84.3 .5 84 .5-88.3 .4 35.5 .4-20.3 .5 73.4 .3-62.7 .6 62.7 .4-67.9 .3 39.5 .6-26.3 .4 27.9 .4-42.4 .4 39.6 .7-28.1 .4 12.3 .3-9 .7 7.4 .2-17.3 .5 33.9 .8-51" stroke="#000" stroke-width="2.6" stroke-linejoin="round"/>
<path d="M200 822.5L206 822.5" stroke-width="1.3" stroke="#000"/>
<path d="M914 822.5L909 822.5" stroke-width="1.3" stroke="#000"/>
<text x="194" y="829.8" font-size="19.44" text-anchor="end">10<tspan font-size="13.61" dy="-7.19">0</tspan></text>
<path d="M200 805.5L204 805.5" stroke-width="1.05" stroke="#000"/>
<path d="M914 805.5L911 805.5" stroke-width="1.05" stroke="#000"/>
<path d="M200 795.5L204 795.5" stroke-width="1.05" stroke="#000"/>
<path d="M914 795.5L911 795.5" stroke-width="1.05" stroke="#000"/>
<path d="M200 787.5L204 787.5" stroke-width="1.05" stroke="#000"/>
<path d="M914 787.5L911 787.5" stroke-width="1.05" stroke="#000"/>
<path d="M200 782.5L204 782.5" stroke-width="1.05" stroke="#000"/>
<path d="M914 782.5L911 782.5" stroke-width="1.05" stroke="#000"/>
<path d="M200 777.5L204 777.5" stroke-width="1.05" stroke="#000"/>
<path d="M914 777.5L911 777.5" stroke-width="1.05" stroke="#000"/>
<path d="M200 774.5L204 774.5" stroke-width="1.05" stroke="#000"/>
<path d="M914 774.5L911 774.5" stroke-width="1.05" stroke="#000"/>
<path d="M200 770.5L204 770.5" stroke-width="1.05" stroke="#000"/>
<path d="M914 770.5L911 770.5" stroke-width="1.05" stroke="#000"/>
<path d="M200 767.5L204 767.5" stroke-width="1.05" stroke="#000"/>
<path d="M914 767.5L911 767.5" stroke-width="1.05" stroke="#000"/>
<path d="M200 765.5L206 765.5" stroke-width="1.3" stroke="#000"/>
<path d="M914 765.5L909 765.5" stroke-width="1.3" stroke="#000"/>
<text x="194" y="772.47" font-size="19.44" text-anchor="end">10<tspan font-size="13.61" dy="-7.19">1</tspan></text>
<path d="M200 747.5L204 747.5" stroke-width="1.05" stroke="#000"/>
<path d="M914 747.5L911 747.5" stroke-width="1.05" stroke="#000"/>
<path d="M200 737.5L204 737.5" stroke-width="1.05" stroke="#000"/>
<path d="M914 737.5L911 737.5" stroke-width="1.05" stroke="#000"/>
<path d="M200 730.5L204 730.5" stroke-width="1.05" stroke="#000"/>
<path d="M914 730.5L911 730.5" stroke-width="1.05" stroke="#000"/>
<path d="M200 725.5L204 725.5" stroke-width="1.05" stroke="#000"/>
<path d="M914 725.5L911 725.5" stroke-width="1.05" stroke="#000"/>
<path d="M200 720.5L204 720.5" stroke-width="1.05" stroke="#000"/>
<path d="M914 720.5L911 720.5" stroke-width="1.05" stroke="#000"/>
<path d="M200 716.5L204 716.5" stroke-width="1.05" stroke="#000"/>
<path d="M914 716.5L911 716.5" stroke-width="1.05" stroke="#000"/>
<path d="M200 713.5L204 713.5" stroke-width="1.05" stroke="#000"/>
<path d="M914 713.5L911 713.5" stroke-width="1.05" stroke="#000"/>
<path d="M200 710.5L204 710.5" stroke-width="1.05" stroke="#000"/>
<path d="M914 710.5L911 710.5" stroke-width="1.05" stroke="#000"/>
<path d="M200 707.5L206 707.5" stroke-width="1.3" stroke="#000"/>
<path d="M914 707.5L909 707.5" stroke-width="1.3" stroke="#000"/>
<text x="194" y="715.13" font-size="19.44" text-anchor="end">10<tspan font-size="13.61" dy="-7.19">2</tspan></text>
<path d="M200 690.5L204 690.5" stroke-width="1.05" stroke="#000"/>
<path d="M914 690.5L911 690.5" stroke-width="1.05" stroke="#000"/>
<path d="M200 680.5L204 680.5" stroke-width="1.05" stroke="#000"/>
<path d="M914 680.5L911 680.5" stroke-width="1.05" stroke="#000"/>
<path d="M200 673.5L204 673.5" stroke-width="1.05" stroke="#000"/>
<path d="M914 673.5L911 673.5" stroke-width="1.05" stroke="#000"/>
<path d="M200 667.5L204 667.5" stroke-width="1.05" stroke="#000"/>
<path d="M914 667.5L911 667.5" stroke-width="1.05" stroke="#000"/>
<path d="M200 663.5L204 663.5" stroke-width="1.05" stroke="#000"/>
<path d="M914 663.5L911 663.5" stroke-width="1.05" stroke="#000"/>
<path d="M200 659.5L204 659.5" stroke-width="1.05" stroke="#000"/>
<path d="M914 659.5L911 659.5" stroke-width="1.05" stroke="#000"/>
<path d="M200 656.5L204 656.5" stroke-width="1.05" stroke="#000"/>
<path d="M914 656.5L911 656.5" stroke-width="1.05" stroke="#000"/>
<path d="M200 653.5L204 653.5" stroke-width="1.05" stroke="#000"/>
<path d="M914 653.5L911 653.5" stroke-width="1.05" stroke="#000"/>
<path d="M200 650.5L206 650.5" stroke-width="1.3" stroke="#000"/>
<path d="M914 650.5L909 650.5" stroke-width="1.3" stroke="#000"/>
<text x="194" y="657.8" font-size="19.44" text-anchor="end">10<tspan font-size="13.61" dy="-7.19">3</tspan></text>
<path d="M200 633.5L204 633.5" stroke-width="1.05" stroke="#000"/>
<path d="M914 633.5L911 633.5" stroke-width="1.05" stroke="#000"/>
<path d="M200 623.5L204 623.5" stroke-width="1.05" stroke="#000"/>
<path d="M914 623.5L911 623.5" stroke-width="1.05" stroke="#000"/>
<path d="M200 615.5L204 615.5" stroke-width="1.05" stroke="#000"/>
<path d="M914 615.5L911 615.5" stroke-width="1.05" stroke="#000"/>
<path d="M200 610.5L204 610.5" stroke-width="1.05" stroke="#000"/>
<path d="M914 610.5L911 610.5" stroke-width="1.05" stroke="#000"/>
<path d="M200 605.5L204 605.5" stroke-width="1.05" stroke="#000"/>
<path d="M914 605.5L911 605.5" stroke-width="1.05" stroke="#000"/>
<path d="M200 602.5L204 602.5" stroke-width="1.05" stroke="#000"/>
<path d="M914 602.5L911 602.5" stroke-width="1.05" stroke="#000"/>
<path d="M200 598.5L204 598.5" stroke-width="1.05" stroke="#000"/>
<path d="M914 598.5L911 598.5" stroke-width="1.05" stroke="#000"/>
<path d="M200 595.5L204 595.5" stroke-width="1.05" stroke="#000"/>
<path d="M914 595.5L911 595.5" stroke-width="1.05" stroke="#000"/>
<path d="M200 593.5L206 593.5" stroke-width="1.3" stroke="#000"/>
<path d="M914 593.5L909 593.5" stroke-width="1.3" stroke="#000"/>
<text x="194" y="600.47" font-size="19.44" text-anchor="end">10<tspan font-size="13.61" dy="-7.19">4</tspan></text>
<path d="M200 575.5L204 575.5" stroke-width="1.05" stroke="#000"/>
<path d="M914 575.5L911 575.5" stroke-width="1.05" stroke="#000"/>
<path d="M200 565.5L204 565.5" stroke-width="1.05" stroke="#000"/>
<path d="M914 565.5L911 565.5" stroke-width="1.05" stroke="#000"/>
<path d="M200 558.5L204 558.5" stroke-width="1.05" stroke="#000"/>
<path d="M914 558.5L911 558.5" stroke-width="1.05" stroke="#000"/>
<path d="M200 553.5L204 553.5" stroke-width="1.05" stroke="#000"/>
<path d="M914 553.5L911 553.5" stroke-width="1.05" stroke="#000"/>
<path d="M200 548.5L204 548.5" stroke-width="1.05" stroke="#000"/>
<path d="M914 548.5L911 548.5" stroke-width="1.05" stroke="#000"/>
<path d="M200 544.5L204 544.5" stroke-width="1.05" stroke="#000"/>
<path d="M914 544.5L911 544.5" stroke-width="1.05" stroke="#000"/>
<path d="M200 541.5L204 541.5" stroke-width="1.05" stroke="#000"/>
<path d="M914 541.5L911 541.5" stroke-width="1.05" stroke="#000"/>
<path d="M200 538.5L204 538.5" stroke-width="1.05" stroke="#000"/>
<path d="M914 538.5L911 538.5" stroke-width="1.05" stroke="#000"/>
<path d="M200 535.5L206 535.5" stroke-width="1.3" stroke="#000"/>
<path d="M914 535.5L909 535.5" stroke-width="1.3" stroke="#000"/>
<text x="194" y="543.13" font-size="19.44" text-anchor="end">10<tspan font-size="13.61" dy="-7.19">5</tspan></text>
<path d="M200 518.5L204 518.5" stroke-width="1.05" stroke="#000"/>
<path d="M914 518.5L911 518.5" stroke-width="1.05" stroke="#000"/>
<path d="M200 508.5L204 508.5" stroke-width="1.05" stroke="#000"/>
<path d="M914 508.5L911 508.5" stroke-width="1.05" stroke="#000"/>
<path d="M200 501.5L204 501.5" stroke-width="1.05" stroke="#000"/>
<path d="M914 501.5L911 501.5" stroke-width="1.05" stroke="#000"/>
<path d="M200 495.5L204 495.5" stroke-width="1.05" stroke="#000"/>
<path d="M914 495.5L911 495.5" stroke-width="1.05" stroke="#000"/>
<path d="M200 491.5L204 491.5" stroke-width="1.05" stroke="#000"/>
<path d="M914 491.5L911 491.5" stroke-width="1.05" stroke="#000"/>
<path d="M200 487.5L204 487.5" stroke-width="1.05" stroke="#000"/>
<path d="M914 487.5L911 487.5" stroke-width="1.05" stroke="#000"/>
<path d="M200 484.5L204 484.5" stroke-width="1.05" stroke="#000"/>
<path d="M914 484.5L911 484.5" stroke-width="1.05" stroke="#000"/>
<path d="M200 481.5L204 481.5" stroke-width="1.05" stroke="#000"/>
<path d="M914 481.5L911 481.5" stroke-width="1.05" stroke="#000"/>
<path d="M200 478.5L206 478.5" stroke-width="1.3" stroke="#000"/>
<path d="M914 478.5L909 478.5" stroke-width="1.3" stroke="#000"/>
<text x="194" y="485.8" font-size="19.44" text-anchor="end">10<tspan font-size="13.61" dy="-7.19">6</tspan></text>
<path d="M248.5 822L248.5 816.8" stroke-width="1.3" stroke="#000"/>
<path d="M338.5 822L338.5 816.8" stroke-width="1.3" stroke="#000"/>
<path d="M427.5 822L427.5 816.8" stroke-width="1.3" stroke="#000"/>
<path d="M516.5 822L516.5 816.8" stroke-width="1.3" stroke="#000"/>
<path d="M606.5 822L606.5 816.8" stroke-width="1.3" stroke="#000"/>
<path d="M695.5 822L695.5 816.8" stroke-width="1.3" stroke="#000"/>
<path d="M784.5 822L784.5 816.8" stroke-width="1.3" stroke="#000"/>
<path d="M873.5 822L873.5 816.8" stroke-width="1.3" stroke="#000"/>
<rect x="200" y="478" width="714" height="344" fill="none" stroke="#000" stroke-width="2.0"/>
<text x="236" y="511.5" font-size="24">Geostationary orbit:</text>
<text x="500" y="511.5" font-size="24">GOES 16</text>
<text x="629" y="511.5" font-size="24" fill="#f00">Model</text>
<text x="112.6" y="651.7" font-size="24" text-anchor="middle" transform="rotate(-90 112.6 651.7)">&gt;2.0 MeV Electron Flux</text>
<text x="146.3" y="651" font-size="24" text-anchor="middle" transform="rotate(-90 146.3 651)">( cm<tspan font-size="16.8" dy="-9.7" dx="-0.4">−2</tspan><tspan dy="9.7" dx="5.2">s</tspan><tspan font-size="16.8" dy="-9.7" dx="-0.8">−1</tspan><tspan dy="9.7" dx="5.5">sr</tspan><tspan font-size="16.8" dy="-9.7" dx="-0.1">−1</tspan><tspan dy="9.7" dx="1.6"> )</tspan></text>
</g>
<g id="p3">
<rect x="204" y="998" width="9" height="19" fill="#008000"/>
<rect x="215" y="1004" width="9" height="13" fill="#008000"/>
<rect x="226" y="992" width="9" height="25" fill="#008000"/>
<rect x="237" y="992" width="9" height="25" fill="#008000"/>
<rect x="249" y="992" width="9" height="25" fill="#008000"/>
<rect x="260" y="979" width="9" height="38" fill="#008000"/>
<rect x="271" y="960" width="9" height="57" fill="#bfbf00"/>
<rect x="282" y="947" width="9" height="70" fill="#bfbf00"/>
<rect x="293" y="972" width="9" height="45" fill="#008000"/>
<rect x="304" y="985" width="9" height="32" fill="#008000"/>
<rect x="316" y="998" width="9" height="19" fill="#008000"/>
<rect x="327" y="972" width="9" height="45" fill="#008000"/>
<rect x="338" y="972" width="9" height="45" fill="#008000"/>
<rect x="360" y="1004" width="9" height="13" fill="#008000"/>
<rect x="382" y="1012" width="9" height="5" fill="#008000"/>
<rect x="405" y="979" width="9" height="38" fill="#008000"/>
<rect x="416" y="941" width="9" height="76" fill="#bfbf00"/>
<rect x="427" y="953" width="9" height="64" fill="#bfbf00"/>
<rect x="438" y="972" width="9" height="45" fill="#008000"/>
<rect x="449" y="966" width="9" height="51" fill="#008000"/>
<rect x="461" y="953" width="9" height="64" fill="#bfbf00"/>
<rect x="472" y="966" width="9" height="51" fill="#008000"/>
<rect x="483" y="1012" width="9" height="5" fill="#008000"/>
<rect x="494" y="1004" width="9" height="13" fill="#008000"/>
<rect x="505" y="1004" width="9" height="13" fill="#008000"/>
<rect x="516" y="1012" width="9" height="5" fill="#008000"/>
<rect x="528" y="966" width="9" height="51" fill="#008000"/>
<rect x="539" y="960" width="9" height="57" fill="#bfbf00"/>
<rect x="550" y="941" width="9" height="76" fill="#bfbf00"/>
<rect x="561" y="941" width="9" height="76" fill="#bfbf00"/>
<rect x="572" y="928" width="9" height="89" fill="#bfbf00"/>
<rect x="583" y="966" width="9" height="51" fill="#008000"/>
<rect x="594" y="979" width="9" height="38" fill="#008000"/>
<rect x="606" y="979" width="9" height="38" fill="#008000"/>
<rect x="617" y="998" width="9" height="19" fill="#008000"/>
<rect x="628" y="1012" width="9" height="5" fill="#008000"/>
<rect x="639" y="960" width="9" height="57" fill="#bfbf00"/>
<rect x="650" y="966" width="9" height="51" fill="#008000"/>
<rect x="661" y="998" width="9" height="19" fill="#008000"/>
<rect x="673" y="966" width="9" height="51" fill="#008000"/>
<rect x="684" y="966" width="9" height="51" fill="#008000"/>
<rect x="695" y="966" width="9" height="51" fill="#008000"/>
<rect x="706" y="979" width="9" height="38" fill="#008000"/>
<rect x="717" y="972" width="9" height="45" fill="#008000"/>
<rect x="728" y="966" width="9" height="51" fill="#008000"/>
<rect x="739" y="953" width="9" height="64" fill="#bfbf00"/>
<rect x="751" y="960" width="9" height="57" fill="#bfbf00"/>
<rect x="762" y="972" width="9" height="45" fill="#008000"/>
<rect x="773" y="979" width="9" height="38" fill="#008000"/>
<rect x="784" y="972" width="9" height="45" fill="#008000"/>
<rect x="795" y="985" width="9" height="32" fill="#008000"/>
<rect x="806" y="985" width="9" height="32" fill="#008000"/>
<rect x="818" y="1012" width="9" height="5" fill="#008000"/>
<rect x="829" y="1012" width="9" height="5" fill="#008000"/>
<rect x="840" y="1012" width="9" height="5" fill="#008000"/>
<rect x="851" y="1012" width="9" height="5" fill="#008000"/>
<rect x="862" y="1012" width="9" height="5" fill="#008000"/>
<rect x="873" y="1012" width="9" height="5" fill="#008000"/>
<rect x="885" y="1012" width="9" height="5" fill="#008000"/>
<rect x="896" y="1012" width="9" height="5" fill="#008000"/>
<path d="M825.5 1017L825.5 845" stroke="#000" stroke-width="2.78" stroke-dasharray="2.78 4.59" stroke-dashoffset="0.8"/>
<text x="874.6" y="1000" font-size="30.56" transform="rotate(-90 874.6 1000)" fill-opacity="0.2">Forecast</text>
<path d="M200 1017.5L206 1017.5" stroke-width="1.3" stroke="#000"/>
<path d="M914 1017.5L909 1017.5" stroke-width="1.3" stroke="#000"/>
<text x="195" y="1025" font-size="19.44" text-anchor="end">0</text>
<path d="M200 979.5L206 979.5" stroke-width="1.3" stroke="#000"/>
<path d="M914 979.5L909 979.5" stroke-width="1.3" stroke="#000"/>
<text x="195" y="986.78" font-size="19.44" text-anchor="end">2</text>
<path d="M200 941.5L206 941.5" stroke-width="1.3" stroke="#000"/>
<path d="M914 941.5L909 941.5" stroke-width="1.3" stroke="#000"/>
<text x="195" y="948.56" font-size="19.44" text-anchor="end">4</text>
<path d="M200 902.5L206 902.5" stroke-width="1.3" stroke="#000"/>
<path d="M914 902.5L909 902.5" stroke-width="1.3" stroke="#000"/>
<text x="195" y="910.33" font-size="19.44" text-anchor="end">6</text>
<path d="M200 864.5L206 864.5" stroke-width="1.3" stroke="#000"/>
<path d="M914 864.5L909 864.5" stroke-width="1.3" stroke="#000"/>
<text x="195" y="872.11" font-size="19.44" text-anchor="end">8</text>
<path d="M248.5 1017L248.5 1011.8" stroke-width="1.3" stroke="#000"/>
<text x="248.34" y="1036.6" font-size="19.44" text-anchor="middle">31</text>
<path d="M338.5 1017L338.5 1011.8" stroke-width="1.3" stroke="#000"/>
<text x="337.59" y="1036.6" font-size="19.44" text-anchor="middle">01</text>
<path d="M427.5 1017L427.5 1011.8" stroke-width="1.3" stroke="#000"/>
<text x="426.84" y="1036.6" font-size="19.44" text-anchor="middle">02</text>
<path d="M516.5 1017L516.5 1011.8" stroke-width="1.3" stroke="#000"/>
<text x="516.09" y="1036.6" font-size="19.44" text-anchor="middle">03</text>
<path d="M606.5 1017L606.5 1011.8" stroke-width="1.3" stroke="#000"/>
<text x="605.34" y="1036.6" font-size="19.44" text-anchor="middle">04</text>
<path d="M695.5 1017L695.5 1011.8" stroke-width="1.3" stroke="#000"/>
<text x="694.59" y="1036.6" font-size="19.44" text-anchor="middle">05</text>
<path d="M784.5 1017L784.5 1011.8" stroke-width="1.3" stroke="#000"/>
<text x="783.84" y="1036.6" font-size="19.44" text-anchor="middle">06</text>
<path d="M873.5 1017L873.5 1011.8" stroke-width="1.3" stroke="#000"/>
<text x="873.09" y="1036.6" font-size="19.44" text-anchor="middle">07</text>
<rect x="200" y="845" width="714" height="172" fill="none" stroke="#000" stroke-width="2.0"/>
<rect x="207.5" y="852.5" width="100" height="66.7" rx="2.8" fill="#fff" fill-opacity="0.8" stroke="#ccc" stroke-opacity="0.8" stroke-width="1.4"/>
<rect x="213" y="859" width="28" height="11" rx="0.6" fill="#008000"/>
<text x="251.7" y="869.1" font-size="13.89" letter-spacing="-0.2">Kp&lt;3</text>
<rect x="213" y="880" width="28" height="11" rx="0.6" fill="#bfbf00"/>
<text x="251.7" y="890.1" font-size="13.89" letter-spacing="-0.2">Kp&lt;5</text>
<rect x="213" y="901" width="28" height="11" rx="0.6" fill="#ff0000"/>
<text x="251.7" y="911.1" font-size="13.89" letter-spacing="-0.2">Kp&gt;=5</text>
<text x="173.3" y="935.2" font-size="24" text-anchor="middle" transform="rotate(-90 173.3 935.2)">Kp</text>
<text x="557" y="1065.7" font-size="24" text-anchor="middle" xml:space="preserve">October/November </text>
<text x="557" y="1093.7" font-size="24" text-anchor="middle">2024 (UT)</text>
</g>
<g id="r1">
<path d="M1205 282.1L1800 282.1" stroke="#000" stroke-width="2.08" stroke-dasharray="2.08 3.43" stroke-dashoffset="-1"/>
<path d="M1205.3 287l.3-53.6 .4 26.5 .2-5.9 .3 18.9 .3 9.8 .3-32.3 .2 36.6 .4-43.5 .4 24.9 .2-7.4 .4 19.8 .2-26.5 .2 32.7 .4 0 .4-22.6 .2 17.2 .3-36.1 .3 32.1 .2-17.5 .3 33.8 .3-20 .4-14.6 .3 14.7 .3-2 .4 37.4 .1-16.1 .3 19.7 .3-53.9 .4 49.4 .4-59 .2 30.2 .4-38.4 .2 13.7 .4 31.8 .3-57.4 .2 49.7 .4-26.6 .2 22.3 .3-.3 .3-19.6 .3 16.7 .3-20.4 .4-2.5 .2 0 .3-5.7 .3 25.4 .3-19.9 .2-11.6 .4-2.6 .3 3.8 .2-17.9 .4 5.7 .2 22.7 .4-18 .3 5.3 .2-3.2 .3-3.9 .4 20.2 .3-3.8 .3 19.5 .3-10.8 .3 9.2 .3-11.2 .3 25.2 .2 1.4 .4-1.4 .3-6.1 .4-16.3 .1 29.6 .5-34 .1-3.9 .4 31.5 .3-29.5 .2 29.3 .4-18.8 .3-3.3 .2-8.2 .4 25 .3-30.3 .3 29.1 .2-25.8 .4 25.5 .3-22.2 .2-1.8 .5-18.3 .2 9.6 .3-8.4 .3 .1 .2 27.1 .3-27.3 .3 13 .5-.1 .3 17.1 .2-27.1 .3 15.5 .3-15.2 .4 7.7 .1-1.9 .4 13.5 .2-.5 .4 20.7 .4-21 .1-17 .4 48 .3-24.5 .3 12.1 .3-13.2 .3 25.7 .3-22.3 .2 22.3 .4-32.8 .4 17.5 .3-24 .1 72.1 .5-82.7 .1 81 .4-75.9 .4 66.5 .1-46.3 .4 18.5 .3-5.9 .3 29 .3-45.7 .2 38.7 .4-35.3 .4 20.1 .1 5.9 .4 3.2 .3-28.3 .4 18.3 .3-7.7 .2 22.4 .3-35.6 .3 8.1 .3 29.8 .3-42.6 .3 44.5 .4-53.7 .3 42.5 .1-42.9 .4 17.2 .4 41.3 .2-.2 .3-20.2 .2 14.6 .4 4.5 .2-42.6 .3 19.5 .5-8.6 .2-15.6 .4 10 .2 11.3 .2-25.2 .4 22.6 .3 1.8 .2-7.7 .3-24.6 .4 10.3 .4 32.3 .3-22.8 .2 29.8 .3-32 .3 43.7 .3-49.2 .2 61.9 .5-19.2 .3-19 .2-21.9 .4-10.6 .3 63.2 .2-40 .3 33.2 .3-27.7 .2 49.7 .4-54.6 .2 14.6 .5-25.3 .1 43.8 .4-51.7 .2 66.6 .3-50.1 .3 68.2 .5-97 .2 26.5 .3-17.3 .4 66.1 .2-37.5 .3-25.7 .3 62.3 .3-45.8 .2 51 .4-70.9 .4 22.4 .2 32 .3-18.3 .2 21.9 .4-46 .3 46.5 .3-33.4 .3-26.5 .2 26.3 .3 .9 .3-23 .5 22.1 .1 20.9 .3 23.5 .3-18.1 .4-14 .3 24.3 .3-25.2 .2 12 .4 1.3 .2 3 .4-11.2 .3 28.1 .2-4.1 .5 14.4 .2 14.8 .3-22.9 .3 25.8 .2-42.4 .4 3.7 .3 22.4 .4-4.6 .3-7.3 .3 20.7 .3-22.8 .2 21 .3-20.8 .3 1.2 .3-.6 .4 34.5 .1-22.6 .4 16.4 .4-22.3 .2 26.6 .3-34.3 .4 18.4 .2-7.6 .4 13.7 .2-19.5 .4 15.1 .3-6.8 .2 2.2 .2-13.6 .3-2.6 .5 .7 .2-.4 .3-23.2 .3 3.8 .3-38.9 .2 40 .5-44 .2 15.8 .3 18.3 .2-15.4 .4 33.6 .4-50 .2 25.5 .3-37.3 .3 12.4 .2-13.7 .4 23.6 .3-16.8 .3 16.9 .4 7.5 .2 21.7 .2-53.2 .5 47.5 .2-26 .3 27.5 .2-12.1 .5-2.9 .1 12.5 .3-12.4 .4 10.4 .3-1 .3-14 .3-6.2 .2 17.5 .4-13.9 .3 5.9 .4-19.6 .2 21.7 .4-9 .3-2.7 .1 7.6 .3 5.8 .3-20.3 .4-20.2 .3 24.3 .2-25.7 .5 20.7 .2-22.9 .4 6.4 .2 11.4 .2 9.2 .3-21 .5 23.9 .1 .6 .5 9.8 .1-27.5 .5 8.4 .1-12.1 .4 11.6 .3 11.9 .4-17.5 .3-26.3 .2 12.1 .3-13.2 .3 13.2 .3-14.5 .4 12.3 .2-11.5 .3-2.7 .4 7.7 .2-8.9 .3 39.5 .3-40.8 .3 29.8 .2-30.9 .4 16.6 .3 17.6 .3-31.7 .3-5.1 .4 34.3 .2-33.5 .4 42 .2-36.2 .3 15.7 .3 17 .4-22.3 .1 39.5 .4-37.7 .3 36 .2-27.5 .4 7.1 .3-24 .2 27.7 .4 20.5 .3-35.6 .3-10.5 .3 21.8 .2-3.2 .4 45.9 .2-52.9 .5 31.7 .2 4.8 .2-19.4 .5 29.9 .1 13.4 .4-44.2 .2 65.5 .4-79.5 .3 65.2 .2 7.1 .4 15.7 .3-7.5 .4-7 .1 11.7 .5-32.7 .2 45.1 .2-46.8 .4 22.7 .2-10.2 .4 41.2 .3-32.8 .3 6.2 .4 20.7 .1-35.9 .5 5.1 .2-13 .3-3.4 .3-18.2 .4 10.6 .2-3 .2 17.6 .3-13.6 .3 20.9 .4-24.9 .2 20.5 .3-41.2 .5 8 .1-1.4 .4 .8 .4 8.2 .2-28.6 .3 11.3 .3-5.3 .3 8.1 .2-20.3 .4 23.6 .4-25.7 .2 3.1 .3 4.4 .3-6.6 .3 5.1 .3-10 .3 15 .3 5.6 .3 4.2 .3-24 .3 32.8 .2-28.3 .4 9.1 .2-6.6 .5-1.2 .2 30.4 .4-23.1 .2 7.5 .3-10.4 .2 13.9 .4-6.5 .2-4.4 .4 3.2 .2 14.1 .4-13.8 .3 7.9 .2-8.6 .5-.1 .2-1.4 .2 12 .4-8.1 .2 13.4 .4-11.5 .3 13.5 .4-16.3 .3 3 .2 9.3 .4-1.4 .2 5.8 .4-15.7 .1 29.7 .5-14 .2 16 .3-1.5 .3 4 .3-23.8 .2 48.7 .4-48.5 .3 32.6 .4-6.1 .1 .9 .4-17.8 .3-17.1 .3 10.1 .3 0 .3 8.7 .3-6.7 .3 6 .3-7.6 .3-10.5 .3 1.8 .3-1.1 .2 .9 .5-.2 .2 7 .3-6.4 .4 6.9 .3-6 .3 10.5 .1-4.9 .4-4 .4 5.5 .1-5.5 .4 3.6 .3 5.8 .3 .6 .3 7.8 .3 2.3 .4 1.6 .2 1.3 .3-11.2 .3 1.8 .4-.7 .3 0 .1 4.6 .4-7.9 .3 .4 .3 5.9 .4 1.5 .2 6.1 .2-11.1 .4 2.4 .2 8.2 .4-11.8 .3 3.1 .4-12.9 .2 14.4 .3-7.5 .2 9.8 .3-17.1 .4 21.8 .3-24.6 .3 12.5 .3-7.8 .3 8.9 .3 5.2 .3-6.7 .3 5.1 .4-15 .1 25.5 .3-21 .5 12.1 .2-9.3 .4 13.5 .2 2.6 .3-12.7 .2 17.7 .4 .3 .4 1.6 .3-3.5 .2 7.3 .2-14.5 .5-1.7 .2 14.2 .3-14.6 .3-4.7 .3 9.6 .2-8.9 .3-19.3 .4-2 .3-2.2 .3-1.4 .3 12.8 .3-23.6 .3 10.2 .3-5.4 .3-8.9 .2-7.5 .4 12.2 .3-16 .3 14.1 .3-14.8 .3 13.5 .3-5.7 .3-1.3 .2 15.9 .5-11.3 .3 16.6 .2-21.4 .3-8.4 .3 14.5 .3-8.1 .3-2.1 .3 14.1 .3-.4 .3 4.1 .3-18.6 .3 11.1 .3 16.9 .3-7.8 .4 4.7 .1 7.2 .4-12.6 .4 31.5 .1-15.5 .4 23.1 .4 4.5 .2-17.3 .3 11.4 .3-6.6 .3 15 .3-3 .3 8.2 .3 6.8 .3-1.1 .3-3.4 .3 11.1 .3-2.3 .3-.4 .2 2.8 .3-1 .4 1.7 .3 1.1 .3 4.2 .2-2.4 .5 7.4 .2 6.7 .3-.6 .2 10.8 .3-3 .4 11.4 .3-5.6 .3 9.2 .3-23.2 .2 25.7 .4-26.2 .2 7.3 .4 26.2 .3-25.9 .3 28.1 .3-11.7 .2 6.7 .5-6 .1 11.4 .3 4 .4-4.4 .3-9.9 .4 16.4 .3-2.5 .2-17.3 .2-7.4 .4 17.9 .3-97.9 .3 80.7 .3 21.1 .2-9.8 .4 21.3 .4-69.7 .2 78.3 .3-11.5 .2 16.4 .4-29.9 .3-9.6 .3 15 .2-27.3 .3 9.2 .4-11.5 .3 14.1 .3-32.5 .4 7.8 .2-8.3 .3-16.9 .4 20.9 .2-13.9 .3 55.3 .3-42.7 .3 23.3 .2-83.8 .4 56 .3-16.9 .2 59 .5-24 .3 13.3 .2-23.5 .2 23.6 .4 2.3 .2-15.3 .4 12.5 .3-11.5 .4 4.4 .2-19.8 .3 17.3 .2-15.5 .4-7.3 .4-50.7 .1 18.1 .4 16.2 .3-30.7 .3 62 .4-87.8 .3 23.4 .2-26 .4 29.2 .2-67.1 .3 25.5 .3 4.8 .3 26.3 .3 39.3 .3-65.4 .3 7.3 .3 40.7 .2-36.9 .3 22.3 .3-7.5 .5 2.4 .2 38.7 .3-21.1 .3 28.7 .4 5.4 .1 5.7 .3 12.9 .4-45.8 .3 57.3 .3-8.7 .4-3.9 .2 13.2 .2-51.1 .4-39.2 .3 43.2 .3-23.8 .3 44.5 .4-29.9 .2-5.6 .3 3.8 .4-5.9 .2 15.5 .2-7.5 .4 42.7 .3-59 .2 36.7 .4-6.6 .4 35.7 .3-30.2 .2 8.1 .4-53.7 .2 30 .2-34.6 .4 25.9 .3 12.4 .3-16.7 .3 8.1 .3 23.3 .3-34.8 .4 25.7 .1-12.4 .4-12.8 .4 61.7 .1-37.7 .4-37.5 .4 48.6 .2-49.8 .3 20.9 .2-27.4 .5-3 .1 6.3 .4 65.6 .2-51 .4 13.1 .3-19.3 .3 47.2 .3-58.9 .3 30.4 .3-28 .3 71.5 .3-44.5 .2-13.3 .4 27.3 .2 23.7 .4-7.2 .2 11.7 .4-19.1 .4 39.4 .1-24.2 .4 22.2 .3-56.5 .4-1 .1 38.7 .5-14.3 .2-7.2 .4-51 .3-2 .2 25.4 .2-1.8 .5-5 .2-22.2 .2 25.7 .5-22.2 .1 13.2 .3-30.3 .4 10.8 .3-7.3 .2 4.1 .4-11.9 .3 10.6 .3-4.9 .3-21.3 .3 30.3 .2-30.7 .5 33.2 .2-21.9 .3-6.3 .3-9.9 .4-5.9 .2 17.1 .3-9.1 .3 9.9 .2-13.3 .4-3.9 .3 9.4 .3-3.6 .4 4.7 .1 6.6 .5-12.3 .3-1.6 .3-2.3 .2 4.7 .2-4.5 .4 11.1 .3-5.6 .3 7.3 .3-10.4 .3 3.3 .3-5.5 .3 11.8 .4-11 .2 13.9 .2-2.6 .5-.4 .1-4.2 .4 2.1 .3-2.4 .2-3.9 .4-9.7 .3 10.1 .3-3.4 .3 8 .3-1.5 .4 4.2 .3-12.6 .2-5.3 .3 19 .2-14.2 .3 16.8 .4-9.2 .3 10.5 .3-4.4 .3-3.7 .3-8.1 .3 8.1 .4-6.2 .3 17.4 .2-16.6 .3 6 .3 4.5 .2-.6 .4-8.1 .2 15.4 .5-6.8 .1-1.1 .4 3.5 .2-4.8 .4 8 .2-2.4 .4 .3 .4 13.2 .1-6.4 .4 7.4 .2 4.3 .4 2.2 .3-2.6 .4 7.5 .2-2.8 .3-6.6 .3 11.6 .3-12.5 .3 6.6 .3 3.1 .3-2.9 .3 1.2 .2-17.1 .5-.4 .2 13.5 .3-12.8 .3 9.5 .2-17.6 .5 4 .3 0 .3 8.7 .2-12.6 .2 8.2 .4-2.4 .3-5 .3 6.9 .4 .9 .2 7.1 .2-5.3 .4-.9 .4 7.3 .3-3.7 .2 2.7 .2-6.8 .4 9.6 .2-1.4 .4-7.1 .3 4.9 .4-6.2 .2 9.1 .3 .2 .2-2.4 .3 3.7 .4-.6 .3-2.5 .3 5.3 .3-4 .3 5.4 .4-4.5 .2 3.8 .3-7.2 .4 4.1 .2-.3 .3 5.3 .3-14.1 .3-.7 .3 14.5 .4-8.6 .2 11.6 .3-9.1 .2 5.1 .4-5.6 .3 4.7 .3-10.8 .4 15.1 .1-6 .4 5.4 .3-8.5 .2 5 .4-4.9 .2 1.6 .5-6.4 .2 17.2 .3-17.1 .4 4.4 .2 0 .2 16.3 .4-13.8 .3 7.6 .3-4.1 .4 11.7 .1-17.9 .3 12.5 .4-6.6 .3 4.4 .4-10.7 .1-1.5 .3 15.5 .4-9.3 .3 9.6 .2-3.8 .5-3.5 .1 .1 .4 5.2 .3-10.8 .4 18.9 .2 12.4 .2-22.3 .5 19.3 .2-6.7 .2 19.2 .3-20.2 .4 5.5 .2 2.1 .4 25.6 .3-2.9 .3 14.2 .3-17.7 .2 16.7 .3-6.6 .4 19 .3-10.6 .3 16.2 .2-.9 .3-1.8 .3-8.6 .4 4 .2 3.1 .3 .9 .5 4.8 .2-1 .4 1.2 .2 12.3 .3-13.3 .3 2 .3 17.8 .3-1.9 .3 6.4 .4-3 .2 6.1 .3-15.2 .3 11.5 .2-6 .4 3.2 .3-2.7 .4 6 .2-7.4 .4-15.1 .2 13.5 .4-14.4 .2 17.2 .4-12.2 .3 11.3 .2-18.1 .3 15.2 .3-.5 .4 5.4 .2-1.1 .3-9.1 .2 9.9 .4-1.8 .3-9.9 .3 4.1 .3 .6 .3-17.4 .3 7.6 .4-4.7 .3-4.3 .1 5.5 .5-6.3 .2-.4 .2-.2 .4 4.9 .4-5.5 .2 4.6 .3 4.8 .2-1 .4 .4 .3 5.2 .3-5.8 .2 7.1 .5-2.3 .1 4.9 .3-9.4 .4-2.4 .3 .6 .2 8.1 .4-5.8 .3 6.7 .3-9.3 .2 10.4 .5-4 .3 5.7 .1-5.9 .3 4.5 .4-4.5 .3-4.9 .3 2.5 .3 2 .4 1 .1 .6 .4-1 .3 1 .3-2.8 .3 4.3 .3-1.5 .2 3.1 .4-.1 .3-3.3 .2 1.6 .4 .6 .2 1.7 .3-.6 .4 1.6 .2 .5 .3-3.8 .4 .6 .3-9.2 .3 14.3 .3-6.3 .4 7.3 .2-16.6 .2 11.4 .4-.1 .3-8.2 .3-.3 .3-17.1 .3-2.2 .4-7.6 .2 38.1 .3-17.7 .3-3.9 .4-5.3 .1 27.1 .5-29 .2 25.6 .3-1.6 .3 8.5 .4-17.7 .1 10.6 .4-5.4 .4 9.4 .2-13.6 .3 .7 .3 7.3 .3-5.5 .2 13.4 .5-24 .2 11.2 .3-26.7 .4 42.1 .2-5.1 .3 3.9 .3-14.4 .3-5.2 .3-5 .3-9.9 .2 21.3 .4-10.2 .2 13.7 .3-18.5 .5 7.2 .3-8.2 .3 22.1 .2-18.3 .3 6.6 .4-17.6 .2 23.5 .3-18.7 .3 5.3 .2-14.7 .4 10.9 .4-12 .2 10.8 .3-18.9 .2 20 .4-6.3 .3 12.8 .3-26 .3 23.7 .3-26.8 .2 27.7 .5 4.4 .3-26.9 .2 .8 .3-7.9 .3 23.1 .3-24 .2 15.1 .4-15.8 .3 14 .3-16.2 .3-1.3 .4 20.1 .2-18.3 .4 45.7 .3-21.3 .2 18.7 .3-42.5 .2 31.3 .3-37.8 .4 20 .2 32.3 .3-11.6 .4-6.5 .3-10.6 .4-6.3 .1 9.1 .4-11.8 .2-3.5 .5 27.5 .1-4.9 .4 15.3 .3-50.2 .4 3.4 .2 49.6 .3-42.5 .4-5.3 .1 8.7 .5-15.7 .2 15.2 .2-41.2 .5 44.6 .3-54.8 .1 47.7 .5-23.9 .2 36.2 .4-34.7 .2 31 .3-3.4 .3 37.9 .3-46.3 .3-18.6 .4 47.2 .2-2 .2-42 .3 39 .4-19.2 .3 20.7 .3-16.4 .3 8.9 .3-32.9 .4 28.2 .2-16.9 .2 54.9 .4-32.5 .3 6.3 .3-34.4 .2 48.7 .4-45.7 .4 37.1 .1-5.9 .5 2.8 .2-2.9 .3 23 .4-22.1 .2 18 .4-10.2 .1-2.2 .4 11.7 .2-22.9 .4-8.8 .3 1.7 .2-1.8 .3 21.5 .5 5.7 .2-2 .3-15.5 .3 6.5 .2-26.8 .4 45.7 .4-52.5 .2 31.9 .2-31.8 .5 24.2 .3-30.6 .1 17.1 .4-28 .2 11.2 .5 8.3 .2-22.2 .4 4.9 .2-7.2 .4 15.4 .1-3.4 .4 41.5 .4-57.1 .2 55.7 .4-57.2 .2 5.7 .2 33.6 .4-41.2 .2 51.9 .3-40.7 .3 9.4 .3-21.9 .4 37.2 .3-35.2 .4-2.1 .1 5 .3 26.8 .4-18.7 .3 52.5 .2 .5 .4-5.3 .3 39.6 .4-42.2 .2 32 .2-73.5 .5 31.1 .2-19.5 .4-17.3 .2 12.1 .3 29.5 .3-27.8 .2 3.6 .3-28.9 .4 36.5 .4-28.7 .2 52.8 .3-41.5 .3 49.6 .4-70.4 .2 61.1 .3-55.7 .4 55.5 .2 18.4 .2-80.8 .4 19.4 .3 70.2 .3-25.6 .2 9.2 .4-4.6 .3-24 .3 7.5 .3 14.3 .3 23.2 .4-59.3 .2 56.6 .3-38 .2 22.5 .4-68 .4 70.3 .3-43.3 .1-15.6 .5 51.8 .2-42.9 .4 57.1 .2-38.1 .2 8 .5-8.3 .2 1.8 .3 10.8 .3-3.5 .3-32.1 .2 1.1 .4 42.1 .3-61.7 .4 19.7 .2 18.3 .3-19.6 .2 70.3 .3-57.8 .5 23.1 .3-10.7 .3-26.7 .1 43.1 .3-27.9 .4 38.6 .3-.7 .3-58.8 .3 52 .4-42.1 .2-6.2 .3 9.5 .2 4.1 .3 46.7 .4-58 .3 77.3 .4-.1 .1-47.7 .5 1.3 .1 18.7 .3-14.4 .4-29.9 .3 27.6 .4-27.7 .2 17.4 .3-16.8 .2 54.7 .4-23.4 .3 25.1 .3-12.1 .3 11.2 .3 26.5 .3-12.9 .4 13.4 .3-1 .1-26.1 .3 20.8 .4-57.6 .2 32.6 .4 13.2 .4-69.1 .2 19.1 .3 36.9 .2-57 .4 53.5 .3-59.5 .4 38.8 .3-22.3 .2 6.9 .3 9.8 .3 3.1 .3 6.9 .4 32.2 .2-60 .4 39.2 .2-14.5 .3 22.1 .2-11.2 .3 23.9 .3-9.7 .4 18.2 .4-20.8 .2 25.4 .2-24.2 .5-6.3 .2 3 .3-16.7 .3 9.9 .2-26.7 .4 34.9 .3-42.8 .3 20.7 .2-22.9 .4-1.5 .2 18.8 .3-14.5 .4 19 .3-10.9 .4 2.4 .3 55.2 .2-61.5 .4 49.4 .1-34.2 .4 12 .4-37 .1 1 .5 46.9 .1-45.6 .3-19.3 .4 21.1 .4-40.5 .2 47.1 .3 11.6 .3-37.7 .3 78.6 .3 21.7 .2-63.5 .3-6.2 .5 47 .1-39.3 .4 41.9 .3-41.6 .2-26.3 .4 70 .2-50.7 .4 50.3 .4-74 .2 37.2 .3-40.5 .4 50 .1-34.1 .3 8.2 .3 46.1 .4-63.3 .3 51.1 .2-65.6 .5 57.8 .2 7.6 .4 2 .2-59.8 .2 37.6 .5-31.7 .2 48.7 .3-42.5 .3 52.8 .3-4.4 .3-48.9 .3 32.9 .3-13.2 .3 22.4 .3-25.7 .4 41.9 .1-34.1 .5-.6 .2 41.5 .2-62.9 .4 4 .3 45 .3-38.9 .3 21.4 .3-20.7 .4 73.8 .1-71.8 .4 78.3 .4-39.3 .2-38.3 .4 55.6 .2-76.7 .3 74.2 .3-57.5 .3 35.9 .3-42.5 .2 66.9 .3-30.6 .4 5.5 .2 6.4 .5-30.3 .2 9.2 .2 10.5 .5-2.9 .3 30.7 .3-49 .1 35.2 .3-26.8 .3 36.5 .3 1.1 .4 15.8 .4-55.1 .2 11.1 .2 30.6 .5-13.3 .2-.8 .3 18.9 .3-15.9 .3 25.5 .4-31.9 .1 18.2 .4-1.6 .2-26.4 .4 13.8 .3-27.2 .2 24.8 .5-45.8 .3 40.3 .2 15.9 .4-30.6 .2 50.5 .3-15.9 .3 15.9 .4-41.2 .3 27 .2-19.6 .2 9.2 .4 24.6 .3-36.1 .2 18.1 .4-33.4 .3 35 .4-17 .2 1.2 .2 1.2 .4-6.8 .3-20.4 .3 32.9 .3-26.2 .4 28.7 .2-9.6 .3-27.9 .4 24 .3-25 .2 8.9 .2 36 .4-60.3 .2 22.4 .4-25.8 .4 32.2 .2-17.9 .4 17.9 .2-22.2 .2 7 .4 2.4 .4-7.4 .2 39 .4-22.3 .1 22.3 .4-7.4 .4 11.3 .2 16.9 .3-25.1 .4 33.5 .2-28 .3 26.5 .3-21.6 .3 9 .4 1 .2-14.9 .4-19.4 .2 40.2 .3-49.1 .3 18.6 .4 23.1 .1-31.2 .4-3.3 .3 16.7 .4 5.6 .2-.1 .3 7.8 .2-33.8 .5 39 .1-11.8 .4-4.6 .4 18.1 .2-26.9 .4 17.5 .2-20.2 .3-26.9 .3-.4 .3 33.2 .4-25.6 .2 11.8 .2 14.2 .3-29.3 .3 38.6 .4-13 .3 15.3 .4-34.2 .1-6.1 .4 33.2 .4-36.8 .2 32.6 .2-20.2 .4 11 .4 5.9 .2-25.6 .4 17.3 .2-18.4 .3 .5 .4 .9 .3 16.3 .3-15.2 .1 11.4 .4 11.1 .3-20.8 .3 28.2 .4-8.5 .1 8.5 .3-12.6 .4 29.5 .3-30.5 .4 25.8 .2-13.7 .3-6.5 .3-2.3 .4-4.4 .3-4 .2 12.2 .3-14.8 .3 12.8 .3 5.1 .3-13 .2 7.5 .4-6.7 .2 3.7 .5 13.5 .2-35.1 .3 25.8 .4-26.9 .2 31.5 .2-18.4 .5 41.3 .2-18.3 .4 20.4 .2 .9 .3 1.1 .3-6.4 .3 6.1 .2-17 .5-35.2 .2 23.2 .2-30.7 .4 57 .3-47.1 .4 2.3 .3 43 .3-38.7 .1 21.8 .4 8.9 .3-34.8 .4 29.8 .1-22.2 .4-6 .3 21.7 .3-28 .2 4.2 .4 25.3 .2-27.9 .4 22.8 .4-29.9 .2 8.5 .3-7.6 .3 .4 .3 20.3 .3 .2 .3-13.4 .3 17.2 .3-7.1 .4 13.8 .1-11.5 .4 11 .2-19.9 .4 21.4 .4 2.8 .2-12.7 .4-17.6 .1 18.5 .5-17.8 .3 6.9 .3 11.5 .2-8.3 .2 3.8 .4 8 .2-2.4 .5-17.4 .1 18.8 .4-12.1 .3-5.1 .2 6.5 .3 1.5 .4 8.6 .3-12.3 .3 5.1 .3-4 .3-1.6 .3-.2 .3 9.4 .3-8 .3-4.4 .3 9.8 .3-4.3 .3 7.4 .3-5.1 .3-5.4 .3 10.1 .3-8.3 .2 3.9 .4 5.8 .3-1.9 .2-12.4 .4 7.7 .4 .1 .3-2.4 .1-4.5 .4 1.5 .3-3.4 .4 4.8 .2 3 .4 6.4 .1-16.7 .4-.9 .3 10.3 .3-1.8 .3-7.7 .3 10.7 .3-3.1 .4 .2 .2 3.2 .3-12.7 .3 13.3 .4-12.5 .3 6.5 .1 16.9 .3-10.4 .3-12.1 .3 11.6 .5-2 .2 1.2 .4-3 .2 18.1 .3-19.5 .3 12.2 .3-20.4 .3 28.5 .2-5.3 .4 5.7 .3-3.2 .3-1.2 .4-14.1 .3 19.4 .2-8 .2 .3 .5 4.1 .1 3.7 .5-.1 .1-11.9 .4 11.7 .3-16.9 .3 6.7 .3-9.7 .3 11.9 .4 7.6 .2-.3 .4-8.4 .2-6.3 .3-12.4 .4 20.7 .3-10.7 .1 4.9 .5-8.4 .3 11.7 .2-9.8 .3 6.8 .3-8.7" stroke="#000" stroke-width="2.6" stroke-linejoin="round"/>
<path d="M1205.3 280.1l.3-19.6 .2-2.6 .3-7.9 .2 10.7 .2-15.4 .2 13.9 .4-.6 .1 14.2 .3-15 .4 11.4 .1-14 .2 6.4 .4 3.2 .2-5.5 .2 4.9 .3-12.6 .2 12.3 .3 5.2 .2 2.6 .3-22.3 .3 19.3 .2-12.2 .3 13.8 .2 7.2 .2-16.3 .3 9.3 .2-11 .4 7.7 .2-1.5 .2-10.5 .2 8.2 .2-6.7 .4 4.8 .2-2.2 .3-23.3 .2 41 .3-20 .2 8.3 .3-8.7 .2 7.2 .3-5.3 .2 20 .2-3 .3-17.9 .3 5.6 .2-2.5 .3 9.7 .2-1.9 .3-5 .1-11.8 .4 35.3 .3-35.4 .1 9.9 .3-8.9 .3 16.2 .2-10.6 .3 17.1 .1-13.2 .4 3.8 .3-14.7 .1 24.2 .3-21.2 .2 8.1 .3 7.1 .3-24.2 .1 1.3 .3 20.3 .3-6.6 .3-18.1 .2 13.8 .2 7.3 .2-31.7 .4 17 .3 14.4 .2-13.9 .2 13.6 .2-15.1 .4 20.4 .1-26.9 .3 22.9 .3-4.2 .2 11.2 .2-28.9 .3 8 .2 7.5 .3 9.6 .2-27.1 .3 4.9 .3 2.9 .2 15.8 .3-13.6 .3 21.1 .1-23.3 .3 22.2 .3-3.1 .2 7.9 .2-12.7 .2 12 .4-11.2 .1-2.7 .4 26 .3-22.4 .1 18.8 .3-24.3 .2 20.8 .3-11.7 .2 6.7 .3-6.2 .2 8 .2-11 .3 3.9 .3-5.5 .2 5.4 .3-7.2 .2-2.6 .3 4 .2 16.7 .3-10.1 .2 20.5 .3-15.8 .3-17.5 .3 19.3 .1-12.7 .2 10.8 .3-12.5 .3 12.7 .3 1.3 .2-13.7 .3 14 .2-17.1 .2 26.5 .2-16.2 .4 4.9 .2-10.3 .3 5.9 .2 16 .2 .1 .3-21.7 .3 21.8 .2-10.6 .2-6.7 .3-13.1 .2 27.6 .3-17.8 .3 13.7 .2-22.5 .3 29.2 .2-19.3 .2 7.6 .3-8.8 .2 14.6 .3-.8 .2 3.8 .2-6.5 .4-13.5 .1 10.2 .4-16.2 .1 19.3 .4-6.1 .2 1 .2 2.1 .3-2.9 .2 5.4 .4-3.2 .1-10.9 .3 4.7 .3 15.4 .2-19.3 .3 11.2 .2-2.3 .2 9 .4-12.2 .2 6.6 .2-8 .2 14.5 .3-15.8 .2 11.9 .4-7.1 .2 23 .2-21 .3 7 .3-5.1 .2 1.3 .3-9.2 .1 13.9 .3-7 .3 9.3 .2-8.6 .3-12.5 .2 12.3 .3 2.1 .3-5.6 .1 11 .3-8.9 .2 10.5 .4-5.1 .1-7.8 .3 14.1 .2-3.2 .3-5.8 .3 11.1 .2-12.7 .3 11.3 .3 2.1 .1-16.8 .3 17.8 .2-6.5 .3-.4 .2-7.3 .4 10.9 .2-8.7 .3 7.2 .1-7.2 .2-2.6 .3 13.8 .3-1.3 .3-1.1 .1-9.2 .3 6.8 .3-7.6 .3 5.4 .2-7.7 .2 7 .3 1.3 .2 4.6 .4-21.6 .2 12 .2 17.8 .3-8.8 .1-12 .3 9 .3-12.6 .2 25.2 .3-31.3 .3 15.8 .2-8.1 .2 8.6 .3-3.7 .2-8 .3 13.1 .3-16.8 .2 24.8 .2-20.3 .2 5.6 .3 6.4 .3-20.6 .3 30.7 .2-21.5 .2 9.1 .2-10.7 .4 4.5 .1 8.7 .4-12.7 .3-13.5 .2 31 .1-21 .4 19.3 .1-15.8 .3 6.9 .2-9.2 .3-16.2 .2 22.8 .4 2.1 .2-1.7 .3 4.9 .2-1.7 .3 4.1 .3-5.4 .1 8.5 .3 6.5 .3-9.5 .2 5.1 .2-7.8 .3-7.1 .3 16.8 .3-11.3 .2 2.4 .1-.7 .3-4.6 .3 9.2 .2-2 .3-8.9 .2 9.2 .3-6.3 .3 0 .3 1.8 .2-15.2 .3-19.7 .1 35.9 .3-19.8 .3 29.8 .2-34.4 .2 23.3 .3-7.7 .2 7.3 .3 9.2 .2-5.5 .2 9.5 .4-7.8 .3 4 .2-11.1 .2 18.3 .2-8.1 .3 3 .3-3.1 .2 4 .2-1.8 .3 9.5 .2-1.8 .3-21.4 .2 17.6 .2-17.3 .4 16.7 .2-10.3 .2-1.8 .2 18.8 .4-10.3 .1-6.4 .3 11 .3-11 .2 14 .3 5.9 .2-11.9 .2 15.8 .4-18.1 .2 10.6 .2-15 .3 15.2 .2-10 .2 9.3 .3-6.1 .3 4.7 .2-13.8 .3 15 .2-8.4 .3-.9 .2 14.7 .3-12.8 .2 3.6 .3 3.3 .3-11.7 .3 4.9 .2-7.4 .1 26.7 .3-16.5 .3 6.6 .3-2.4 .1-1.2 .4-12.2 .1 14 .3-8.1 .2 16.1 .3-26.1 .4 27 .1-14.8 .3 17.5 .2-23.2 .2 15.9 .3-11.3 .3 7.2 .3 2.2 .2-11 .2 38.4 .3-72 .3 48.5 .1-13.2 .4 23 .2-34.6 .2 10.9 .2 16.5 .4-19.1 .3-10.8 .2 12.4 .2 9.5 .3-5.4 .3 11.6 .1-.8 .3-12 .2 3.8 .3-2.6 .3 10.5 .2-1.7 .2-1.7 .2-4.5 .4 10.2 .2-16.3 .2-4.7 .3 20.9 .2-10.1 .2 12.2 .3-3 .4 2.4 .2 4 .2-18.5 .3 17.6 .3-10.5 .1 2.7 .3-3.8 .2 8.2 .2-8.9 .4 1.6 .1 6.8 .4-8.6 .2 8.8 .3-14.1 .3 17.7 .1-16 .4 18.4 .1-13.9 .4 6 .1-6.4 .4 11.1 .2-16.3 .2 14.7 .3-4.8 .2 .5 .3-7.9 .3 6.7 .1 11.2 .2-11.1 .3-3 .3 9.7 .2-10.6 .3 6.6 .3-1.7 .2 3.8 .3-2.7 .1 4.4 .3-3.9 .3 1.6 .3-5.3 .1 8.8 .3-8.9 .3 10.2 .2-5.7 .3 .6 .3-1.8 .2 3.5 .3-8.2 .2 8.8 .3-3.3 .2-3.5 .3 1.4 .2-2.6 .3 8 .2 4.8 .2-8.1 .3 3 .2-2.8 .3 6.5 .2-7.7 .3 4.4 .3 1 .1 6 .3-6.6 .3-2.1 .3 8.7 .1-8.1 .4 2 .1-1.1 .4 2.8 .2-3.1 .3 4.8 .3-7 .1-.4 .2 4.7 .4-5.7 .3 12.1 .2-8.8 .2 3.9 .2-4.3 .3 4.8 .3-4.5 .2 3.3 .3-4.7 .2 4.4 .3-1.8 .2 7.7 .3-6.2 .2 4.7 .2-6.9 .3 5.3 .3-4.5 .1 5.6 .4-10.1 .2 9.2 .3-2.8 .3 .9 .2-3 .2 3.7 .2-7.7 .3 8.5 .2-2.2 .3 4.5 .3-7.4 .2 8.6 .3-4.3 .3 7.3 .2-14.2 .2 4.7 .3 4.5 .2-2.9 .2-1.3 .4 5.5 .1-7.4 .2-.4 .3 7.3 .3-3.8 .3 2.7 .3-1.5 .1 1.6 .3-1.3 .3-1.8 .2 7.9 .3-11.2 .1 7 .3-1.6 .2 1.3 .4-5.4 .2 10.3 .2-5.2 .3 2.2 .3-4.3 .2 1 .3 4.4 .2-2.3 .2-.9 .3 4.8 .3 2.1 .1-11.2 .3 .4 .3 6.2 .2-2.3 .3 2.5 .3 2.3 .2-4.9 .3-1.6 .2 5.8 .3-3.2 .1 3.1 .3 .9 .3-.7 .2 .5 .3 3.9 .3-4.5 .2 1.7 .2-.9 .3-3.1 .2 7 .2-4.4 .4 2.6 .1-1.1 .4-.4 .2 3.1 .3-5.8 .2 5.5 .2-5.4 .3 6.8 .2-5.9 .3 4.3 .3-.1 .2 .5 .2-2.1 .4 1.2 .1 1.9 .4-3.2 .1 .6 .3 4.3 .3-2.2 .2 1.4 .3-2.2 .2 3 .3-2 .2-1.6 .2 3.4 .2-2.5 .3 2 .3-2.3 .2 2.5 .2-3.3 .3 .9 .4-.1 .2 1.4 .1-2.4 .3-.9 .3 3.2 .3-1.3 .2 3.1 .2-3.9 .3 .5 .2-.5 .2-.8 .4 2.1 .2 .6 .3-6.6 .2 2.4 .2 6.1 .3-5.4 .3 1.6 .3-2.9 .1-.7 .3 3.1 .3 .6 .3-3.6 .1-1.4 .3 .5 .2 3.5 .4-2 .2 .4 .1 2.6 .4-.8 .1-2.1 .3 4.4 .2-7.2 .3 5 .3-7.9 .2 7.9 .3-8.3 .3 2.5 .2 2.5 .2-2 .3 .1 .2-3.1 .3 5.1 .3-5.8 .2 1.3 .2 1.9 .3-4.4 .2 3.3 .3-4.7 .3 9.4 .1-10.3 .3 7.6 .3-5.1 .2-6.4 .3 7 .3 3.4 .2-6.3 .2 3.3 .3-2.1 .2 8.9 .3-3.4 .2-15 .3 12.9 .2-14.8 .3 16.2 .3-2.9 .2-9 .2-2 .3 5.6 .2-2.4 .3 6.3 .3-7.1 .2-2.9 .3 16.3 .3-8 .2-1.3 .2-4.7 .2 10 .3-4.5 .2-5.9 .3 15.7 .3-12.8 .1 3.3 .3 2.8 .2-9.2 .3 10.2 .3-6.3 .3-2.2 .1 5.3 .3-.4 .2 4.9 .4-9 .1 6.4 .3 .5 .4 .5 .1-6.4 .3 13.7 .2-16.6 .4 10.1 .1-.8 .3 1.8 .3 .5 .1-2.6 .4 4.7 .2-5.2 .2 2.3 .3-4.9 .3 11.7 .3-10.9 .1 7.4 .3-4.4 .3 9.7 .3-9 .2 5.3 .1-2.4 .4 3.7 .2-7.6 .3-2 .2 12.2 .2-8.2 .4 1 .1-2.7 .3 4.5 .2-4.2 .3-.2 .3-5.6 .2 14.6 .3-20.4 .2 11.6 .2-5.2 .3 6.8 .2-8.6 .4 8.1 .2-6.6 .2 13 .2-12 .2 1.3 .3-6.7 .3 7.1 .3-15.8 .3 13.1 .1-8.4 .3 10.4 .2-1.3 .3-1.2 .2-.2 .3-8.7 .3 20.4 .2-29.1 .2 19.7 .2-20.9 .4 29.3 .2-16.8 .2 11.2 .2-9.3 .3 4.4 .3-25.4 .3 23 .1-18.1 .4 22.1 .2-4.9 .2 .6 .3-1.3 .3 5.7 .2-13.8 .2 17.9 .3-8.9 .3 4.1 .2-4.3 .3 13.8 .2-18.8 .3 13.9 .1-4.7 .3 1.3 .3-3.2 .3 3.1 .1-11.2 .3 16 .2 2 .4-13.1 .2 10.2 .2-13.9 .3 9 .3-9.1 .2 6.2 .2 6.8 .4-5.4 .1-5 .3-1.4 .2 6.9 .3 .2 .2 .8 .3-6.4 .2 5.8 .2 1 .3-4.1 .3-2 .3 9.6 .2-14 .2 6.6 .4-11.6 .1 12.4 .3-4.3 .2 4.6 .2-2.3 .3-1.7 .3 2.2 .3-9.7 .2 16.7 .2-16.5 .3 1.8 .2 7.3 .4-3.2 .1 11.8 .2-16.9 .4 .2 .2 11.7 .3-8.9 .1 5.3 .4-12.5 .2-1.7 .3 15.6 .2-12.5 .2 15.7 .3-10.8 .3 4.3 .2-6.3 .3 10.3 .2-15.1 .3 8.1 .3 7.8 .1 .9 .4-11.5 .2 9.6 .1-7.6 .4 13.2 .2-23.9 .3 20.4 .2-9.4 .2-5.4 .3 11 .2-7.6 .3 8.9 .3-8.1 .2-.7 .3 8.7 .2-20.2 .3 21.6 .2-19.2 .3 11.7 .1-5.7 .3 10 .3-2.2 .3-1.4 .3-6.9 .2-12 .2 2.6 .3 15 .1-6.1 .4 5.1 .2 1.3 .2-6.5 .3 9.3 .3-5.3 .1-2.7 .4 10.7 .2-10.2 .2-5.5 .3 9.4 .2-2.5 .3 9.4 .3-10 .3 6 .1-12.4 .3 11.1 .2-6 .3 8.9 .2-11.5 .4 19 .2-15.9 .2 10.8 .2-10.6 .3 9.9 .2-8.4 .2 5.7 .3-5.5 .3 6.6 .3-6.9 .2 5.3 .3-3.6 .2 5.7 .2-17.3 .3 5.2 .2-1.9 .3 2.7 .2 6.6 .4 2.6 .1-2 .4 10.9 .1-12.4 .2 4.3 .3-5.3 .4 .3 .1 6.6 .3-.7 .2-6.3 .3 13.2 .3-13.8 .2 10.7 .2-9.6 .2 14.6 .3-11.5 .2-3.4 .3 7.5 .3 3.3 .2-7.3 .2 9.9 .4-36.6 .2 33.7 .3 29.3 .1-31.4 .3 6 .3-15.1 .3 18 .3-2.2 .1-22.6 .4 12.9 .2 .1 .2-6.3 .2 8.8 .3-8.8 .3 6.7 .2-5 .2 4 .3-11.1 .3 2.3 .3 12.3 .2-11.3 .2 13.4 .2-8.9 .3 8.2 .2-8.9 .4 9.2 .2-13.7 .2 12.5 .2-4.5 .3-.5 .3 4 .1-4.4 .3 3.9 .3-9.3 .3 17.6 .2-16.9 .3 12.7 .2 1.4 .3-1.7 .2-13.8 .3 0 .3 19.4 .2-12.3 .2 2.1 .3-.8 .3 7.4 .2-6.3 .2 4.4 .3-5.9 .2 6.9 .2 5.3 .2-10.1 .4 2.9 .2-4.9 .3 3.7 .2 9.3 .2-7 .3-3.4 .2 2 .2-2 .4 6 .2-12 .2 11.5 .2-11.8 .3 6.3 .3 7.2 .3-6.2 .2 .3 .3 11.6 .2-11.6 .3-2.8 .2 7.5 .2-11.7 .4 2.9 .1 7.9 .4-7.1 .2 11.6 .2-9.7 .3 5.3 .2-3.1 .3-.3 .2 6.1 .2-4.2 .3-1.2 .2 2.7 .2-4.4 .4 5.9 .2-3.9 .3 11 .2-9.8 .3 2.7 .1-.4 .4 8.4 .2-9.2 .2 3.7 .3-5 .3 4 .2-2.6 .2 5.3 .2-7.2 .4 5.3 .2-6.2 .2 8.8 .3-7.5 .3 7.6 .2-5.8 .3 5.1 .2-4.6 .2 4.1 .3 4.9 .3-16 .2 11.2 .3-4.6 .2 2.4 .2-2.3 .3 5.3 .2-11.7 .3 14.8 .2-14.7 .3 9.6 .2-2 .3-.1 .3 6.6 .1-9.1 .3 2 .3 6.7 .3-5.1 .2 5.9 .2-6.2 .3-1.2 .3 1.9 .1-2.1 .4-3.1 .3 7.6 .1-4.2 .3-3.8 .2 8.2 .3-2.9 .3 4.8 .2-4.9 .3 3.7 .2-7.9 .3 8.2 .2-3.9 .3 2 .3-3.9 .1 10.3 .2-11.9 .3 6.1 .3-6.1 .3 5.6 .2-1.9 .3 6.8 .1-1.5 .4-8.4 .3-.2 .2 4.2 .3 .3 .2-5.5 .1 6.2 .3-2.5 .3 2.7 .3-4 .3 4.8 .1 1.9 .3-10.1 .3 5.1 .1-4.7 .4 15.9 .2-14.3 .3 7.6 .1-5.9 .3 3.5 .3-4.9 .2 5.9 .3-5.2 .2-5.2 .2 6.1 .4-3.7 .2 4.5 .2-6.1 .4 5.4 .1 1.1 .3-9.2 .2 7.6 .4-4.4 .1 3.5 .4-2.7 .2-1.5 .2 2.5 .2-.6 .2 1.3 .4-4.9 .2 1.5 .2-1 .3 5.7 .2-.6 .3-2.1 .2 1.7 .2-2.3 .3-9 .3 15.5 .3-7.4 .2 3.9 .3-4.5 .2 2.3 .2-8.1 .3 8.1 .2-4.9 .2 2.3 .4 2.1 .2 9.1 .3-19.6 .2 4.1 .2-2.6 .3 1.3 .2 12.7 .3-6.2 .3-5.4 .2 8.5 .3-10.6 .2 8.9 .2-4.7 .3 3.9 .2-5.2 .3 7.8 .2-9.8 .3 5.9 .2-2.8 .3 2.1 .2-1.4 .3-4.7 .3 7.4 .2-.5 .3-11.7 .2 5.9 .3 4.3 .2-1.4 .2 2.1 .3-9.7 .2 9 .2-5.9 .3 14.9 .3-14.2 .2 6.9 .3 1.8 .2-6.8 .3 5.2 .2-7.2 .3 8.2 .3-11.2 .2 7.9 .3 3.5 .2-7.1 .2 5 .3-1.7 .2-2.5 .2 6.3 .3-8.9 .3 3.7 .3 .1 .2-4.8 .2 .7 .3 .8 .3 3.2 .2-4.5 .3-.9 .2 0 .2 11.1 .2-8 .3-16.4 .4 10.4 .1 8.7 .4-20.6 .1 23.6 .3-2.9 .3-2.2 .2 2.5 .2-3.1 .3 9.3 .3-10.1 .2 10.2 .3-13.5 .2 7.1 .2 1.7 .4-4.9 .1 4.5 .4-6 .1 1.2 .3 3 .3-5.4 .2 5.7 .2-.6 .3-1.3 .2 6 .3 1.6 .2-5.5 .3-1.8 .2 2.2 .3-3.3 .3 6.4 .1-12.5 .3-4 .3 2.9 .2-8.6 .3-24.5 .3 21.1 .2 27.4 .2-10.2 .4 2.1 .2 .8 .2 1.4 .3 4.9 .2-4 .3-5.3 .2-.2 .3 7.5 .3-3.7 .1 6.4 .4-5.8 .1 4.5 .3-6.2 .3 7.7 .3-5.2 .1 2.5 .2-2.5 .3 1 .2-5.4 .4 10.2 .2-3 .3-6.7 .2 10 .2-7 .3-2.5 .2 10.9 .2-8.3 .4 11.1 .3-11.6 .2 4.9 .2 2.5 .3 2.5 .1-9.2 .4-1.9 .2 3.7 .3-6.7 .3 11.7 .2-15.8 .2 13.5 .2-10 .3 7.2 .2 .6 .3-5.7 .2 5.7 .4 .6 .1-7.6 .4 10 .1-14.5 .2 18 .4-10 .2 5 .2-13.6 .3 17.1 .3-10.5 .2 6.8 .2-4.3 .3 8.8 .2-7.2 .3 12.7 .3-10.7 .2 2.7 .3 1 .2-8.5 .2 10.8 .3-9.4 .2 9.9 .3-6.9 .3 11.6 .2-13.9 .3 12.7 .2-8.1 .3 9.3 .2-6.2 .3-11.9 .2 12.9 .2-9.2 .4 10.7 .2-5.1 .1 7 .3-16 .4 19.6 .1-16 .3 17.5 .2-12.7 .3 5.2 .2-2.2 .3 .8 .3 13.2 .1-8.8 .3-9.5 .3 10.8 .3-11 .1 7 .4-5.1 .2 3.3 .2-1.9 .2 3.4 .4-6.9 .2 2.3 .3 2.9 .2-2.6 .3 6.5 .1-11.2 .3 6.7 .3-2.4 .3 1.2 .2-4.1 .2 1.2 .3 7.4 .3-6.6 .1 1.4 .3-4.9 .3 4.6 .3-3.7 .2 2.8 .3-1.4 .1 4 .4-4.3 .1-3.4 .4 8.4 .3-11.3 .1 13.5 .2-3.9 .4-.2 .2-2.4 .2-.9 .3 .8 .3-3.9 .3 4.9 .2-2 .3 4.5 .1-3.3 .3-9.9 .3 11.5 .3 .1 .2-7.8 .2 6.8 .3-2.5 .1-4.2 .3 7.5 .2 4.1 .3-10.9 .2 11.9 .3 .4 .3-18.4 .2 9.9 .3 .7 .3 1.8 .2-11.1 .2 10 .3-5.3 .3-2 .3 5.4 .2-8.8 .2 10.8 .2-4.9 .4 7.9 .1-12.7 .4 2.3 .2-7.1 .2 11.6 .3-10.3 .2 13.6 .2-6.7 .3-3.9 .2 8.1 .3-2.9 .2 5.8 .3-10.5 .3 3.5 .2 0 .2-.2 .3 3.5 .3-2.5 .3 1.3 .2-9.2 .1 11.5 .3-5.3 .4 6.9 .2-9.8 .2-.2 .3 7.5 .3-6 .2 4.3 .3-2.3 .1 3.5 .3-5.9 .2 5 .3 7.4 .2-4.1 .3-11.8 .2 3 .2 7.5 .4-3.5 .3-.4 .1-3.5 .2 4.4 .3-.8 .3 1.6 .3-3.1 .2 2.5 .3 1.1 .3-4.2 .2 4 .3-7 .1 6.5 .4-6.9 .1 8.9 .3-9.5 .3 16.1 .3-10.2 .2 11.8 .2-12.7 .2-.2 .3 4.3 .2-3 .3-2 .2 8.2 .4-5.6 .1-1.7 .3 11.1 .3-11.2 .2 9.4 .2-5.1 .3 6.9 .3-14.2 .2 10.4 .3-5.6 .2 11.6 .3-2.9 .2-13.4 .2 14.9 .3-8.8 .2 2.8 .3-12.3 .3 12.2 .3-1.5 .1 4.5 .3-11.4 .2-3.8 .4 13.6 .2-3.5 .2 .7 .3-8.3 .2 10.1 .3-5.6 .2 3 .2-4.6 .3-.2 .3-5.2 .2 10.2 .3-2.3 .1 1.9 .3-4 .3-1.2 .3 4.2 .3-2.6 .1 4.3 .3-7 .3 6.4 .2-3.5 .2 3.5 .2-.5 .3 4.7 .2-7.4 .4 9 .3-10.7 .2 6.1 .2-4.3 .2 6.7 .4-5.2 .2 7.2 .2-3 .3-2.2 .2 4.4 .3-6.5 .2 8.5 .3-9.8 .2 14.8 .3-13.3 .2 1.6 .3 6.5 .2 .6 .3-7.7 .2 5.8 .2-4.3 .3 8.7 .2 6.9 .3-8.7 .3-9.3 .3 7.1 .2-11 .2 1.8 .2 13.8 .4-9.4 .2 1.8 .3 1.5 .2-5.5 .2 8.7 .2-12.8 .3 10.9 .3 4.7 .2-7.6 .3-2.9 .2 7.8 .2-8.5 .2 5.4 .3-7.6 .3 11.3 .3-.7 .1-2.3 .4-4.1 .2 3.4 .2-2.2 .3 2.9 .2-1.7 .3 3.7 .3 .4 .1-10.3 .3 14.3 .3-10 .3-.3 .3 3.7 .2-4.3 .2 5.5 .2-5.7 .4 7.4 .1-7.7 .3 5.8 .2-9 .3 8.1 .3-7 .1 8 .4-4.8 .2 3.7 .2-1.5 .3-3.8 .2 4.4 .3-1.8 .2 2 .2-3.6 .3 6.7 .3-6 .2 .1 .3 1.8 .3-1.6 .1-5.2 .3 6.4 .3 .3 .3-6 .2 3.9 .3 6.8 .1-.1 .3-3.4 .3-6.3 .2-2.1 .3 9.9 .3-6.5 .2-1.7 .2 7 .3-3.2 .2-4.2 .3 4.6 .3-4.7 .3-1 .2 5 .2 .5 .3-2.2 .2 1.5 .3-4.3 .2 5.4 .2-5.1 .4 6 .2-2.3 .2 3.2 .2 2.9 .3-8.1 .3 4.2 .2-5.9 .3 6.5 .3-2.2 .1 3.1 .2 3.4 .4-8.3 .2 12.4 .3-11.7 .2 3.6 .3-5.2 .1 3.8 .4 1.4 .2-.5 .3-5.7 .2-2.2 .2 9.3 .3-1.6 .2 2.7 .3-5.6 .3 4.5 .2-4.9 .2 8.5 .3-10.3 .2 6.8 .3-.8 .3 3.6 .2-4 .2 4.6 .3-2.5 .2 2.8 .3-1.8 .3-3.6 .2 3.3 .3-2.8 .2 3.6 .3-1.8 .3 3.9 .2-3.7 .3 1.4 .1-2.1 .3 1.4 .2-4.9 .3 5.2 .2-2.1 .3 4.7 .3-6 .2 4.9 .3 2.7 .2-3.8 .3 .1 .2 2.3 .3-3.4 .2-5.1 .3 9.4 .3-8.1 .1 3.7 .4 3.2 .2-4.9 .3 3.2 .2-3.4 .2 2.1 .3-5.2 .2 13.3 .2-4.5 .3-4.3 .3 1.9 .2 3.8 .2-9.6 .3 9.1 .2-7 .3 2.1 .2 .8 .3-10.5 .3 8.7 .2-4.3 .2 5.6 .2-2.9 .4 2.3 .2-8.1 .3 4.4 .2-3.6 .2 9.9 .4-7.1 .1 5.3 .3-8.5 .3 3.6 .2-5.9 .3 5.4 .3-3.2 .2 4.9 .2-5.2 .2 4.7 .4-5 .1 1.9 .3-4.7 .3 8.7 .1-3.7 .3-4.7 .2 3.6 .3-2.5 .3 4.8 .3-1.6 .2 4 .2-8.9 .2 5.6 .4-7.6 .2 6.3 .3 .9 .2-1.9 .2-1.5 .3 3.7 .3 .8 .2-1.5 .3-2.9 .2 3.1 .3-6 .2 2.5 .2-6.2 .3 1.6 .2-6.5 .3-8.1 .2 13.9 .3 13.3 .3-7.8 .2 3.6 .2 3.3 .3-10.8 .2 10.8 .3-3 .3 4.2 .2-5.4 .3 6.2 .3-6.3 .2 5.8 .2-5.5 .2 7 .3-5.8 .3 5.4 .3 .1 .2-7.9 .1 14.1 .3-2.7 .2-9.1 .3 11.1 .2-9.2 .3 10.7 .2-12 .4 6.9 .2 2.3 .3-5.6 .3-2.4 .2 .7 .2 5.6 .2-9 .3 12.8 .2-8.1 .3 .1 .2-2.6 .3 5.5 .3-7.7 .2 4.2 .3 5.6 .1-7.5 .3 2.6 .4-5.2 .2 8.2 .1-4.5 .4 3 .2-.7 .2-3 .2 1.8 .3-.3 .4 4 .1-5.3 .4 2.1 .2-3.2 .3-.2 .2 .7 .3 4.5 .1-4.3 .4 1 .1-.1 .4-4.7 .1 5.4 .3-2.8 .2 2.8 .3-3 .2 5.2 .3-6.6 .2 1.9 .3 1.2 .3-.3 .2-4.9 .3 3.3 .2-2.9 .2 2.1 .3 1.9 .2-3.5 .4 0 .1 2.3 .3 2.1 .3-4.1 .1-2.2 .3 4.7 .3-2.8 .2 1.9 .3-1.6 .3 1.1 .1-3.4 .3 3.4 .2-.6 .3 2.5 .3-2.9 .3 .8 .2-2.3 .3 3.5 .1-1.7 .4 0 .2-2.7 .3 2.1 .2-2.6 .2 1.9 .3-4.7 .2 1.3 .2-.1 .3-2.6 .3 1.9 .3-2.1 .2 2.9 .3-2.2 .3 1.3 .2-3.6 .2 2 .3 2.8 .2-.3 .3-1.8 .2 1.1 .3-2.1 .2 .5 .2 1.9 .3 4 .2-9.2 .4 10.5 .2-3.1 .1-6 .3 4.6 .4-3.6 .2 1.2 .2 2.3 .2-1.1 .2 3.2 .4-4.5 .2 3.1 .3-5.8 .2 5.8 .3 2.5 .2 1.7 .2-3.1 .3-6.5 .2 5.7 .4-3.6 .1 4.9 .3-4.5 .3 4.6 .2-5.6 .3 1.2 .2 3.4 .3-2 .2 1.6 .3 6.3 .2-6.1 .3 2.5 .3-2.1 .2-3.2 .2 7.6 .2-8.7 .3 6 .2 .6 .3-5.3 .3 1.6 .2 1.4 .3 5.9 .2-6.4 .3-1.6 .2 5.2 .3-1.3 .2-4 .3 5.9 .3-2.5 .1-5 .3-3.5 .3 3.8 .2 .4 .2 5.3 .2-4.9 .4 4.2 .2-9.5 .3 11.6 .2-5.4 .2 7.4 .4-4.5 .1-3 .3 6.9 .2-6.2 .3 .8 .2 .4 .3-2 .2 6.5 .3-6.9 .3 3.1 .2-1.4 .2 .7 .3 5.1 .2-6.7 .3 3.4 .2-3.1 .2 2.2 .4 1.2 .2-1.2 .2 3.1 .3-5.5 .3 2.7 .3-2.3 .2 1.9 .2-1.8 .3 3.5 .2-3.1 .2-.9 .4 4.8 .2-1.7 .1 .7 .3-2.2 .3 3 .3 .8 .2-.7 .2-1.7 .3 1.6 .3-.6 .2 1.6 .2-1.2 .3 .7 .3-1 .1 3 .4-5.1 .2 1.2 .2 2.6 .3 1.1 .2-2.3 .3-1.1 .3 3.3 .1-5.1 .4 .9 .2 4.1 .2-.4 .3-2.1 .3 .8 .2-3.3 .2 0 .3 3.5 .3-2 .2 2.8 .2-2.3 .3-.4 .3-.3 .2-1.3 .2 1.8 .3-3.2 .2 1.8 .3 .7 .3-1.5 .1 2.6 .4-1.5 .2 2.8 .3-4.6 .2 3 .2-1 .3 .9 .3 1.3 .2-1.9 .3 3.5 .1-6.1 .3 5.9 .2-2.3 .3 4 .4-6.9 .1 3.6 .3-.3 .2 1.4 .2-3.7 .4 3.2 .2-2.9 .2 2.2 .3 4.7 .2-3.9 .3 3.7 .3-2.7 .1 2.3 .3-5.5 .3 8.1 .3-6.7 .2 10.3 .2-6.9 .3-.5 .2 4 .3-5.2 .3 2.1 .1 1.5 .4-3.3 .2 6.3 .2-10.4 .3 9.8 .2-1.7 .3 3.1 .2-7.2 .3 5.2 .3 4.1 .2-3.9 .2 8.9 .3-12 .3 8.7 .3-8.8 .2 8.7 .2-4.8 .2 4.1 .3-4.2 .3-5.1 .2 15.6 .2-7.9 .3-2.1 .2 8.1 .3-4.4 .3 3.9 .2-6.4 .2 1.2 .3 3.1 .3 2.8 .2-3.8 .3 4.8 .2-7.1 .2 6.4 .3-5 .2 6.4 .3 4.1 .2-11.7 .3 6.3 .2-2.5 .4 3.1 .2-.5 .2-1.2 .3 5.9 .2-7.5 .3 7.8 .2-7.8 .3 10.4 .2-5.3 .3-4.3 .2 7 .3-7 .3 4.4 .1-2 .2-.4 .3 5.2 .3 .6 .3-4.3 .2 7.1 .2-3.6 .3-1.3 .2 4.9 .4-7.2 .1 6 .2-5.6 .3 4.6 .3 0 .3-1.6 .1 .8 .4-1.1 .1 .9 .4-1.9 .2 1 .3 3.5 .1-3.2 .3 2.7 .2-4.5 .3 4.2 .3-1.5 .2-2.9 .2 2 .4 1.8 .2-.1 .2-1.5 .3 1.9 .3-1.4 .2 2.3 .2-.6 .3 0" stroke="#f00" stroke-width="2.6" stroke-linejoin="round"/>
<path d="M1726.3 455L1726.3 110" stroke="#000" stroke-width="2.78" stroke-dasharray="2.78 4.59" stroke-dashoffset="0.8"/>
<path d="M1205 455.5L1211 455.5" stroke-width="1.3" stroke="#000"/>
<text x="1199" y="462.4" font-size="19.44" text-anchor="end">−20</text>
<path d="M1205 412.5L1211 412.5" stroke-width="1.3" stroke="#000"/>
<text x="1199" y="419.27" font-size="19.44" text-anchor="end">−15</text>
<path d="M1205 369.5L1211 369.5" stroke-width="1.3" stroke="#000"/>
<text x="1199" y="376.15" font-size="19.44" text-anchor="end">−10</text>
<path d="M1205 326.5L1211 326.5" stroke-width="1.3" stroke="#000"/>
<text x="1199" y="333.02" font-size="19.44" text-anchor="end">−5</text>
<path d="M1205 282.5L1211 282.5" stroke-width="1.3" stroke="#000"/>
<text x="1199" y="289.9" font-size="19.44" text-anchor="end">0</text>
<path d="M1205 239.5L1211 239.5" stroke-width="1.3" stroke="#000"/>
<text x="1199" y="246.78" font-size="19.44" text-anchor="end">5</text>
<path d="M1205 196.5L1211 196.5" stroke-width="1.3" stroke="#000"/>
<text x="1199" y="203.65" font-size="19.44" text-anchor="end">10</text>
<path d="M1205 153.5L1211 153.5" stroke-width="1.3" stroke="#000"/>
<text x="1199" y="160.53" font-size="19.44" text-anchor="end">15</text>
<path d="M1205 110.5L1211 110.5" stroke-width="1.3" stroke="#000"/>
<text x="1199" y="117.4" font-size="19.44" text-anchor="end">20</text>
<path d="M1800 455.5L1795 455.5" stroke-width="1.3" stroke="#f00"/>
<text x="1804.9" y="462.8" font-size="19.44" fill="#f00">0</text>
<path d="M1800 386.5L1795 386.5" stroke-width="1.3" stroke="#f00"/>
<text x="1804.9" y="393.8" font-size="19.44" fill="#f00">200</text>
<path d="M1800 317.5L1795 317.5" stroke-width="1.3" stroke="#f00"/>
<text x="1804.9" y="324.8" font-size="19.44" fill="#f00">400</text>
<path d="M1800 248.5L1795 248.5" stroke-width="1.3" stroke="#f00"/>
<text x="1804.9" y="255.8" font-size="19.44" fill="#f00">600</text>
<path d="M1800 179.5L1795 179.5" stroke-width="1.3" stroke="#f00"/>
<text x="1804.9" y="186.8" font-size="19.44" fill="#f00">800</text>
<path d="M1800 110.5L1795 110.5" stroke-width="1.3" stroke="#f00"/>
<text x="1804.9" y="117.8" font-size="19.44" fill="#f00">1000</text>
<path d="M1245.5 455L1245.5 449.8" stroke-width="1.3" stroke="#000"/>
<path d="M1320.5 455L1320.5 449.8" stroke-width="1.3" stroke="#000"/>
<path d="M1394.5 455L1394.5 449.8" stroke-width="1.3" stroke="#000"/>
<path d="M1468.5 455L1468.5 449.8" stroke-width="1.3" stroke="#000"/>
<path d="M1544.5 455L1544.5 449.8" stroke-width="1.3" stroke="#000"/>
<path d="M1617.5 455L1617.5 449.8" stroke-width="1.3" stroke="#000"/>
<path d="M1692.5 455L1692.5 449.8" stroke-width="1.3" stroke="#000"/>
<path d="M1767.5 455L1767.5 449.8" stroke-width="1.3" stroke="#000"/>
<rect x="1205" y="110" width="595" height="345" fill="none" stroke="#000" stroke-width="2.0"/>
<path d="M1800 109L1800 454" stroke-width="2" stroke="#f00"/>
<text x="1116.3" y="282.5" font-size="24" text-anchor="middle" transform="rotate(-90 1116.3 282.5)">IMF Bz</text>
<text x="1146.8" y="283" font-size="24" text-anchor="middle" transform="rotate(-90 1146.8 283)">( nT )</text>
<text x="1880.2" y="283.5" font-size="24" text-anchor="middle" fill="#f00" transform="rotate(-90 1880.2 283.5)">SW Velocity</text>
<text x="1913" y="282.5" font-size="24" text-anchor="middle" fill="#f00" transform="rotate(-90 1913 282.5)">( km<tspan dy="0" dx="5.2">s</tspan><tspan font-size="16.8" dy="-9.7" dx="-0.8">−1</tspan><tspan dy="9.7" dx="1.6"> )</tspan></text>
</g>
<g id="r2">
<path d="M1205 512.4L1800 512.4" stroke="#000" stroke-width="2.08" stroke-dasharray="2.08 3.43" stroke-dashoffset="-1"/>
<path d="M1205.3 693.8l.3-18.5 .2 9.8 .4-12 .3 16.5 .3-14 .3 16.1 .3-6.7 .2 4.6 .4-16.9 .2 12.2 .4-8.4 .4 12.1 .3-9.6 .2 17.9 .3-21.1 .2 10.4 .4-8.6 .4 4.6 .1-1.2 .3-6.2 .4 12.8 .2-14.5 .4 8.8 .3-11 .3 8.6 .2 5.3 .4-10.8 .2 25 .4-28.2 .4 7.9 .2 .3 .3-13.1 .3 18.8 .2 .2 .5-16 .2 .3 .3 17.7 .3-13.9 .3 2.2 .3 3.5 .4-7.1 .3 17 .2-10.7 .4-5.7 .3 18 .2-14.5 .3 5.1 .3-13.9 .2 13.3 .3-5.2 .4 2.2 .2 10 .4-12.3 .3 4.7 .3-4.6 .3 4.7 .3-14.6 .3 19.4 .2-10.5 .4 8.2 .2-7.7 .3 13.2 .4 3.1 .2-16.5 .5 8.4 .2 64 .3-63 .4-10.1 .3 17.8 .1-19.7 .4 24.8 .4-26.3 .1 13.8 .5-2.7 .2 11.3 .2 7 .3-30.7 .3 10.3 .3 9.5 .3-6.7 .5 16.5 .1-25.1 .5 8.9 .2-7.5 .4 29.5 .3-18.1 .1 7.5 .5-17.4 .2 26.7 .4-17.3 .2 .1 .4 13.7 .1-14 .4-9.5 .3 27.8 .2-32.4 .4 18.5 .3-9.3 .3 81.1 .3-78.3 .3 17.1 .2-19.2 .5 22 .2-19.1 .3 1.4 .2-5.6 .4 5.7 .3-7.1 .2 17.3 .4-12.1 .4-6.2 .3 18.5 .2-25.3 .2 15 .5-6.3 .3 22.8 .2 .1 .3-23.6 .4 10.3 .2-4.9 .4-8 .2 11 .2-9 .4 12.7 .3-7.8 .2 4.5 .4-11.2 .3 8.2 .3-12.2 .3 15.8 .2-7.5 .4 12.9 .3-17.5 .2 15.4 .4-15.6 .3 4.1 .4 42 .1-38.3 .4-4.8 .2 11.1 .5-7.9 .2 20.1 .3-20 .3 12.9 .3-19.4 .2 10.9 .5-6.9 .1 24.1 .4-26.8 .2 12.6 .4-4.4 .3-5 .2 12.1 .3-3.9 .4 39.3 .3-41.3 .3 10.4 .3-12.4 .3 18 .3-18.5 .3 8 .2-11 .4-13 .3 26.4 .4-20.4 .3 16.3 .1-2.9 .4-3.3 .4 9.1 .2 46.7 .4-58.5 .2 15.6 .4-30.2 .2 31.2 .3-31.4 .2 25.9 .3-23.8 .4 19.9 .4 12.9 .2-22.2 .4 18 .2-57.8 .3 58.6 .3-24.6 .4 12.8 .2-1.9 .2 5.2 .3-4.7 .3 2.3 .4 6.2 .3 23.5 .3-24.9 .3-2.4 .3-8.2 .2 11.7 .4-19.9 .2 15.4 .3-28.5 .4 42.5 .3-32.5 .2 31.7 .5-39.6 .1 26.8 .5-14.5 .3-35 .2 20.4 .2 16.4 .5-5.1 .2 14.6 .3-43.6 .3 18.7 .3-2.4 .3 24.5 .2-5.5 .4 13.8 .3-1.6 .3 79.9 .2-75.3 .3-22.2 .4-7.8 .2 9.1 .3-18.2 .4 37 .2-9.3 .4-36.3 .3-10.2 .3 21.4 .4 8.3 .1 2 .4-2.8 .3 35.9 .4-46.9 .3 35.4 .2-25 .4 11.6 .2-8.2 .3 7.8 .3-25.9 .4 16.7 .3-84.6 .2 95 .3-20.8 .2 19.1 .4-18.1 .3 19.8 .2-12.4 .3-2.3 .4 5.2 .3 7.6 .2 5.3 .4-24.8 .4 28.3 .1-19.1 .4 20 .3-30.9 .3 11.5 .3 21.3 .3-29.2 .4 25.3 .1-30.2 .4 24.2 .3-24 .3 32.6 .2-32.2 .4 23.8 .4-4.8 .2-34.8 .4 25.8 .2 22.1 .3-25.5 .4 15.8 .2-28.5 .3 47.5 .3-23.8 .3 55 .3-51.9 .2 32.6 .3-45.5 .5 35.7 .3-27.9 .2 10.1 .3 11.1 .2-20.4 .4 14.4 .3-9.6 .3 4.8 .3-8.6 .2-4.7 .3 57.2 .5-47.2 .2-29.5 .2 49 .4-31 .3-.2 .3 9.6 .3 13.7 .2-14.1 .5-10.9 .3 24.6 .1-11.1 .4 .7 .2-3 .4 34.7 .3-44 .2 29 .4-21.1 .4-7.9 .2-1.4 .2 16.7 .4-8.3 .3 2.5 .3-31 .2-41.7 .4 55.1 .3 21.5 .3-2.5 .4-32.8 .2 31.3 .2 25.2 .5-47.5 .2 30.9 .3-36.9 .4 35.1 .2-26.1 .3 13.6 .3 21.6 .3-35.4 .3 16.9 .2-23.6 .4 20.7 .3 45.4 .2-59.8 .4 28.5 .3-31.9 .2-9.6 .4-24.9 .2 26.6 .4 30.7 .3-31.3 .3 10.6 .3 30.7 .2-28.4 .4 23.6 .2-23.5 .4 32.4 .2-48.1 .5 33.4 .2-41.6 .2 33.7 .4-11.1 .3-.7 .3 6.7 .3 5 .4-7.3 .2 11.7 .3-17.2 .2 9.5 .4-12.8 .3 68.2 .4-53.4 .3-4.8 .2-19.4 .3 4.8 .2-21.3 .4 35.1 .4 14.6 .2-15.9 .3 28.2 .2-36.1 .5 28.2 .2-3.7 .3-28.7 .3 33.5 .3-24.1 .4-5.9 .3 17.5 .3 19.2 .3-37 .3 18.4 .2 3.2 .3-1.1 .3 1.9 .4-19.7 .2 23.4 .2-6.3 .3 11.8 .4-25.7 .3 19.4 .3-2.6 .2 9.2 .5-7.7 .3 11.7 .2-11.1 .3-1.9 .2 10.9 .5-25.7 .2 25.6 .4-14.9 .2-2.9 .4-4.4 .2 32.6 .2-17.4 .5-3.6 .2 3.1 .3-31.6 .3 39.7 .3-28.4 .2 23.2 .3-2.2 .4-9 .3 12.2 .4-1.5 .1-10.5 .4 10 .2-7.1 .4 13.3 .3-11.8 .3-15 .3 11.1 .3 7.8 .2 18.1 .3-23.2 .3 18.1 .4-29.4 .3 35.2 .3-21.4 .2 8.1 .4-13.3 .4 11.4 .2-12.9 .3 12.4 .3-21.3 .3 23 .4-7.2 .2 22.2 .3-17.3 .3-8.8 .3 8.3 .3-1.9 .3 7.6 .2-19.6 .4 18.3 .2-13.5 .4 40.1 .2-40.8 .3 26 .5 1.8 .3-20.7 .2 9.3 .3-17.3 .3 5.7 .2 21.2 .4-34.3 .4-4.2 .2 29.8 .3-13.6 .4 2 .2 23.2 .3-24.5 .3 10.8 .3-8.9 .4 6.8 .2-14.3 .3 16.9 .3-4.5 .3-1.3 .2 3.5 .4 5.5 .3-11.6 .3 12.8 .3-7.9 .4 2.5 .2 2 .4 1.4 .2-4.3 .3 4.6 .3-2.5 .3-2 .4 2.3 .1-1.2 .4 6.8 .2 1.1 .3-9.1 .4 10.1 .4-8.7 .1 4.5 .3-1.6 .3 2.4 .4-6.9 .3 6.5 .3 1.5 .4-9.8 .2 9.5 .4-3.6 .3 2.5 .2-.7 .4 6.8 .2-13.3 .4 10.3 .3-12.1 .2 11.7 .3-2.3 .2 8.7 .3-8.9 .4 3.4 .3-7.8 .3 3.6 .3 1.2 .2-1.8 .5-1.2 .2 3.3 .3 5.9 .3-8 .3 8.9 .2-2.7 .4-10.5 .3-40.8 .3 33.5 .3 33.8 .3-18.4 .4-3.3 .2-8.4 .2 10.8 .4-11.6 .4 15.2 .3-13.8 .2 21.7 .3-20.8 .3 14 .3-12.2 .3 11.2 .3-17.6 .3 14.3 .2-11.6 .4 13.3 .3-23.6 .3 21 .3-9.9 .4 8.6 .2-21.3 .2 19 .4-12.9 .3 25.9 .3-23.2 .4 18.9 .2-8.8 .4-19.9 .2 10.9 .3 19.6 .2-26.1 .5 19.4 .3-13.6 .2 4.7 .4-26.6 .2 14 .2 10.6 .4-25.6 .3 13 .4 21 .2-17.5 .3 10.6 .3 9.2 .3-1 .3-33.2 .3 17.3 .4 .4 .2 16 .3-9.5 .4 28.8 .1 16.2 .5-26.4 .3-14.9 .2-17.8 .4 31.8 .3-.5 .2-5.8 .4-78.8 .3 72.6 .3 33.7 .2-33.4 .4-2 .2 24.7 .3-21 .3 15.3 .3-19.6 .4 36.5 .2 16.5 .3-7.8 .3-39.7 .4 18.6 .1-36.3 .4 36.6 .4-15.6 .3 42.9 .2-27.6 .2-14 .4 38.1 .3-44 .2 88.5 .3-88.9 .4 54.8 .3-70.5 .3 35.3 .3-17.2 .3 25.6 .3-3.9 .2-15.9 .4 7.2 .4 77.7 .3-122.7 .2 52.2 .4-32.3 .2-52.3 .2 19.2 .4 91.7 .3-15.2 .3-60.5 .3 51.5 .4-52.9 .3 38.8 .1 7.7 .4-47.4 .2 39.4 .3 73 .4-100.3 .3-14.2 .3 29.8 .3-7.6 .3 13.7 .3-66.3 .3 72.4 .2-48.4 .4 44 .3 26 .4-82.1 .3 56.8 .2-22.3 .2 9.3 .4-17.1 .3 26 .2-34.3 .4 19.5 .3-4.8 .3-5 .4 2.4 .2 14.2 .3-34.7 .3 45.9 .2-46.4 .4 3.1 .4-19.3 .2 28.5 .3 9.5 .3-18.7 .2 14.9 .4-11.1 .2 13.8 .4 4.5 .3-13.9 .2 14 .4-12 .3 17.7 .2-33.3 .3 19.6 .4-5.6 .4-19.8 .2 32.4 .3 2 .4-20 .2 6.6 .3 3.2 .2-4.3 .4 15 .3-16.8 .2 24.7 .4-58.2 .3 82.6 .4-40 .3-27.7 .2 35 .4-38.8 .3 41.5 .2-20.7 .3 15.6 .3-17.9 .3 23.5 .2-31.6 .4-1.5 .2 25.8 .4 4.3 .4-20.7 .2 24.7 .4-34.8 .2 33.8 .3-18.8 .4 27.8 .1 99.9 .3-109.3 .4-6 .3 11.4 .4-9.3 .3 8.3 .2-10 .3 29.2 .4-38.4 .2 33.3 .3-19.6 .3-19 .3 18.5 .4 26.2 .2 16.9 .3-67.2 .2 35.9 .4 48.3 .4-31.5 .2-7.4 .3-53.5 .3-5.2 .2 55.7 .5-42.2 .2 62.2 .4-70.5 .3 54.9 .2-3.4 .3-22.7 .4 103 .2-119.5 .4 21.8 .3 1.4 .2 2.3 .3-36.1 .3 .8 .2 44.6 .4-36.3 .3 24.3 .4-33.2 .2-3.2 .4 29.9 .2-21.5 .3 12.8 .3-13.2 .2 17.3 .4-35.1 .3 46.2 .3-55.3 .4 30.9 .2-65 .4 49.4 .1 9.4 .5-14.6 .3 23.1 .2-30.4 .3 33 .3-20 .2 11.5 .3-35.2 .4 38.2 .2-17.8 .5 9.4 .1 6.6 .4 8.2 .3-44.8 .3 87.9 .2-64.1 .5 48.1 .2-42.5 .3 13 .2-2.9 .5-23.4 .2 30.3 .3-25.6 .2 30.8 .4-33.8 .3 20 .3-28 .3-18.8 .3-2.4 .3 29.4 .3 35.1 .3-4.9 .2-19 .4 46.2 .3-45.4 .3 16.1 .4-21.1 .2 52 .3-40.1 .3 48.9 .3-65.7 .4-18.5 .3 65.5 .1-33.7 .4 39.9 .3-53.3 .3 30.1 .3-5.3 .2-5.2 .4 30.7 .4-29.2 .1 .5 .4 41.4 .3-20.3 .3-14.2 .4 15.4 .1 37.6 .5-19.7 .2-51 .3 24.8 .3-5.1 .3 5.7 .2-27.7 .4 42 .2-17.5 .5 16.2 .2-11.2 .2-24.7 .5 31.4 .2-11.7 .3 21 .4-24.7 .2 4.1 .2 18.7 .5-33.7 .2 25.7 .3-18.8 .2 1.8 .4 6.5 .3 10.8 .3-15.2 .4 17.2 .2-2.9 .4-16.8 .1 17 .3-15.8 .4 56.1 .3-52.4 .4 3.6 .3-6.9 .2 11.7 .3-6.2 .2 1.4 .4-5.1 .4 .4 .2 2.7 .3-1.1 .2-2.7 .3 4 .5-4.3 .2-4.1 .4-4.4 .2 4.1 .3-2.8 .3-1.6 .2-.9 .4-4.7 .3 8.9 .3-2.2 .2 5.6 .4-4.2 .2 7.4 .3 1.7 .4 4 .4-.9 .1 1.7 .4 6.9 .3-1.5 .4 5.1 .3-3.1 .2 .4 .4-1.2 .2-.2 .4 .1 .2 .7 .3-6.5 .2 5.3 .3-29.5 .5 34.9 .2-11.3 .3-4.3 .3 12.5 .4-7.9 .2 11 .3-6.8 .2-4.7 .4-5.1 .4 9.5 .2-11.3 .3 8 .3-12.7 .3 18.2 .2-12.2 .3 7.5 .3-4.6 .3 1.8 .4 3.1 .3-8.2 .3 6.5 .4-11 .2 11.3 .4-3.1 .2 4.7 .4-7 .1 13.8 .4-11.3 .3 3.5 .3 3.2 .3-.4 .4 3 .3 1.1 .2-3.7 .4-16.2 .2 6.5 .2-2.3 .3 .3 .3 10.4 .5 1.9 .1-19 .5 12.7 .1-7.8 .5 17.2 .3 25 .1-31.4 .5-7 .1 6.4 .4-36.4 .3-23.6 .4-15.8 .2 6.1 .3-7.5 .3-4.9 .3 12.9 .4-16.8 .2 18.7 .3-21.3 .3 14.8 .2-14.2 .4 16.1 .3-8.8 .3 8 .2-12.8 .4 16 .3 34.6 .4-37.3 .2-4 .2 4.7 .4-6.4 .3 5.2 .2-5.4 .3 .9 .4 14.2 .3-24.4 .3 11.4 .3 12.2 .3-10.5 .3 2.1 .2-7.6 .4 9.2 .3-7.7 .2 18.6 .4-17.3 .3 6.1 .3-11.4 .4 20.5 .3-21.5 .1 67.2 .4-66.6 .3 23.5 .3-12.2 .4 2.5 .2-3.2 .4 6.5 .3-4.5 .3 2.2 .2-3.6 .3 7.8 .3-32.9 .3 33.5 .3-5.9 .3 3.3 .3-6 .2 5.6 .5-3.7 .2-1.6 .3 8.8 .4 4.5 .2-13 .3 11.4 .3-2.8 .3-6.4 .3-1.1 .4-3.8 .2 17.2 .2-5.1 .4-4.5 .2 10.6 .4-14.5 .3-6.3 .2 11.3 .4-6 .3 5.8 .3-5.2 .3 7.3 .3-11.2 .2-50 .4 61.3 .4-8.4 .1-9.2 .3 26.4 .3-9.6 .4-15.1 .3 15.8 .3-5 .3 8.2 .4 34.5 .1-42 .4-2.6 .3 4.5 .3-9.8 .4-1.1 .1 13.7 .3-6.6 .4 6.2 .3-14 .2 31.9 .3-26 .4 15.1 .4-22.1 .1 7 .3 7.8 .3-11.3 .3 15.7 .4-17.2 .2 16.6 .4 15.9 .3-26.4 .3 12.6 .4-13.3 .3 23.3 .3-14.4 .2 5.5 .3-9.7 .3 21 .2-23.2 .3 14.4 .3-4.1 .4-32.9 .2 41.8 .4-7.1 .3 2.4 .2 8.2 .3-15.9 .3 12.4 .4-19 .2 18.7 .4-8.5 .3 16.6 .3-26.4 .4 19 .2-17.5 .4 25.6 .1-8.5 .3 18.4 .5 39.4 .1-63.4 .4 22.7 .4-3.3 .1 4.3 .4-29.7 .3 19 .2 3.3 .5-13.2 .2 7.5 .3 6.5 .3-1.2 .3 5.2 .3-2.3 .3 19.9 .3-17.5 .3-83.3 .2 79.7 .4 12.2 .4 26 .2-26 .3-61.1 .4 65.3 .1-8.4 .4 7 .2-6.6 .4 9.8 .2-8.1 .4 2.8 .3 2.6 .3-4.4 .4-.4 .2 7.2 .3-3.6 .2 2.1 .3 4.7 .5-10.2 .3 10.5 .2-10.3 .3 11.2 .4-5.2 .2-3.7 .3 2.5 .2-1.7 .4 6.4 .2-13.7 .3 10 .4-1.4 .3-6.9 .3 5 .3 2.8 .4-2.1 .2 0 .3-3.8 .3 4.5 .2-2.7 .4 7.3 .2-20 .4 22.1 .3-1.5 .2-4.1 .4 1 .2-13 .4-3.8 .3 21 .2 23.8 .3-27.1 .4-28.7 .3-3.7 .3 32.1 .3-21.8 .4 17.5 .2-14.6 .3 5.7 .3 10.4 .4 4.4 .2-17.3 .4 9.6 .1-4 .3-12.4 .4 6.7 .3 10.3 .3 12.4 .4 2 .2-15.5 .3-1.8 .2 21.2 .4-28.6 .3 6.2 .3 24.3 .3-26.4 .4 25.5 .2-19.5 .3 18.5 .3-11.2 .2 4.4 .4-15.9 .3 14.5 .3-2.8 .4 12.2 .3-12.9 .2 11.8 .3-23.4 .2 21.6 .3-6.7 .5 7.7 .3-12.5 .2 20.7 .3-23.3 .3 23.8 .2-19.3 .3 13.7 .4-18 .2 14.4 .4-5.3 .4 1.3 .2-4.6 .3 15.4 .4-11.2 .3-9 .3 12.6 .3 9.5 .3-13.5 .1 11.3 .5-11.3 .3 12.8 .2 .6 .2-4.3 .5-9 .2 50.8 .4-58.1 .2 24.3 .3-8.1 .2 9.3 .5 15.7 .3-24.2 .2 4.4 .2-2.4 .3-5.8 .3-14 .5 19.4 .3-16.7 .2 25.3 .3-37 .3 28 .3-10.3 .3-9.5 .2 21.4 .3-18.4 .5 13.7 .3-27.5 .2 26.7 .4-18.9 .2 7.5 .3 2.1 .4-3.3 .2 20.4 .3-20.5 .2 2.6 .4-11.5 .3 9 .4-9 .2 8.4 .2-13.5 .3-18.9 .4 21.8 .3 22.4 .2 1.4 .3-14.9 .4-18.7 .4 28.1 .2-12.1 .4 13.5 .2-13.9 .4 18.5 .2-23.2 .3 26.3 .4-26.5 .1 29.8 .3-7.3 .4-9.9 .3 13.3 .3-27.4 .3 41.9 .2-11.9 .4-25.7 .3 13.1 .2 22.3 .5 6.2 .2-49.1 .2 60 .4-58.6 .2 33.6 .3-17.5 .5-6.7 .3 21.2 .2 16.4 .2-43.2 .4-.4 .4 16 .1 4 .4-26.1 .2 31.8 .4 1.9 .3-18.1 .3-11.1 .3 41.4 .3-4.4 .3-18.5 .2-22.7 .3 33.9 .4-14.2 .4 9.8 .1-18.9 .4 11.9 .2-24 .5 31.5 .2-13.5 .3 21.9 .4-23 .2-13.3 .2 23.8 .4-13.8 .3 6.6 .3 4.9 .4 6.3 .2-13.9 .4 3.8 .2-16.1 .2 15.5 .5-5.5 .2-.8 .3 6.9 .3-14.6 .3 15.8 .2-10.8 .4-1.7 .3 18 .4-29.9 .3 46.6 .1-41.4 .4 14.9 .2-6.6 .3 9 .4-10.1 .2 14.7 .3-27.1 .5 12.6 .1-3.8 .4 7.4 .4-14.1 .1 15.9 .4-25.6 .4 16.2 .2 19.7 .3-42.6 .4 24.7 .1-5.3 .5 4.4 .2-25.8 .3 28 .2-26.8 .4-7.3 .2 2.5 .4 38.5 .2-24.4 .4 11.3 .2-4.5 .4-6 .3 8.7 .3 3 .4 .5 .2-20 .3 4.8 .3 26.2 .4-16.6 .2 8.2 .2-10.7 .4 13.8 .3-5.3 .3 3.7 .2-7.8 .4 13.8 .3-8.7 .4 5 .3-8.7 .1 16.6 .3-8 .4-10 .3 16.4 .3-15.5 .2 14.8 .3-.9 .4-18.1 .2 12.3 .5-10.9 .1 5.7 .5-2.2 .3 9 .2-4 .3-10.4 .4 20.3 .2-13.9 .4 9 .2-11.6 .3 9.5 .3-13.8 .4 18.6 .3-14 .3 20.9 .2-13 .2 2.5 .4 1.9 .4-15.7 .3-1 .1 11.8 .3 4.2 .4-8 .4 11.5 .2 31.9 .3-40.2 .3-10.5 .3 1.7 .3 13.6 .3-13.9 .4 2.8 .3 6.4 .2 2.6 .3-10.6 .3 15 .2-17 .5 7.9 .1-7.8 .3 6.6 .4-11.5 .3 14.2 .2-9 .5 9.6 .2-10.7 .2 1.1 .5 3.7 .2 3.6 .3-11 .3-.6 .2 5.8 .3-3.3 .4-6.9 .3 6.5 .3-9 .3 7.9 .4-10.7 .2 10.8 .2 6.7 .5-17.7 .2 .2 .2 11 .4-17.5 .3 3.8 .3 9.8 .3 46.1 .4-40 .1-20.6 .4-1.9 .3 25.1 .2-21.3 .4 9.8 .3-5.9 .3 17.3 .3-18.4 .4 10.3 .2-32.6 .2 30.3 .5-16.6 .2 25.4 .4-20.5 .2-3.8 .3 25.9 .4-32.4 .1 22 .4-6.4 .2-10.7 .4 10.5 .4 2.4 .2-7.9 .3-32.4 .3 9.1 .3 33.1 .3-32.6 .2 26 .5-34.2 .2 13.6 .3 1.4 .3 13 .3 5.3 .3 46.2 .3-73.1 .4 27.3 .1-11.5 .4-7.9 .4 15.7 .2-27.5 .3 27.8 .2 .2 .4-10.8 .3 13.6 .4-15.1 .1 31.3 .4-19.7 .3 15.9 .4-4.2 .2-3 .2 4.4 .5-4.1 .3 4.3 .2 1 .3 .1 .4 2 .3-8.1 .3 10.8 .2-8.7 .3 1.8 .2 3.7 .4-13 .2 8.5 .3-.6 .5 2.3 .2-3.7 .2 3.4 .3-2.2 .4-6.2 .3 7.1 .3-7.4 .4 10.6 .3-7.2 .2 5.2 .3-3.4 .3 6.4 .3-6.4 .4 3.1 .2-4.2 .3 5.2 .3-7.7 .2 8.6 .4-5.4 .2 6.1 .5-7 .3 10 .2 2.5 .4-5.7 .2 1.6 .3 8.9 .3-13 .4 9.1 .2-7 .3 10 .2-2.2 .4 4.9 .3-10.2 .2 10.3 .4-12.9 .2 8.7 .4 1.9 .3-5.4 .2 2 .3-.7 .5 2.9 .2-3.4 .3 5.9 .3-13.9 .3 12.3 .3 .2 .3-6.7 .3-6.1 .4 7.9 .1 7.1 .4-1.3 .3-9.6 .3 3 .3-4 .3 4.7 .3-1.4 .3-2.9 .3-4.9 .3 6.2 .3-3.9 .4 13.6 .3-12.1 .3-3.3 .3 4.5 .3 3.5 .2-12.3 .4 18.8 .2-14 .2-2.4 .4 7.2 .3-7 .4 .3 .2 14.3 .3-14.8 .3 12.5 .3-10.2 .2 2.6 .4-5.2 .3 7.8 .3 4 .2 1.7 .4 29.8 .3-42.5 .3 13.3 .3-20.7 .2-10.8 .4 40.5 .3-37.9 .3 22.5 .4-3.6 .2 15 .4-19.4 .2 19 .3-2.7 .3-15.8 .3 9.3 .4-3 .2 8.5 .3-12.5 .3 11 .3-12.6 .3 15.2 .3-6.2 .3 13.5 .3-9.3 .3 2.6 .3-2.5 .3 1.9 .3-5.4 .4 10 .2-9 .2 12 .3-6.6 .4 2 .3-5.7 .3 3.9 .2 1.1 .3-1.5 .4 6.9 .4-10 .2 12.2 .3 1.3 .3-10.1 .3-1.2 .4 5.9 .2-3.2 .3-.4 .2 3.3 .3-1.6 .5 9.9 .2-12.2 .3 7.6 .4-9.8 .1 9 .4 5.4 .4-15.3 .1 17.8 .5-5 .1-6.6 .4-.9 .3 6.6 .2-7.4 .5 8.1 .2-4.8 .2 6.6 .4-3.1 .4 6.7 .2-3.2 .4-2 .2 4.1 .4-.7 .2 3.6 .4-3.9 .2 6.5 .4-10.3 .3 6.1 .1-7.6 .4 2.9 .4 12.7 .1-8.5 .4-.5 .4 9.1 .2 20.8 .3-16.6 .2-11.3 .5 6.5 .2-8.4 .3-3.3 .4 15.4 .2-14 .3 13.3 .2-11.1 .4 11.1 .4-8.5 .3 7.9 .3 8.2 .2-14.5 .3 5.7 .3 8.5 .4-19.7 .2 15.5 .2-6.9 .3-.2 .5-1 .2 14.4 .3-14.6 .3-8.1 .3 12.4 .3-7.7 .3 2.4 .2 17.1 .5-19.1 .3-20.4 .2 19.3 .3 6.1 .4 13 .3-35.9 .1 25.5 .4-4.3 .2 .4 .3 3 .3 20 .4-8.5 .3-23.8 .3 42.1 .2-25.5 .4 5.3 .3-3.9 .3 30.9 .4-24.3 .2-11.4 .2 12.1 .3-14.6 .4 19.1 .2-27.1 .4 29.5 .3-4 .2-3.6 .5 2.7 .3-16.8 .2 27.5 .4-10 .2-3.5 .3-9.8 .3 20.6 .3 15.7 .3-43 .3 26.9 .4-22.4 .3 18.8 .2 7.2 .3-29.5 .3 26.2 .3-28.5 .4 17.6 .3-8.8 .2 7.2 .3-16.7 .3 13.6 .4-4.6 .1 7.9 .4-11.8 .3 7.6 .3-13.3 .4 6.7" stroke="#f00" stroke-width="2.6" stroke-linejoin="round"/>
<path d="M1205.7 508.5L1207.5 517.5L1211.2 510.7L1220.2 521.7L1226.2 517.5L1233 519.7L1242 518.2L1247.2 514.9L1254 518.2L1257 518.7L1263.7 523.8L1266.7 523.2L1270.5 516L1272.7 514.5L1276.5 519L1279.5 526.2L1282.2 528.3L1285.5 525.7L1290 529.8L1294.5 533.2L1299.7 529.5L1304.2 524.2L1310.2 521.2L1313.2 520.8L1316.2 518.2L1320 517.8L1322.7 516.7L1327.5 519.7L1332 519.7L1341 520.8L1346.2 513L1350 505.8L1353.3 505.2L1356.7 513.7L1360.2 511.5L1365 514.2L1368.7 516L1374 513L1378.2 511.5L1381.5 516L1385.2 519.3L1390.5 533.7L1393.8 532.8L1399.5 537.7L1403.2 540.3L1406.2 535.8L1411.5 535.8L1415.2 534.3L1419 530.2L1422 529.5L1424.7 525.3L1427.7 528.7L1431 540.7L1434 532.2L1437 531.9L1443 533.2L1449.7 528.3L1452.7 526.8L1456.5 526.2L1462.5 522.3L1464.5 520.8L1470.5 518.7L1474.2 518.7L1480.2 516L1484 517.8L1487 509.2L1490 507.3L1493 511.5L1496 517.2L1499.3 515.2L1502.3 518.7L1505.3 536.7L1508.3 537.3L1511.7 541.8L1514.7 534.3L1517.7 531.7L1521.5 534.7L1524.5 537L1527.5 537.3L1530.5 535.5L1533.5 530.2L1536.5 528.7L1540.2 528.3L1545.5 525.7L1549.2 523.2L1554.5 523.2L1558.2 524.7L1561.2 525.7L1565 521.2L1570.2 513L1573.5 507.7L1576.7 513.3L1580 527.7L1583 525.3L1586 526.8L1590.5 525.3L1594.2 524.2L1598.7 520.8L1601.7 520.8L1604.7 522.7L1607.7 516.7L1610.7 515.2L1614.5 516L1617.5 513.7L1620.5 510.7L1625 510.7L1629.5 511.5L1632.5 516.7L1636.2 519.7L1639.2 517.5L1642.2 512.2L1647.5 512.2L1650.5 519L1654.2 528.7L1657.2 528L1660.2 529.5L1664 536.7L1669.5 539.2L1673 534.7L1676 531.7L1679.3 526.2L1682.7 525L1688 525L1691.7 523.8L1694.7 519.3L1697.7 517.5L1700.7 521.2L1704.5 520.8L1709 520.2L1712.7 517.8L1716.5 513L1719.5 507.7L1722.8 502.5" stroke="#000" stroke-width="2.3" stroke-linejoin="round"/>
<path d="M1726.3 822L1726.3 478" stroke="#000" stroke-width="2.78" stroke-dasharray="2.78 4.59" stroke-dashoffset="0.8"/>
<path d="M1205 788.5L1211 788.5" stroke-width="1.3" stroke="#000"/>
<text x="1199" y="795" font-size="19.44" text-anchor="end">−400</text>
<path d="M1205 719.5L1211 719.5" stroke-width="1.3" stroke="#000"/>
<text x="1199" y="726.2" font-size="19.44" text-anchor="end">−300</text>
<path d="M1205 650.5L1211 650.5" stroke-width="1.3" stroke="#000"/>
<text x="1199" y="657.4" font-size="19.44" text-anchor="end">−200</text>
<path d="M1205 581.5L1211 581.5" stroke-width="1.3" stroke="#000"/>
<text x="1199" y="588.6" font-size="19.44" text-anchor="end">−100</text>
<path d="M1205 512.5L1211 512.5" stroke-width="1.3" stroke="#000"/>
<text x="1199" y="519.8" font-size="19.44" text-anchor="end">0</text>
<path d="M1800 822.5L1795 822.5" stroke-width="1.3" stroke="#f00"/>
<text x="1805.7" y="829.8" font-size="19.44" fill="#f00">10<tspan font-size="13.61" dy="-7.19">−2</tspan></text>
<path d="M1800 796.5L1797 796.5" stroke-width="1.05" stroke="#f00"/>
<path d="M1800 781.5L1797 781.5" stroke-width="1.05" stroke="#f00"/>
<path d="M1800 770.5L1797 770.5" stroke-width="1.05" stroke="#f00"/>
<path d="M1800 762.5L1797 762.5" stroke-width="1.05" stroke="#f00"/>
<path d="M1800 755.5L1797 755.5" stroke-width="1.05" stroke="#f00"/>
<path d="M1800 749.5L1797 749.5" stroke-width="1.05" stroke="#f00"/>
<path d="M1800 744.5L1797 744.5" stroke-width="1.05" stroke="#f00"/>
<path d="M1800 740.5L1797 740.5" stroke-width="1.05" stroke="#f00"/>
<path d="M1800 736.5L1795 736.5" stroke-width="1.3" stroke="#f00"/>
<text x="1805.7" y="743.8" font-size="19.44" fill="#f00">10<tspan font-size="13.61" dy="-7.19">−1</tspan></text>
<path d="M1800 710.5L1797 710.5" stroke-width="1.05" stroke="#f00"/>
<path d="M1800 695.5L1797 695.5" stroke-width="1.05" stroke="#f00"/>
<path d="M1800 684.5L1797 684.5" stroke-width="1.05" stroke="#f00"/>
<path d="M1800 676.5L1797 676.5" stroke-width="1.05" stroke="#f00"/>
<path d="M1800 669.5L1797 669.5" stroke-width="1.05" stroke="#f00"/>
<path d="M1800 663.5L1797 663.5" stroke-width="1.05" stroke="#f00"/>
<path d="M1800 658.5L1797 658.5" stroke-width="1.05" stroke="#f00"/>
<path d="M1800 654.5L1797 654.5" stroke-width="1.05" stroke="#f00"/>
<path d="M1800 650.5L1795 650.5" stroke-width="1.3" stroke="#f00"/>
<text x="1805.7" y="657.8" font-size="19.44" fill="#f00">10<tspan font-size="13.61" dy="-7.19">0</tspan></text>
<path d="M1800 624.5L1797 624.5" stroke-width="1.05" stroke="#f00"/>
<path d="M1800 609.5L1797 609.5" stroke-width="1.05" stroke="#f00"/>
<path d="M1800 598.5L1797 598.5" stroke-width="1.05" stroke="#f00"/>
<path d="M1800 590.5L1797 590.5" stroke-width="1.05" stroke="#f00"/>
<path d="M1800 583.5L1797 583.5" stroke-width="1.05" stroke="#f00"/>
<path d="M1800 577.5L1797 577.5" stroke-width="1.05" stroke="#f00"/>
<path d="M1800 572.5L1797 572.5" stroke-width="1.05" stroke="#f00"/>
<path d="M1800 568.5L1797 568.5" stroke-width="1.05" stroke="#f00"/>
<path d="M1800 564.5L1795 564.5" stroke-width="1.3" stroke="#f00"/>
<text x="1805.7" y="571.8" font-size="19.44" fill="#f00">10<tspan font-size="13.61" dy="-7.19">1</tspan></text>
<path d="M1800 538.5L1797 538.5" stroke-width="1.05" stroke="#f00"/>
<path d="M1800 523.5L1797 523.5" stroke-width="1.05" stroke="#f00"/>
<path d="M1800 512.5L1797 512.5" stroke-width="1.05" stroke="#f00"/>
<path d="M1800 504.5L1797 504.5" stroke-width="1.05" stroke="#f00"/>
<path d="M1800 497.5L1797 497.5" stroke-width="1.05" stroke="#f00"/>
<path d="M1800 491.5L1797 491.5" stroke-width="1.05" stroke="#f00"/>
<path d="M1800 486.5L1797 486.5" stroke-width="1.05" stroke="#f00"/>
<path d="M1800 482.5L1797 482.5" stroke-width="1.05" stroke="#f00"/>
<path d="M1800 478.5L1795 478.5" stroke-width="1.3" stroke="#f00"/>
<text x="1805.7" y="485.8" font-size="19.44" fill="#f00">10<tspan font-size="13.61" dy="-7.19">2</tspan></text>
<path d="M1245.5 822L1245.5 816.8" stroke-width="1.3" stroke="#000"/>
<path d="M1320.5 822L1320.5 816.8" stroke-width="1.3" stroke="#000"/>
<path d="M1394.5 822L1394.5 816.8" stroke-width="1.3" stroke="#000"/>
<path d="M1468.5 822L1468.5 816.8" stroke-width="1.3" stroke="#000"/>
<path d="M1544.5 822L1544.5 816.8" stroke-width="1.3" stroke="#000"/>
<path d="M1617.5 822L1617.5 816.8" stroke-width="1.3" stroke="#000"/>
<path d="M1692.5 822L1692.5 816.8" stroke-width="1.3" stroke="#000"/>
<path d="M1767.5 822L1767.5 816.8" stroke-width="1.3" stroke="#000"/>
<rect x="1205" y="478" width="595" height="344" fill="none" stroke="#000" stroke-width="2.0"/>
<path d="M1800 477L1800 821" stroke-width="2" stroke="#f00"/>
<text x="1106" y="653.5" font-size="24" text-anchor="middle" transform="rotate(-90 1106 653.5)">Dst</text>
<text x="1138" y="651.5" font-size="24" text-anchor="middle" transform="rotate(-90 1138 651.5)">( nT )</text>
<text x="1876" y="650" font-size="24" text-anchor="middle" fill="#f00" transform="rotate(-90 1876 650)">SW Pressure</text>
<text x="1908" y="650" font-size="24" text-anchor="middle" fill="#f00" transform="rotate(-90 1908 650)">( nPa )</text>
</g>
<g id="r3">
<path d="M1205 931L1800 931" stroke="#000" stroke-width="2.08" stroke-dasharray="2.08 3.43" stroke-dashoffset="-1"/>
<path d="M1726.3 1017L1726.3 845" stroke="#000" stroke-width="2.78" stroke-dasharray="2.78 4.59" stroke-dashoffset="0.8"/>
<path d="M1205 1017.5L1211 1017.5" stroke-width="1.3" stroke="#000"/>
<path d="M1800 1017.5L1795 1017.5" stroke-width="1.3" stroke="#000"/>
<text x="1199" y="1024.8" font-size="19.44" text-anchor="end">10<tspan font-size="13.61" dy="-7.19">−1</tspan></text>
<path d="M1205 1004.5L1209 1004.5" stroke-width="1.05" stroke="#000"/>
<path d="M1800 1004.5L1797 1004.5" stroke-width="1.05" stroke="#000"/>
<path d="M1205 996.5L1209 996.5" stroke-width="1.05" stroke="#000"/>
<path d="M1800 996.5L1797 996.5" stroke-width="1.05" stroke="#000"/>
<path d="M1205 991.5L1209 991.5" stroke-width="1.05" stroke="#000"/>
<path d="M1800 991.5L1797 991.5" stroke-width="1.05" stroke="#000"/>
<path d="M1205 987.5L1209 987.5" stroke-width="1.05" stroke="#000"/>
<path d="M1800 987.5L1797 987.5" stroke-width="1.05" stroke="#000"/>
<path d="M1205 984.5L1209 984.5" stroke-width="1.05" stroke="#000"/>
<path d="M1800 984.5L1797 984.5" stroke-width="1.05" stroke="#000"/>
<path d="M1205 981.5L1209 981.5" stroke-width="1.05" stroke="#000"/>
<path d="M1800 981.5L1797 981.5" stroke-width="1.05" stroke="#000"/>
<path d="M1205 978.5L1209 978.5" stroke-width="1.05" stroke="#000"/>
<path d="M1800 978.5L1797 978.5" stroke-width="1.05" stroke="#000"/>
<path d="M1205 976.5L1209 976.5" stroke-width="1.05" stroke="#000"/>
<path d="M1800 976.5L1797 976.5" stroke-width="1.05" stroke="#000"/>
<path d="M1205 974.5L1211 974.5" stroke-width="1.3" stroke="#000"/>
<path d="M1800 974.5L1795 974.5" stroke-width="1.3" stroke="#000"/>
<text x="1199" y="981.8" font-size="19.44" text-anchor="end">10<tspan font-size="13.61" dy="-7.19">0</tspan></text>
<path d="M1205 961.5L1209 961.5" stroke-width="1.05" stroke="#000"/>
<path d="M1800 961.5L1797 961.5" stroke-width="1.05" stroke="#000"/>
<path d="M1205 953.5L1209 953.5" stroke-width="1.05" stroke="#000"/>
<path d="M1800 953.5L1797 953.5" stroke-width="1.05" stroke="#000"/>
<path d="M1205 948.5L1209 948.5" stroke-width="1.05" stroke="#000"/>
<path d="M1800 948.5L1797 948.5" stroke-width="1.05" stroke="#000"/>
<path d="M1205 944.5L1209 944.5" stroke-width="1.05" stroke="#000"/>
<path d="M1800 944.5L1797 944.5" stroke-width="1.05" stroke="#000"/>
<path d="M1205 941.5L1209 941.5" stroke-width="1.05" stroke="#000"/>
<path d="M1800 941.5L1797 941.5" stroke-width="1.05" stroke="#000"/>
<path d="M1205 938.5L1209 938.5" stroke-width="1.05" stroke="#000"/>
<path d="M1800 938.5L1797 938.5" stroke-width="1.05" stroke="#000"/>
<path d="M1205 935.5L1209 935.5" stroke-width="1.05" stroke="#000"/>
<path d="M1800 935.5L1797 935.5" stroke-width="1.05" stroke="#000"/>
<path d="M1205 933.5L1209 933.5" stroke-width="1.05" stroke="#000"/>
<path d="M1800 933.5L1797 933.5" stroke-width="1.05" stroke="#000"/>
<path d="M1205 931.5L1211 931.5" stroke-width="1.3" stroke="#000"/>
<path d="M1800 931.5L1795 931.5" stroke-width="1.3" stroke="#000"/>
<text x="1199" y="938.8" font-size="19.44" text-anchor="end">10<tspan font-size="13.61" dy="-7.19">1</tspan></text>
<path d="M1205 918.5L1209 918.5" stroke-width="1.05" stroke="#000"/>
<path d="M1800 918.5L1797 918.5" stroke-width="1.05" stroke="#000"/>
<path d="M1205 910.5L1209 910.5" stroke-width="1.05" stroke="#000"/>
<path d="M1800 910.5L1797 910.5" stroke-width="1.05" stroke="#000"/>
<path d="M1205 905.5L1209 905.5" stroke-width="1.05" stroke="#000"/>
<path d="M1800 905.5L1797 905.5" stroke-width="1.05" stroke="#000"/>
<path d="M1205 901.5L1209 901.5" stroke-width="1.05" stroke="#000"/>
<path d="M1800 901.5L1797 901.5" stroke-width="1.05" stroke="#000"/>
<path d="M1205 898.5L1209 898.5" stroke-width="1.05" stroke="#000"/>
<path d="M1800 898.5L1797 898.5" stroke-width="1.05" stroke="#000"/>
<path d="M1205 895.5L1209 895.5" stroke-width="1.05" stroke="#000"/>
<path d="M1800 895.5L1797 895.5" stroke-width="1.05" stroke="#000"/>
<path d="M1205 892.5L1209 892.5" stroke-width="1.05" stroke="#000"/>
<path d="M1800 892.5L1797 892.5" stroke-width="1.05" stroke="#000"/>
<path d="M1205 890.5L1209 890.5" stroke-width="1.05" stroke="#000"/>
<path d="M1800 890.5L1797 890.5" stroke-width="1.05" stroke="#000"/>
<path d="M1205 888.5L1211 888.5" stroke-width="1.3" stroke="#000"/>
<path d="M1800 888.5L1795 888.5" stroke-width="1.3" stroke="#000"/>
<text x="1199" y="895.8" font-size="19.44" text-anchor="end">10<tspan font-size="13.61" dy="-7.19">2</tspan></text>
<path d="M1205 875.5L1209 875.5" stroke-width="1.05" stroke="#000"/>
<path d="M1800 875.5L1797 875.5" stroke-width="1.05" stroke="#000"/>
<path d="M1205 867.5L1209 867.5" stroke-width="1.05" stroke="#000"/>
<path d="M1800 867.5L1797 867.5" stroke-width="1.05" stroke="#000"/>
<path d="M1205 862.5L1209 862.5" stroke-width="1.05" stroke="#000"/>
<path d="M1800 862.5L1797 862.5" stroke-width="1.05" stroke="#000"/>
<path d="M1205 858.5L1209 858.5" stroke-width="1.05" stroke="#000"/>
<path d="M1800 858.5L1797 858.5" stroke-width="1.05" stroke="#000"/>
<path d="M1205 855.5L1209 855.5" stroke-width="1.05" stroke="#000"/>
<path d="M1800 855.5L1797 855.5" stroke-width="1.05" stroke="#000"/>
<path d="M1205 852.5L1209 852.5" stroke-width="1.05" stroke="#000"/>
<path d="M1800 852.5L1797 852.5" stroke-width="1.05" stroke="#000"/>
<path d="M1205 849.5L1209 849.5" stroke-width="1.05" stroke="#000"/>
<path d="M1800 849.5L1797 849.5" stroke-width="1.05" stroke="#000"/>
<path d="M1205 847.5L1209 847.5" stroke-width="1.05" stroke="#000"/>
<path d="M1800 847.5L1797 847.5" stroke-width="1.05" stroke="#000"/>
<path d="M1205 845.5L1211 845.5" stroke-width="1.3" stroke="#000"/>
<path d="M1800 845.5L1795 845.5" stroke-width="1.3" stroke="#000"/>
<text x="1199" y="852.8" font-size="19.44" text-anchor="end">10<tspan font-size="13.61" dy="-7.19">3</tspan></text>
<path d="M1245.5 1017L1245.5 1011.8" stroke-width="1.3" stroke="#000"/>
<text x="1245.29" y="1036.6" font-size="19.44" text-anchor="middle">31</text>
<path d="M1320.5 1017L1320.5 1011.8" stroke-width="1.3" stroke="#000"/>
<text x="1319.66" y="1036.6" font-size="19.44" text-anchor="middle">01</text>
<path d="M1394.5 1017L1394.5 1011.8" stroke-width="1.3" stroke="#000"/>
<text x="1394.04" y="1036.6" font-size="19.44" text-anchor="middle">02</text>
<path d="M1468.5 1017L1468.5 1011.8" stroke-width="1.3" stroke="#000"/>
<text x="1468.41" y="1036.6" font-size="19.44" text-anchor="middle">03</text>
<path d="M1544.5 1017L1544.5 1011.8" stroke-width="1.3" stroke="#000"/>
<text x="1542.79" y="1036.6" font-size="19.44" text-anchor="middle">04</text>
<path d="M1617.5 1017L1617.5 1011.8" stroke-width="1.3" stroke="#000"/>
<text x="1617.16" y="1036.6" font-size="19.44" text-anchor="middle">05</text>
<path d="M1692.5 1017L1692.5 1011.8" stroke-width="1.3" stroke="#000"/>
<text x="1691.54" y="1036.6" font-size="19.44" text-anchor="middle">06</text>
<path d="M1767.5 1017L1767.5 1011.8" stroke-width="1.3" stroke="#000"/>
<text x="1765.91" y="1036.6" font-size="19.44" text-anchor="middle">07</text>
<rect x="1205" y="845" width="595" height="172" fill="none" stroke="#000" stroke-width="2.0"/>
<text x="1106" y="932.7" font-size="24" text-anchor="middle" transform="rotate(-90 1106 932.7)">&gt;10 MeV Proton Flux</text>
<text x="1138" y="932" font-size="24" text-anchor="middle" transform="rotate(-90 1138 932)">( cm<tspan font-size="16.8" dy="-9.7" dx="-0.4">2</tspan><tspan dy="9.7" dx="5.2">s</tspan><tspan font-size="16.8" dy="-9.7" dx="-0.8">−1</tspan><tspan dy="9.7" dx="5.5">sr</tspan><tspan font-size="16.8" dy="-9.7" dx="-0.1">−1</tspan><tspan dy="9.7" dx="1.6"> )</tspan></text>
<text x="1502.1" y="1065.7" font-size="24" text-anchor="middle" xml:space="preserve">October/November </text>
<text x="1501.8" y="1093.7" font-size="24" text-anchor="middle">2024 (UT)</text>
</g>
</svg>
</body></html>
